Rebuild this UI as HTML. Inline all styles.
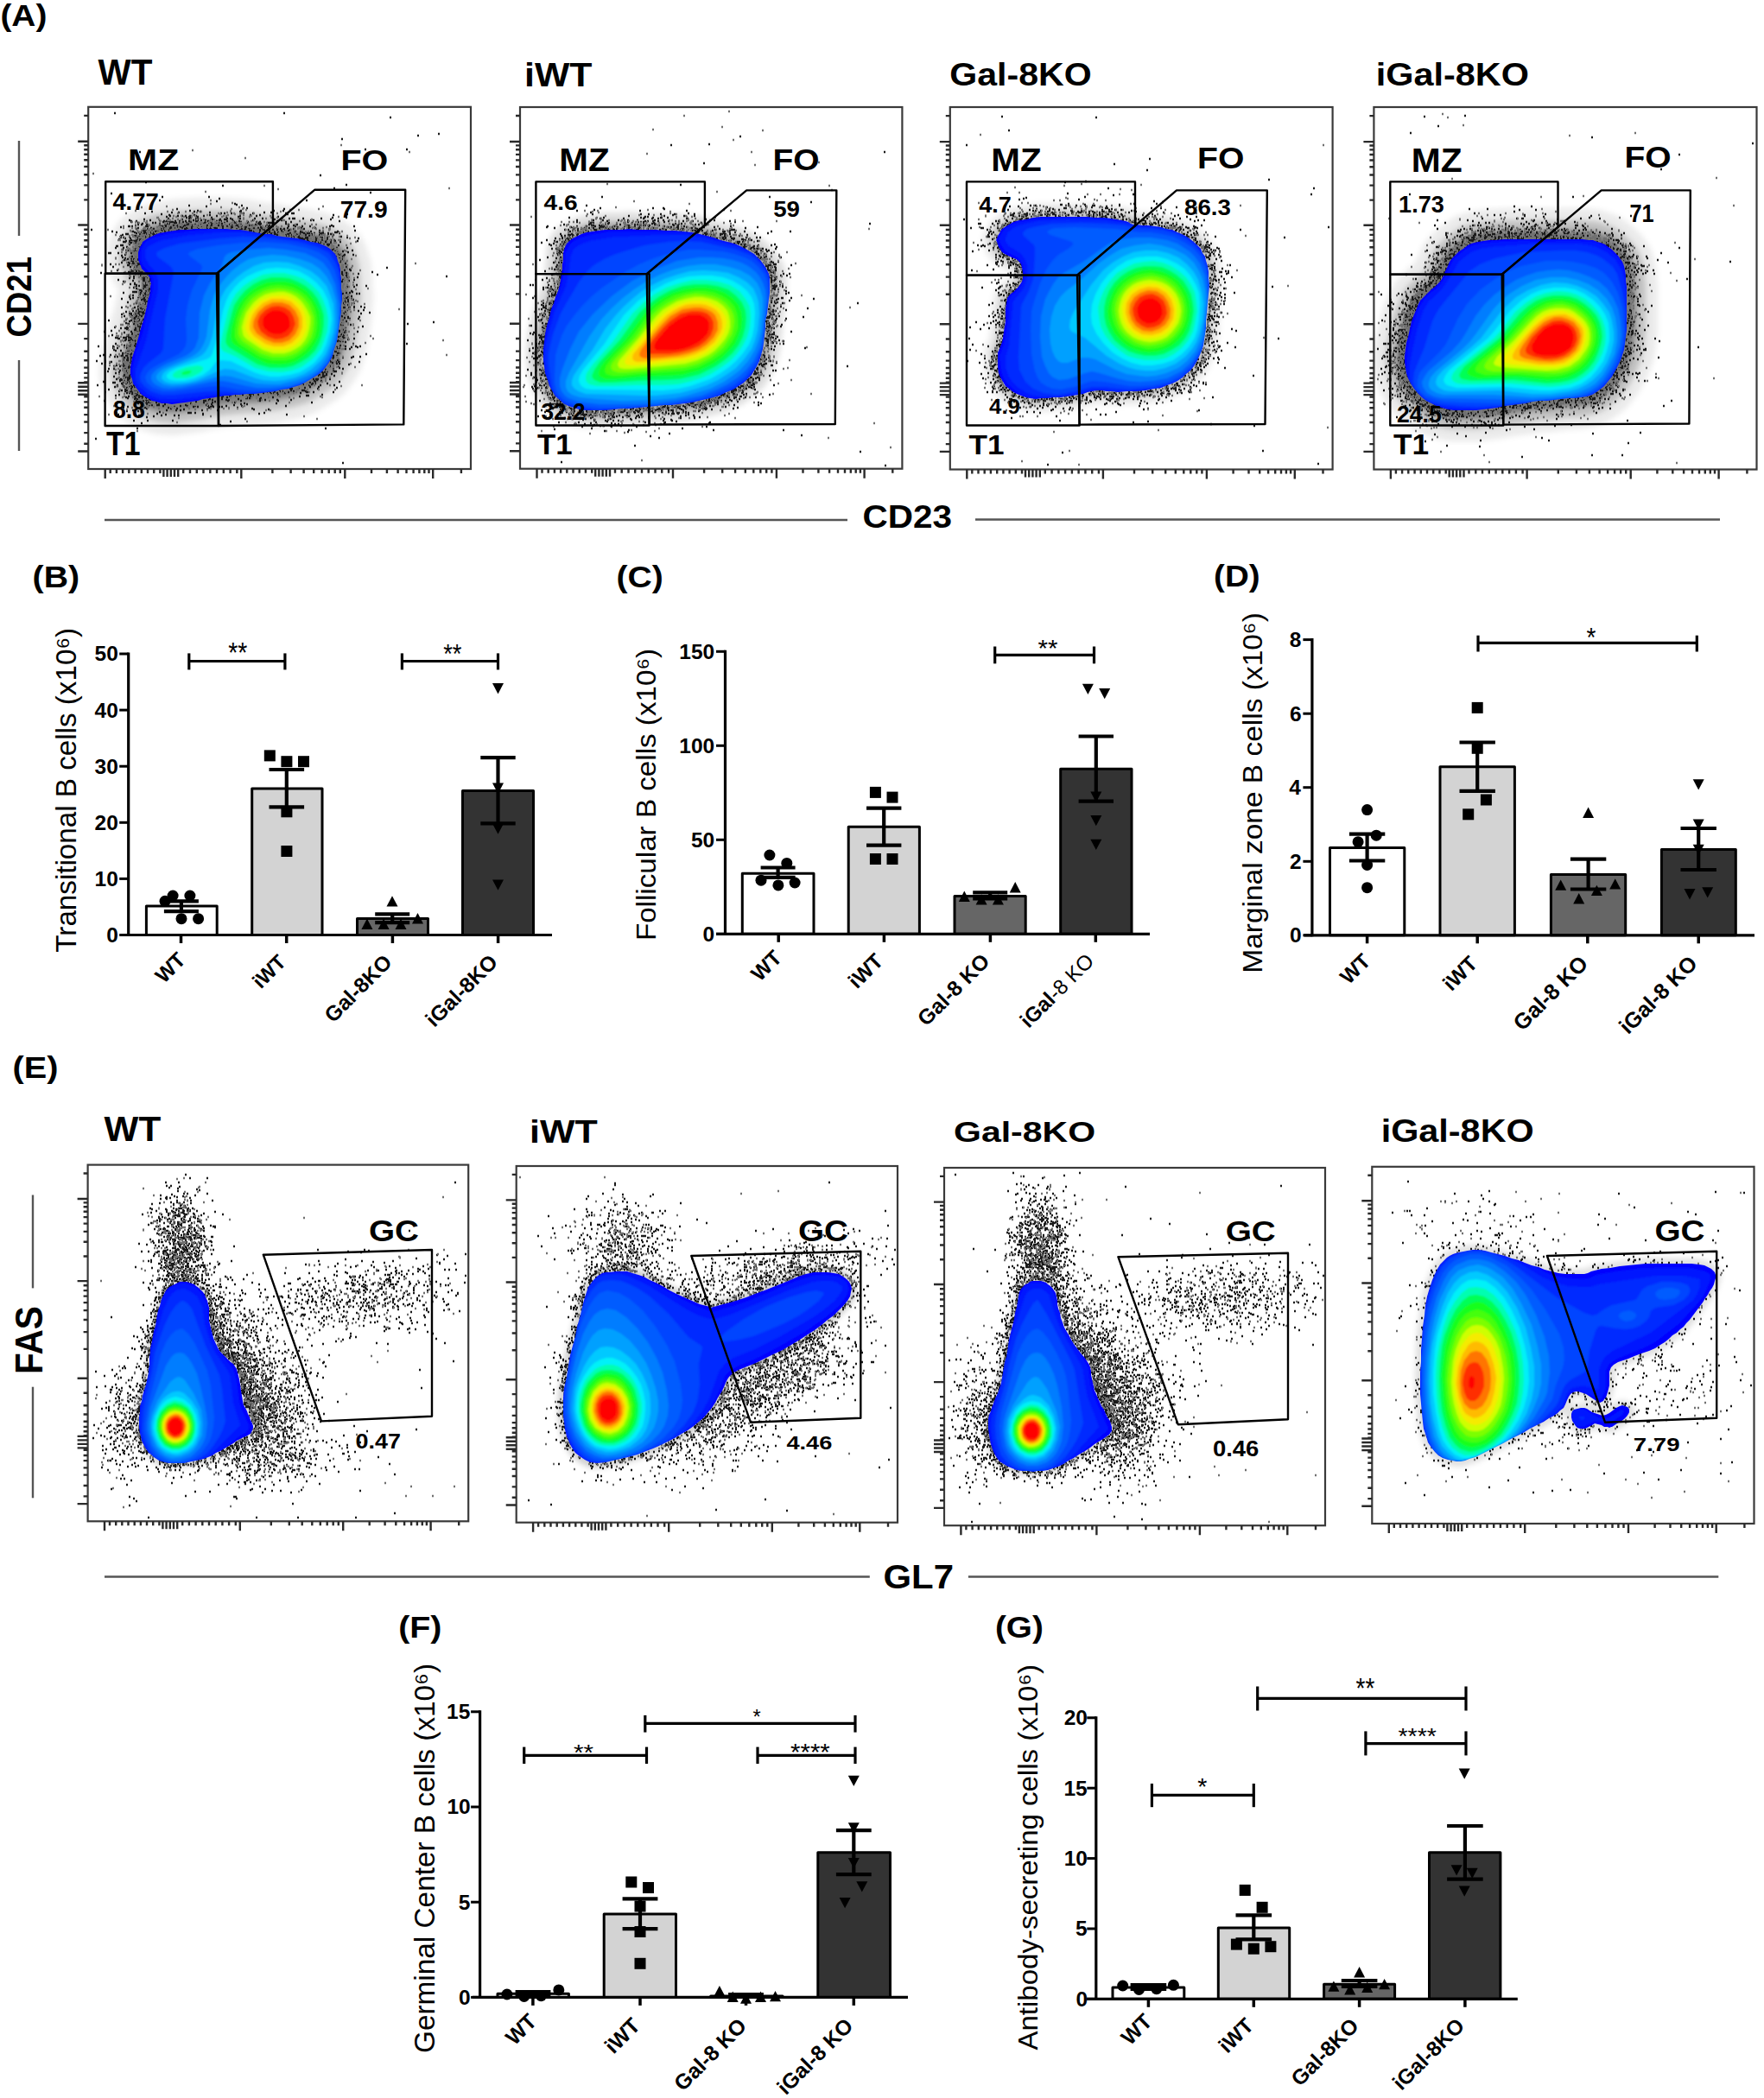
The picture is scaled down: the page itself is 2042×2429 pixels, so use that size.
<!DOCTYPE html>
<html><head><meta charset="utf-8"><title>Figure</title>
<style>html,body{margin:0;padding:0;background:#fff;}svg{display:block;}
text{font-family:"Liberation Sans",Arial,sans-serif;}</style></head>
<body><svg width="2042" height="2429" viewBox="0 0 2042 2429">
<rect width="2042" height="2429" fill="#fff"/>
<text x="0.4" y="30.0" font-size="35.47" font-family='"DejaVu Sans", Verdana, sans-serif' font-weight="bold" fill="#000" textLength="54.0" lengthAdjust="spacingAndGlyphs" >(A)</text>
<text x="37.6" y="680.3" font-size="34.79" font-family='"DejaVu Sans", Verdana, sans-serif' font-weight="bold" fill="#000" textLength="54.5" lengthAdjust="spacingAndGlyphs" >(B)</text>
<text x="713.5" y="680.3" font-size="34.68" font-family='"DejaVu Sans", Verdana, sans-serif' font-weight="bold" fill="#000" textLength="54.3" lengthAdjust="spacingAndGlyphs" >(C)</text>
<text x="1405.1" y="678.6" font-size="35.13" font-family='"DejaVu Sans", Verdana, sans-serif' font-weight="bold" fill="#000" textLength="53.5" lengthAdjust="spacingAndGlyphs" >(D)</text>
<text x="14.5" y="1248.3" font-size="34.79" font-family='"DejaVu Sans", Verdana, sans-serif' font-weight="bold" fill="#000" textLength="52.9" lengthAdjust="spacingAndGlyphs" >(E)</text>
<text x="461.2" y="1896.2" font-size="34.68" font-family='"DejaVu Sans", Verdana, sans-serif' font-weight="bold" fill="#000" textLength="50.3" lengthAdjust="spacingAndGlyphs" >(F)</text>
<text x="1151.9" y="1896.2" font-size="34.68" font-family='"DejaVu Sans", Verdana, sans-serif' font-weight="bold" fill="#000" textLength="55.9" lengthAdjust="spacingAndGlyphs" >(G)</text>
<defs><filter id="bl" x="-10%" y="-10%" width="120%" height="120%"><feGaussianBlur stdDeviation="1.3"/></filter><filter id="bl3" x="-20%" y="-20%" width="140%" height="140%"><feGaussianBlur stdDeviation="3"/></filter></defs>
<defs><path id="oA1" d="M161 289 162 286 164 283 165 280 168 278 171 276 175 274 179 272 184 270 190 269 195 268 202 267 209 266 217 266 226 265 236 265 245 265 254 265 262 265 271 266 278 266 284 267 290 268 295 269 301 270 307 271 314 271 320 273 327 274 335 275 344 276 353 278 360 280 367 281 372 283 377 285 382 288 385 291 388 294 390 298 391 302 393 307 394 312 394 317 395 322 395 328 395 334 396 340 396 347 395 354 395 361 394 368 393 375 392 382 391 388 390 395 388 401 386 407 385 412 383 416 380 421 377 425 373 430 368 434 363 437 358 440 353 443 347 446 340 448 334 450 326 451 319 453 311 454 303 455 294 456 286 456 278 457 272 457 266 458 261 458 255 459 249 460 242 461 235 462 229 464 221 465 214 466 206 467 199 468 193 467 187 467 181 465 176 464 171 461 167 459 163 456 160 452 157 448 154 444 153 439 151 434 151 429 151 425 152 420 153 414 155 408 157 402 159 395 161 388 163 380 166 371 168 363 170 355 171 348 173 342 174 337 174 332 175 328 174 326 174 323 173 321 171 318 169 316 166 313 164 311 163 308 162 306 161 303 160 301 160 298 160 295 160 292Z"/></defs>
<use href="#oA1" fill="none" stroke="#000" stroke-opacity="0.36" stroke-width="20" stroke-linejoin="round" filter="url(#bl3)"/>
<use href="#oA1" fill="none" stroke="#000" stroke-opacity="0.18" stroke-width="44" stroke-linejoin="round" filter="url(#bl3)"/>
<use href="#oA1" fill="none" stroke="#000" stroke-opacity="0.08" stroke-width="72" stroke-linejoin="round" filter="url(#bl3)"/>
<path d="M132 131h2m194 0h2m121 5h2m54 19h2m-26 2h2m-90 4h2m25 12h2m46 0h2m-311 3h2m-5 7h2m210 20h2m-204 8h2m230 3h2m-145 1h2m127 3h2m40 5h2m-302 1h2m57 4h2m52 0h2m10 2h2m-71 2h2m168 0h2m-106 1h2m19 3h2m0 1h2m-57 1h2m59 0h2m-43 1h2m45 2h2m-83 1h2m122 0h2m-111 2h2m7 0h2m48 0h2m36 0h2m9 0h2m-154 1h2m47 0h2m5 0h2m44 0h2m36 0h2m-119 1h2m6 0h2m34 0h2m34 0h2m25 0h2m6 0h2m-148 1h2m86 0h2m2 0h2m6 0h2m12 0h2m9 0h2m36 0h2m5 0h2m0 0h2m-155 1h2m144 0h2m67 0h2m-208 1h2m27 0h2m-2 0h2m16 0h2m45 0h2m9 0h2m83 0h2m-191 1h2m7 0h2m3 0h2m2 0h2m3 0h2m5 0h2m7 0h2m13 0h2m25 0h2m17 0h2m-106 1h2m24 0h2m8 0h2m31 0h2m12 0h2m44 0h2m-108 1h2m3 0h2m6 0h2m14 0h2m138 0h2m14 0h2m-208 1h2m22 0h2m6 0h2m0 0h2m32 0h2m2 0h2m9 0h2m2 0h2m11 0h2m7 0h2m-2 0h2m10 0h2m17 0h2m2 0h2m-2 0h2m0 0h2m8 0h2m19 0h2m-207 1h2m42 0h2m14 0h2m17 0h2m7 0h2m3 0h2m0 0h2m5 0h2m47 0h2m63 0h2m-235 1h2m22 0h2m48 0h2m3 0h2m2 0h2m3 0h2m14 0h2m37 0h2m31 0h2m32 0h2m1 0h2m-213 1h2m4 0h2m25 0h2m3 0h2m1 0h2m-2 0h2m8 0h2m3 0h2m5 0h2m2 0h2m6 0h2m-1 0h2m11 0h2m-2 0h2m8 0h2m3 0h2m5 0h2m5 0h2m5 0h2m42 0h2m70 0h2m-243 1h2m16 0h2m17 0h2m0 0h2m2 0h2m0 0h2m-1 0h2m0 0h2m10 0h2m7 0h2m15 0h2m11 0h2m18 0h2m6 0h2m6 0h2m8 0h2m2 0h2m14 0h2m12 0h2m4 0h2m-179 1h2m15 0h2m1 0h2m3 0h2m15 0h2m-1 0h2m-1 0h2m2 0h2m6 0h2m13 0h2m4 0h2m3 0h2m0 0h2m0 0h2m6 0h2m4 0h2m11 0h2m12 0h2m11 0h2m8 0h2m-1 0h2m0 0h2m-1 0h2m-151 1h2m27 0h2m0 0h2m21 0h2m9 0h2m0 0h2m2 0h2m13 0h2m4 0h2m13 0h2m4 0h2m8 0h2m9 0h2m1 0h2m27 0h2m-173 1h2m2 0h2m-2 0h2m4 0h2m44 0h2m0 0h2m6 0h2m3 0h2m12 0h2m4 0h2m-2 0h2m13 0h2m1 0h2m6 0h2m0 0h2m15 0h2m3 0h2m-2 0h2m31 0h2m8 0h2m-189 1h2m26 0h2m4 0h2m-1 0h2m6 0h2m-1 0h2m3 0h2m-1 0h2m5 0h2m7 0h2m-2 0h2m-2 0h2m15 0h2m2 0h2m0 0h2m-1 0h2m4 0h2m11 0h2m-2 0h2m-2 0h2m5 0h2m0 0h2m12 0h2m1 0h2m15 0h2m1 0h2m26 0h2m42 0h2m-237 1h2m-1 0h2m1 0h2m14 0h2m0 0h2m13 0h2m0 0h2m2 0h2m8 0h2m0 0h2m6 0h2m9 0h2m-2 0h2m5 0h2m-2 0h2m4 0h2m1 0h2m-2 0h2m14 0h2m0 0h2m-1 0h2m3 0h2m2 0h2m4 0h2m1 0h2m2 0h2m-2 0h2m7 0h2m17 0h2m1 0h2m2 0h2m-1 0h2m16 0h2m6 0h2m6 0h2m7 0h2m21 0h2m2 0h2m22 0h2m-272 1h2m48 0h2m5 0h2m0 0h2m4 0h2m2 0h2m11 0h2m-2 0h2m0 0h2m-1 0h2m-1 0h2m6 0h2m3 0h2m6 0h2m-2 0h2m20 0h2m13 0h2m-1 0h2m2 0h2m1 0h2m-2 0h2m8 0h2m-144 1h2m5 0h2m6 0h2m10 0h2m7 0h2m-1 0h2m-1 0h2m3 0h2m-2 0h2m-2 0h2m-1 0h2m1 0h2m2 0h2m3 0h2m0 0h2m-1 0h2m1 0h2m2 0h2m0 0h2m-2 0h2m0 0h2m1 0h2m5 0h2m1 0h2m4 0h2m-1 0h2m-1 0h2m5 0h2m-2 0h2m4 0h2m-1 0h2m-2 0h2m0 0h2m-2 0h2m5 0h2m1 0h2m-1 0h2m4 0h2m3 0h2m3 0h2m3 0h2m2 0h2m5 0h2m10 0h2m9 0h2m10 0h2m1 0h2m-1 0h2m14 0h2m-209 1h2m11 0h2m-2 0h2m2 0h2m1 0h2m-2 0h2m10 0h2m3 0h2m10 0h2m-1 0h2m4 0h2m-1 0h2m7 0h2m7 0h2m2 0h2m5 0h2m31 0h2m1 0h2m-2 0h2m1 0h2m0 0h2m1 0h2m22 0h2m7 0h2m2 0h2m2 0h2m9 0h2m10 0h2m28 0h2m-278 1h2m65 0h2m-2 0h2m1 0h2m14 0h2m11 0h2m-2 0h2m-2 0h2m0 0h2m0 0h2m67 0h2m19 0h2m0 0h2m1 0h2m-1 0h2m-1 0h2m8 0h2m3 0h2m5 0h2m-1 0h2m5 0h2m43 0h2m-217 1h2m-1 0h2m-1 0h2m0 0h2m1 0h2m2 0h2m-2 0h2m4 0h2m0 0h2m-1 0h2m-1 0h2m2 0h2m1 0h2m0 0h2m-1 0h2m-1 0h2m4 0h2m83 0h2m-1 0h2m-1 0h2m-2 0h2m8 0h2m-2 0h2m1 0h2m0 0h2m1 0h2m15 0h2m6 0h2m34 0h2m39 0h2m-283 1h2m22 0h2m8 0h2m2 0h2m0 0h2m-1 0h2m7 0h2m0 0h2m0 0h2m1 0h2m-1 0h2m1 0h2m-1 0h2m100 0h2m-1 0h2m15 0h2m0 0h2m1 0h2m8 0h2m-1 0h2m12 0h2m-2 0h2m4 0h2m10 0h2m29 0h2m-258 1h2m19 0h2m3 0h2m1 0h2m-2 0h2m0 0h2m1 0h2m3 0h2m-1 0h2m0 0h2m1 0h2m3 0h2m-2 0h2m1 0h2m110 0h2m-2 0h2m2 0h2m0 0h2m1 0h2m0 0h2m0 0h2m-1 0h2m-2 0h2m-2 0h2m2 0h2m2 0h2m8 0h2m8 0h2m-1 0h2m3 0h2m0 0h2m2 0h2m14 0h2m2 0h2m12 0h2m0 0h2m-234 1h2m6 0h2m-1 0h2m4 0h2m-1 0h2m-2 0h2m-2 0h2m-2 0h2m1 0h2m1 0h2m-1 0h2m2 0h2m0 0h2m116 0h2m8 0h2m1 0h2m16 0h2m-2 0h2m10 0h2m2 0h2m-1 0h2m1 0h2m0 0h2m4 0h2m-2 0h2m5 0h2m0 0h2m5 0h2m11 0h2m-249 1h2m0 0h2m12 0h2m6 0h2m0 0h2m-1 0h2m-1 0h2m0 0h2m-1 0h2m0 0h2m-1 0h2m128 0h2m2 0h2m1 0h2m0 0h2m10 0h2m0 0h2m-1 0h2m7 0h2m2 0h2m12 0h2m11 0h2m-2 0h2m4 0h2m1 0h2m-1 0h2m-244 1h2m29 0h2m-2 0h2m-2 0h2m-1 0h2m-2 0h2m-2 0h2m1 0h2m-2 0h2m142 0h2m12 0h2m0 0h2m5 0h2m1 0h2m5 0h2m4 0h2m-1 0h2m7 0h2m1 0h2m1 0h2m8 0h2m-248 1h2m13 0h2m0 0h2m7 0h2m-2 0h2m2 0h2m4 0h2m154 0h2m0 0h2m6 0h2m14 0h2m-210 1h2m9 0h2m0 0h2m2 0h2m0 0h2m-2 0h2m-1 0h2m1 0h2m165 0h2m3 0h2m-1 0h2m-2 0h2m23 0h2m0 0h2m4 0h2m4 0h2m8 0h2m-257 1h2m1 0h2m14 0h2m1 0h2m0 0h2m-2 0h2m0 0h2m2 0h2m166 0h2m0 0h2m4 0h2m-1 0h2m5 0h2m0 0h2m7 0h2m-2 0h2m-2 0h2m0 0h2m4 0h2m-2 0h2m27 0h2m-259 1h2m4 0h2m11 0h2m-1 0h2m-1 0h2m-1 0h2m-1 0h2m0 0h2m175 0h2m0 0h2m-1 0h2m2 0h2m-2 0h2m-2 0h2m-1 0h2m0 0h2m-2 0h2m-1 0h2m19 0h2m34 0h2m-279 1h2m18 0h2m-1 0h2m-2 0h2m1 0h2m-1 0h2m2 0h2m181 0h2m0 0h2m-2 0h2m5 0h2m-1 0h2m4 0h2m-2 0h2m-216 1h2m5 0h2m1 0h2m192 0h2m0 0h2m3 0h2m1 0h2m0 0h2m3 0h2m4 0h2m2 0h2m2 0h2m-243 1h2m2 0h2m2 0h2m-1 0h2m-1 0h2m-1 0h2m-1 0h2m6 0h2m-2 0h2m190 0h2m2 0h2m14 0h2m8 0h2m24 0h2m-273 1h2m0 0h2m11 0h2m6 0h2m197 0h2m4 0h2m1 0h2m0 0h2m-1 0h2m4 0h2m9 0h2m-246 1h2m0 0h2m215 0h2m0 0h2m2 0h2m6 0h2m-228 1h2m0 0h2m4 0h2m208 0h2m-227 1h2m9 0h2m0 0h2m-2 0h2m214 0h2m0 0h2m-243 1h2m0 0h2m15 0h2m-2 0h2m0 0h2m217 0h2m10 0h2m-259 1h2m-1 0h2m25 0h2m-2 0h2m-18 1h2m12 0h2m0 0h2m221 0h2m-2 0h2m-254 1h2m7 0h2m-2 0h2m16 0h2m-1 0h2m220 0h2m4 0h2m10 0h2m-247 1h2m1 0h2m0 0h2m222 0h2m-246 1h2m11 0h2m-1 0h2m-1 0h2m-2 0h2m-2 0h2m0 0h2m224 0h2m-241 1h2m0 0h2m6 0h2m1 0h2m-2 0h2m1 0h2m244 0h2m-256 1h2m2 0h2m-2 0h2m228 0h2m7 0h2m-253 1h2m12 0h2m-1 0h2m225 0h2m1 0h2m10 0h2m-279 1h2m0 0h2m7 0h2m13 0h2m1 0h2m3 0h2m229 0h2m-235 1h2m230 0h2m-1 0h2m-248 1h2m11 0h2m234 0h2m-1 0h2m2 0h2m8 0h2m-270 1h2m15 0h2m-1 0h2m229 0h2m1 0h2m3 0h2m-247 1h2m5 0h2m235 0h2m-257 1h2m249 0h2m-261 1h2m9 0h2m10 0h2m-1 0h2m-1 0h2m-1 0h2m-2 0h2m-1 0h2m-15 1h2m2 0h2m1 0h2m4 0h2m233 0h2m-254 1h2m6 0h2m3 0h2m-1 0h2m-1 0h2m-9 1h2m2 0h2m0 0h2m-1 0h2m-1 0h2m232 0h2m-242 1h2m-1 0h2m237 0h2m-255 1h2m6 0h2m3 0h2m3 0h2m-1 0h2m-1 0h2m-13 1h2m3 0h2m-2 0h2m243 0h2m-274 1h2m23 0h2m5 0h2m-1 0h2m-45 1h2m28 0h2m-1 0h2m5 0h2m-2 0h2m-1 0h2m-1 0h2m-1 0h2m-2 0h2m1 0h2m-5 1h2m236 0h2m-268 1h2m18 0h2m11 0h2m-2 0h2m235 0h2m-247 1h2m-1 0h2m-2 0h2m0 0h2m-1 0h2m1 0h2m231 0h2m50 0h2m-291 1h2m-1 0h2m-1 0h2m-2 0h2m-1 0h2m-1 0h2m-1 0h2m-2 0h2m-1 0h2m-11 1h2m247 0h2m-271 1h2m14 0h2m245 0h2m5 0h2m-256 1h2m0 0h2m2 0h2m1 0h2m2 0h2m0 0h2m-20 1h2m0 0h2m9 0h2m0 0h2m-1 0h2m0 0h2m227 0h2m33 0h2m-316 1h2m25 0h2m10 0h2m6 0h2m-1 0h2m-2 0h2m1 0h2m-2 0h2m-1 0h2m-2 0h2m230 0h2m-243 1h2m1 0h2m5 0h2m-2 0h2m224 0h2m4 0h2m-2 0h2m11 0h2m-254 1h2m5 0h2m-2 0h2m-2 0h2m-1 0h2m224 0h2m38 0h2m-276 1h2m1 0h2m-2 0h2m1 0h2m-2 0h2m0 0h2m228 0h2m-252 1h2m2 0h2m12 0h2m-2 0h2m-1 0h2m345 0h2m-353 1h2m2 0h2m-2 0h2m230 0h2m10 0h2m-266 1h2m3 0h2m8 0h2m-1 0h2m-1 0h2m5 1h2m223 0h2m-264 1h2m27 0h2m0 0h2m1 0h2m224 0h2m11 0h2m-258 1h2m-2 0h2m10 0h2m-1 0h2m4 0h2m0 0h2m227 0h2m-263 1h2m24 0h2m1 0h2m222 0h2m-229 1h2m-15 1h2m16 0h2m-1 0h2m-26 1h2m3 0h2m11 0h2m-13 1h2m6 0h2m2 0h2m-2 0h2m241 0h2m-257 1h2m1 0h2m5 0h2m3 0h2m249 0h2m-259 1h2m-1 0h2m2 0h2m228 0h2m6 0h2m-257 1h2m9 0h2m4 0h2m0 0h2m-18 1h2m6 0h2m2 0h2m0 0h2m0 0h2m-7 1h2m1 0h2m-1 0h2m-13 1h2m-1 0h2m4 0h2m1 0h2m-1 0h2m-11 1h2m4 0h2m-2 0h2m0 0h2m233 0h2m-255 1h2m0 0h2m0 0h2m10 0h2m236 0h2m-267 1h2m17 0h2m-1 0h2m4 0h2m-1 0h2m0 0h2m-1 0h2m226 0h2m2 0h2m-245 1h2m2 0h2m0 0h2m0 0h2m-1 0h2m224 0h2m14 0h2m1 0h2m-256 1h2m5 0h2m-1 0h2m0 0h2m-23 1h2m1 0h2m10 0h2m-18 1h2m255 0h2m-259 1h2m17 0h2m228 0h2m2 0h2m-251 1h2m4 0h2m5 0h2m0 0h2m-2 0h2m0 0h2m228 0h2m-262 1h2m8 0h2m13 0h2m2 0h2m0 0h2m-2 0h2m-2 0h2m224 0h2m7 0h2m-245 1h2m1 0h2m-2 0h2m-1 0h2m-2 0h2m-1 0h2m232 0h2m4 0h2m-241 1h2m227 0h2m-234 1h2m1 0h2m-1 0h2m226 0h2m2 0h2m-257 1h2m17 0h2m-1 0h2m1 0h2m226 0h2m-1 0h2m-244 1h2m6 0h2m230 0h2m-2 0h2m-2 0h2m10 0h2m-251 1h2m-1 0h2m-2 0h2m3 0h2m-1 0h2m0 0h2m-2 0h2m-2 0h2m-1 0h2m226 0h2m3 0h2m-238 1h2m233 0h2m-241 1h2m-1 0h2m-7 1h2m6 0h2m-1 0h2m-2 0h2m239 0h2m6 0h2m-279 1h2m13 0h2m-2 0h2m11 0h2m227 0h2m-1 0h2m3 0h2m-1 0h2m-2 0h2m3 0h2m10 0h2m-261 1h2m2 0h2m-1 0h2m235 0h2m-247 1h2m2 0h2m-1 0h2m-4 1h2m3 0h2m232 0h2m17 0h2m-269 1h2m2 0h2m0 0h2m5 0h2m-2 0h2m246 0h2m-271 1h2m13 0h2m0 0h2m1 0h2m-1 0h2m-2 0h2m0 0h2m225 0h2m2 0h2m-238 1h2m0 0h2m-1 0h2m-1 0h2m-2 0h2m258 0h2m-280 1h2m0 0h2m3 0h2m-2 0h2m1 0h2m1 0h2m233 0h2m18 0h2m-279 1h2m7 0h2m0 0h2m3 0h2m2 0h2m3 0h2m-8 1h2m5 0h2m-25 1h2m7 0h2m3 0h2m1 0h2m0 0h2m-1 0h2m-2 0h2m230 0h2m-241 1h2m8 0h2m234 0h2m11 0h2m-265 1h2m0 0h2m242 0h2m2 0h2m-249 1h2m1 0h2m-1 0h2m234 0h2m7 0h2m8 0h2m-271 1h2m11 0h2m0 0h2m3 0h2m-1 0h2m227 0h2m-272 1h2m24 0h2m7 0h2m-2 0h2m-1 0h2m-2 0h2m-2 0h2m233 0h2m-249 1h2m4 0h2m4 0h2m0 0h2m235 0h2m-244 1h2m2 0h2m0 0h2m229 0h2m104 0h2m-358 1h2m-2 0h2m10 0h2m-1 0h2m-1 0h2m-2 0h2m-14 1h2m-1 0h2m4 0h2m5 0h2m-1 0h2m0 0h2m236 0h2m67 0h2m-317 1h2m1 0h2m3 0h2m228 0h2m0 0h2m7 0h2m1 0h2m-251 1h2m-1 1h2m-1 0h2m256 0h2m-289 1h2m12 0h2m11 0h2m-1 0h2m-1 0h2m-24 1h2m3 0h2m0 0h2m-1 0h2m7 0h2m1 0h2m0 0h2m236 0h2m-255 1h2m8 0h2m2 0h2m0 0h2m-9 1h2m-1 0h2m-2 0h2m1 0h2m-1 0h2m0 0h2m232 0h2m-270 1h2m28 0h2m232 0h2m5 0h2m-281 1h2m29 0h2m5 0h2m1 0h2m-2 0h2m229 0h2m2 0h2m1 0h2m-1 0h2m11 0h2m-272 1h2m14 0h2m237 0h2m-248 1h2m-2 1h2m240 0h2m2 0h2m-271 1h2m17 0h2m9 0h2m236 0h2m-253 1h2m0 0h2m7 0h2m-1 0h2m-6 1h2m-2 0h2m-1 0h2m3 0h2m-2 0h2m229 0h2m0 0h2m1 0h2m-265 1h2m0 0h2m5 0h2m0 0h2m-1 0h2m1 0h2m0 0h2m2 0h2m-2 0h2m0 0h2m239 0h2m-263 1h2m-1 0h2m12 0h2m2 0h2m245 0h2m5 0h2m-266 1h2m4 0h2m3 0h2m-2 0h2m0 0h2m-1 0h2m241 0h2m-260 1h2m2 0h2m0 0h2m0 0h2m2 0h2m0 0h2m231 0h2m-254 1h2m10 0h2m0 0h2m0 0h2m2 0h2m229 0h2m1 0h2m1 0h2m-244 1h2m2 0h2m239 0h2m-251 1h2m6 0h2m-27 1h2m14 0h2m-1 0h2m3 0h2m-2 0h2m-1 0h2m250 0h2m60 0h2m-329 2h2m1 0h2m7 0h2m-2 0h2m236 0h2m-282 1h2m15 0h2m15 0h2m-1 0h2m-1 0h2m-1 0h2m4 0h2m241 0h2m10 0h2m3 0h2m-287 1h2m16 0h2m238 0h2m15 0h2m5 0h2m-285 1h2m3 0h2m9 0h2m242 0h2m-2 0h2m0 0h2m-245 1h2m248 0h2m3 0h2m-275 1h2m17 0h2m239 0h2m-260 1h2m4 0h2m10 0h2m-6 1h2m-1 0h2m2 0h2m0 0h2m231 0h2m-1 0h2m-245 1h2m-2 0h2m1 0h2m2 0h2m-13 1h2m4 0h2m4 0h2m-1 0h2m234 0h2m-1 0h2m-242 1h2m270 0h2m-306 1h2m6 0h2m12 0h2m-2 0h2m7 0h2m-1 0h2m0 0h2m-40 1h2m23 0h2m3 0h2m-1 0h2m0 0h2m1 0h2m-1 0h2m231 0h2m2 0h2m-259 1h2m1 0h2m4 0h2m3 0h2m2 0h2m1 0h2m253 0h2m6 0h2m-276 1h2m-2 0h2m-1 0h2m0 0h2m-1 0h2m0 0h2m2 0h2m231 0h2m-2 0h2m9 0h2m8 0h2m-260 1h2m0 0h2m232 0h2m-244 1h2m3 0h2m0 0h2m-9 1h2m2 0h2m-1 0h2m1 0h2m238 0h2m-281 1h2m8 0h2m18 0h2m8 0h2m-2 0h2m-2 0h2m229 0h2m8 0h2m-2 0h2m-273 1h2m5 0h2m252 0h2m4 0h2m1 0h2m22 0h2m-291 1h2m16 0h2m0 0h2m-1 0h2m0 0h2m233 0h2m-269 1h2m23 0h2m5 0h2m0 0h2m236 0h2m1 0h2m-2 0h2m-251 1h2m4 0h2m252 0h2m-271 1h2m7 0h2m4 0h2m-20 1h2m5 0h2m2 0h2m7 0h2m228 0h2m8 0h2m-245 1h2m-1 0h2m-1 0h2m-3 1h2m-2 0h2m-2 0h2m234 0h2m5 0h2m-269 1h2m4 0h2m11 0h2m2 0h2m-1 0h2m245 0h2m-257 1h2m0 0h2m-1 0h2m230 0h2m-240 1h2m6 0h2m237 0h2m-263 1h2m20 0h2m0 0h2m-1 0h2m227 0h2m6 0h2m0 0h2m-253 1h2m8 0h2m-2 0h2m1 0h2m220 0h2m1 0h2m-244 1h2m9 0h2m-1 0h2m1 0h2m-2 0h2m-1 0h2m0 0h2m221 0h2m19 0h2m-249 1h2m-2 0h2m-2 0h2m0 0h2m219 0h2m-1 0h2m3 0h2m4 0h2m-242 1h2m1 0h2m2 0h2m217 0h2m-1 0h2m1 0h2m2 0h2m-231 1h2m-1 0h2m0 0h2m215 0h2m0 0h2m3 0h2m9 0h2m-257 1h2m9 0h2m-1 0h2m1 0h2m224 0h2m0 0h2m-233 1h2m-1 0h2m2 0h2m-1 0h2m-2 0h2m-1 0h2m0 0h2m217 0h2m-226 1h2m0 0h2m0 0h2m-2 0h2m-2 0h2m-1 0h2m227 0h2m-249 1h2m3 0h2m7 0h2m-2 0h2m212 0h2m1 0h2m0 0h2m12 0h2m-245 1h2m0 0h2m1 0h2m2 0h2m217 0h2m-230 1h2m223 0h2m6 0h2m-254 1h2m28 0h2m-2 0h2m0 0h2m211 0h2m26 0h2m-264 1h2m0 0h2m8 0h2m2 0h2m2 0h2m206 0h2m-220 1h2m3 0h2m3 0h2m-2 0h2m205 0h2m2 0h2m1 0h2m12 0h2m-30 1h2m7 0h2m-1 0h2m1 0h2m-253 1h2m21 0h2m4 0h2m6 0h2m0 0h2m-2 0h2m1 0h2m-1 0h2m200 0h2m11 0h2m14 0h2m-254 1h2m-1 0h2m5 0h2m5 0h2m-19 1h2m9 0h2m7 0h2m-2 0h2m1 0h2m-1 0h2m200 0h2m8 0h2m-224 1h2m188 0h2m7 0h2m5 0h2m35 0h2m-240 1h2m182 0h2m0 0h2m28 0h2m-244 1h2m17 0h2m10 0h2m-2 0h2m-1 0h2m-1 0h2m-20 1h2m4 0h2m9 0h2m177 0h2m11 0h2m0 0h2m-216 1h2m5 0h2m5 0h2m2 0h2m166 0h2m1 0h2m11 0h2m12 0h2m-206 1h2m1 0h2m-1 0h2m0 0h2m-1 0h2m-1 0h2m0 0h2m-1 0h2m-1 0h2m146 0h2m0 0h2m4 0h2m14 0h2m19 0h2m-1 0h2m5 0h2m21 0h2m-241 1h2m1 0h2m5 0h2m3 0h2m141 0h2m7 0h2m1 0h2m2 0h2m7 0h2m16 0h2m-197 1h2m8 0h2m-27 1h2m16 0h2m1 0h2m-1 0h2m0 0h2m-1 0h2m116 0h2m6 0h2m0 0h2m0 0h2m4 0h2m21 0h2m49 0h2m-241 1h2m22 0h2m1 0h2m-1 0h2m109 0h2m12 0h2m66 0h2m0 0h2m-210 1h2m5 0h2m4 0h2m-2 0h2m-1 0h2m0 0h2m91 0h2m-2 0h2m6 0h2m-1 0h2m17 0h2m2 0h2m55 0h2m-203 1h2m12 0h2m-1 0h2m-2 0h2m3 0h2m1 0h2m86 0h2m4 0h2m51 0h2m-170 1h2m7 0h2m-1 0h2m5 0h2m3 0h2m-1 0h2m-2 0h2m112 0h2m-1 0h2m1 0h2m11 0h2m-148 1h2m1 0h2m11 0h2m69 0h2m12 0h2m17 0h2m23 0h2m-137 1h2m3 0h2m1 0h2m65 0h2m3 0h2m14 0h2m1 0h2m40 0h2m12 0h2m14 0h2m-218 1h2m35 0h2m6 0h2m1 0h2m65 0h2m0 0h2m24 0h2m13 0h2m20 0h2m19 0h2m-163 1h2m1 0h2m61 0h2m20 0h2m-115 1h2m25 0h2m4 0h2m1 0h2m1 0h2m4 0h2m53 0h2m8 0h2m24 0h2m87 0h2m-203 1h2m3 0h2m-1 0h2m3 0h2m0 0h2m1 0h2m43 0h2m60 0h2m35 0h2m-180 1h2m26 0h2m-1 0h2m11 0h2m5 0h2m47 0h2m-2 0h2m3 0h2m32 0h2m5 0h2m-115 1h2m1 0h2m4 0h2m0 0h2m29 0h2m22 0h2m30 0h2m-84 1h2m18 0h2m-2 0h2m6 0h2m-2 0h2m7 0h2m13 0h2m3 0h2m14 0h2m16 0h2m49 0h2m-185 1h2m52 0h2m20 0h2m3 0h2m13 0h2m1 0h2m5 0h2m1 0h2m-116 1h2m18 0h2m3 0h2m25 0h2m45 0h2m31 0h2m-107 1h2m26 0h2m5 0h2m85 0h2m-81 1h2m25 0h2m52 0h2m15 0h2m-159 1h2m37 0h2m9 0h2m3 0h2m23 0h2m16 0h2m-107 1h2m11 0h2m1 0h2m20 1h2m-52 1h2m81 0h2m-1 0h2m0 0h2m3 0h2m78 0h2m-126 1h2m51 0h2m63 0h2m-165 1h2m53 0h2m41 0h2m95 0h2m-173 1h2m0 0h2m22 0h2m13 0h2m3 0h2m-31 1h2m-10 1h2m112 2h2m-131 2h2m14 0h2m27 0h2m51 1h2m12 0h2m-105 2h2m89 2h2m-98 4h2m216 0h2m-226 7h2m-44 5h2m284 28h2" stroke="#1a1a1a" stroke-width="2.5" fill="none"/><path d="M394 168h2m-174 6h2m249 2h2m-278 5h2m84 2h2m-178 18h2m196 14h2m212 3h2m-200 1h2m-86 3h2m4 10h2m23 3h2m-27 1h2m55 2h2m-110 1h2m179 0h2m-212 1h2m90 0h2m19 0h2m3 1h2m-16 1h2m11 0h2m86 0h2m-171 1h2m83 0h2m49 0h2m8 0h2m-191 1h2m108 0h2m-75 1h2m19 0h2m16 0h2m32 0h2m56 0h2m-99 1h2m33 0h2m-119 1h2m58 0h2m15 0h2m28 0h2m16 0h2m6 0h2m0 0h2m11 0h2m25 0h2m-68 1h2m15 0h2m4 0h2m-40 1h2m22 0h2m16 0h2m-83 1h2m7 0h2m10 0h2m2 0h2m31 0h2m1 0h2m27 0h2m20 0h2m-111 1h2m7 0h2m7 0h2m-2 0h2m33 0h2m30 0h2m101 0h2m-212 1h2m-1 0h2m129 0h2m5 0h2m-123 1h2m30 0h2m42 0h2m4 0h2m24 0h2m16 0h2m-144 1h2m8 0h2m10 0h2m2 0h2m16 0h2m6 0h2m6 0h2m2 0h2m77 0h2m32 0h2m-169 1h2m1 0h2m22 0h2m71 0h2m32 0h2m-1 0h2m-164 1h2m1 0h2m14 0h2m51 0h2m2 0h2m41 0h2m3 0h2m24 0h2m28 0h2m-2 0h2m-196 1h2m2 0h2m11 0h2m13 0h2m22 0h2m-2 0h2m20 0h2m9 0h2m2 0h2m1 0h2m0 0h2m2 0h2m-2 0h2m13 0h2m2 0h2m22 0h2m6 0h2m-147 1h2m6 0h2m20 0h2m2 0h2m12 0h2m21 0h2m0 0h2m32 0h2m9 0h2m28 0h2m-101 1h2m3 0h2m3 0h2m8 0h2m2 0h2m7 0h2m4 0h2m4 0h2m3 0h2m7 0h2m-2 0h2m6 0h2m6 0h2m1 0h2m63 0h2m-198 1h2m13 0h2m33 0h2m-2 0h2m2 0h2m7 0h2m-1 0h2m8 0h2m3 0h2m-1 0h2m-2 0h2m4 0h2m2 0h2m-1 0h2m0 0h2m-2 0h2m-1 0h2m8 0h2m4 0h2m3 0h2m59 0h2m7 0h2m17 0h2m3 0h2m-195 1h2m20 0h2m-2 0h2m2 0h2m6 0h2m2 0h2m11 0h2m0 0h2m0 0h2m8 0h2m15 0h2m20 0h2m0 0h2m6 0h2m4 0h2m-1 0h2m2 0h2m-157 1h2m39 0h2m-1 0h2m3 0h2m4 0h2m5 0h2m13 0h2m-1 0h2m-1 0h2m3 0h2m4 0h2m2 0h2m0 0h2m8 0h2m-2 0h2m2 0h2m13 0h2m25 0h2m-2 0h2m0 0h2m7 0h2m3 0h2m9 0h2m4 0h2m-146 1h2m-2 0h2m3 0h2m6 0h2m3 0h2m-1 0h2m1 0h2m12 0h2m-1 0h2m4 0h2m-2 0h2m-1 0h2m2 0h2m3 0h2m-1 0h2m0 0h2m1 0h2m-1 0h2m2 0h2m7 0h2m-1 0h2m14 0h2m0 0h2m5 0h2m-2 0h2m6 0h2m1 0h2m53 0h2m15 0h2m12 0h2m-237 1h2m-2 0h2m8 0h2m2 0h2m8 0h2m-1 0h2m25 0h2m3 0h2m5 0h2m15 0h2m0 0h2m-1 0h2m4 0h2m28 0h2m0 0h2m-2 0h2m-1 0h2m10 0h2m2 0h2m21 0h2m0 0h2m13 0h2m21 0h2m-1 0h2m14 0h2m10 0h2m-210 1h2m0 0h2m2 0h2m2 0h2m13 0h2m-1 0h2m6 0h2m2 0h2m-1 0h2m2 0h2m8 0h2m-1 0h2m3 0h2m1 0h2m7 0h2m25 0h2m0 0h2m8 0h2m8 0h2m8 0h2m-1 0h2m11 0h2m-1 0h2m28 0h2m5 0h2m16 0h2m13 0h2m-1 0h2m-259 1h2m32 0h2m13 0h2m7 0h2m0 0h2m5 0h2m0 0h2m3 0h2m0 0h2m0 0h2m6 0h2m74 0h2m7 0h2m1 0h2m36 0h2m11 0h2m29 0h2m-232 1h2m6 0h2m3 0h2m5 0h2m5 0h2m5 0h2m10 0h2m1 0h2m85 0h2m6 0h2m0 0h2m-1 0h2m3 0h2m23 0h2m1 0h2m41 0h2m-224 1h2m6 0h2m8 0h2m1 0h2m1 0h2m8 0h2m5 0h2m-1 0h2m100 0h2m1 0h2m4 0h2m3 0h2m2 0h2m0 0h2m22 0h2m15 0h2m12 0h2m23 0h2m-236 1h2m1 0h2m4 0h2m3 0h2m4 0h2m0 0h2m2 0h2m113 0h2m-2 0h2m27 0h2m9 0h2m9 0h2m37 0h2m-222 1h2m5 0h2m2 0h2m122 0h2m13 0h2m1 0h2m0 0h2m1 0h2m7 0h2m-178 1h2m5 0h2m138 0h2m-1 0h2m2 0h2m5 0h2m16 0h2m-1 0h2m2 0h2m1 0h2m13 0h2m10 0h2m-2 0h2m7 0h2m-253 1h2m17 0h2m9 0h2m-2 0h2m0 0h2m7 0h2m146 0h2m3 0h2m6 0h2m3 0h2m6 0h2m9 0h2m-2 0h2m12 0h2m9 0h2m-237 1h2m2 0h2m3 0h2m2 0h2m5 0h2m0 0h2m2 0h2m155 0h2m9 0h2m2 0h2m0 0h2m0 0h2m6 0h2m2 0h2m5 0h2m0 0h2m1 0h2m1 0h2m21 0h2m-265 1h2m13 0h2m-1 0h2m10 0h2m-2 0h2m2 0h2m169 0h2m-1 0h2m17 0h2m3 0h2m-1 0h2m6 0h2m3 0h2m10 0h2m-251 1h2m11 0h2m2 0h2m0 0h2m0 0h2m-2 0h2m172 0h2m17 0h2m4 0h2m19 0h2m24 0h2m-255 1h2m5 0h2m-1 0h2m-1 0h2m1 0h2m-1 0h2m203 0h2m27 0h2m-239 1h2m188 0h2m-2 0h2m0 0h2m1 0h2m-1 0h2m2 0h2m-233 1h2m0 0h2m23 0h2m1 0h2m185 0h2m3 0h2m-1 0h2m-1 0h2m-1 0h2m0 0h2m2 0h2m0 0h2m-1 0h2m9 0h2m2 0h2m4 0h2m0 0h2m-236 1h2m1 0h2m1 0h2m211 0h2m-2 0h2m-227 1h2m7 0h2m-1 0h2m-1 0h2m-1 0h2m202 0h2m-2 0h2m1 0h2m0 0h2m35 0h2m-259 1h2m2 0h2m-1 0h2m213 0h2m10 0h2m0 0h2m-242 1h2m4 0h2m7 0h2m240 0h2m-251 1h2m0 0h2m1 0h2m220 0h2m-226 1h2m0 0h2m220 0h2m-2 0h2m15 0h2m-246 1h2m-1 0h2m-1 0h2m223 0h2m-232 1h2m1 0h2m0 0h2m225 0h2m-240 1h2m10 0h2m222 0h2m-1 0h2m-237 1h2m8 0h2m-1 0h2m227 0h2m-251 1h2m12 0h2m1 0h2m2 0h2m-17 1h2m1 0h2m-1 0h2m7 0h2m228 0h2m7 0h2m-255 1h2m3 0h2m0 0h2m5 0h2m239 0h2m-262 1h2m11 0h2m1 0h2m-2 0h2m-1 0h2m1 0h2m225 0h2m2 0h2m-239 1h2m0 0h2m0 0h2m-1 0h2m228 0h2m-246 1h2m7 0h2m1 0h2m-2 1h2m0 0h2m228 0h2m3 0h2m-241 1h2m0 0h2m252 0h2m-263 1h2m-2 0h2m7 0h2m229 0h2m0 0h2m-245 1h2m7 0h2m-1 0h2m236 0h2m-266 1h2m21 0h2m236 0h2m-239 1h2m235 0h2m10 0h2m-263 1h2m3 0h2m3 0h2m0 0h2m-18 1h2m249 0h2m3 0h2m2 0h2m-248 1h2m1 0h2m0 0h2m-2 0h2m238 0h2m-256 1h2m332 1h2m-349 1h2m2 0h2m18 0h2m-42 1h2m33 0h2m1 0h2m238 0h2m4 0h2m-242 1h2m232 0h2m-1 0h2m9 0h2m-267 1h2m12 0h2m-2 0h2m1 0h2m1 0h2m-1 0h2m230 0h2m-241 1h2m1 0h2m-1 0h2m0 0h2m-1 0h2m230 0h2m9 0h2m-254 1h2m-1 0h2m1 0h2m0 0h2m1 0h2m230 0h2m4 0h2m-267 1h2m16 0h2m5 0h2m0 0h2m-2 0h2m-1 0h2m-2 0h2m-16 1h2m10 0h2m0 0h2m-1 0h2m249 0h2m-290 1h2m36 0h2m-24 1h2m21 0h2m229 0h2m-247 1h2m-1 0h2m4 0h2m3 0h2m-15 1h2m8 0h2m4 0h2m0 0h2m-2 0h2m225 0h2m-2 0h2m3 0h2m4 0h2m-254 1h2m-9 1h2m13 0h2m0 0h2m-1 0h2m-1 0h2m1 0h2m-23 1h2m11 0h2m-1 0h2m4 0h2m230 0h2m-244 1h2m9 0h2m230 0h2m-237 1h2m239 0h2m-248 1h2m3 0h2m1 0h2m225 0h2m1 0h2m-1 0h2m-234 1h2m-1 0h2m-5 1h2m227 0h2m-255 1h2m14 0h2m7 0h2m231 0h2m-261 1h2m25 0h2m1 0h2m233 0h2m-246 1h2m-1 0h2m2 0h2m-30 1h2m21 0h2m231 0h2m-235 1h2m6 0h2m-1 0h2m226 0h2m5 0h2m-237 1h2m-1 0h2m220 0h2m-2 0h2m-243 1h2m13 0h2m-1 0h2m0 0h2m-1 0h2m227 0h2m-256 1h2m13 0h2m230 0h2m2 0h2m-233 1h2m-1 0h2m253 0h2m-268 1h2m7 0h2m241 0h2m-243 2h2m1 0h2m221 0h2m1 0h2m-241 1h2m-2 1h2m7 0h2m0 0h2m-8 1h2m2 0h2m-1 0h2m-8 1h2m-2 0h2m236 0h2m-2 0h2m-254 1h2m8 0h2m10 0h2m223 0h2m4 0h2m-278 1h2m40 0h2m-10 1h2m1 0h2m5 0h2m225 0h2m-238 1h2m4 0h2m233 0h2m-246 1h2m8 0h2m225 0h2m9 0h2m-240 1h2m-1 0h2m225 0h2m7 0h2m-250 1h2m11 0h2m223 0h2m-1 0h2m12 0h2m-256 1h2m-1 0h2m253 0h2m-250 1h2m242 0h2m-255 1h2m3 0h2m3 0h2m1 0h2m227 0h2m-2 0h2m6 0h2m0 0h2m-256 1h2m4 0h2m237 0h2m2 0h2m16 0h2m-259 1h2m-1 0h2m-2 0h2m2 0h2m-1 0h2m227 0h2m5 0h2m-2 0h2m-258 1h2m10 0h2m0 0h2m1 0h2m234 0h2m-260 1h2m19 0h2m-1 0h2m-2 0h2m-22 1h2m11 0h2m3 0h2m0 0h2m0 0h2m-18 1h2m12 0h2m235 0h2m-254 1h2m14 0h2m232 0h2m0 0h2m55 0h2m-301 1h2m1 0h2m1 0h2m230 0h2m7 0h2m-253 1h2m8 0h2m-2 0h2m230 0h2m-253 1h2m16 0h2m226 0h2m8 0h2m-252 1h2m-15 1h2m18 0h2m231 0h2m-243 1h2m240 0h2m2 0h2m-253 1h2m4 0h2m2 0h2m5 0h2m231 0h2m-235 1h2m-28 1h2m8 0h2m0 0h2m-1 0h2m6 0h2m3 0h2m-16 1h2m-9 1h2m-1 0h2m9 0h2m236 0h2m-244 1h2m4 0h2m233 0h2m8 0h2m-250 1h2m0 0h2m2 0h2m230 0h2m20 0h2m-275 1h2m250 0h2m-1 0h2m-245 1h2m6 0h2m1 0h2m231 0h2m-242 1h2m0 0h2m-2 0h2m235 0h2m-3 1h2m-1 0h2m4 0h2m-265 1h2m0 0h2m4 0h2m7 0h2m2 0h2m246 0h2m-247 1h2m-1 0h2m-33 1h2m14 0h2m244 0h2m-234 1h2m249 0h2m-257 1h2m237 0h2m9 0h2m-249 1h2m-1 0h2m230 0h2m2 0h2m-253 1h2m8 0h2m-1 0h2m-24 1h2m256 0h2m-1 1h2m2 0h2m1 0h2m-2 0h2m-250 1h2m1 0h2m-1 0h2m-1 0h2m-28 1h2m4 0h2m251 0h2m-255 1h2m256 0h2m9 0h2m-265 1h2m1 0h2m4 0h2m-2 0h2m244 0h2m-278 1h2m7 0h2m0 0h2m15 0h2m0 0h2m1 0h2m0 0h2m266 0h2m-291 1h2m11 0h2m0 1h2m1 0h2m1 0h2m231 0h2m4 0h2m1 0h2m-250 1h2m0 0h2m1 0h2m270 0h2m-279 1h2m1 0h2m233 0h2m9 0h2m-264 1h2m15 0h2m234 0h2m0 0h2m114 0h2m-375 1h2m1 0h2m7 0h2m6 0h2m-9 1h2m0 0h2m1 0h2m-1 0h2m-9 1h2m5 0h2m262 0h2m-275 1h2m3 0h2m236 0h2m-254 1h2m4 0h2m1 0h2m1 0h2m254 0h2m-275 1h2m260 0h2m-262 1h2m8 0h2m4 0h2m-12 1h2m3 0h2m1 0h2m238 0h2m-262 1h2m17 0h2m236 0h2m-243 1h2m-2 0h2m-1 0h2m-1 0h2m-2 0h2m3 0h2m239 0h2m0 0h2m-249 1h2m1 0h2m233 0h2m1 0h2m-238 1h2m-12 1h2m4 0h2m-7 1h2m0 0h2m3 0h2m-12 1h2m-2 0h2m248 0h2m-258 1h2m14 0h2m-22 1h2m18 0h2m236 0h2m123 0h2m-380 1h2m8 0h2m-1 0h2m1 0h2m-28 1h2m261 0h2m5 0h2m-257 1h2m2 0h2m2 0h2m-2 0h2m240 1h2m-252 1h2m6 0h2m232 0h2m-233 1h2m229 0h2m7 0h2m-257 1h2m-1 0h2m1 0h2m6 0h2m-25 1h2m14 0h2m0 0h2m-1 0h2m240 0h2m-246 1h2m0 0h2m-1 0h2m-1 0h2m-1 0h2m-16 1h2m10 0h2m0 0h2m232 0h2m21 0h2m-270 1h2m5 0h2m1 0h2m1 0h2m-26 1h2m12 0h2m8 0h2m-1 0h2m232 0h2m4 0h2m-261 1h2m11 0h2m232 0h2m-1 0h2m-251 1h2m252 0h2m2 0h2m19 0h2m-270 1h2m2 0h2m-12 1h2m3 0h2m3 0h2m2 0h2m-19 1h2m6 0h2m-1 0h2m0 0h2m2 0h2m1 0h2m-11 1h2m3 0h2m0 0h2m226 0h2m-1 0h2m-2 0h2m-237 1h2m2 0h2m0 0h2m233 0h2m-243 1h2m3 0h2m-2 0h2m-1 0h2m-7 1h2m-2 0h2m-1 0h2m3 0h2m243 0h2m-260 1h2m9 0h2m1 0h2m218 0h2m2 0h2m-232 1h2m0 0h2m-2 0h2m2 0h2m-7 1h2m-1 0h2m2 0h2m218 0h2m-4 1h2m-234 1h2m3 0h2m-1 0h2m231 0h2m3 0h2m-247 1h2m4 0h2m7 0h2m-10 1h2m7 0h2m222 0h2m-227 1h2m207 0h2m-210 1h2m222 0h2m-234 1h2m4 0h2m-2 0h2m220 0h2m-231 1h2m0 0h2m6 1h2m-1 0h2m198 0h2m-2 0h2m0 0h2m5 0h2m-214 1h2m201 0h2m2 0h2m3 0h2m-216 1h2m198 0h2m12 0h2m16 0h2m35 0h2m-286 1h2m5 0h2m13 0h2m-2 0h2m236 0h2m-252 1h2m199 0h2m-200 2h2m7 0h2m186 0h2m-208 1h2m14 0h2m-1 0h2m-1 0h2m-1 0h2m-2 0h2m-1 0h2m171 0h2m9 0h2m-2 0h2m0 0h2m9 0h2m11 0h2m17 0h2m-251 1h2m13 0h2m4 0h2m-2 0h2m171 0h2m-9 1h2m-206 1h2m25 0h2m4 0h2m-1 0h2m0 0h2m-2 0h2m-2 0h2m1 0h2m152 0h2m6 0h2m1 0h2m3 0h2m-2 0h2m10 0h2m13 0h2m-49 1h2m27 0h2m-198 1h2m15 0h2m134 0h2m11 0h2m6 0h2m8 0h2m-175 1h2m-1 0h2m5 0h2m109 1h2m2 0h2m7 0h2m3 0h2m29 0h2m-210 1h2m27 0h2m129 0h2m8 0h2m5 0h2m3 0h2m-1 0h2m24 0h2m45 0h2m-231 1h2m10 0h2m3 0h2m6 0h2m92 0h2m4 0h2m16 0h2m24 0h2m22 0h2m36 0h2m-241 1h2m27 0h2m82 0h2m3 0h2m11 0h2m24 0h2m4 0h2m41 0h2m-176 1h2m3 0h2m-12 1h2m-1 0h2m-2 0h2m76 0h2m61 0h2m-6 1h2m11 0h2m-159 1h2m-2 0h2m-1 0h2m1 0h2m-1 0h2m2 0h2m-2 0h2m2 0h2m-2 0h2m4 0h2m-1 0h2m0 0h2m94 0h2m-113 1h2m76 0h2m27 0h2m-2 0h2m64 0h2m-173 1h2m0 0h2m8 0h2m39 0h2m-47 1h2m0 0h2m46 0h2m2 1h2m12 0h2m-110 1h2m30 0h2m1 0h2m-2 0h2m1 0h2m22 0h2m16 0h2m69 0h2m-119 1h2m4 0h2m4 0h2m18 0h2m18 0h2m61 0h2m-130 1h2m16 0h2m26 0h2m1 0h2m61 0h2m-103 1h2m0 0h2m16 0h2m33 0h2m23 0h2m13 0h2m4 0h2m8 0h2m-130 1h2m77 0h2m12 1h2m66 0h2m3 0h2m-152 1h2m24 2h2m-20 1h2m-47 1h2m37 0h2m77 2h2m106 0h2m-147 2h2m158 1h2m-83 3h2m-83 1h2m-48 10h2" stroke="#707070" stroke-width="2.5" fill="none"/>
<clipPath id="cA1"><use href="#oA1"/></clipPath>
<g clip-path="url(#cA1)"><g filter="url(#bl)"><rect x="144" y="258" width="258" height="216" fill="#0000ff"/><path d="M208 465 191 466 185 465 173 461 166 457 160 451 156 446 153 439 153 428 158 406 165 386 177 335 177 323 173 315 165 307 163 301 163 292 164 288 167 282 170 279 178 275 198 270 212 269 215 268 230 267 233 266 257 265 259 266 274 266 275 267 284 267 285 268 291 268 292 269 297 269 298 270 303 270 304 271 310 271 311 272 323 273 324 274 329 274 330 275 335 275 336 276 341 276 342 277 347 277 348 278 358 279 359 280 362 280 366 282 372 283 380 287 385 291 389 297 389 299 391 302 392 308 393 309 393 314 394 315 394 325 395 326 395 345 394 366 393 367 393 374 392 375 392 381 391 382 390 393 389 394 388 401 386 405 386 408 379 422 370 432 359 440 351 444 349 444 346 446 341 447 340 448 333 449 332 450 323 451 322 452 316 452 315 453 309 453 308 454 301 454 300 455 279 456 278 457 261 457 260 458 253 458 252 459 242 460 241 461 232 463 227 463 208 465Z" fill="#0019ff" fill-rule="evenodd"/><path d="M194 462 183 461 171 456 163 449 159 444 157 438 157 429 169 395 183 336 183 323 182 320 178 312 173 307 169 300 168 294 169 289 172 285 180 281 189 278 216 273 255 269 282 269 323 273 324 274 329 274 330 275 335 275 336 276 353 278 354 279 358 279 371 283 384 291 389 297 391 302 392 308 393 309 393 314 394 315 394 325 395 326 395 345 394 366 393 367 393 374 392 375 392 381 391 382 390 393 389 394 388 401 386 405 386 408 379 422 370 432 359 440 351 444 349 444 346 446 341 447 340 448 333 449 332 450 328 450 327 451 323 451 322 452 309 453 308 454 301 454 300 455 279 456 278 457 246 457 205 462 194 462Z" fill="#002aff" fill-rule="evenodd"/><path d="M202 457 187 457 175 453 167 447 163 442 162 437 163 432 166 426 172 420 185 410 188 406 189 402 191 369 201 316 200 312 197 308 182 297 181 293 183 291 191 287 208 282 254 276 281 274 308 275 345 280 367 286 381 293 388 304 393 316 394 325 395 326 395 355 394 356 394 366 393 367 393 374 392 375 392 381 391 382 390 393 389 394 388 401 386 405 386 408 379 422 370 432 359 440 351 444 349 444 346 446 341 447 340 448 333 449 332 450 328 450 327 451 323 451 322 452 309 453 308 454 301 454 300 455 288 456 276 455 260 453 240 453 202 457Z" fill="#0044ff" fill-rule="evenodd"/><path d="M201 453 188 453 177 449 170 443 169 440 168 436 171 431 175 427 183 422 207 410 212 405 215 400 216 393 215 369 217 353 222 336 232 315 234 310 233 307 231 305 219 296 218 294 219 292 229 288 252 284 280 281 307 280 332 282 355 287 369 292 375 296 379 299 383 305 387 312 392 328 395 346 395 355 394 356 394 366 393 367 393 374 392 375 392 381 391 382 390 393 389 394 388 401 386 405 386 408 379 422 370 432 359 440 351 444 349 444 346 446 341 447 340 448 321 452 307 453 287 452 275 451 260 448 250 447 239 448 201 453Z" fill="#005cff" fill-rule="evenodd"/><path d="M313 449 297 449 286 447 264 442 257 441 245 442 210 449 195 450 188 449 181 446 177 443 175 439 175 436 176 433 181 428 191 422 215 412 222 407 226 402 230 391 231 362 236 342 243 328 256 309 260 297 263 294 268 292 286 289 311 287 331 289 353 293 366 299 374 304 381 313 388 329 393 353 393 374 389 397 385 407 380 418 369 430 358 438 352 441 334 447 313 449Z" fill="#007dff" fill-rule="evenodd"/><path d="M211 446 199 447 189 445 183 441 181 438 181 435 184 431 189 427 222 413 228 409 232 405 236 398 239 390 243 359 248 341 253 332 260 323 268 314 278 306 288 300 299 297 315 295 330 296 347 300 361 305 370 311 378 320 384 331 389 348 390 364 390 379 386 395 380 411 374 420 369 426 363 431 356 435 344 440 324 445 312 445 296 444 268 436 260 435 252 436 227 443 211 446Z" fill="#00a0ff" fill-rule="evenodd"/><path d="M207 444 198 444 191 442 187 438 188 434 190 431 196 427 229 414 234 411 238 407 242 400 246 389 251 359 256 344 261 335 267 328 274 321 282 315 294 308 306 304 320 303 334 304 347 308 360 314 369 321 378 331 382 341 386 352 387 371 386 384 382 398 377 410 371 418 360 428 352 433 342 437 329 440 318 441 304 440 296 438 270 428 260 427 254 429 229 440 218 443 207 444Z" fill="#00c9ff" fill-rule="evenodd"/><path d="M213 441 204 441 197 440 193 437 193 434 197 430 205 426 239 416 244 413 246 409 253 386 258 360 262 348 266 340 272 332 278 326 286 320 297 315 309 311 321 310 334 311 346 314 357 320 366 327 374 336 380 348 383 360 384 370 382 384 378 398 373 409 364 420 357 425 347 431 336 434 323 436 313 436 303 434 294 431 267 418 256 417 250 419 243 428 235 434 225 438 213 441Z" fill="#00f1f8" fill-rule="evenodd"/><path d="M326 431 310 430 295 426 273 413 259 407 256 404 255 400 256 393 264 359 268 349 273 340 282 331 292 324 304 318 317 316 329 316 341 319 352 323 361 330 369 338 374 347 378 358 380 369 379 383 376 392 372 403 366 411 360 417 349 425 338 429 326 431ZM215 438 204 438 200 436 200 434 201 432 205 429 216 425 229 423 233 424 235 425 235 428 231 432 223 436 215 438Z" fill="#00feb1" fill-rule="evenodd"/><path d="M329 426 313 426 298 422 266 403 263 400 261 396 262 387 268 363 271 353 277 344 284 336 293 329 303 324 314 321 325 321 335 322 345 326 354 331 362 338 368 346 372 355 375 365 375 376 373 388 370 397 365 406 357 414 349 419 339 424 329 426ZM214 434 211 434 210 432 213 430 217 429 221 429 222 430 219 433 214 434Z" fill="#00ff56" fill-rule="evenodd"/><path d="M324 422 309 421 296 415 271 399 268 395 267 390 268 379 273 362 277 352 283 344 290 337 299 331 309 327 320 326 330 326 339 328 347 332 355 337 361 344 366 352 370 361 371 371 371 381 369 390 364 399 359 406 352 412 343 418 334 421 324 422Z" fill="#17ff1f" fill-rule="evenodd"/><path d="M330 417 315 417 301 413 277 398 274 394 272 390 272 382 274 370 278 359 283 350 289 343 296 338 304 334 313 331 322 330 331 331 339 333 347 337 354 342 360 349 364 357 366 365 367 374 366 383 364 391 359 399 353 406 346 411 339 415 330 417Z" fill="#44ff0d" fill-rule="evenodd"/><path d="M329 413 315 413 302 409 281 395 278 391 276 387 276 380 278 370 282 360 287 352 292 346 299 341 306 337 314 335 322 334 330 335 338 337 345 340 351 345 357 352 360 359 363 367 363 375 362 383 360 390 356 397 350 403 344 408 337 411 329 413Z" fill="#7cff00" fill-rule="evenodd"/><path d="M329 409 316 409 304 405 286 393 282 389 281 385 280 379 282 371 285 362 290 355 294 350 300 345 307 341 314 339 322 338 329 338 336 340 342 343 348 348 352 353 356 360 359 367 359 374 358 381 356 388 353 394 348 400 342 404 336 407 329 409Z" fill="#ceff00" fill-rule="evenodd"/><path d="M329 405 317 405 305 402 290 391 287 387 285 383 284 378 286 371 288 364 293 357 302 348 314 343 327 342 333 343 339 346 344 350 349 355 352 361 354 367 355 379 353 385 350 391 346 396 341 400 335 403 329 405Z" fill="#f5eb00" fill-rule="evenodd"/><path d="M328 401 317 401 307 398 294 389 291 385 289 381 289 376 290 371 292 365 296 359 304 351 315 346 327 346 337 349 345 357 348 362 350 368 350 379 346 389 338 397 328 401Z" fill="#ffbb00" fill-rule="evenodd"/><path d="M326 397 317 397 307 393 297 386 293 379 293 375 294 370 299 361 307 354 316 350 326 350 335 353 342 360 346 369 346 378 342 387 335 394 326 397Z" fill="#ff7500" fill-rule="evenodd"/><path d="M327 392 319 393 310 390 302 384 299 378 298 372 301 365 307 359 314 355 322 354 330 356 336 360 340 367 342 375 339 383 334 389 327 392Z" fill="#ff2d00" fill-rule="evenodd"/><path d="M324 387 318 387 312 385 307 381 304 376 304 371 306 366 311 362 316 359 322 359 328 361 333 365 335 370 336 376 334 381 329 385 324 387Z" fill="#ff0000" fill-rule="evenodd"/></g></g>
<defs><path id="oA2" d="M653 289 654 286 656 282 659 279 663 276 667 274 673 271 679 269 686 268 693 267 701 266 710 266 719 266 728 265 739 266 749 266 760 266 770 267 781 267 791 268 801 269 810 271 818 273 826 275 834 278 842 280 850 282 857 285 863 288 868 291 873 294 876 297 880 301 883 305 886 309 888 313 890 317 891 322 891 327 891 332 891 339 890 346 889 354 888 363 886 372 886 380 885 388 884 397 883 404 881 411 879 418 876 424 873 429 870 434 865 439 861 443 855 447 849 451 841 454 833 458 826 460 818 462 809 464 801 466 793 467 785 468 777 469 769 469 760 470 750 471 739 472 728 473 719 473 710 474 701 475 693 475 686 475 678 475 671 474 664 472 658 470 652 467 648 463 643 459 640 454 636 447 634 440 631 432 630 424 629 417 629 411 629 404 630 396 631 387 633 377 636 367 638 358 641 351 643 344 646 337 648 330 649 324 650 317 651 311 651 306 652 301 652 297 652 293Z"/></defs>
<use href="#oA2" fill="none" stroke="#000" stroke-opacity="0.25" stroke-width="18" stroke-linejoin="round" filter="url(#bl3)"/>
<use href="#oA2" fill="none" stroke="#000" stroke-opacity="0.12" stroke-width="40" stroke-linejoin="round" filter="url(#bl3)"/>
<path d="M856 158h2m-38 9h2m-46 1h2m245 8h2m-211 13h2m-29 25h2m-93 14h2m192 0h2m46 6h2m-262 4h2m14 3h2m59 0h2m10 0h2m-1 1h2m146 0h2m-231 1h2m-22 1h2m71 0h2m52 0h2m-113 2h2m111 1h2m-113 1h2m54 0h2m7 0h2m12 0h2m14 0h2m21 0h2m-27 1h2m-53 1h2m39 0h2m21 0h2m10 0h2m-59 1h2m1 0h2m-93 1h2m38 0h2m41 0h2m2 0h2m8 0h2m7 0h2m-1 0h2m5 0h2m-85 1h2m3 0h2m25 0h2m21 0h2m8 0h2m5 0h2m31 0h2m-1 0h2m19 1h2m-151 1h2m15 0h2m0 0h2m9 0h2m16 0h2m9 0h2m9 0h2m18 0h2m8 0h2m57 0h2m-126 1h2m22 0h2m18 0h2m1 0h2m4 0h2m4 0h2m10 0h2m15 0h2m9 0h2m41 0h2m-179 1h2m12 0h2m43 0h2m10 0h2m1 0h2m1 0h2m22 0h2m29 0h2m14 0h2m33 0h2m-170 1h2m0 0h2m0 0h2m16 0h2m16 0h2m-1 0h2m-2 0h2m6 0h2m11 0h2m10 0h2m53 0h2m-130 1h2m15 0h2m1 0h2m8 0h2m8 0h2m29 0h2m1 0h2m22 0h2m2 0h2m1 0h2m216 0h2m-356 1h2m27 0h2m34 0h2m15 0h2m1 0h2m18 0h2m-2 0h2m-1 0h2m18 0h2m24 0h2m-2 0h2m2 0h2m2 0h2m3 0h2m-164 1h2m27 0h2m0 0h2m5 0h2m1 0h2m27 0h2m0 0h2m5 0h2m5 0h2m1 0h2m0 0h2m3 0h2m9 0h2m15 0h2m3 0h2m-153 1h2m32 0h2m9 0h2m8 0h2m4 0h2m2 0h2m10 0h2m10 0h2m3 0h2m5 0h2m2 0h2m0 0h2m8 0h2m16 0h2m14 0h2m5 0h2m52 0h2m-215 1h2m26 0h2m33 0h2m-1 0h2m-1 0h2m1 0h2m6 0h2m4 0h2m9 0h2m2 0h2m7 0h2m32 0h2m2 0h2m5 0h2m9 0h2m18 0h2m10 0h2m48 0h2m-237 1h2m19 0h2m12 0h2m0 0h2m1 0h2m3 0h2m5 0h2m5 0h2m23 0h2m0 0h2m1 0h2m2 0h2m4 0h2m-2 0h2m12 0h2m0 0h2m17 0h2m7 0h2m14 0h2m2 0h2m56 0h2m-201 1h2m3 0h2m2 0h2m1 0h2m17 0h2m-1 0h2m2 0h2m1 0h2m-1 0h2m4 0h2m2 0h2m6 0h2m7 0h2m6 0h2m4 0h2m3 0h2m1 0h2m12 0h2m11 0h2m3 0h2m2 0h2m0 0h2m14 0h2m1 0h2m0 0h2m19 0h2m-181 1h2m2 0h2m3 0h2m13 0h2m8 0h2m0 0h2m-1 0h2m13 0h2m3 0h2m24 0h2m14 0h2m9 0h2m-2 0h2m5 0h2m15 0h2m0 0h2m-1 0h2m15 0h2m18 0h2m17 0h2m0 0h2m-1 0h2m-183 1h2m19 0h2m96 0h2m11 0h2m0 0h2m-2 0h2m0 0h2m6 0h2m10 0h2m18 0h2m-187 1h2m7 0h2m10 0h2m112 0h2m9 0h2m1 0h2m26 0h2m0 0h2m3 0h2m16 0h2m29 0h2m20 0h2m-259 1h2m9 0h2m0 0h2m0 0h2m0 0h2m2 0h2m127 0h2m8 0h2m-1 0h2m2 0h2m26 0h2m-176 1h2m-2 0h2m0 0h2m126 0h2m-2 0h2m7 0h2m20 0h2m5 0h2m27 0h2m13 0h2m-242 1h2m11 0h2m4 0h2m-1 0h2m143 0h2m1 0h2m0 0h2m2 0h2m9 0h2m0 0h2m2 0h2m3 0h2m-189 1h2m0 0h2m1 0h2m152 0h2m8 0h2m5 0h2m3 0h2m24 0h2m-217 1h2m-2 0h2m2 0h2m3 0h2m3 0h2m2 0h2m150 0h2m3 0h2m29 0h2m-195 1h2m-2 0h2m158 0h2m14 0h2m5 0h2m-197 1h2m10 0h2m163 0h2m6 0h2m-1 0h2m1 0h2m22 0h2m10 0h2m2 0h2m-239 1h2m6 0h2m4 0h2m1 0h2m166 0h2m0 0h2m4 0h2m2 0h2m5 0h2m0 0h2m-2 0h2m-1 0h2m-204 1h2m6 0h2m0 0h2m1 0h2m172 0h2m1 0h2m9 0h2m-2 0h2m8 0h2m-1 0h2m5 0h2m-1 0h2m-237 1h2m20 0h2m205 0h2m-1 0h2m5 0h2m-230 1h2m15 0h2m183 0h2m0 0h2m13 0h2m14 0h2m-234 1h2m4 0h2m0 0h2m199 0h2m0 0h2m2 0h2m-235 1h2m26 0h2m196 0h2m6 0h2m-222 1h2m10 0h2m195 0h2m0 0h2m1 0h2m-221 1h2m11 0h2m-2 0h2m-1 0h2m1 0h2m197 0h2m4 0h2m-1 0h2m-2 0h2m1 0h2m-1 0h2m-2 0h2m32 0h2m-261 1h2m222 0h2m14 0h2m13 0h2m-244 1h2m211 0h2m7 0h2m2 0h2m-18 1h2m-1 0h2m8 0h2m25 0h2m-246 1h2m205 0h2m6 0h2m-233 1h2m3 0h2m5 0h2m0 0h2m212 0h2m-2 0h2m-2 0h2m0 0h2m2 0h2m1 0h2m0 0h2m3 0h2m13 0h2m-254 1h2m3 0h2m-2 0h2m0 0h2m220 0h2m10 0h2m-241 1h2m231 0h2m7 0h2m-244 1h2m226 0h2m10 0h2m-243 1h2m1 0h2m222 0h2m-231 1h2m229 0h2m15 0h2m-247 1h2m2 0h2m222 0h2m0 0h2m5 0h2m-241 1h2m4 0h2m224 0h2m-1 1h2m21 0h2m-17 1h2m-255 1h2m13 0h2m227 0h2m1 0h2m2 0h2m17 0h2m-262 1h2m234 0h2m3 0h2m-4 1h2m-260 1h2m23 0h2m-9 2h2m248 0h2m6 0h2m-262 1h2m4 0h2m1 0h2m240 0h2m1 0h2m-1 2h2m0 0h2m-255 1h2m240 0h2m0 0h2m-1 0h2m0 0h2m22 0h2m-270 1h2m-2 0h2m237 0h2m-245 1h2m1 0h2m240 0h2m3 0h2m1 0h2m-10 1h2m7 0h2m-261 1h2m1 1h2m-2 0h2m2 0h2m241 0h2m7 0h2m-252 1h2m1 0h2m-2 0h2m237 0h2m-2 0h2m-1 0h2m5 0h2m-269 1h2m259 0h2m-1 0h2m-245 1h2m-2 0h2m-1 0h2m240 0h2m-1 0h2m0 0h2m-2 1h2m-1 0h2m-255 1h2m1 0h2m258 0h2m5 0h2m-277 1h2m5 0h2m1 0h2m-1 1h2m240 0h2m-1 0h2m9 0h2m5 0h2m-265 1h2m-2 0h2m243 0h2m-247 1h2m-1 0h2m-1 0h2m239 0h2m-1 0h2m-1 0h2m2 0h2m0 0h2m-268 1h2m13 1h2m-1 0h2m242 0h2m3 0h2m-272 1h2m20 0h2m241 0h2m2 0h2m-2 0h2m-263 1h2m10 0h2m244 0h2m0 0h2m-2 0h2m-253 1h2m246 0h2m8 0h2m-263 2h2m4 0h2m-1 0h2m242 0h2m-249 1h2m-34 1h2m1 0h2m16 0h2m260 0h2m4 0h2m1 0h2m-14 1h2m0 0h2m1 0h2m-263 1h2m8 0h2m246 0h2m0 0h2m6 0h2m-279 1h2m3 0h2m10 0h2m0 0h2m-4 1h2m247 0h2m-1 0h2m-1 0h2m-270 1h2m7 0h2m-1 0h2m253 0h2m1 0h2m2 0h2m-262 1h2m-6 1h2m254 0h2m15 0h2m-269 1h2m268 1h2m-276 1h2m2 0h2m251 0h2m12 0h2m-273 1h2m1 0h2m-3 1h2m0 0h2m-1 0h2m-2 0h2m253 0h2m-2 0h2m-265 1h2m1 0h2m-24 2h2m275 0h2m9 0h2m-1 0h2m8 0h2m-17 1h2m39 0h2m-45 1h2m-8 1h2m19 0h2m-277 1h2m0 0h2m-2 0h2m254 0h2m-262 1h2m3 0h2m249 0h2m2 0h2m1 0h2m-273 1h2m5 0h2m3 0h2m255 0h2m6 0h2m-2 0h2m85 0h2m-359 1h2m-1 0h2m-1 0h2m-13 1h2m10 0h2m-12 1h2m1 0h2m4 0h2m251 0h2m-2 0h2m3 0h2m6 1h2m-277 1h2m0 0h2m-1 1h2m4 0h2m252 0h2m41 0h2m-310 1h2m9 0h2m250 0h2m-258 1h2m0 0h2m0 0h2m-2 0h2m252 0h2m1 0h2m-2 0h2m13 0h2m-281 1h2m1 0h2m262 0h2m-7 1h2m0 0h2m-261 1h2m253 0h2m-263 1h2m5 0h2m253 0h2m-269 1h2m4 0h2m260 0h2m0 0h2m-1 0h2m-270 1h2m6 0h2m-1 0h2m-9 1h2m259 0h2m9 0h2m-281 1h2m264 0h2m0 0h2m-2 0h2m1 0h2m34 0h2m-304 1h2m258 0h2m-1 0h2m-1 0h2m2 0h2m-261 1h2m-1 0h2m256 0h2m3 0h2m9 0h2m-285 1h2m5 0h2m-12 1h2m0 0h2m7 0h2m-2 0h2m-2 0h2m261 0h2m-13 1h2m0 0h2m6 0h2m-11 1h2m-262 1h2m260 0h2m-2 0h2m-260 1h2m-1 0h2m253 0h2m0 0h2m4 0h2m-9 1h2m14 0h2m-292 1h2m274 0h2m-261 1h2m254 0h2m-2 0h2m-1 0h2m-1 0h2m12 0h2m-278 1h2m3 0h2m255 0h2m0 0h2m-264 1h2m-2 0h2m261 0h2m1 0h2m-11 1h2m-2 0h2m1 1h2m-259 1h2m253 0h2m-261 1h2m0 0h2m256 0h2m-2 0h2m25 0h2m-300 1h2m12 0h2m262 0h2m-284 1h2m275 0h2m-276 1h2m269 0h2m-2 0h2m4 0h2m0 0h2m-274 1h2m1 0h2m2 0h2m-2 0h2m-1 0h2m254 0h2m1 0h2m-1 0h2m-268 1h2m-1 0h2m260 0h2m-1 0h2m-265 1h2m-1 0h2m0 0h2m-1 0h2m259 0h2m-1 0h2m5 0h2m-277 1h2m0 0h2m266 0h2m-11 1h2m-1 0h2m3 0h2m4 0h2m-273 1h2m1 0h2m257 0h2m-280 1h2m18 0h2m254 0h2m-1 0h2m12 0h2m-276 1h2m-1 0h2m257 0h2m-1 0h2m16 0h2m-284 1h2m267 0h2m-268 1h2m0 0h2m257 0h2m4 0h2m2 0h2m-285 1h2m3 0h2m1 0h2m2 0h2m277 0h2m-280 1h2m-1 0h2m255 1h2m0 0h2m-2 0h2m-270 1h2m6 0h2m266 0h2m-274 1h2m0 0h2m-12 1h2m4 0h2m307 0h2m-311 1h2m4 0h2m262 0h2m-271 1h2m270 0h2m-285 1h2m8 0h2m259 0h2m-259 1h2m-1 1h2m255 0h2m-270 1h2m10 1h2m-5 1h2m256 0h2m-262 1h2m-1 0h2m258 0h2m3 0h2m-268 1h2m264 0h2m-1 0h2m3 0h2m-276 1h2m261 0h2m3 0h2m-274 1h2m-1 0h2m1 0h2m257 1h2m4 0h2m-264 2h2m256 0h2m0 0h2m5 0h2m1 0h2m-267 1h2m248 0h2m-259 1h2m274 0h2m-272 1h2m250 0h2m3 0h2m-1 0h2m-2 0h2m-10 1h2m3 0h2m-1 0h2m-5 1h2m9 0h2m-1 0h2m-13 1h2m96 0h2m-106 2h2m-3 1h2m-267 1h2m12 0h2m250 0h2m-252 1h2m0 0h2m264 0h2m1 0h2m-26 1h2m-245 1h2m-1 0h2m240 0h2m5 0h2m-268 1h2m11 0h2m-1 0h2m244 0h2m-1 0h2m-1 0h2m-1 0h2m-252 1h2m1 0h2m-1 0h2m239 0h2m-1 0h2m-2 0h2m-1 0h2m1 0h2m-265 1h2m9 0h2m-1 0h2m1 0h2m-1 1h2m0 0h2m244 0h2m10 0h2m-275 2h2m249 0h2m-1 0h2m5 0h2m-258 1h2m3 0h2m247 0h2m2 0h2m-249 1h2m-1 0h2m-1 0h2m231 0h2m3 0h2m-252 1h2m241 0h2m1 0h2m-2 0h2m2 0h2m5 0h2m-253 1h2m236 0h2m3 0h2m-252 1h2m12 0h2m230 1h2m-1 0h2m5 0h2m-245 1h2m238 0h2m-239 1h2m-1 0h2m235 0h2m-250 1h2m3 0h2m233 0h2m2 0h2m0 0h2m23 0h2m-279 1h2m6 0h2m229 0h2m-1 0h2m-1 0h2m2 0h2m-250 1h2m2 0h2m11 0h2m220 0h2m10 0h2m-1 0h2m3 0h2m-252 1h2m2 0h2m3 0h2m-1 0h2m3 0h2m-2 0h2m217 0h2m3 0h2m6 0h2m-255 1h2m2 0h2m-2 0h2m228 0h2m8 0h2m-1 0h2m0 0h2m-16 1h2m0 0h2m7 0h2m11 0h2m-238 1h2m208 0h2m2 0h2m-2 0h2m1 0h2m-1 0h2m-2 0h2m2 0h2m-243 1h2m18 0h2m206 0h2m1 0h2m3 0h2m-216 1h2m204 0h2m-1 0h2m10 0h2m-234 1h2m4 0h2m3 0h2m202 0h2m-1 0h2m13 0h2m-227 1h2m0 0h2m201 0h2m3 0h2m3 0h2m-1 0h2m12 0h2m-232 1h2m3 0h2m195 0h2m-2 0h2m-1 0h2m10 0h2m2 0h2m6 0h2m28 0h2m-252 1h2m-1 0h2m191 0h2m1 0h2m-2 0h2m2 0h2m-14 1h2m10 0h2m0 0h2m4 0h2m5 0h2m-1 0h2m-2 0h2m-220 1h2m-1 0h2m-1 0h2m189 0h2m9 0h2m6 0h2m9 0h2m10 0h2m-240 1h2m2 0h2m182 0h2m2 0h2m-2 0h2m1 0h2m16 0h2m-212 1h2m5 0h2m172 0h2m4 0h2m-1 0h2m0 0h2m24 0h2m-212 1h2m170 0h2m1 0h2m-2 0h2m1 0h2m0 0h2m1 0h2m14 0h2m-222 1h2m15 0h2m1 0h2m0 0h2m172 0h2m-2 0h2m5 0h2m0 0h2m-2 0h2m-1 0h2m2 0h2m3 0h2m5 0h2m-201 1h2m-1 0h2m-2 0h2m164 0h2m-2 0h2m2 0h2m-1 0h2m9 0h2m21 0h2m-207 1h2m151 0h2m9 0h2m8 0h2m5 0h2m-1 0h2m10 0h2m33 0h2m-243 1h2m6 0h2m2 0h2m-1 0h2m1 0h2m139 0h2m2 0h2m0 0h2m0 0h2m8 0h2m14 0h2m51 0h2m-244 1h2m0 0h2m0 0h2m0 0h2m5 0h2m-1 0h2m-2 0h2m141 0h2m2 0h2m5 0h2m-1 0h2m-1 0h2m5 0h2m10 0h2m1 0h2m-191 1h2m2 0h2m0 0h2m2 0h2m-1 0h2m118 0h2m23 0h2m2 0h2m0 0h2m-1 0h2m4 0h2m2 0h2m33 0h2m26 0h2m-230 1h2m-1 0h2m1 0h2m114 0h2m6 0h2m3 0h2m0 0h2m0 0h2m2 0h2m8 0h2m13 0h2m4 0h2m-181 1h2m3 0h2m0 0h2m0 0h2m-1 0h2m97 0h2m13 0h2m-1 0h2m-1 0h2m2 0h2m5 0h2m0 0h2m9 0h2m8 0h2m5 0h2m28 0h2m-203 1h2m0 0h2m16 0h2m89 0h2m14 0h2m-2 0h2m6 0h2m7 0h2m0 0h2m19 0h2m9 0h2m35 0h2m-216 1h2m-2 0h2m9 0h2m-2 0h2m8 0h2m2 0h2m66 0h2m5 0h2m3 0h2m1 0h2m2 0h2m1 0h2m6 0h2m-1 0h2m7 0h2m12 0h2m5 0h2m18 0h2m-1 0h2m-2 0h2m1 0h2m29 0h2m-202 1h2m4 0h2m6 0h2m-1 0h2m6 0h2m37 0h2m11 0h2m4 0h2m0 0h2m4 0h2m1 0h2m8 0h2m8 0h2m-1 0h2m1 0h2m1 0h2m19 0h2m26 0h2m5 0h2m-199 1h2m33 0h2m-2 0h2m7 0h2m26 0h2m1 0h2m14 0h2m3 0h2m11 0h2m14 0h2m5 0h2m3 0h2m-1 0h2m7 0h2m1 0h2m0 0h2m2 0h2m6 0h2m17 0h2m-150 1h2m1 0h2m12 0h2m4 0h2m3 0h2m0 0h2m4 0h2m-1 0h2m2 0h2m-1 0h2m3 0h2m10 0h2m0 0h2m-2 0h2m13 0h2m-2 0h2m0 0h2m12 0h2m-1 0h2m6 0h2m44 0h2m-180 1h2m15 0h2m6 0h2m16 0h2m-1 0h2m3 0h2m0 0h2m2 0h2m8 0h2m1 0h2m3 0h2m10 0h2m1 0h2m0 0h2m5 0h2m4 0h2m3 0h2m-2 0h2m30 0h2m6 0h2m10 0h2m1 0h2m-146 1h2m-1 0h2m11 0h2m3 0h2m1 0h2m1 0h2m13 0h2m19 0h2m13 0h2m7 0h2m19 0h2m9 0h2m2 0h2m11 0h2m0 0h2m6 0h2m1 0h2m-140 1h2m-1 0h2m-1 0h2m6 0h2m1 0h2m15 0h2m-2 0h2m10 0h2m3 0h2m-1 0h2m1 0h2m31 0h2m29 0h2m2 0h2m0 0h2m3 0h2m-150 1h2m20 0h2m13 0h2m-2 0h2m-1 0h2m0 0h2m0 0h2m3 0h2m21 0h2m1 0h2m30 0h2m53 0h2m-136 1h2m11 0h2m4 0h2m5 0h2m26 0h2m7 0h2m1 0h2m8 0h2m22 0h2m29 0h2m7 0h2m-182 1h2m52 0h2m7 0h2m12 0h2m3 0h2m2 0h2m3 0h2m12 0h2m7 0h2m4 0h2m43 0h2m-104 1h2m12 0h2m7 0h2m0 0h2m8 0h2m17 0h2m9 0h2m51 0h2m4 0h2m-158 1h2m9 0h2m17 0h2m50 0h2m13 0h2m35 0h2m14 0h2m-143 1h2m10 0h2m1 0h2m27 0h2m21 0h2m37 0h2m-96 1h2m11 0h2m14 0h2m25 0h2m44 0h2m-91 1h2m11 0h2m7 0h2m4 0h2m50 0h2m8 0h2m-77 1h2m78 0h2m-138 1h2m21 0h2m18 0h2m55 0h2m21 0h2m50 0h2m-140 1h2m22 0h2m59 0h2m50 0h2m-146 1h2m33 0h2m2 0h2m-30 1h2m-4 1h2m7 0h2m2 0h2m6 0h2m10 0h2m-47 1h2m32 0h2m27 0h2m79 0h2m-135 2h2m103 0h2m-150 1h2m84 1h2m96 0h2m79 0h2m-209 1h2m25 1h2m46 2h2m151 2h2m-177 1h2m-100 2h2m106 0h2m-30 9h2m259 7h2m-348 12h2m373 4h2" stroke="#1a1a1a" stroke-width="2.5" fill="none"/><path d="M843 129h2m-54 5h2m42 13h2m-82 3h2m125 1h2m-36 11h2m19 14h2m-123 2h2m197 10h2m-76 3h2m-173 22h2m255 2h2m1 5h2m-135 2h2m-98 11h2m62 3h2m-87 4h2m35 3h2m86 0h2m-163 1h2m13 0h2m152 0h2m-162 1h2m88 0h2m-85 1h2m81 1h2m-98 1h2m101 0h2m-45 1h2m15 0h2m-80 1h2m20 0h2m63 0h2m26 0h2m-181 1h2m166 0h2m10 0h2m4 0h2m-112 1h2m90 0h2m43 0h2m-140 1h2m4 0h2m107 0h2m-111 1h2m99 0h2m-114 1h2m18 0h2m13 0h2m1 0h2m50 0h2m1 0h2m17 0h2m23 0h2m27 0h2m-134 1h2m7 0h2m3 0h2m3 0h2m42 0h2m2 0h2m7 0h2m4 0h2m5 0h2m50 0h2m37 0h2m-251 1h2m7 0h2m3 0h2m16 0h2m12 0h2m38 0h2m11 0h2m49 0h2m-131 1h2m22 0h2m4 0h2m11 0h2m6 0h2m0 0h2m16 0h2m19 0h2m21 0h2m11 0h2m10 0h2m25 0h2m-154 1h2m36 0h2m5 0h2m-1 0h2m14 0h2m-2 0h2m25 0h2m16 0h2m5 0h2m44 0h2m-190 1h2m38 0h2m40 0h2m18 0h2m21 0h2m17 0h2m9 0h2m5 0h2m-173 1h2m5 0h2m55 0h2m-1 0h2m7 0h2m0 0h2m12 0h2m9 0h2m10 0h2m53 0h2m30 0h2m-173 1h2m21 0h2m0 0h2m5 0h2m1 0h2m11 0h2m2 0h2m-2 0h2m7 0h2m1 0h2m2 0h2m20 0h2m19 0h2m12 0h2m26 0h2m-173 1h2m2 0h2m2 0h2m15 0h2m19 0h2m2 0h2m21 0h2m10 0h2m8 0h2m-2 0h2m15 0h2m1 0h2m12 0h2m5 0h2m6 0h2m-140 1h2m5 0h2m3 0h2m-1 0h2m22 0h2m11 0h2m3 0h2m-2 0h2m3 0h2m3 0h2m-1 0h2m1 0h2m-1 0h2m20 0h2m0 0h2m-1 0h2m17 0h2m0 0h2m15 0h2m46 0h2m-186 1h2m9 0h2m0 0h2m0 0h2m16 0h2m-1 0h2m1 0h2m5 0h2m10 0h2m5 0h2m14 0h2m1 0h2m-2 0h2m2 0h2m2 0h2m0 0h2m1 0h2m-1 0h2m8 0h2m6 0h2m3 0h2m61 0h2m159 0h2m-353 1h2m27 0h2m6 0h2m2 0h2m-2 0h2m-1 0h2m3 0h2m62 0h2m1 0h2m7 0h2m3 0h2m4 0h2m-2 0h2m1 0h2m3 0h2m30 0h2m6 0h2m-173 1h2m7 0h2m3 0h2m3 0h2m91 0h2m3 0h2m2 0h2m6 0h2m3 0h2m9 0h2m6 0h2m21 0h2m8 0h2m-191 1h2m7 0h2m129 0h2m18 0h2m18 0h2m-187 1h2m9 0h2m-1 0h2m2 0h2m1 0h2m0 0h2m138 0h2m2 0h2m-158 1h2m3 0h2m140 0h2m7 0h2m1 0h2m1 0h2m-9 1h2m33 0h2m-39 1h2m-2 0h2m3 0h2m1 0h2m11 0h2m6 0h2m0 0h2m-1 0h2m3 0h2m-39 1h2m20 0h2m15 0h2m-203 1h2m4 0h2m1 0h2m155 0h2m-1 0h2m-1 0h2m37 0h2m-213 1h2m172 0h2m3 0h2m0 0h2m-174 1h2m169 0h2m-2 0h2m32 0h2m-210 1h2m-2 0h2m173 0h2m-189 1h2m6 0h2m183 0h2m25 0h2m-213 1h2m186 0h2m15 0h2m2 0h2m11 0h2m-238 1h2m7 0h2m190 0h2m-2 0h2m0 0h2m4 0h2m19 0h2m-219 1h2m203 0h2m3 0h2m-213 1h2m195 0h2m-204 1h2m-1 0h2m1 0h2m204 0h2m-218 1h2m218 0h2m0 0h2m0 0h2m-222 1h2m5 0h2m202 0h2m17 0h2m-228 1h2m1 0h2m211 0h2m-2 0h2m-225 1h2m-1 0h2m-1 1h2m-1 0h2m2 0h2m213 0h2m10 0h2m0 0h2m-8 1h2m-232 1h2m223 0h2m2 0h2m-230 1h2m224 0h2m-1 0h2m8 0h2m-240 1h2m249 0h2m13 0h2m-272 1h2m238 0h2m3 1h2m-241 1h2m3 0h2m233 0h2m13 0h2m-264 1h2m242 0h2m-7 1h2m12 0h2m-244 1h2m226 0h2m22 0h2m-254 1h2m-1 0h2m-6 1h2m-2 0h2m0 0h2m-1 0h2m229 0h2m0 0h2m-2 0h2m0 0h2m-1 0h2m-1 0h2m1 0h2m-241 1h2m-6 1h2m235 0h2m14 0h2m-260 1h2m242 0h2m-5 1h2m5 0h2m-7 1h2m-2 0h2m33 0h2m-306 1h2m30 0h2m237 0h2m-240 1h2m-1 0h2m-6 1h2m0 0h2m0 0h2m-1 0h2m240 0h2m-250 1h2m-1 0h2m244 0h2m-2 0h2m-256 1h2m9 0h2m240 0h2m-258 1h2m275 0h2m-271 1h2m4 0h2m241 0h2m-249 1h2m-1 0h2m244 0h2m1 0h2m-251 1h2m245 0h2m10 0h2m-11 1h2m-250 1h2m240 0h2m4 1h2m-258 1h2m3 0h2m0 0h2m242 2h2m1 0h2m0 0h2m6 0h2m8 1h2m-278 1h2m258 0h2m-260 1h2m4 0h2m-29 1h2m14 0h2m11 0h2m-10 1h2m2 1h2m0 0h2m-1 0h2m245 0h2m7 0h2m-272 1h2m6 0h2m2 0h2m256 0h2m-259 1h2m244 1h2m-2 0h2m3 0h2m6 0h2m-261 1h2m-1 0h2m-8 1h2m259 0h2m-12 1h2m-263 1h2m9 0h2m265 0h2m-276 1h2m9 0h2m252 0h2m-267 2h2m0 0h2m2 0h2m0 0h2m248 0h2m12 0h2m-275 1h2m-3 1h2m9 0h2m-1 0h2m245 0h2m6 0h2m-263 1h2m254 0h2m-263 1h2m-28 1h2m289 0h2m-8 1h2m-1 0h2m-1 0h2m0 0h2m28 0h2m-311 1h2m23 0h2m246 0h2m-254 1h2m251 0h2m-2 0h2m-261 1h2m256 0h2m-260 2h2m-7 1h2m3 0h2m3 0h2m251 0h2m-267 1h2m8 0h2m0 0h2m257 0h2m-1 0h2m-268 1h2m-2 0h2m-12 1h2m283 0h2m-278 1h2m4 1h2m251 0h2m11 0h2m-266 1h2m-4 1h2m252 1h2m-2 0h2m90 0h2m-350 1h2m262 0h2m5 0h2m-285 1h2m266 0h2m-260 2h2m256 0h2m3 0h2m-280 1h2m269 0h2m11 0h2m-12 1h2m-268 1h2m265 0h2m5 0h2m-273 1h2m-7 1h2m3 0h2m262 1h2m2 0h2m-1 0h2m-268 1h2m-7 1h2m6 0h2m-26 1h2m19 0h2m260 0h2m-263 1h2m260 1h2m11 0h2m-286 1h2m262 1h2m4 0h2m1 0h2m-3 1h2m-10 2h2m3 0h2m-283 1h2m14 0h2m-1 0h2m-2 0h2m268 0h2m-3 1h2m-270 1h2m1 0h2m259 0h2m-265 1h2m258 0h2m-4 1h2m-264 1h2m2 0h2m253 0h2m-1 0h2m3 0h2m-2 0h2m-264 2h2m259 0h2m-265 1h2m259 0h2m-1 0h2m-273 1h2m6 1h2m0 0h2m-4 1h2m258 0h2m-2 1h2m2 0h2m4 0h2m-10 2h2m-1 1h2m-272 1h2m7 0h2m254 1h2m4 0h2m2 0h2m-1 0h2m-2 1h2m7 0h2m-9 1h2m-275 1h2m265 0h2m-279 1h2m285 0h2m-278 1h2m258 0h2m-260 1h2m-7 1h2m267 0h2m-6 1h2m43 0h2m-312 1h2m1 0h2m256 0h2m-274 1h2m9 0h2m264 0h2m-269 1h2m3 0h2m254 1h2m3 1h2m-272 1h2m1 0h2m261 1h2m-268 1h2m261 1h2m-256 1h2m-1 0h2m259 0h2m-276 1h2m11 0h2m251 0h2m7 0h2m3 0h2m-288 1h2m270 1h2m2 0h2m-262 1h2m255 0h2m6 0h2m-9 1h2m28 0h2m-291 1h2m256 0h2m5 0h2m3 0h2m-284 1h2m265 0h2m17 0h2m-276 2h2m-4 1h2m-7 1h2m6 0h2m257 2h2m-259 1h2m282 0h2m-286 1h2m256 0h2m19 0h2m-279 1h2m-11 1h2m258 0h2m-255 1h2m247 0h2m-259 1h2m10 0h2m-3 1h2m-1 0h2m-9 1h2m251 0h2m2 0h2m-259 1h2m2 0h2m247 0h2m1 0h2m-274 1h2m268 0h2m3 0h2m-253 2h2m-18 1h2m7 2h2m1 0h2m237 0h2m22 0h2m22 0h2m-292 1h2m2 0h2m232 0h2m4 0h2m-238 1h2m-1 0h2m-2 0h2m-10 1h2m4 0h2m-2 0h2m230 0h2m3 0h2m2 0h2m0 0h2m-254 1h2m275 0h2m-285 1h2m0 0h2m12 0h2m0 0h2m223 0h2m-256 1h2m259 0h2m-7 1h2m-1 0h2m-260 1h2m19 0h2m5 0h2m226 0h2m-244 1h2m2 0h2m12 0h2m222 1h2m8 0h2m-19 1h2m0 0h2m2 0h2m-245 1h2m6 0h2m4 0h2m224 0h2m-2 0h2m-5 1h2m-225 1h2m1 0h2m207 0h2m5 0h2m24 0h2m-248 1h2m5 0h2m1 0h2m233 0h2m-243 1h2m205 0h2m29 0h2m-1 0h2m5 0h2m12 0h2m42 0h2m-299 1h2m200 0h2m6 0h2m-213 1h2m197 0h2m2 0h2m4 0h2m-2 0h2m12 0h2m-258 1h2m229 0h2m-206 1h2m193 0h2m3 0h2m31 0h2m13 0h2m-62 1h2m0 0h2m0 0h2m12 0h2m18 0h2m-233 1h2m4 0h2m1 0h2m4 0h2m-1 0h2m177 0h2m1 0h2m-2 0h2m0 0h2m-194 1h2m179 0h2m11 0h2m19 0h2m-46 1h2m12 0h2m1 0h2m1 0h2m-222 1h2m36 0h2m161 0h2m4 0h2m11 0h2m4 0h2m-33 1h2m2 0h2m1 0h2m4 0h2m-1 0h2m-1 0h2m20 0h2m30 0h2m-260 1h2m33 0h2m146 0h2m7 0h2m-1 0h2m-2 0h2m0 0h2m2 0h2m3 0h2m-1 0h2m0 0h2m-206 1h2m15 0h2m10 0h2m4 0h2m139 0h2m13 0h2m17 0h2m8 0h2m-198 1h2m3 0h2m5 0h2m128 0h2m0 0h2m-1 0h2m-1 0h2m5 0h2m3 0h2m-1 0h2m0 0h2m9 0h2m-1 0h2m27 0h2m-214 1h2m20 0h2m-1 0h2m109 0h2m-2 0h2m6 0h2m5 0h2m26 0h2m2 0h2m2 0h2m6 0h2m-1 0h2m-67 1h2m2 0h2m10 0h2m0 0h2m25 0h2m28 0h2m-1 0h2m-181 1h2m82 0h2m4 0h2m1 0h2m3 0h2m-2 0h2m7 0h2m4 0h2m6 0h2m2 0h2m10 0h2m8 0h2m-156 1h2m84 0h2m4 0h2m-1 0h2m37 0h2m27 0h2m-158 1h2m17 0h2m43 0h2m3 0h2m-1 0h2m-2 0h2m11 0h2m13 0h2m1 0h2m7 0h2m0 0h2m13 0h2m24 0h2m3 0h2m-166 1h2m11 0h2m9 0h2m8 0h2m20 0h2m-1 0h2m0 0h2m5 0h2m0 0h2m-2 0h2m1 0h2m9 0h2m13 0h2m0 0h2m2 0h2m16 0h2m61 0h2m-181 1h2m-1 0h2m16 0h2m8 0h2m18 0h2m25 0h2m12 0h2m15 0h2m0 0h2m17 0h2m18 0h2m0 0h2m-157 1h2m9 0h2m-2 0h2m-2 0h2m0 0h2m7 0h2m7 0h2m-1 0h2m-1 0h2m-1 0h2m6 0h2m3 0h2m0 0h2m2 0h2m-2 0h2m3 0h2m5 0h2m-2 0h2m0 0h2m9 0h2m0 0h2m26 0h2m-91 1h2m13 0h2m1 0h2m2 0h2m6 0h2m2 0h2m4 0h2m30 0h2m47 0h2m21 0h2m-155 1h2m41 0h2m0 0h2m61 0h2m74 0h2m-158 1h2m-1 0h2m-2 0h2m3 0h2m2 0h2m6 0h2m21 0h2m39 0h2m-127 1h2m2 0h2m14 0h2m2 0h2m1 0h2m17 0h2m-2 0h2m13 0h2m-2 0h2m16 0h2m51 0h2m60 0h2m-209 1h2m47 0h2m2 0h2m8 0h2m47 0h2m12 0h2m-99 1h2m1 0h2m12 0h2m18 0h2m-1 0h2m25 0h2m15 0h2m22 0h2m50 0h2m-113 1h2m49 0h2m25 0h2m10 0h2m51 0h2m-213 1h2m15 0h2m3 0h2m7 0h2m32 0h2m58 0h2m-78 1h2m30 1h2m-4 1h2m19 0h2m3 0h2m-92 1h2m9 1h2m52 0h2m36 0h2m252 0h2m-349 1h2m0 0h2m22 0h2m40 0h2m30 0h2m-33 1h2m9 0h2m12 0h2m-63 1h2m-59 1h2m170 0h2m-52 2h2m-34 2h2m-106 1h2m73 0h2m10 0h2m42 0h2m-12 1h2m-27 1h2m-42 1h2m274 5h2m70 11h2m-290 15h2" stroke="#707070" stroke-width="2.5" fill="none"/>
<clipPath id="cA2"><use href="#oA2"/></clipPath>
<g clip-path="url(#cA2)"><g filter="url(#bl)"><rect x="622" y="259" width="276" height="223" fill="#0000ff"/><path d="M697 475 685 475 684 474 673 474 672 473 667 473 666 472 660 471 651 466 640 454 636 446 635 441 633 437 633 434 632 433 632 430 631 429 631 425 630 424 629 406 630 405 630 396 631 395 631 390 632 389 633 380 634 379 634 375 635 374 635 371 636 370 636 367 637 366 639 359 650 330 654 307 654 295 659 284 663 280 670 276 683 272 706 268 749 268 752 268 793 268 795 269 807 270 808 271 815 272 828 277 831 277 838 280 841 280 848 283 854 284 867 290 878 299 878 300 885 308 890 319 890 323 891 324 891 340 890 341 890 348 889 349 887 366 886 367 885 387 884 388 884 398 883 399 882 408 878 418 878 420 875 426 867 437 863 441 852 449 842 454 840 454 829 459 824 460 823 461 820 461 819 462 816 462 815 463 805 464 804 465 799 465 798 466 792 466 791 467 785 467 784 468 763 469 762 470 751 470 750 471 738 471 737 472 725 472 724 473 711 473 710 474 698 474 697 475Z" fill="#0019ff" fill-rule="evenodd"/><path d="M697 475 673 474 672 473 663 472 654 468 642 457 636 446 635 441 633 437 630 414 632 398 635 386 642 361 655 332 658 319 661 296 664 289 667 286 672 283 684 279 708 275 748 273 752 273 776 272 792 272 813 275 853 285 870 292 878 299 878 300 885 308 890 319 890 323 891 324 891 340 890 341 890 348 889 349 887 366 886 367 885 387 884 388 884 398 883 399 882 408 878 418 878 420 875 426 867 437 863 441 852 449 842 454 840 454 829 459 824 460 823 461 820 461 819 462 816 462 815 463 805 464 804 465 799 465 798 466 792 466 791 467 785 467 784 468 763 469 762 470 751 470 750 471 738 471 737 472 725 472 724 473 711 473 710 474 698 474 697 475Z" fill="#002aff" fill-rule="evenodd"/><path d="M697 475 686 475 684 474 668 472 655 468 648 463 643 457 639 449 637 435 635 421 635 410 637 399 640 387 649 363 655 352 671 325 679 315 685 309 689 306 701 299 713 294 729 289 746 284 774 280 790 279 812 280 852 289 868 295 875 300 881 306 888 317 891 324 891 340 890 341 890 348 889 349 887 366 886 367 886 374 885 375 884 398 883 399 882 408 876 424 863 439 851 448 841 454 826 460 816 462 815 463 805 464 804 465 799 465 798 466 792 466 791 467 785 467 784 468 763 469 762 470 751 470 750 471 738 471 737 472 725 472 724 473 711 473 710 474 698 474 697 475Z" fill="#0044ff" fill-rule="evenodd"/><path d="M723 472 694 472 675 470 665 468 653 463 647 457 644 452 642 444 642 434 643 411 646 401 650 389 656 377 664 366 674 354 685 343 697 333 725 314 740 306 754 300 769 295 782 292 796 289 810 289 837 291 850 294 862 298 870 302 877 308 885 318 888 326 890 339 890 348 889 349 887 366 886 367 885 387 884 388 884 398 883 399 882 403 875 419 863 435 850 445 840 450 821 458 809 462 790 466 772 469 723 472Z" fill="#005cff" fill-rule="evenodd"/><path d="M735 468 694 468 670 465 658 461 654 458 650 453 648 447 648 438 651 427 660 404 670 384 686 364 708 343 732 325 758 312 784 302 809 298 824 298 837 299 848 301 858 304 866 308 875 315 879 320 883 327 886 336 887 346 886 365 883 386 880 402 872 418 864 428 854 437 842 445 829 451 812 458 782 464 760 467 735 468Z" fill="#007dff" fill-rule="evenodd"/><path d="M759 463 720 464 690 462 671 460 662 457 657 453 655 448 655 441 659 431 682 390 696 370 708 357 721 345 734 335 748 326 764 318 780 312 796 308 812 306 828 306 844 309 857 313 868 319 876 327 880 335 883 345 883 358 881 384 878 395 874 405 866 418 856 429 848 435 838 442 822 450 795 458 781 461 759 463Z" fill="#00a0ff" fill-rule="evenodd"/><path d="M759 458 745 458 678 456 670 453 665 450 662 446 662 441 664 435 668 429 686 405 701 380 712 366 721 356 732 346 743 337 755 330 769 323 784 318 799 314 814 313 829 314 843 316 855 321 865 327 872 334 876 343 878 350 879 363 877 383 874 394 870 404 862 415 852 426 842 433 831 440 818 446 806 450 787 455 759 458Z" fill="#00c9ff" fill-rule="evenodd"/><path d="M768 452 685 451 678 450 673 447 671 444 670 440 671 435 675 428 699 399 722 365 739 348 758 335 771 328 784 323 797 320 811 319 824 319 837 321 848 325 858 331 865 337 870 344 873 352 874 362 873 378 871 389 867 399 860 409 852 418 844 425 834 432 822 439 799 447 786 450 768 452Z" fill="#00f1f8" fill-rule="evenodd"/><path d="M708 447 691 447 682 445 679 442 678 440 678 436 679 432 686 422 709 396 732 363 744 351 757 341 771 333 786 328 802 324 817 324 832 326 845 330 856 337 863 346 868 355 869 367 868 379 865 390 860 400 853 410 844 419 834 426 823 433 811 438 798 442 785 445 767 446 735 446 708 447Z" fill="#00feb1" fill-rule="evenodd"/><path d="M708 443 695 443 688 440 686 438 685 435 688 428 694 419 717 394 740 362 751 352 763 343 776 336 790 331 804 329 818 329 831 331 843 335 852 342 859 350 863 359 864 368 863 379 860 390 855 400 848 409 839 417 829 424 809 434 787 439 772 440 738 441 708 443Z" fill="#00ff56" fill-rule="evenodd"/><path d="M712 439 701 439 694 436 693 434 693 431 695 425 701 417 724 393 747 362 756 353 767 345 779 339 792 335 805 333 817 333 829 335 839 339 848 345 855 353 858 361 859 370 858 380 855 389 851 398 844 406 836 414 826 421 809 429 790 434 776 435 745 436 712 439Z" fill="#17ff1f" fill-rule="evenodd"/><path d="M719 435 709 435 702 433 700 429 702 423 708 415 730 392 752 363 760 355 770 348 781 342 793 339 805 337 816 337 827 339 836 343 844 348 850 355 853 363 854 371 854 380 851 388 847 396 841 404 833 411 824 417 808 425 791 429 749 432 719 435Z" fill="#44ff0d" fill-rule="evenodd"/><path d="M725 431 715 431 709 429 707 425 709 420 715 413 736 391 756 364 764 357 773 351 783 346 794 342 805 340 815 341 825 343 833 346 840 351 846 358 849 365 850 372 849 379 847 387 842 395 837 402 830 408 822 414 808 421 793 425 725 431Z" fill="#7cff00" fill-rule="evenodd"/><path d="M731 427 722 427 717 426 715 422 717 417 740 391 759 367 767 359 775 354 784 349 794 346 804 344 813 344 822 346 830 349 837 354 842 360 844 366 845 372 845 379 843 386 839 393 833 400 827 406 820 411 807 417 793 421 731 427Z" fill="#ceff00" fill-rule="evenodd"/><path d="M738 423 730 423 725 422 723 419 725 414 762 369 770 362 777 357 785 353 794 350 803 348 811 348 819 349 827 353 833 357 837 362 840 367 841 373 840 379 838 386 830 398 818 408 806 414 792 417 738 423Z" fill="#f5eb00" fill-rule="evenodd"/><path d="M744 419 737 419 733 417 732 414 733 410 765 372 772 365 779 360 786 356 794 353 802 352 810 352 817 353 824 356 829 359 833 364 835 369 836 374 836 379 834 385 827 396 816 405 805 410 792 414 744 419Z" fill="#ffbb00" fill-rule="evenodd"/><path d="M766 414 746 415 741 413 740 410 742 405 748 397 766 376 776 366 783 362 790 358 804 356 811 356 818 358 824 361 828 365 831 373 831 382 826 391 818 399 809 405 798 409 785 412 766 414Z" fill="#ff7500" fill-rule="evenodd"/><path d="M774 410 754 410 750 409 749 406 750 401 755 394 767 380 775 372 788 363 801 360 808 360 814 361 819 363 823 367 826 373 826 380 823 388 817 395 809 401 799 405 788 408 774 410Z" fill="#ff2d00" fill-rule="evenodd"/><path d="M779 406 762 406 759 405 757 402 758 398 762 392 775 377 786 369 798 364 809 364 814 366 818 369 821 374 821 380 819 386 814 392 808 397 800 401 791 404 779 406Z" fill="#ff0000" fill-rule="evenodd"/></g></g>
<defs><path id="oA3" d="M1155 273 1157 270 1159 266 1163 263 1168 260 1173 257 1180 255 1188 254 1196 252 1205 251 1216 251 1226 251 1237 251 1248 251 1258 251 1269 252 1278 252 1286 253 1292 254 1298 255 1303 256 1306 257 1309 259 1312 260 1316 260 1322 261 1329 261 1337 262 1344 263 1350 265 1357 266 1363 269 1368 271 1374 274 1378 277 1383 281 1386 284 1390 288 1392 293 1395 297 1396 302 1398 308 1399 315 1399 322 1400 330 1399 340 1398 351 1397 362 1396 372 1396 380 1395 387 1394 393 1393 400 1391 406 1388 413 1385 419 1382 424 1378 429 1373 433 1369 437 1363 441 1357 444 1351 446 1344 449 1336 450 1326 452 1315 453 1304 453 1294 454 1287 453 1281 453 1275 452 1270 452 1264 453 1259 454 1254 456 1248 457 1242 458 1235 459 1228 460 1220 460 1213 461 1206 461 1199 462 1192 461 1187 460 1182 458 1177 456 1173 454 1168 450 1164 447 1161 442 1158 437 1156 432 1155 425 1155 418 1155 413 1155 408 1157 404 1158 401 1160 396 1161 391 1162 384 1163 378 1164 372 1164 365 1164 358 1165 351 1166 345 1169 341 1173 338 1176 335 1179 332 1181 329 1183 326 1184 322 1184 319 1184 315 1183 310 1182 306 1179 302 1176 300 1171 298 1167 296 1163 294 1160 292 1158 289 1156 286 1155 283 1154 280 1153 278 1154 276Z"/></defs>
<use href="#oA3" fill="none" stroke="#000" stroke-opacity="0.18" stroke-width="14" stroke-linejoin="round" filter="url(#bl3)"/>
<use href="#oA3" fill="none" stroke="#000" stroke-opacity="0.08" stroke-width="32" stroke-linejoin="round" filter="url(#bl3)"/>
<path d="M1159 135h2m107 1h2m-103 15h2m-51 17h2m210 16h2m-43 6h2m36 7h2m139 11h2m-214 2h2m-26 1h2m48 7h2m236 0h2m-287 6h2m74 1h2m204 0h2m-231 1h2m-35 2h2m-70 1h2m-5 1h2m-7 1h2m67 0h2m85 2h2m8 1h2m-111 2h2m74 0h2m24 0h2m-113 1h2m-1 0h2m25 0h2m38 0h2m-105 1h2m4 0h2m33 0h2m1 0h2m7 0h2m17 0h2m0 0h2m27 0h2m-129 1h2m8 0h2m53 0h2m21 0h2m22 0h2m-71 1h2m50 0h2m96 0h2m14 0h2m-148 1h2m0 0h2m44 0h2m0 0h2m49 0h2m9 0h2m-146 1h2m13 0h2m2 0h2m66 0h2m-122 1h2m23 0h2m32 0h2m24 0h2m22 0h2m6 0h2m5 0h2m-1 0h2m4 0h2m-104 1h2m1 0h2m4 0h2m8 0h2m23 0h2m-1 0h2m67 0h2m-99 1h2m33 0h2m2 0h2m0 0h2m5 0h2m-2 0h2m2 0h2m9 0h2m0 0h2m4 0h2m0 0h2m27 0h2m-119 1h2m3 0h2m13 0h2m21 0h2m6 0h2m0 0h2m4 0h2m8 0h2m4 0h2m6 0h2m11 0h2m11 0h2m38 0h2m-175 1h2m4 0h2m7 0h2m14 0h2m13 0h2m11 0h2m6 0h2m-1 0h2m2 0h2m13 0h2m6 0h2m-98 1h2m11 0h2m-1 0h2m7 0h2m12 0h2m1 0h2m4 0h2m-1 0h2m24 0h2m18 0h2m5 0h2m1 0h2m4 0h2m-1 0h2m2 0h2m9 0h2m34 0h2m-166 1h2m0 0h2m11 0h2m2 0h2m14 0h2m-1 0h2m7 0h2m5 0h2m-2 0h2m13 0h2m-2 0h2m21 0h2m8 0h2m3 0h2m22 0h2m22 0h2m39 0h2m-225 1h2m30 0h2m5 0h2m1 0h2m3 0h2m22 0h2m8 0h2m2 0h2m-1 0h2m5 0h2m12 0h2m11 0h2m3 0h2m5 0h2m1 0h2m2 0h2m8 0h2m45 0h2m21 0h2m-177 1h2m7 0h2m17 0h2m12 0h2m20 0h2m8 0h2m0 0h2m3 0h2m10 0h2m-2 0h2m-1 0h2m15 0h2m2 0h2m72 0h2m9 0h2m-112 1h2m0 0h2m2 0h2m7 0h2m-1 0h2m-121 1h2m3 0h2m4 0h2m3 0h2m-1 0h2m-1 0h2m95 0h2m26 0h2m11 0h2m36 0h2m-252 1h2m63 0h2m-1 0h2m116 0h2m2 0h2m12 0h2m19 0h2m-2 0h2m2 0h2m13 0h2m18 0h2m-215 1h2m133 0h2m6 0h2m5 0h2m7 0h2m61 0h2m5 0h2m-243 1h2m1 0h2m-1 0h2m7 0h2m154 0h2m2 0h2m13 0h2m40 0h2m-211 1h2m-1 0h2m133 0h2m0 0h2m1 0h2m2 0h2m1 0h2m2 0h2m13 0h2m-2 0h2m-174 1h2m-2 0h2m-1 0h2m164 0h2m-1 0h2m2 0h2m2 0h2m5 0h2m-221 1h2m0 0h2m12 0h2m-2 0h2m4 0h2m7 0h2m2 0h2m153 0h2m0 0h2m0 0h2m2 0h2m0 0h2m3 0h2m18 0h2m-195 1h2m-1 0h2m147 0h2m17 0h2m26 0h2m5 0h2m-209 1h2m1 0h2m157 0h2m6 0h2m7 0h2m-1 0h2m12 0h2m33 0h2m-232 1h2m182 0h2m1 0h2m9 0h2m-1 0h2m-2 0h2m20 0h2m-224 1h2m183 0h2m9 0h2m2 0h2m-1 0h2m3 0h2m5 0h2m9 0h2m152 0h2m-416 1h2m10 0h2m0 0h2m15 0h2m193 0h2m0 0h2m3 0h2m5 0h2m9 0h2m-1 0h2m5 0h2m1 0h2m-228 1h2m204 0h2m-1 0h2m-226 1h2m217 0h2m2 0h2m2 0h2m64 0h2m-281 1h2m202 0h2m15 0h2m-233 1h2m216 0h2m-2 0h2m18 0h2m-242 1h2m3 0h2m213 0h2m1 0h2m5 0h2m-232 1h2m235 0h2m2 0h2m-240 1h2m220 0h2m-1 0h2m-229 1h2m228 0h2m3 0h2m2 0h2m-11 1h2m-233 1h2m-1 0h2m-1 0h2m228 0h2m-1 0h2m29 0h2m-255 1h2m224 0h2m-2 0h2m105 0h2m-105 1h2m-237 1h2m231 1h2m0 0h2m0 2h2m1 0h2m7 0h2m-15 1h2m10 0h2m-253 1h2m3 0h2m2 0h2m228 0h2m15 0h2m-14 1h2m-260 1h2m4 0h2m249 0h2m5 0h2m2 0h2m-266 1h2m2 0h2m251 0h2m-239 1h2m234 0h2m1 0h2m-1 0h2m0 0h2m-250 1h2m3 0h2m238 0h2m3 0h2m-2 0h2m7 0h2m0 1h2m-256 1h2m-2 0h2m-1 0h2m234 0h2m1 0h2m3 0h2m-259 1h2m258 0h2m0 0h2m-283 1h2m28 0h2m2 0h2m231 0h2m0 0h2m0 0h2m7 0h2m4 0h2m-254 1h2m-2 0h2m237 0h2m-1 0h2m1 0h2m-2 0h2m-245 1h2m-2 1h2m239 0h2m2 0h2m-254 1h2m7 0h2m247 0h2m-256 1h2m3 0h2m-2 0h2m0 0h2m0 0h2m228 0h2m2 0h2m-1 0h2m-245 1h2m6 0h2m245 0h2m-262 1h2m6 0h2m3 0h2m-1 0h2m-1 0h2m227 0h2m0 0h2m-235 1h2m4 0h2m-8 1h2m0 0h2m230 0h2m6 0h2m-235 1h2m-18 1h2m12 0h2m5 0h2m232 0h2m-261 1h2m4 0h2m7 0h2m-19 1h2m-1 0h2m11 0h2m1 0h2m-1 0h2m0 0h2m-1 0h2m-23 1h2m13 0h2m236 0h2m-254 1h2m17 0h2m1 0h2m3 0h2m-40 1h2m25 0h2m4 0h2m0 0h2m0 0h2m1 0h2m217 0h2m0 0h2m18 0h2m-258 1h2m229 0h2m-221 1h2m224 0h2m-240 1h2m12 0h2m219 0h2m-228 1h2m222 0h2m3 0h2m7 0h2m-267 1h2m251 0h2m-280 1h2m57 0h2m-11 1h2m0 0h2m226 0h2m12 0h2m1 0h2m-246 1h2m3 0h2m227 0h2m0 0h2m-246 1h2m250 0h2m-4 1h2m-247 1h2m7 0h2m217 0h2m-235 1h2m12 0h2m220 0h2m-223 1h2m219 0h2m-1 0h2m5 0h2m-246 1h2m2 0h2m0 0h2m0 0h2m246 0h2m-27 1h2m-221 1h2m221 0h2m10 0h2m-236 1h2m222 0h2m2 0h2m-9 1h2m2 0h2m-254 2h2m21 0h2m237 0h2m-266 1h2m17 0h2m226 0h2m-228 1h2m-1 0h2m226 0h2m-237 1h2m5 0h2m0 0h2m-15 1h2m-9 1h2m241 0h2m-1 0h2m-1 0h2m68 0h2m-338 1h2m18 0h2m11 0h2m3 0h2m225 0h2m-248 1h2m17 0h2m240 0h2m-244 1h2m-1 0h2m227 0h2m-254 1h2m14 0h2m238 0h2m-247 1h2m7 0h2m-3 1h2m-1 0h2m-19 1h2m-2 0h2m7 0h2m236 0h2m8 0h2m14 0h2m-263 1h2m-1 0h2m231 0h2m2 0h2m-1 0h2m-250 1h2m257 0h2m-263 1h2m3 0h2m2 0h2m0 0h2m242 0h2m-248 2h2m246 0h2m2 1h2m-17 1h2m1 0h2m2 0h2m-248 1h2m239 0h2m-244 1h2m237 1h2m13 0h2m-254 1h2m240 0h2m-260 1h2m14 0h2m233 1h2m0 0h2m13 0h2m-274 1h2m18 0h2m234 0h2m4 0h2m-244 1h2m-9 1h2m5 0h2m234 0h2m0 0h2m6 0h2m-13 1h2m-1 0h2m-3 1h2m-242 1h2m242 0h2m-1 0h2m-252 1h2m5 0h2m1 0h2m-12 3h2m3 0h2m2 0h2m240 0h2m6 0h2m-254 1h2m1 1h2m233 0h2m-250 1h2m-9 1h2m13 0h2m239 0h2m0 0h2m1 0h2m1 0h2m-2 0h2m-261 1h2m4 0h2m241 0h2m10 0h2m-249 1h2m237 0h2m-246 1h2m0 0h2m237 0h2m2 0h2m-8 1h2m5 0h2m-254 1h2m9 0h2m235 0h2m-253 1h2m247 0h2m-271 1h2m25 0h2m249 0h2m0 0h2m-265 1h2m6 0h2m4 0h2m-1 1h2m-25 1h2m12 0h2m2 0h2m3 0h2m239 0h2m-245 1h2m-1 0h2m245 0h2m-12 1h2m-277 1h2m35 0h2m0 0h2m-19 1h2m253 0h2m-267 1h2m289 0h2m-30 1h2m1 0h2m28 1h2m-276 1h2m238 0h2m1 0h2m-2 0h2m-2 0h2m1 0h2m1 0h2m-255 1h2m4 0h2m0 0h2m245 0h2m-253 1h2m0 0h2m251 0h2m-16 2h2m0 0h2m-241 1h2m234 0h2m3 0h2m-4 2h2m-280 1h2m276 0h2m78 0h2m-86 1h2m-2 0h2m1 0h2m-240 1h2m236 0h2m-247 1h2m253 0h2m-251 1h2m237 0h2m4 0h2m-12 1h2m-2 0h2m6 0h2m16 0h2m-28 1h2m-271 1h2m28 0h2m0 0h2m-2 0h2m0 0h2m-8 1h2m244 0h2m-258 1h2m11 0h2m246 0h2m5 0h2m-256 1h2m251 0h2m17 0h2m-309 3h2m271 0h2m8 0h2m-256 1h2m242 0h2m16 0h2m-267 1h2m3 0h2m236 0h2m-2 0h2m14 0h2m-18 1h2m-1 0h2m3 0h2m-1 1h2m-265 1h2m263 1h2m-252 1h2m1 0h2m-8 1h2m0 0h2m240 0h2m-2 1h2m-1 0h2m15 0h2m-272 1h2m11 0h2m-1 0h2m243 0h2m4 0h2m-258 1h2m236 0h2m7 0h2m13 0h2m-260 1h2m-35 1h2m28 0h2m2 0h2m235 0h2m-245 1h2m241 0h2m2 0h2m-263 1h2m250 0h2m2 0h2m18 0h2m-265 1h2m240 0h2m-1 0h2m6 0h2m-248 1h2m231 0h2m-236 1h2m3 0h2m231 0h2m5 0h2m-249 1h2m239 0h2m-252 1h2m8 0h2m232 0h2m-1 0h2m7 0h2m-9 1h2m29 0h2m-273 1h2m-1 0h2m5 0h2m-1 1h2m222 0h2m5 0h2m1 0h2m-240 1h2m-1 0h2m236 0h2m-239 1h2m223 0h2m-1 0h2m-2 0h2m2 1h2m-242 1h2m234 0h2m0 0h2m-248 1h2m13 0h2m4 0h2m221 0h2m-2 0h2m-230 1h2m-4 1h2m5 0h2m213 0h2m7 0h2m-1 0h2m-2 0h2m67 0h2m-297 1h2m-1 0h2m223 0h2m-229 1h2m1 0h2m217 0h2m-241 1h2m10 1h2m218 0h2m10 0h2m-226 1h2m211 0h2m1 0h2m-221 1h2m210 0h2m-1 0h2m-217 1h2m-1 0h2m1 0h2m0 0h2m227 0h2m-243 1h2m3 0h2m225 0h2m12 0h2m-33 1h2m-1 0h2m28 0h2m-26 1h2m25 0h2m-247 1h2m6 0h2m-2 0h2m199 0h2m1 0h2m17 0h2m-233 1h2m5 0h2m191 0h2m8 0h2m2 0h2m18 0h2m-238 1h2m199 0h2m0 0h2m24 0h2m-219 1h2m2 0h2m184 0h2m5 0h2m1 0h2m-213 1h2m200 0h2m2 0h2m1 0h2m10 0h2m-214 1h2m2 0h2m4 0h2m167 0h2m21 0h2m2 0h2m11 0h2m-213 1h2m2 0h2m-2 0h2m159 0h2m10 0h2m5 0h2m8 0h2m4 0h2m-220 1h2m13 0h2m97 0h2m4 0h2m2 0h2m1 0h2m40 0h2m-1 0h2m0 0h2m6 0h2m-1 0h2m0 0h2m-2 0h2m0 0h2m17 0h2m21 0h2m0 0h2m-237 1h2m4 0h2m3 0h2m16 0h2m-2 0h2m102 0h2m29 0h2m9 0h2m0 0h2m4 0h2m12 0h2m35 0h2m-114 1h2m-1 0h2m9 0h2m5 0h2m1 0h2m0 0h2m0 0h2m3 0h2m0 0h2m17 0h2m26 0h2m0 0h2m14 0h2m3 0h2m-195 1h2m76 0h2m6 0h2m-1 0h2m2 0h2m4 0h2m0 0h2m1 0h2m-1 0h2m2 0h2m-2 0h2m3 0h2m9 0h2m6 0h2m0 0h2m2 0h2m2 0h2m4 0h2m20 0h2m6 0h2m0 0h2m-192 1h2m96 0h2m3 0h2m23 0h2m4 0h2m4 0h2m-1 0h2m2 0h2m17 0h2m2 0h2m-162 1h2m0 0h2m65 0h2m11 0h2m11 0h2m5 0h2m30 0h2m10 0h2m5 0h2m4 0h2m12 0h2m-174 1h2m5 0h2m60 0h2m9 0h2m15 0h2m-1 0h2m6 0h2m4 0h2m0 0h2m0 0h2m22 0h2m21 0h2m-172 1h2m11 0h2m2 0h2m-1 0h2m47 0h2m3 0h2m18 0h2m7 0h2m4 0h2m32 0h2m8 0h2m31 0h2m52 0h2m-217 1h2m27 0h2m20 0h2m1 0h2m13 0h2m9 0h2m17 0h2m6 0h2m5 0h2m-136 1h2m0 0h2m13 0h2m2 0h2m8 0h2m4 0h2m1 0h2m-1 0h2m0 0h2m1 0h2m0 0h2m9 0h2m-1 0h2m4 0h2m9 0h2m26 0h2m5 0h2m3 0h2m5 0h2m17 0h2m3 0h2m23 0h2m-189 1h2m33 0h2m6 0h2m2 0h2m13 0h2m0 0h2m37 0h2m23 0h2m9 0h2m-1 0h2m44 0h2m-159 1h2m9 0h2m11 0h2m0 0h2m-2 0h2m21 0h2m4 0h2m0 0h2m19 0h2m21 0h2m-2 0h2m6 0h2m26 0h2m33 0h2m-190 1h2m4 0h2m22 0h2m26 0h2m1 0h2m32 0h2m-2 0h2m26 0h2m-107 1h2m3 0h2m33 0h2m10 0h2m9 0h2m0 0h2m-83 1h2m19 0h2m-2 0h2m15 0h2m25 0h2m20 0h2m22 0h2m11 0h2m24 0h2m6 0h2m9 0h2m-162 1h2m32 0h2m-1 0h2m63 0h2m14 0h2m-102 1h2m11 0h2m2 0h2m83 0h2m-95 1h2m7 0h2m104 0h2m-128 1h2m27 0h2m-43 1h2m24 0h2m30 0h2m-40 1h2m28 0h2m96 0h2m-175 1h2m61 0h2m17 0h2m29 0h2m53 0h2m-109 1h2m169 0h2m-201 2h2m6 0h2m93 0h2m-90 1h2m68 2h2m4 0h2m-59 2h2m-54 2h2m54 3h2m100 1h2m-19 1h2m88 2h2m48 2h2m8 29h2m-234 2h2m294 13h2m-315 1h2" stroke="#1a1a1a" stroke-width="2.5" fill="none"/><path d="M1134 156h2m395 12h2m-282 45h2m67 1h2m-91 1h2m-59 2h2m120 2h2m11 1h2m-146 3h2m12 0h2m77 2h2m13 0h2m20 0h2m-64 4h2m0 1h2m29 1h2m-49 1h2m5 0h2m41 0h2m8 0h2m-149 3h2m30 0h2m16 0h2m5 0h2m62 1h2m10 0h2m41 0h2m-114 2h2m5 0h2m32 0h2m47 0h2m147 0h2m-238 1h2m6 0h2m24 0h2m15 0h2m5 0h2m14 0h2m68 0h2m-135 1h2m26 0h2m4 0h2m11 0h2m13 0h2m1 0h2m107 0h2m-206 1h2m13 0h2m18 0h2m97 0h2m-106 1h2m28 0h2m9 0h2m3 0h2m-108 1h2m30 0h2m15 0h2m19 0h2m69 0h2m6 0h2m47 0h2m-145 1h2m13 0h2m32 0h2m6 0h2m48 0h2m24 0h2m-157 1h2m24 0h2m9 0h2m20 0h2m9 0h2m1 0h2m11 0h2m-91 1h2m15 0h2m22 0h2m3 0h2m1 0h2m0 0h2m45 0h2m0 0h2m5 0h2m13 0h2m-141 1h2m4 0h2m7 0h2m24 0h2m4 0h2m3 0h2m51 0h2m19 0h2m32 0h2m22 0h2m6 0h2m27 0h2m-224 1h2m27 0h2m3 0h2m43 0h2m2 0h2m-2 0h2m92 0h2m-159 1h2m-1 0h2m16 0h2m-1 0h2m22 0h2m-2 0h2m1 0h2m3 0h2m8 0h2m6 0h2m3 0h2m3 0h2m10 0h2m18 0h2m-156 1h2m19 0h2m22 0h2m-2 0h2m9 0h2m0 0h2m13 0h2m43 0h2m8 0h2m31 0h2m-137 1h2m6 0h2m23 0h2m0 0h2m60 0h2m3 0h2m-2 0h2m2 0h2m11 0h2m-1 0h2m41 0h2m2 0h2m10 0h2m-171 1h2m15 0h2m4 0h2m76 0h2m56 0h2m0 0h2m-177 1h2m142 0h2m15 0h2m29 0h2m-224 1h2m43 0h2m-1 0h2m5 0h2m105 0h2m-1 0h2m40 0h2m-181 1h2m17 0h2m120 0h2m7 1h2m3 0h2m-1 0h2m0 0h2m14 0h2m-25 1h2m-1 0h2m11 0h2m-167 1h2m9 0h2m162 0h2m16 0h2m10 0h2m-193 1h2m147 0h2m27 0h2m-190 1h2m2 0h2m160 0h2m-178 1h2m7 0h2m2 0h2m188 0h2m-201 1h2m184 0h2m8 0h2m-219 1h2m11 0h2m12 0h2m193 0h2m0 0h2m1 0h2m5 0h2m-211 1h2m190 0h2m1 0h2m3 0h2m-204 1h2m198 0h2m6 0h2m14 0h2m-237 1h2m208 0h2m24 0h2m-228 1h2m219 0h2m-14 2h2m1 0h2m26 0h2m-14 2h2m-234 1h2m231 0h2m0 0h2m5 0h2m2 0h2m-246 1h2m286 0h2m-302 1h2m233 1h2m-2 0h2m3 0h2m-233 1h2m242 1h2m-261 1h2m244 1h2m-232 1h2m235 0h2m-1 0h2m-265 1h2m25 0h2m-5 1h2m244 0h2m-255 1h2m7 0h2m232 0h2m9 0h2m-249 2h2m240 0h2m-4 1h2m-2 1h2m0 0h2m-2 1h2m-262 1h2m15 0h2m5 1h2m236 0h2m-1 0h2m-4 1h2m4 0h2m4 0h2m4 1h2m-255 1h2m-2 1h2m235 1h2m8 1h2m-244 1h2m0 1h2m0 0h2m242 0h2m-261 2h2m1 0h2m17 2h2m1 0h2m-13 1h2m4 0h2m0 0h2m0 0h2m-18 2h2m5 0h2m-2 1h2m-10 1h2m18 0h2m217 0h2m20 0h2m-267 1h2m18 0h2m223 0h2m-226 1h2m-4 2h2m5 0h2m-2 1h2m-5 1h2m226 0h2m23 0h2m-303 1h2m46 1h2m224 0h2m-240 2h2m237 0h2m-2 0h2m-2 0h2m-225 1h2m221 0h2m-224 1h2m-12 2h2m5 0h2m0 0h2m-26 1h2m18 0h2m3 0h2m220 0h2m-6 1h2m-252 1h2m2 0h2m25 1h2m216 0h2m0 0h2m-238 1h2m11 0h2m-1 0h2m-35 1h2m261 0h2m-247 3h2m245 0h2m-255 1h2m3 0h2m6 0h2m2 0h2m0 0h2m-1 0h2m220 0h2m87 0h2m-318 2h2m2 0h2m229 0h2m-5 1h2m10 0h2m-13 1h2m-247 1h2m6 0h2m-12 1h2m1 0h2m2 0h2m0 0h2m-1 2h2m232 0h2m-237 1h2m237 1h2m-255 1h2m8 0h2m239 0h2m-243 1h2m235 1h2m-239 2h2m236 0h2m0 0h2m-7 1h2m-244 1h2m-2 0h2m-1 0h2m238 0h2m2 0h2m8 0h2m2 0h2m-19 3h2m1 0h2m2 0h2m-8 1h2m9 0h2m-6 1h2m-247 1h2m238 0h2m-4 2h2m0 0h2m0 0h2m-245 1h2m-2 1h2m235 0h2m7 0h2m0 0h2m-6 1h2m-250 1h2m240 0h2m-253 1h2m12 0h2m234 0h2m11 1h2m-266 1h2m13 0h2m255 0h2m-266 1h2m4 0h2m233 0h2m9 0h2m-247 2h2m-9 1h2m257 0h2m-256 2h2m-2 1h2m1 0h2m-5 1h2m-1 0h2m233 1h2m-1 0h2m-239 1h2m242 0h2m-265 1h2m16 0h2m235 0h2m11 1h2m-15 1h2m-2 0h2m-239 1h2m235 0h2m-1 0h2m-244 1h2m4 0h2m-1 0h2m-13 1h2m4 0h2m3 0h2m-4 1h2m233 0h2m1 1h2m-2 1h2m4 0h2m-251 1h2m242 0h2m-1 1h2m4 1h2m-11 2h2m7 0h2m-255 1h2m239 1h2m-243 2h2m241 0h2m63 0h2m-306 1h2m242 0h2m-248 2h2m236 1h2m1 0h2m-242 1h2m235 0h2m-1 0h2m-2 0h2m1 1h2m-263 2h2m266 1h2m2 0h2m-260 3h2m0 0h2m238 0h2m-3 1h2m14 0h2m-254 1h2m238 0h2m-1 0h2m-1 0h2m-1 0h2m-272 1h2m22 0h2m240 0h2m6 0h2m-13 1h2m2 0h2m-247 1h2m-2 0h2m-2 0h2m253 0h2m-259 1h2m-2 2h2m243 0h2m-1 0h2m-258 1h2m250 0h2m7 0h2m-253 1h2m247 0h2m-250 1h2m0 0h2m-7 1h2m241 0h2m2 0h2m-242 1h2m237 1h2m-1 0h2m-252 1h2m2 0h2m2 0h2m0 0h2m236 0h2m-2 0h2m-242 1h2m236 0h2m-252 1h2m3 0h2m240 0h2m1 0h2m0 1h2m-248 1h2m5 0h2m-10 1h2m-1 1h2m235 0h2m-244 2h2m241 0h2m-237 1h2m4 2h2m227 0h2m-232 2h2m222 0h2m-2 0h2m-1 0h2m8 0h2m-1 0h2m-17 1h2m17 1h2m-15 1h2m1 0h2m-236 1h2m223 0h2m-234 2h2m7 0h2m216 0h2m-3 1h2m-2 0h2m-231 1h2m14 0h2m208 1h2m5 0h2m4 0h2m1 0h2m-227 1h2m0 0h2m-2 0h2m-8 1h2m1 0h2m1 0h2m226 1h2m6 0h2m-257 1h2m17 0h2m-11 1h2m8 0h2m194 0h2m12 0h2m-222 1h2m220 0h2m1 0h2m-228 1h2m10 0h2m197 0h2m-200 1h2m184 0h2m1 0h2m5 0h2m5 0h2m-228 1h2m14 0h2m184 0h2m35 0h2m-229 1h2m192 0h2m1 0h2m-190 1h2m7 0h2m-15 1h2m6 0h2m4 0h2m102 0h2m-2 0h2m-2 0h2m61 0h2m37 0h2m10 0h2m-122 1h2m0 0h2m39 0h2m1 0h2m2 0h2m-160 1h2m103 0h2m10 0h2m12 0h2m19 0h2m0 0h2m18 0h2m10 0h2m17 0h2m11 0h2m-108 1h2m0 0h2m7 0h2m0 0h2m0 0h2m7 0h2m10 0h2m5 0h2m-2 0h2m-145 1h2m125 0h2m8 0h2m-49 1h2m3 0h2m19 0h2m18 0h2m5 0h2m0 0h2m13 0h2m16 0h2m-182 1h2m3 0h2m102 0h2m25 0h2m10 0h2m2 0h2m28 0h2m2 0h2m-112 1h2m-1 0h2m44 0h2m9 0h2m12 0h2m4 0h2m10 0h2m2 0h2m-109 1h2m4 0h2m3 0h2m2 0h2m-2 0h2m23 0h2m2 0h2m25 0h2m28 0h2m-157 1h2m40 0h2m2 0h2m5 0h2m18 0h2m30 0h2m107 0h2m-210 1h2m-1 0h2m1 0h2m5 0h2m1 0h2m8 0h2m19 0h2m51 0h2m15 0h2m74 0h2m-231 1h2m13 0h2m39 0h2m10 0h2m10 0h2m-1 0h2m1 0h2m22 0h2m10 0h2m25 0h2m-102 1h2m25 0h2m-2 0h2m4 0h2m6 0h2m13 0h2m0 0h2m38 0h2m-113 1h2m5 0h2m10 0h2m0 0h2m32 0h2m86 0h2m-160 1h2m52 0h2m13 0h2m3 0h2m8 0h2m7 0h2m84 0h2m-155 1h2m22 0h2m4 0h2m2 0h2m59 0h2m11 0h2m-132 1h2m40 0h2m9 0h2m-28 2h2m-29 1h2m12 0h2m5 0h2m-2 0h2m-6 1h2m52 1h2m85 1h2m-166 1h2m74 0h2m10 0h2m-23 1h2m152 0h2m-160 2h2m7 1h2m19 1h2m86 1h2m-167 1h2m1 0h2m15 0h2m60 4h2m272 9h2m-198 3h2m-123 2h2m16 22h2m-57 12h2m64 4h2" stroke="#707070" stroke-width="2.5" fill="none"/>
<clipPath id="cA3"><use href="#oA3"/></clipPath>
<g clip-path="url(#cA3)"><g filter="url(#bl)"><rect x="1147" y="244" width="259" height="224" fill="#0000ff"/><path d="M1211 461 1193 461 1182 457 1176 453 1166 444 1161 436 1159 429 1157 412 1162 399 1164 390 1167 368 1167 353 1168 347 1171 342 1176 338 1181 332 1185 325 1186 316 1184 307 1182 303 1178 298 1164 291 1158 282 1156 276 1160 269 1163 265 1171 260 1179 257 1200 253 1213 252 1215 252 1242 251 1274 252 1275 253 1284 253 1285 254 1296 255 1297 256 1307 258 1314 261 1320 261 1321 262 1336 262 1337 263 1348 264 1352 266 1355 266 1356 267 1361 268 1375 275 1383 281 1392 292 1396 302 1396 305 1398 310 1398 317 1399 318 1399 343 1398 344 1398 354 1397 355 1396 374 1395 375 1395 388 1394 389 1394 395 1393 396 1393 399 1390 406 1390 408 1380 426 1366 439 1354 445 1346 447 1345 448 1338 449 1337 450 1324 451 1323 452 1311 452 1310 453 1264 452 1260 454 1257 454 1253 456 1249 456 1248 457 1234 458 1233 459 1225 459 1224 460 1212 460 1211 461Z" fill="#0019ff" fill-rule="evenodd"/><path d="M1224 460 1212 459 1210 460 1194 457 1189 455 1179 449 1172 442 1168 436 1165 428 1164 414 1168 401 1169 390 1173 349 1185 334 1188 326 1190 316 1189 306 1186 299 1181 293 1168 285 1164 279 1164 276 1167 269 1173 264 1180 261 1201 256 1216 255 1235 254 1282 255 1303 258 1310 259 1314 261 1320 261 1321 262 1336 262 1337 263 1348 264 1352 266 1355 266 1356 267 1361 268 1375 275 1383 281 1392 292 1396 302 1396 305 1398 310 1398 317 1399 318 1399 343 1398 344 1398 354 1397 355 1396 374 1395 375 1395 388 1394 389 1394 395 1393 396 1393 399 1390 406 1390 408 1380 426 1366 439 1354 445 1346 447 1345 448 1338 449 1337 450 1324 451 1323 452 1311 452 1310 453 1290 453 1284 453 1282 452 1264 451 1247 457 1234 458 1233 459 1225 459 1224 460Z" fill="#002aff" fill-rule="evenodd"/><path d="M1231 456 1222 457 1208 455 1196 450 1187 442 1184 436 1180 428 1179 413 1182 356 1183 352 1191 337 1196 323 1197 314 1198 293 1198 288 1197 284 1185 273 1184 271 1185 268 1189 265 1196 263 1217 259 1251 258 1281 259 1302 261 1313 264 1334 265 1346 266 1362 271 1374 277 1382 283 1391 293 1396 302 1396 305 1397 306 1397 309 1398 310 1398 317 1399 318 1399 343 1398 344 1398 354 1397 355 1396 374 1395 375 1395 388 1394 389 1394 395 1393 396 1393 399 1390 406 1390 408 1380 426 1366 439 1354 444 1336 449 1308 451 1285 449 1282 448 1264 448 1246 453 1231 456Z" fill="#0044ff" fill-rule="evenodd"/><path d="M1232 450 1229 451 1218 450 1211 447 1205 443 1201 437 1198 430 1194 410 1193 384 1194 360 1197 349 1204 328 1211 312 1218 302 1225 295 1238 287 1242 283 1242 281 1238 279 1216 272 1213 270 1212 268 1217 265 1221 264 1244 263 1292 265 1320 269 1333 269 1345 271 1358 274 1372 281 1381 287 1389 296 1396 311 1399 325 1399 343 1398 344 1398 354 1397 355 1396 374 1395 375 1395 388 1394 389 1393 399 1389 410 1378 425 1364 436 1352 442 1335 446 1320 447 1307 447 1278 442 1264 441 1244 448 1232 450Z" fill="#005cff" fill-rule="evenodd"/><path d="M1335 441 1319 442 1306 441 1293 438 1273 432 1264 430 1256 432 1236 439 1226 440 1219 437 1214 432 1210 424 1206 413 1204 390 1205 366 1210 346 1219 329 1225 321 1233 315 1254 303 1284 282 1291 279 1298 277 1315 275 1332 275 1351 278 1363 282 1377 291 1383 297 1389 305 1395 320 1398 342 1398 354 1397 355 1397 364 1396 365 1395 387 1393 394 1389 404 1380 418 1375 423 1367 430 1351 438 1335 441Z" fill="#007dff" fill-rule="evenodd"/><path d="M1338 435 1327 436 1318 435 1304 433 1291 428 1268 416 1260 414 1252 414 1236 420 1229 420 1225 418 1221 413 1218 406 1216 397 1215 382 1217 367 1221 354 1228 343 1234 337 1251 324 1272 305 1283 297 1298 288 1314 284 1330 282 1344 284 1358 288 1372 295 1382 304 1388 314 1392 323 1395 337 1396 352 1394 373 1390 393 1384 406 1374 418 1364 426 1350 432 1338 435Z" fill="#00a0ff" fill-rule="evenodd"/><path d="M1336 429 1326 429 1316 428 1305 425 1296 421 1281 412 1256 391 1241 384 1239 382 1238 378 1239 370 1243 361 1263 330 1277 313 1288 304 1300 297 1312 292 1325 290 1339 290 1352 293 1364 298 1374 306 1382 315 1387 324 1391 338 1393 351 1392 371 1389 385 1385 396 1380 404 1372 413 1361 421 1349 426 1336 429Z" fill="#00c9ff" fill-rule="evenodd"/><path d="M1334 423 1322 423 1310 420 1299 415 1288 408 1277 397 1269 386 1264 375 1263 365 1264 353 1268 341 1275 328 1283 318 1293 309 1304 302 1316 298 1328 297 1340 297 1351 300 1362 305 1371 311 1378 319 1384 329 1388 339 1389 351 1388 370 1386 382 1383 391 1376 402 1368 410 1358 417 1346 421 1334 423Z" fill="#00f1f8" fill-rule="evenodd"/><path d="M1338 417 1326 417 1315 415 1305 412 1295 405 1286 397 1279 388 1274 378 1272 367 1271 356 1274 345 1279 334 1285 325 1293 316 1303 310 1313 305 1324 303 1335 302 1346 304 1356 308 1365 314 1373 321 1379 330 1383 338 1385 350 1386 360 1383 376 1381 384 1375 395 1368 403 1359 410 1349 415 1338 417Z" fill="#00feb1" fill-rule="evenodd"/><path d="M1337 412 1326 412 1316 410 1307 407 1298 401 1290 394 1284 385 1280 376 1278 366 1278 356 1280 346 1284 336 1290 327 1297 320 1306 314 1315 310 1325 308 1335 308 1345 309 1354 313 1362 318 1370 325 1375 333 1379 341 1381 351 1382 360 1380 372 1377 383 1372 392 1365 400 1357 405 1347 410 1337 412Z" fill="#00ff56" fill-rule="evenodd"/><path d="M1340 407 1330 408 1321 407 1312 404 1304 400 1297 394 1290 386 1286 378 1283 369 1282 360 1284 350 1287 341 1291 333 1297 326 1305 320 1313 316 1322 313 1331 312 1340 313 1349 316 1357 320 1364 325 1370 333 1374 340 1377 349 1378 359 1377 369 1374 379 1370 387 1364 394 1357 400 1349 404 1340 407Z" fill="#17ff1f" fill-rule="evenodd"/><path d="M1338 403 1329 404 1321 402 1313 400 1305 395 1299 390 1294 383 1290 375 1288 367 1287 358 1288 350 1291 342 1295 335 1301 328 1308 323 1316 319 1324 317 1333 316 1341 318 1349 320 1356 324 1362 329 1367 336 1371 344 1373 352 1374 360 1373 369 1370 378 1366 385 1361 391 1354 397 1346 401 1338 403Z" fill="#44ff0d" fill-rule="evenodd"/><path d="M1337 399 1329 400 1322 399 1314 396 1308 392 1302 387 1297 381 1294 374 1292 366 1291 358 1292 351 1295 343 1299 337 1304 331 1311 326 1318 323 1325 321 1333 320 1340 321 1348 324 1354 328 1360 333 1364 339 1368 346 1370 354 1370 361 1369 369 1367 376 1363 383 1358 389 1352 394 1345 397 1337 399Z" fill="#7cff00" fill-rule="evenodd"/><path d="M1338 395 1331 396 1324 395 1317 393 1311 390 1305 385 1301 380 1298 374 1296 367 1295 360 1296 353 1298 346 1301 340 1305 335 1311 330 1317 327 1324 325 1331 324 1338 325 1345 327 1351 330 1356 334 1361 340 1364 346 1366 353 1367 360 1366 367 1364 374 1360 380 1356 385 1351 390 1345 393 1338 395Z" fill="#ceff00" fill-rule="evenodd"/><path d="M1338 391 1326 392 1320 390 1314 387 1305 379 1302 373 1300 367 1299 355 1301 349 1304 343 1308 338 1312 334 1318 331 1324 329 1336 328 1342 330 1348 333 1353 337 1357 342 1360 347 1362 353 1362 365 1361 371 1358 377 1354 382 1350 386 1344 389 1338 391Z" fill="#f5eb00" fill-rule="evenodd"/><path d="M1333 388 1322 387 1312 381 1306 372 1303 362 1304 351 1310 341 1319 335 1329 332 1340 333 1350 339 1356 347 1359 358 1358 369 1352 379 1344 385 1333 388Z" fill="#ffbb00" fill-rule="evenodd"/><path d="M1333 384 1323 383 1315 378 1310 371 1307 362 1308 352 1313 344 1320 339 1329 336 1339 337 1347 342 1352 349 1355 358 1354 368 1349 376 1342 381 1333 384Z" fill="#ff7500" fill-rule="evenodd"/><path d="M1336 379 1328 380 1321 377 1315 372 1312 365 1311 357 1314 350 1319 344 1326 341 1334 340 1341 343 1347 348 1350 355 1351 363 1348 370 1343 376 1336 379Z" fill="#ff2d00" fill-rule="evenodd"/><path d="M1335 374 1329 375 1324 373 1319 369 1317 364 1316 358 1318 353 1322 348 1327 346 1333 345 1338 347 1343 351 1345 356 1346 362 1344 367 1340 372 1335 374Z" fill="#ff0000" fill-rule="evenodd"/></g></g>
<defs><path id="oA4" d="M1681 299 1685 295 1689 291 1694 288 1699 284 1703 282 1707 281 1711 280 1717 279 1724 278 1732 278 1741 277 1750 277 1759 277 1770 277 1780 277 1791 277 1802 277 1813 277 1823 277 1832 277 1839 278 1844 278 1849 280 1853 281 1858 283 1862 286 1866 289 1870 293 1873 296 1875 299 1878 303 1880 308 1881 313 1882 319 1882 325 1883 332 1883 340 1883 348 1883 357 1883 365 1883 374 1883 382 1882 390 1881 398 1880 405 1878 411 1876 417 1873 423 1870 429 1866 436 1861 442 1857 447 1852 451 1848 454 1843 457 1837 459 1830 460 1823 461 1815 461 1807 462 1799 463 1791 464 1783 464 1774 465 1766 467 1758 468 1750 469 1742 470 1733 472 1725 473 1717 474 1709 475 1700 475 1692 475 1683 475 1676 474 1669 472 1663 470 1657 467 1651 464 1646 460 1641 455 1637 450 1633 444 1630 438 1628 432 1627 426 1626 419 1626 412 1627 405 1628 397 1630 390 1632 381 1634 372 1637 364 1640 357 1642 352 1644 348 1647 345 1650 342 1653 339 1657 335 1661 332 1664 329 1667 326 1669 323 1671 319 1672 316 1674 312 1676 308 1678 303Z"/></defs>
<use href="#oA4" fill="none" stroke="#000" stroke-opacity="0.36" stroke-width="20" stroke-linejoin="round" filter="url(#bl3)"/>
<use href="#oA4" fill="none" stroke="#000" stroke-opacity="0.18" stroke-width="44" stroke-linejoin="round" filter="url(#bl3)"/>
<use href="#oA4" fill="none" stroke="#000" stroke-opacity="0.08" stroke-width="72" stroke-linejoin="round" filter="url(#bl3)"/>
<path d="M1695 134h2m-49 1h2m14 11h2m-34 8h2m208 5h2m184 7h2m-87 13h2m-23 17h2m-293 29h2m187 3h2m-70 11h2m18 0h2m-74 3h2m19 0h2m35 1h2m17 0h2m-27 2h2m-48 2h2m54 1h2m24 0h2m-61 1h2m5 0h2m26 0h2m-2 1h2m11 0h2m62 0h2m44 0h2m-103 1h2m51 1h2m-126 1h2m38 0h2m4 0h2m-1 0h2m65 0h2m20 0h2m-164 1h2m-28 1h2m33 0h2m75 0h2m-73 1h2m23 0h2m43 0h2m13 0h2m19 0h2m-46 1h2m54 0h2m-152 1h2m37 0h2m6 0h2m2 0h2m59 0h2m4 0h2m-50 1h2m16 0h2m7 0h2m30 0h2m8 0h2m-71 1h2m19 0h2m12 0h2m13 0h2m-1 0h2m3 0h2m-140 1h2m42 0h2m4 0h2m1 0h2m61 0h2m12 0h2m-1 0h2m30 0h2m0 0h2m4 0h2m-87 1h2m28 0h2m54 0h2m-114 1h2m45 0h2m3 0h2m-51 1h2m17 0h2m5 0h2m30 0h2m9 0h2m29 0h2m9 0h2m-173 1h2m29 0h2m5 0h2m17 0h2m4 0h2m6 0h2m13 0h2m15 0h2m5 0h2m1 0h2m32 0h2m53 0h2m-177 1h2m11 0h2m10 0h2m12 0h2m11 0h2m1 0h2m1 0h2m9 0h2m8 0h2m4 0h2m20 0h2m-2 0h2m8 0h2m4 0h2m17 0h2m1 0h2m-150 1h2m21 0h2m1 0h2m1 0h2m0 0h2m68 0h2m7 0h2m0 0h2m2 0h2m6 0h2m8 0h2m4 0h2m12 0h2m30 0h2m-188 1h2m0 0h2m22 0h2m2 0h2m7 0h2m8 0h2m7 0h2m13 0h2m-1 0h2m1 0h2m6 0h2m13 0h2m7 0h2m11 0h2m-108 1h2m-1 0h2m14 0h2m11 0h2m2 0h2m7 0h2m-2 0h2m5 0h2m12 0h2m-1 0h2m1 0h2m5 0h2m21 0h2m12 0h2m26 0h2m6 0h2m-180 1h2m31 0h2m5 0h2m6 0h2m13 0h2m7 0h2m2 0h2m3 0h2m-2 0h2m-2 0h2m23 0h2m3 0h2m-2 0h2m1 0h2m5 0h2m1 0h2m0 0h2m-1 0h2m8 0h2m2 0h2m9 0h2m4 0h2m24 0h2m6 0h2m12 0h2m-174 1h2m12 0h2m4 0h2m0 0h2m3 0h2m10 0h2m4 0h2m4 0h2m0 0h2m3 0h2m11 0h2m6 0h2m8 0h2m-1 0h2m13 0h2m7 0h2m2 0h2m18 0h2m-174 1h2m17 0h2m12 0h2m-1 0h2m2 0h2m5 0h2m2 0h2m0 0h2m9 0h2m4 0h2m-1 0h2m6 0h2m-2 0h2m6 0h2m4 0h2m-1 0h2m3 0h2m4 0h2m0 0h2m4 0h2m1 0h2m5 0h2m-1 0h2m27 0h2m36 0h2m2 0h2m8 0h2m-192 1h2m2 0h2m13 0h2m-2 0h2m6 0h2m4 0h2m-1 0h2m9 0h2m6 0h2m5 0h2m2 0h2m-1 0h2m1 0h2m4 0h2m3 0h2m-2 0h2m4 0h2m4 0h2m-2 0h2m1 0h2m0 0h2m17 0h2m10 0h2m17 0h2m-2 0h2m3 0h2m11 0h2m14 0h2m-194 1h2m13 0h2m22 0h2m4 0h2m5 0h2m2 0h2m-2 0h2m2 0h2m-2 0h2m-1 0h2m5 0h2m10 0h2m-1 0h2m-1 0h2m0 0h2m0 0h2m4 0h2m-1 0h2m10 0h2m-1 0h2m9 0h2m-1 0h2m1 0h2m0 0h2m-1 0h2m0 0h2m4 0h2m1 0h2m-137 1h2m7 0h2m9 0h2m0 0h2m-2 0h2m0 0h2m3 0h2m-1 0h2m-1 0h2m-1 0h2m9 0h2m1 0h2m1 0h2m1 0h2m9 0h2m2 0h2m-2 0h2m1 0h2m1 0h2m-1 0h2m3 0h2m1 0h2m2 0h2m1 0h2m-1 0h2m-1 0h2m0 0h2m1 0h2m-2 0h2m4 0h2m-1 0h2m9 0h2m0 0h2m1 0h2m-2 0h2m-2 0h2m3 0h2m-1 0h2m8 0h2m3 0h2m-1 0h2m3 0h2m8 0h2m-133 1h2m17 0h2m1 0h2m4 0h2m0 0h2m0 0h2m-1 0h2m-1 0h2m0 0h2m-2 0h2m4 0h2m0 0h2m-2 0h2m2 0h2m-2 0h2m1 0h2m-2 0h2m4 0h2m1 0h2m-1 0h2m-2 0h2m1 0h2m0 0h2m1 0h2m6 0h2m-1 0h2m2 0h2m0 0h2m10 0h2m2 0h2m1 0h2m2 0h2m6 0h2m2 0h2m-1 0h2m2 0h2m-1 0h2m2 0h2m34 0h2m10 0h2m-184 1h2m9 0h2m-1 0h2m0 0h2m-2 0h2m-1 0h2m4 0h2m-1 0h2m7 0h2m1 0h2m-1 0h2m2 0h2m2 0h2m3 0h2m-2 0h2m0 0h2m-2 0h2m0 0h2m8 0h2m-1 0h2m1 0h2m-1 0h2m-2 0h2m3 0h2m13 0h2m-2 0h2m3 0h2m9 0h2m41 0h2m-2 0h2m5 0h2m-1 0h2m1 0h2m3 0h2m-165 1h2m2 0h2m1 0h2m0 0h2m-1 0h2m156 0h2m4 0h2m-2 0h2m1 0h2m0 0h2m-2 0h2m-170 1h2m2 0h2m1 0h2m-1 0h2m134 0h2m-2 0h2m11 0h2m10 0h2m-216 1h2m23 0h2m6 0h2m8 0h2m2 0h2m-1 0h2m-1 0h2m-2 0h2m-53 1h2m18 0h2m-2 0h2m2 0h2m9 0h2m-2 0h2m5 0h2m153 0h2m0 0h2m0 0h2m12 0h2m-200 1h2m8 0h2m-1 0h2m14 0h2m-2 0h2m172 0h2m9 0h2m-193 1h2m-2 0h2m164 0h2m5 0h2m-196 1h2m1 0h2m8 0h2m1 0h2m-1 0h2m2 0h2m-2 0h2m-1 0h2m-2 0h2m0 0h2m159 0h2m0 0h2m14 0h2m-1 0h2m7 0h2m-215 1h2m18 0h2m0 0h2m-1 0h2m162 0h2m18 0h2m1 0h2m16 0h2m-242 1h2m0 0h2m28 0h2m-1 0h2m-1 0h2m166 0h2m12 0h2m-194 1h2m178 0h2m13 0h2m60 0h2m-259 1h2m179 0h2m3 0h2m-206 1h2m-1 0h2m7 0h2m0 0h2m3 0h2m-1 0h2m0 0h2m-1 0h2m-1 0h2m179 0h2m2 0h2m8 0h2m-236 1h2m18 0h2m-1 0h2m4 0h2m10 0h2m183 0h2m-208 1h2m2 0h2m12 0h2m190 0h2m0 0h2m-216 1h2m-1 0h2m10 0h2m1 0h2m0 0h2m0 0h2m-27 1h2m0 0h2m256 0h2m-252 1h2m5 0h2m-2 0h2m-1 0h2m-1 0h2m0 0h2m0 0h2m184 0h2m7 0h2m-249 1h2m29 0h2m11 0h2m-1 0h2m-1 0h2m0 0h2m-1 0h2m191 0h2m-2 0h2m2 0h2m9 0h2m-238 1h2m23 0h2m0 0h2m-1 0h2m-11 1h2m1 0h2m-2 0h2m2 0h2m-2 0h2m195 0h2m6 0h2m2 0h2m3 0h2m9 0h2m-230 1h2m196 0h2m2 0h2m6 0h2m-227 1h2m10 0h2m2 0h2m-1 0h2m195 0h2m1 0h2m2 0h2m9 0h2m10 0h2m-249 1h2m1 0h2m5 0h2m1 0h2m2 0h2m2 0h2m202 0h2m-7 1h2m-2 0h2m37 0h2m-257 1h2m-1 0h2m7 0h2m0 0h2m-6 1h2m329 0h2m-355 1h2m12 0h2m216 0h2m0 0h2m0 0h2m43 0h2m-276 1h2m-1 0h2m-1 0h2m225 0h2m2 0h2m-224 1h2m4 0h2m1 0h2m206 0h2m5 0h2m-223 1h2m-2 0h2m2 0h2m223 0h2m-15 1h2m3 0h2m7 0h2m0 0h2m-255 1h2m7 0h2m5 0h2m215 0h2m-225 1h2m6 0h2m214 0h2m0 0h2m5 0h2m-232 1h2m9 0h2m206 0h2m13 0h2m-241 1h2m4 0h2m-5 1h2m-1 0h2m10 0h2m213 0h2m4 0h2m3 0h2m12 0h2m-243 1h2m-2 0h2m210 0h2m20 0h2m-251 1h2m-1 0h2m4 0h2m1 0h2m2 0h2m-1 0h2m210 0h2m5 0h2m2 0h2m-237 1h2m10 0h2m209 0h2m19 0h2m-243 1h2m236 0h2m11 0h2m-289 1h2m29 0h2m2 0h2m218 0h2m1 0h2m-1 0h2m5 0h2m-239 1h2m1 0h2m-3 1h2m4 0h2m0 0h2m1 0h2m211 0h2m1 0h2m4 0h2m-239 1h2m0 0h2m4 0h2m222 0h2m-1 0h2m-229 1h2m-1 0h2m2 0h2m-29 1h2m14 0h2m6 0h2m-1 0h2m1 0h2m284 0h2m-292 1h2m1 0h2m-9 1h2m-2 0h2m0 0h2m-1 0h2m226 0h2m-1 0h2m-247 1h2m6 0h2m-2 0h2m11 0h2m218 0h2m-233 1h2m0 0h2m-19 1h2m7 0h2m4 0h2m0 0h2m3 0h2m0 0h2m226 0h2m-240 1h2m-2 0h2m4 0h2m221 0h2m-237 1h2m3 0h2m5 0h2m224 0h2m-2 0h2m1 0h2m-252 1h2m3 0h2m-2 0h2m1 0h2m0 0h2m0 0h2m1 0h2m3 0h2m0 0h2m-24 1h2m-1 0h2m6 0h2m0 0h2m7 0h2m-2 0h2m225 0h2m0 0h2m5 0h2m-247 1h2m6 0h2m228 0h2m-261 1h2m13 0h2m9 0h2m-20 1h2m4 0h2m4 0h2m0 0h2m0 0h2m1 0h2m0 0h2m225 0h2m-242 1h2m-1 0h2m0 0h2m0 0h2m0 0h2m0 0h2m-1 0h2m227 0h2m-247 1h2m11 0h2m-1 0h2m-2 0h2m-1 0h2m-24 1h2m13 0h2m1 0h2m-1 0h2m-12 1h2m0 0h2m5 0h2m234 0h2m-2 0h2m-270 1h2m27 0h2m-51 1h2m22 0h2m-2 0h2m21 0h2m-2 0h2m3 0h2m245 0h2m-272 1h2m17 0h2m2 0h2m232 0h2m-259 1h2m10 0h2m246 0h2m2 0h2m5 0h2m-272 1h2m-2 0h2m4 0h2m0 0h2m3 0h2m2 0h2m243 0h2m-263 1h2m3 0h2m1 0h2m-2 0h2m3 0h2m1 0h2m-1 0h2m-4 1h2m-1 0h2m248 0h2m-269 1h2m4 0h2m-1 0h2m1 0h2m-2 0h2m3 0h2m-1 0h2m-6 1h2m1 0h2m-22 1h2m15 0h2m2 0h2m239 0h2m8 0h2m-287 1h2m10 0h2m8 0h2m0 0h2m-1 0h2m1 0h2m1 0h2m0 0h2m-22 1h2m1 0h2m5 0h2m4 0h2m244 0h2m-275 1h2m12 0h2m7 0h2m1 0h2m2 0h2m240 0h2m-259 1h2m7 0h2m-1 0h2m2 0h2m252 0h2m-1 0h2m-292 1h2m19 0h2m1 0h2m-1 0h2m7 0h2m255 0h2m12 0h2m-279 1h2m2 0h2m-2 0h2m-1 0h2m-10 1h2m-14 1h2m11 0h2m1 0h2m-1 0h2m-27 1h2m12 0h2m7 0h2m268 0h2m-277 1h2m0 0h2m2 0h2m-2 0h2m1 0h2m246 0h2m-260 1h2m0 0h2m255 0h2m-2 0h2m-255 1h2m271 0h2m-279 1h2m4 0h2m247 0h2m0 0h2m-267 1h2m6 0h2m3 0h2m-1 0h2m-1 0h2m248 0h2m-267 1h2m3 0h2m-2 0h2m2 0h2m-2 0h2m-2 0h2m-1 0h2m250 0h2m11 0h2m-296 1h2m21 0h2m6 0h2m-2 0h2m-9 1h2m-1 0h2m3 0h2m250 0h2m-268 1h2m-1 0h2m4 0h2m1 0h2m-1 0h2m3 0h2m251 0h2m2 0h2m-266 1h2m0 0h2m-2 0h2m2 0h2m-1 0h2m-2 1h2m247 0h2m-1 0h2m1 0h2m-270 1h2m8 0h2m0 0h2m-2 0h2m0 0h2m248 0h2m14 0h2m-303 1h2m25 0h2m3 0h2m0 0h2m249 0h2m-273 1h2m18 0h2m-2 0h2m-1 0h2m251 0h2m2 0h2m-284 1h2m13 0h2m261 0h2m1 0h2m-260 1h2m-1 0h2m248 0h2m-268 1h2m6 0h2m-1 0h2m0 0h2m-17 1h2m-1 0h2m15 0h2m254 0h2m0 0h2m-260 1h2m254 0h2m8 0h2m8 0h2m-281 1h2m0 0h2m-3 1h2m-1 0h2m0 0h2m-2 0h2m-22 1h2m272 0h2m-258 1h2m-1 0h2m-21 1h2m5 0h2m0 0h2m0 0h2m-2 0h2m0 0h2m276 0h2m-287 1h2m1 0h2m266 0h2m2 0h2m-10 1h2m1 0h2m-1 0h2m-268 1h2m2 0h2m-1 0h2m259 0h2m-277 1h2m-1 0h2m6 0h2m3 0h2m-2 0h2m-2 0h2m0 0h2m257 0h2m4 0h2m-283 1h2m1 0h2m5 0h2m0 0h2m-1 0h2m-2 0h2m255 0h2m2 0h2m2 0h2m-268 1h2m-1 0h2m-18 1h2m6 0h2m1 0h2m-2 0h2m263 0h2m8 0h2m-291 1h2m19 0h2m-18 1h2m5 0h2m0 0h2m3 0h2m266 0h2m-277 1h2m0 0h2m-1 0h2m-2 0h2m275 0h2m13 0h2m-35 1h2m12 0h2m-287 1h2m2 0h2m2 0h2m2 0h2m3 0h2m-2 0h2m-2 0h2m252 0h2m-260 1h2m-1 0h2m-1 0h2m-1 0h2m-1 0h2m290 0h2m-304 1h2m2 0h2m4 0h2m-13 1h2m2 0h2m0 0h2m1 0h2m0 0h2m-2 0h2m255 0h2m0 0h2m-288 1h2m0 0h2m1 0h2m19 0h2m272 0h2m-278 2h2m264 0h2m2 0h2m-276 1h2m258 0h2m0 0h2m-264 1h2m342 0h2m-352 1h2m7 0h2m1 0h2m257 0h2m-2 0h2m-294 1h2m22 0h2m2 0h2m3 0h2m254 0h2m12 0h2m5 0h2m-300 1h2m17 0h2m-1 0h2m-1 0h2m-2 0h2m258 0h2m5 0h2m6 0h2m0 0h2m-298 1h2m3 0h2m8 0h2m256 0h2m-268 1h2m2 0h2m4 0h2m257 0h2m-282 1h2m-1 0h2m279 0h2m-263 1h2m254 0h2m4 0h2m10 0h2m-289 1h2m8 0h2m259 0h2m0 0h2m-266 1h2m0 0h2m254 0h2m-280 1h2m9 0h2m267 0h2m-1 0h2m-282 1h2m1 0h2m3 0h2m12 0h2m255 0h2m-269 1h2m3 0h2m5 0h2m291 0h2m-322 1h2m17 0h2m-2 0h2m2 0h2m0 0h2m251 0h2m-1 0h2m10 0h2m-268 1h2m-1 0h2m268 0h2m-279 1h2m4 0h2m-2 0h2m252 0h2m6 0h2m-282 1h2m268 0h2m-1 0h2m-267 1h2m7 0h2m1 0h2m255 0h2m-1 0h2m-263 1h2m2 0h2m248 0h2m-257 1h2m0 0h2m2 0h2m247 0h2m2 0h2m-258 1h2m1 0h2m-1 0h2m255 0h2m-279 1h2m7 0h2m-2 0h2m2 0h2m4 0h2m252 0h2m-278 1h2m20 0h2m249 0h2m1 0h2m-279 1h2m9 0h2m2 0h2m-1 0h2m5 0h2m-17 1h2m6 0h2m1 0h2m0 0h2m247 0h2m-1 0h2m-1 0h2m0 0h2m-1 0h2m-282 1h2m22 0h2m250 0h2m-1 0h2m6 0h2m-277 1h2m7 0h2m4 0h2m-1 0h2m-1 0h2m0 0h2m241 0h2m-251 1h2m-1 0h2m1 0h2m-17 1h2m12 0h2m0 0h2m-26 1h2m22 0h2m241 0h2m-2 0h2m8 0h2m2 0h2m0 0h2m-280 1h2m2 0h2m12 0h2m243 0h2m-1 0h2m5 0h2m13 0h2m2 0h2m-300 1h2m13 0h2m2 0h2m8 0h2m-2 0h2m239 0h2m18 0h2m-2 0h2m4 0h2m-271 1h2m-2 0h2m239 0h2m-1 0h2m0 0h2m4 0h2m-258 1h2m3 0h2m244 0h2m-255 1h2m4 0h2m2 0h2m0 0h2m236 0h2m-1 0h2m8 0h2m-258 1h2m1 0h2m1 0h2m-1 0h2m239 0h2m-2 0h2m21 0h2m20 0h2m-296 1h2m241 0h2m-249 1h2m7 0h2m0 0h2m-2 0h2m235 0h2m-1 0h2m4 0h2m4 0h2m-261 1h2m2 1h2m0 0h2m2 0h2m247 0h2m-1 0h2m21 0h2m-279 1h2m-1 0h2m2 0h2m-1 0h2m248 0h2m-286 1h2m23 0h2m4 0h2m-1 0h2m0 0h2m233 0h2m1 0h2m-258 1h2m9 0h2m-2 1h2m236 0h2m-236 1h2m2 0h2m224 0h2m-1 0h2m8 0h2m-247 1h2m3 0h2m227 0h2m3 0h2m-245 1h2m5 0h2m1 0h2m-1 0h2m238 0h2m-250 1h2m9 0h2m221 0h2m3 0h2m0 0h2m-256 1h2m18 0h2m3 0h2m-2 0h2m-21 1h2m2 0h2m11 0h2m1 0h2m217 0h2m1 0h2m2 0h2m2 0h2m9 0h2m-279 1h2m25 0h2m4 0h2m0 0h2m-1 0h2m213 0h2m0 0h2m2 0h2m10 0h2m6 0h2m-245 1h2m-1 0h2m-2 0h2m0 0h2m226 0h2m-238 1h2m5 0h2m1 0h2m228 0h2m-248 1h2m5 0h2m5 0h2m-2 0h2m0 0h2m205 0h2m-1 0h2m-230 1h2m10 0h2m2 0h2m0 0h2m0 0h2m206 0h2m-2 0h2m-1 0h2m13 0h2m0 0h2m6 0h2m-265 1h2m14 0h2m4 0h2m-1 0h2m0 0h2m-1 0h2m-2 0h2m1 0h2m-1 0h2m209 0h2m2 0h2m28 0h2m-261 1h2m0 0h2m213 0h2m-2 0h2m2 0h2m25 0h2m-269 1h2m7 0h2m1 0h2m7 0h2m1 0h2m5 0h2m200 0h2m-2 0h2m0 0h2m8 0h2m-2 0h2m-229 1h2m7 0h2m-1 0h2m197 0h2m-2 0h2m-1 0h2m1 0h2m-215 1h2m11 0h2m-2 0h2m1 0h2m-1 0h2m171 0h2m8 0h2m3 0h2m-1 0h2m9 0h2m0 0h2m4 0h2m-225 1h2m0 0h2m9 0h2m180 0h2m0 0h2m13 0h2m2 0h2m-1 0h2m10 0h2m2 0h2m-225 1h2m3 0h2m2 0h2m-1 0h2m156 0h2m0 0h2m4 0h2m9 0h2m4 0h2m-2 0h2m0 0h2m7 0h2m-223 1h2m-1 0h2m9 0h2m6 0h2m3 0h2m2 0h2m-2 0h2m146 0h2m4 0h2m4 0h2m-1 0h2m1 0h2m2 0h2m3 0h2m4 0h2m20 0h2m81 0h2m-309 1h2m5 0h2m4 0h2m-1 0h2m2 0h2m3 0h2m128 0h2m2 0h2m7 0h2m8 0h2m27 0h2m35 0h2m-230 1h2m6 0h2m0 0h2m118 0h2m39 0h2m1 0h2m6 0h2m6 0h2m1 0h2m5 0h2m5 0h2m-211 1h2m4 0h2m1 0h2m2 0h2m-1 0h2m111 0h2m10 0h2m1 0h2m-1 0h2m-1 0h2m13 0h2m2 0h2m40 0h2m0 0h2m-205 1h2m1 0h2m1 0h2m6 0h2m103 0h2m3 0h2m-1 0h2m18 0h2m-2 0h2m11 0h2m3 0h2m27 0h2m-206 1h2m12 0h2m1 0h2m0 0h2m5 0h2m-2 0h2m1 0h2m91 0h2m0 0h2m11 0h2m-1 0h2m3 0h2m-1 0h2m0 0h2m7 0h2m7 0h2m-1 0h2m4 0h2m13 0h2m5 0h2m23 0h2m-225 1h2m12 0h2m4 0h2m0 0h2m3 0h2m-1 0h2m2 0h2m1 0h2m-2 0h2m0 0h2m86 0h2m6 0h2m7 0h2m1 0h2m6 0h2m12 0h2m9 0h2m-2 0h2m27 0h2m90 0h2m-286 1h2m9 0h2m3 0h2m-1 0h2m2 0h2m0 0h2m-1 0h2m70 0h2m2 0h2m-1 0h2m3 0h2m2 0h2m3 0h2m6 0h2m1 0h2m10 0h2m20 0h2m1 0h2m0 0h2m-2 0h2m14 0h2m20 0h2m-211 1h2m4 0h2m6 0h2m3 0h2m4 0h2m0 0h2m-2 0h2m-1 0h2m-2 0h2m1 0h2m0 0h2m64 0h2m4 0h2m8 0h2m-1 0h2m2 0h2m-1 0h2m5 0h2m4 0h2m0 0h2m3 0h2m6 0h2m22 0h2m8 0h2m12 0h2m9 0h2m9 0h2m-230 1h2m30 0h2m75 0h2m5 0h2m21 0h2m0 0h2m10 0h2m16 0h2m51 0h2m11 0h2m-225 1h2m2 0h2m-1 0h2m4 0h2m1 0h2m3 0h2m0 0h2m8 0h2m49 0h2m7 0h2m48 0h2m-151 1h2m6 0h2m3 0h2m5 0h2m-1 0h2m4 0h2m-2 0h2m2 0h2m9 0h2m-1 0h2m0 0h2m43 0h2m3 0h2m-1 0h2m3 0h2m0 0h2m24 0h2m1 0h2m24 0h2m-161 1h2m8 0h2m9 0h2m0 0h2m-2 0h2m1 0h2m1 0h2m3 0h2m6 0h2m9 0h2m-1 0h2m4 0h2m-1 0h2m0 0h2m20 0h2m7 0h2m0 0h2m9 0h2m2 0h2m-1 0h2m2 0h2m34 0h2m22 0h2m-150 1h2m2 0h2m12 0h2m-1 0h2m-2 0h2m0 0h2m4 0h2m3 0h2m11 0h2m4 0h2m6 0h2m-1 0h2m4 0h2m9 0h2m-79 1h2m6 0h2m6 0h2m5 0h2m6 0h2m10 0h2m23 0h2m4 0h2m8 0h2m-1 0h2m-2 0h2m15 0h2m7 0h2m75 0h2m-192 1h2m5 0h2m15 0h2m6 0h2m8 0h2m1 0h2m3 0h2m11 0h2m99 0h2m-168 1h2m-1 0h2m0 0h2m-2 0h2m3 0h2m4 0h2m-1 0h2m-1 0h2m1 0h2m-2 0h2m1 0h2m7 0h2m4 0h2m1 0h2m40 0h2m62 0h2m5 0h2m-157 1h2m10 0h2m5 0h2m1 0h2m-1 0h2m2 0h2m18 0h2m3 0h2m20 0h2m25 0h2m-83 1h2m13 0h2m1 0h2m0 0h2m17 0h2m6 0h2m0 0h2m34 0h2m9 0h2m32 0h2m-189 1h2m39 0h2m14 0h2m9 0h2m11 0h2m51 0h2m16 0h2m-100 1h2m13 0h2m48 0h2m1 0h2m7 0h2m-106 1h2m41 0h2m113 0h2m-130 1h2m2 0h2m3 0h2m2 0h2m14 0h2m29 0h2m-95 1h2m11 0h2m24 0h2m30 0h2m-1 0h2m15 0h2m152 0h2m-228 1h2m3 0h2m10 0h2m3 0h2m24 0h2m7 0h2m6 0h2m-43 1h2m2 0h2m30 0h2m7 0h2m18 0h2m-30 1h2m-56 1h2m22 0h2m29 0h2m5 0h2m2 0h2m-29 1h2m9 0h2m18 0h2m82 0h2m-97 1h2m74 0h2m-121 1h2m13 0h2m67 0h2m-42 1h2m49 2h2m-34 1h2m-26 3h2m177 0h2m-214 1h2m155 0h2m-185 1h2m34 2h2m86 2h2m-73 3h2m77 0h2m-145 1h2m-27 2h2m258 0h2m-212 3h2m36 1h2m-70 7h2m196 3h2m33 0h2m-118 2h2" stroke="#1a1a1a" stroke-width="2.5" fill="none"/><path d="M1669 132h2m4 4h2m16 9h2m197 9h2m-78 3h2m82 28h2m84 21h2m-308 1h2m150 20h2m-51 1h2m221 10h2m-224 4h2m14 3h2m-91 2h2m29 0h2m41 0h2m-25 1h2m-43 1h2m127 0h2m-143 1h2m66 0h2m-65 1h2m25 1h2m131 0h2m-269 1h2m128 0h2m17 0h2m29 0h2m-100 1h2m49 0h2m60 0h2m-32 1h2m-45 1h2m75 0h2m0 0h2m46 0h2m-119 1h2m116 0h2m-217 1h2m145 0h2m8 0h2m24 0h2m7 1h2m-109 1h2m76 0h2m53 0h2m-156 1h2m26 0h2m43 0h2m-89 1h2m7 0h2m25 0h2m5 0h2m1 0h2m2 0h2m6 0h2m-1 0h2m9 0h2m10 0h2m18 0h2m1 0h2m38 0h2m-117 1h2m2 0h2m23 0h2m-42 1h2m32 0h2m-2 0h2m8 0h2m14 0h2m9 0h2m-81 1h2m9 0h2m1 0h2m24 0h2m-1 0h2m10 0h2m6 0h2m9 0h2m6 0h2m5 0h2m-95 1h2m39 0h2m-1 0h2m4 0h2m10 0h2m35 0h2m0 0h2m6 0h2m8 0h2m31 0h2m-135 1h2m11 0h2m-1 0h2m10 0h2m11 0h2m1 0h2m1 0h2m26 0h2m7 0h2m11 0h2m2 0h2m26 0h2m4 0h2m24 0h2m-168 1h2m9 0h2m4 0h2m-2 0h2m16 0h2m9 0h2m9 0h2m7 0h2m7 0h2m35 0h2m0 0h2m18 0h2m-145 1h2m3 0h2m0 0h2m15 0h2m1 0h2m7 0h2m29 0h2m13 0h2m8 0h2m45 0h2m-1 0h2m-165 1h2m18 0h2m0 0h2m57 0h2m-1 0h2m16 0h2m19 0h2m-1 0h2m22 0h2m11 0h2m-157 1h2m36 0h2m14 0h2m4 0h2m16 0h2m-2 0h2m9 0h2m3 0h2m0 0h2m6 0h2m4 0h2m6 0h2m-2 0h2m40 0h2m-138 1h2m15 0h2m12 0h2m-1 0h2m6 0h2m6 0h2m10 0h2m1 0h2m3 0h2m1 0h2m2 0h2m1 0h2m29 0h2m3 0h2m10 0h2m9 0h2m3 0h2m4 0h2m6 0h2m2 0h2m-166 1h2m-1 0h2m0 0h2m11 0h2m14 0h2m6 0h2m19 0h2m12 0h2m3 0h2m-1 0h2m-1 0h2m-1 0h2m-1 0h2m1 0h2m1 0h2m0 0h2m18 0h2m1 0h2m8 0h2m19 0h2m0 0h2m11 0h2m-171 1h2m61 0h2m3 0h2m3 0h2m3 0h2m13 0h2m9 0h2m-1 0h2m1 0h2m6 0h2m16 0h2m16 0h2m0 0h2m-192 1h2m38 0h2m14 0h2m3 0h2m5 0h2m7 0h2m5 0h2m7 0h2m9 0h2m9 0h2m1 0h2m1 0h2m3 0h2m11 0h2m5 0h2m8 0h2m3 0h2m13 0h2m10 0h2m17 0h2m1 0h2m9 0h2m-195 1h2m22 0h2m2 0h2m1 0h2m0 0h2m3 0h2m1 0h2m-1 0h2m-1 0h2m0 0h2m-2 0h2m2 0h2m2 0h2m3 0h2m0 0h2m6 0h2m-1 0h2m-1 0h2m9 0h2m-1 0h2m0 0h2m-2 0h2m-1 0h2m-1 0h2m1 0h2m1 0h2m3 0h2m8 0h2m-1 0h2m-1 0h2m48 0h2m1 0h2m4 0h2m4 0h2m-1 0h2m-179 1h2m8 0h2m17 0h2m4 0h2m22 0h2m4 0h2m5 0h2m15 0h2m-1 0h2m3 0h2m-2 0h2m8 0h2m23 0h2m22 0h2m0 0h2m1 0h2m4 0h2m3 0h2m3 0h2m0 0h2m-184 1h2m-1 0h2m15 0h2m1 0h2m10 0h2m137 0h2m10 0h2m-154 1h2m-2 0h2m142 0h2m1 0h2m-180 1h2m27 0h2m-50 1h2m18 0h2m7 0h2m-1 0h2m12 0h2m1 0h2m-1 0h2m147 0h2m0 0h2m79 0h2m-250 1h2m4 0h2m-1 0h2m0 0h2m161 0h2m2 0h2m10 0h2m-191 1h2m2 0h2m4 0h2m180 0h2m-232 1h2m25 0h2m14 0h2m174 0h2m-207 1h2m16 0h2m2 0h2m5 0h2m0 0h2m181 0h2m3 0h2m3 0h2m-207 1h2m2 0h2m-1 0h2m174 0h2m-198 1h2m1 0h2m18 0h2m-1 0h2m185 0h2m9 0h2m-224 1h2m6 0h2m2 0h2m7 0h2m173 0h2m-184 1h2m-1 0h2m-2 0h2m4 0h2m-2 0h2m0 0h2m185 0h2m-195 1h2m185 0h2m14 0h2m-242 1h2m222 0h2m11 0h2m-212 1h2m1 0h2m-1 0h2m-1 0h2m-2 0h2m3 0h2m186 0h2m-200 1h2m6 0h2m-1 0h2m-28 1h2m7 0h2m15 0h2m-2 1h2m187 0h2m-197 1h2m-1 0h2m192 0h2m-1 0h2m-219 1h2m14 0h2m0 0h2m2 0h2m199 0h2m12 0h2m-244 1h2m8 1h2m223 0h2m-222 1h2m-1 0h2m206 0h2m-1 0h2m0 0h2m3 0h2m74 0h2m-303 1h2m218 0h2m-216 1h2m7 0h2m0 0h2m-26 1h2m15 0h2m223 0h2m-247 1h2m23 0h2m-6 1h2m206 0h2m-220 1h2m232 0h2m-232 1h2m218 0h2m4 0h2m0 0h2m13 0h2m-240 1h2m-39 1h2m39 0h2m207 0h2m5 0h2m14 0h2m-260 1h2m236 0h2m2 0h2m-231 1h2m-1 0h2m5 0h2m-19 2h2m14 0h2m0 0h2m-1 0h2m231 0h2m-250 1h2m6 0h2m1 0h2m-2 0h2m213 0h2m-235 1h2m15 0h2m215 0h2m-230 1h2m0 0h2m9 0h2m212 0h2m49 0h2m-52 1h2m0 1h2m1 0h2m0 0h2m-242 1h2m6 0h2m2 0h2m6 0h2m212 0h2m5 1h2m-236 1h2m225 0h2m-225 1h2m6 0h2m214 0h2m-252 1h2m19 0h2m4 0h2m-16 1h2m15 0h2m217 0h2m11 0h2m-245 1h2m4 0h2m2 0h2m224 0h2m48 0h2m-283 2h2m4 0h2m222 0h2m-247 1h2m12 0h2m3 0h2m-1 0h2m-8 2h2m0 0h2m226 0h2m1 0h2m16 0h2m-264 1h2m-2 0h2m8 0h2m232 0h2m-241 1h2m-10 1h2m11 0h2m227 0h2m5 0h2m-1 0h2m-1 0h2m-250 1h2m-1 0h2m3 0h2m0 0h2m-22 1h2m4 0h2m8 0h2m1 0h2m236 0h2m-2 0h2m-246 1h2m2 0h2m0 0h2m-2 1h2m231 0h2m22 0h2m-318 1h2m29 0h2m8 0h2m7 0h2m0 0h2m3 0h2m231 0h2m-247 1h2m-1 0h2m-2 0h2m-1 0h2m-1 0h2m5 0h2m236 0h2m-263 1h2m18 0h2m-1 0h2m233 0h2m1 0h2m0 0h2m0 0h2m-254 1h2m0 0h2m5 0h2m0 0h2m-2 0h2m238 0h2m-275 1h2m23 0h2m5 0h2m-14 1h2m0 0h2m6 0h2m238 0h2m-252 1h2m1 0h2m253 0h2m-250 1h2m-5 1h2m-1 0h2m242 0h2m0 0h2m-283 1h2m21 0h2m10 0h2m-23 1h2m7 0h2m3 0h2m251 0h2m-257 1h2m0 0h2m3 0h2m241 0h2m-255 1h2m-1 0h2m7 0h2m-2 0h2m245 0h2m-255 1h2m0 0h2m2 0h2m-12 1h2m1 0h2m250 0h2m-253 1h2m3 0h2m258 0h2m-18 1h2m3 0h2m-256 1h2m248 1h2m-278 1h2m27 0h2m249 0h2m-263 1h2m4 0h2m-14 1h2m278 0h2m-275 1h2m1 0h2m248 0h2m-263 1h2m-2 0h2m8 0h2m0 0h2m-14 1h2m-1 0h2m-2 0h2m0 0h2m3 0h2m4 0h2m246 0h2m-1 0h2m-1 0h2m5 0h2m-271 1h2m2 0h2m3 0h2m1 0h2m-20 1h2m0 0h2m-2 0h2m8 0h2m1 0h2m260 0h2m-268 1h2m2 0h2m-1 0h2m-2 0h2m251 0h2m-264 1h2m7 0h2m257 0h2m-8 1h2m3 0h2m-264 1h2m-1 0h2m265 0h2m-276 1h2m2 0h2m-1 0h2m-16 1h2m8 0h2m258 0h2m0 1h2m2 0h2m-291 1h2m20 0h2m6 1h2m-39 1h2m18 0h2m8 0h2m-2 0h2m0 0h2m260 0h2m-258 1h2m-14 1h2m0 0h2m-11 1h2m3 0h2m-1 0h2m-1 0h2m4 0h2m254 0h2m4 0h2m-1 0h2m-270 1h2m1 0h2m3 0h2m0 0h2m249 0h2m4 0h2m-263 1h2m-3 1h2m1 0h2m-2 0h2m-28 1h2m23 0h2m-1 1h2m-8 1h2m3 0h2m-16 1h2m3 0h2m8 0h2m-3 1h2m0 0h2m-15 1h2m-2 0h2m9 0h2m-24 1h2m12 0h2m3 0h2m-2 0h2m-32 1h2m25 0h2m4 0h2m261 0h2m-273 1h2m259 0h2m2 0h2m-268 1h2m265 0h2m-262 1h2m-4 1h2m1 0h2m-12 1h2m2 0h2m0 0h2m258 0h2m-258 1h2m253 0h2m-265 1h2m1 0h2m2 1h2m257 0h2m-276 1h2m14 0h2m-2 0h2m259 0h2m-272 1h2m-1 0h2m4 0h2m-8 1h2m-3 1h2m263 1h2m-263 1h2m-2 0h2m260 0h2m10 0h2m-286 1h2m2 0h2m7 0h2m257 0h2m1 0h2m-273 1h2m5 1h2m-1 0h2m-18 1h2m11 1h2m2 0h2m253 0h2m7 0h2m-280 1h2m8 0h2m0 0h2m256 0h2m-264 1h2m-3 1h2m5 0h2m255 0h2m13 1h2m-280 1h2m0 0h2m1 0h2m-27 1h2m8 0h2m11 0h2m0 0h2m-7 1h2m-8 1h2m1 0h2m1 0h2m-1 0h2m1 0h2m254 0h2m-274 1h2m8 0h2m0 0h2m259 0h2m-274 1h2m2 0h2m7 0h2m2 0h2m249 0h2m2 0h2m-273 1h2m11 0h2m276 0h2m-284 1h2m1 0h2m-1 0h2m255 0h2m-270 1h2m0 0h2m6 0h2m2 0h2m-2 0h2m-18 1h2m7 1h2m-1 0h2m-1 0h2m-1 0h2m2 0h2m251 0h2m-272 1h2m8 0h2m4 0h2m246 0h2m0 0h2m-262 1h2m2 0h2m3 0h2m247 0h2m7 0h2m-271 1h2m5 0h2m2 0h2m258 0h2m-277 1h2m268 0h2m24 0h2m-297 1h2m15 0h2m244 0h2m-1 0h2m-1 1h2m4 0h2m1 0h2m-275 1h2m3 0h2m-2 0h2m4 0h2m-1 0h2m-1 0h2m0 0h2m-4 2h2m-15 1h2m2 0h2m10 0h2m-2 0h2m-9 1h2m-1 0h2m246 0h2m45 0h2m-323 1h2m28 0h2m-1 0h2m256 0h2m-262 1h2m0 1h2m-2 1h2m-1 0h2m240 0h2m-255 1h2m8 0h2m0 0h2m235 0h2m2 0h2m48 0h2m62 0h2m-391 1h2m10 0h2m1 0h2m9 0h2m-2 0h2m7 0h2m-2 0h2m-22 1h2m8 0h2m-1 0h2m3 0h2m0 0h2m-1 0h2m0 0h2m-1 0h2m245 0h2m-275 1h2m19 0h2m268 0h2m8 0h2m-285 1h2m7 0h2m236 0h2m0 0h2m-255 1h2m1 0h2m6 0h2m229 0h2m-244 1h2m4 0h2m-1 0h2m-6 1h2m6 0h2m232 0h2m-1 0h2m-1 0h2m3 0h2m-254 1h2m-1 0h2m7 0h2m2 0h2m-2 0h2m224 0h2m-252 1h2m5 0h2m3 0h2m250 0h2m-257 1h2m244 0h2m-246 1h2m5 0h2m6 0h2m224 0h2m3 0h2m-2 0h2m-261 1h2m21 0h2m3 0h2m217 0h2m-220 1h2m218 0h2m-1 0h2m8 0h2m11 0h2m-264 1h2m12 0h2m-2 0h2m4 0h2m228 0h2m-254 1h2m4 0h2m8 0h2m-1 0h2m0 0h2m221 0h2m-227 1h2m5 0h2m216 0h2m-251 1h2m16 0h2m-2 0h2m0 1h2m8 0h2m216 0h2m-242 1h2m12 0h2m6 0h2m-1 0h2m-1 0h2m202 0h2m-1 0h2m1 0h2m-2 0h2m7 0h2m-246 1h2m12 0h2m5 0h2m2 0h2m-2 0h2m0 0h2m201 0h2m7 0h2m-223 1h2m0 0h2m2 0h2m2 0h2m0 0h2m197 0h2m-211 1h2m5 0h2m-2 0h2m192 0h2m25 0h2m16 0h2m-271 1h2m16 0h2m4 0h2m3 0h2m0 0h2m189 0h2m1 0h2m15 0h2m22 0h2m-240 1h2m4 0h2m0 0h2m175 0h2m5 0h2m46 0h2m-272 1h2m29 0h2m7 0h2m-24 1h2m3 0h2m1 0h2m-2 0h2m-1 0h2m13 0h2m141 0h2m3 0h2m9 0h2m22 0h2m5 0h2m7 0h2m-229 1h2m-1 0h2m1 0h2m17 0h2m5 0h2m134 0h2m-2 0h2m26 0h2m9 0h2m2 0h2m13 0h2m-214 1h2m8 0h2m2 0h2m3 0h2m116 0h2m10 0h2m18 0h2m21 0h2m3 0h2m4 0h2m11 0h2m3 0h2m-257 1h2m32 0h2m10 0h2m4 0h2m108 0h2m11 0h2m6 0h2m1 0h2m5 0h2m12 0h2m-1 0h2m22 0h2m19 0h2m-254 1h2m18 0h2m29 0h2m-1 0h2m1 0h2m101 0h2m7 0h2m0 0h2m-2 0h2m6 0h2m1 0h2m13 0h2m7 0h2m55 0h2m-214 1h2m2 0h2m99 0h2m5 0h2m1 0h2m16 0h2m18 0h2m35 0h2m-219 1h2m17 0h2m-1 0h2m127 0h2m9 0h2m40 0h2m6 0h2m5 0h2m-199 1h2m3 0h2m4 0h2m-1 0h2m2 0h2m104 0h2m8 0h2m-1 0h2m17 0h2m14 0h2m-181 1h2m14 0h2m9 0h2m-2 0h2m81 0h2m8 0h2m1 0h2m2 0h2m25 0h2m2 0h2m1 0h2m21 0h2m0 0h2m-181 1h2m2 0h2m-2 0h2m9 0h2m-2 0h2m1 0h2m2 0h2m8 0h2m61 0h2m21 0h2m17 0h2m0 0h2m46 0h2m-177 1h2m2 0h2m3 0h2m1 0h2m1 0h2m54 0h2m2 0h2m-91 1h2m3 0h2m9 0h2m14 0h2m-1 0h2m43 0h2m-1 0h2m14 0h2m-1 0h2m-1 0h2m3 0h2m3 0h2m1 0h2m13 0h2m-110 1h2m1 0h2m8 0h2m5 0h2m4 0h2m-2 0h2m4 0h2m0 0h2m3 0h2m-1 0h2m2 0h2m15 0h2m17 0h2m10 0h2m57 0h2m36 0h2m-204 1h2m33 0h2m0 0h2m13 0h2m8 0h2m19 0h2m7 0h2m16 0h2m23 0h2m42 0h2m-183 1h2m16 0h2m2 0h2m0 0h2m24 0h2m3 0h2m8 0h2m-1 0h2m20 0h2m3 0h2m27 0h2m19 0h2m-119 1h2m28 0h2m37 0h2m8 0h2m59 0h2m-164 1h2m3 0h2m-1 0h2m42 0h2m1 0h2m1 0h2m-1 0h2m27 0h2m84 0h2m-167 1h2m7 0h2m1 0h2m12 0h2m16 0h2m-2 0h2m18 0h2m7 0h2m77 0h2m28 0h2m-95 1h2m7 0h2m56 0h2m-140 1h2m2 0h2m3 0h2m1 0h2m34 0h2m67 0h2m-143 1h2m37 0h2m78 0h2m13 0h2m48 0h2m-190 1h2m60 0h2m25 0h2m42 0h2m61 0h2m-185 1h2m19 0h2m1 0h2m49 0h2m40 0h2m-137 1h2m-1 0h2m14 0h2m31 0h2m2 0h2m98 0h2m-160 1h2m76 0h2m-15 1h2m-53 2h2m37 0h2m-37 1h2m31 0h2m-34 1h2m-10 2h2m14 0h2m1 0h2m41 0h2m2 0h2m-55 1h2m69 0h2m18 1h2m-111 2h2m23 7h2m112 0h2m-122 3h2m8 14h2m48 4h2m4 8h2m215 1h2" stroke="#707070" stroke-width="2.5" fill="none"/>
<clipPath id="cA4"><use href="#oA4"/></clipPath>
<g clip-path="url(#cA4)"><g filter="url(#bl)"><rect x="1620" y="270" width="270" height="212" fill="#0000ff"/><path d="M1711 475 1687 475 1686 474 1679 474 1678 473 1674 473 1673 472 1666 471 1655 466 1649 462 1637 450 1632 442 1632 440 1629 434 1629 431 1628 430 1629 408 1630 400 1635 378 1642 357 1649 346 1656 339 1663 334 1669 327 1683 300 1696 289 1705 284 1718 281 1724 281 1727 280 1756 279 1759 278 1769 278 1771 279 1801 279 1803 278 1828 278 1830 279 1840 279 1849 281 1856 284 1863 289 1874 299 1880 309 1880 312 1881 313 1881 320 1882 321 1882 334 1883 335 1883 361 1882 362 1882 391 1881 392 1881 399 1880 400 1879 407 1878 408 1876 416 1869 430 1861 442 1851 452 1842 457 1840 457 1836 459 1832 459 1831 460 1823 460 1822 461 1809 461 1808 462 1799 462 1798 463 1788 463 1787 464 1770 465 1769 466 1763 466 1762 467 1757 467 1756 468 1750 468 1749 469 1744 469 1743 470 1738 470 1737 471 1720 473 1719 474 1712 474 1711 475Z" fill="#0019ff" fill-rule="evenodd"/><path d="M1719 474 1689 473 1675 472 1661 469 1649 462 1637 450 1632 442 1632 422 1636 402 1641 380 1648 359 1654 349 1666 338 1673 330 1689 303 1703 292 1714 288 1728 286 1756 284 1760 283 1826 282 1838 284 1848 286 1860 292 1870 301 1876 311 1880 323 1883 343 1882 391 1881 392 1881 399 1880 400 1879 407 1878 408 1876 416 1869 430 1861 442 1851 452 1842 457 1840 457 1836 459 1832 459 1831 460 1823 460 1822 461 1809 461 1808 462 1799 462 1798 463 1788 463 1787 464 1770 465 1769 466 1763 466 1762 467 1757 467 1756 468 1750 468 1749 469 1744 469 1743 470 1738 470 1737 471 1720 473 1719 474Z" fill="#002aff" fill-rule="evenodd"/><path d="M1736 470 1709 471 1690 470 1668 468 1656 465 1649 461 1641 454 1638 450 1636 442 1637 431 1641 421 1649 402 1658 372 1662 364 1666 357 1701 314 1713 306 1731 299 1764 292 1807 290 1824 290 1837 292 1849 296 1856 300 1867 309 1872 317 1878 338 1882 360 1882 391 1881 392 1881 399 1880 400 1879 407 1878 408 1876 416 1864 438 1851 452 1842 457 1840 457 1836 459 1832 459 1831 460 1823 460 1822 461 1809 461 1808 462 1799 462 1798 463 1778 464 1777 465 1770 465 1769 466 1757 467 1756 468 1750 468 1749 469 1736 470Z" fill="#0044ff" fill-rule="evenodd"/><path d="M1769 466 1741 467 1691 466 1673 465 1663 463 1651 459 1645 454 1641 448 1641 439 1643 432 1647 427 1667 407 1674 398 1688 368 1698 352 1714 335 1732 322 1746 314 1761 308 1775 305 1789 302 1808 302 1820 303 1835 306 1847 310 1857 316 1866 326 1873 339 1878 356 1880 381 1879 397 1875 412 1871 423 1859 441 1850 450 1838 457 1830 460 1823 460 1822 461 1809 461 1808 462 1788 463 1787 464 1778 464 1777 465 1770 465 1769 466Z" fill="#005cff" fill-rule="evenodd"/><path d="M1775 463 1669 461 1660 459 1652 455 1647 448 1646 442 1649 436 1654 429 1680 407 1690 396 1696 387 1708 366 1718 353 1730 341 1744 331 1755 324 1767 319 1779 315 1792 313 1804 312 1816 313 1828 316 1839 320 1851 326 1860 334 1867 344 1873 357 1876 373 1877 388 1875 401 1870 416 1864 428 1856 440 1849 447 1840 453 1829 457 1820 459 1797 462 1775 463Z" fill="#007dff" fill-rule="evenodd"/><path d="M1797 459 1774 460 1729 457 1684 457 1671 457 1663 455 1656 451 1654 447 1654 443 1656 437 1662 430 1692 405 1702 395 1709 386 1728 359 1736 350 1746 341 1762 331 1778 324 1795 321 1812 321 1826 324 1839 329 1850 336 1860 346 1866 356 1870 368 1872 382 1872 395 1869 410 1863 422 1856 434 1847 444 1839 449 1828 454 1819 456 1797 459Z" fill="#00a0ff" fill-rule="evenodd"/><path d="M1795 456 1773 456 1735 452 1693 453 1679 453 1672 452 1666 449 1663 446 1662 442 1664 436 1671 428 1703 402 1714 392 1739 359 1755 344 1769 336 1784 330 1799 327 1814 328 1826 331 1837 336 1848 343 1856 352 1863 362 1866 372 1868 384 1868 395 1865 408 1860 420 1853 431 1844 440 1837 445 1827 450 1816 453 1795 456Z" fill="#00c9ff" fill-rule="evenodd"/><path d="M1796 452 1783 452 1742 448 1700 449 1686 449 1675 446 1672 443 1671 440 1673 435 1678 428 1722 392 1730 383 1748 360 1761 348 1773 340 1786 335 1799 333 1812 333 1823 335 1834 340 1844 347 1852 355 1858 364 1862 374 1863 385 1863 395 1860 407 1856 418 1849 428 1841 437 1831 444 1818 449 1804 451 1796 452Z" fill="#00f1f8" fill-rule="evenodd"/><path d="M1794 448 1748 444 1706 445 1694 445 1687 444 1683 442 1681 440 1680 437 1682 432 1687 426 1730 391 1738 382 1754 361 1767 350 1778 343 1790 339 1803 337 1815 338 1825 341 1835 346 1843 353 1850 361 1855 370 1858 379 1859 389 1858 399 1855 409 1850 419 1844 428 1836 435 1827 441 1817 445 1804 447 1794 448Z" fill="#00feb1" fill-rule="evenodd"/><path d="M1805 443 1790 444 1752 440 1703 441 1692 439 1690 437 1689 434 1691 430 1695 424 1736 391 1759 363 1769 354 1778 348 1788 344 1798 342 1808 342 1817 343 1826 346 1835 352 1842 358 1848 365 1852 373 1854 381 1855 390 1853 400 1850 409 1846 418 1839 427 1832 433 1824 438 1815 441 1805 443Z" fill="#00ff56" fill-rule="evenodd"/><path d="M1805 439 1791 440 1755 436 1711 438 1701 435 1699 433 1698 431 1700 427 1705 421 1740 392 1763 366 1772 357 1780 352 1789 348 1798 346 1808 346 1817 347 1825 350 1832 354 1839 360 1844 367 1848 374 1850 382 1851 390 1850 399 1847 408 1842 416 1837 423 1830 429 1823 433 1815 437 1805 439Z" fill="#17ff1f" fill-rule="evenodd"/><path d="M1805 435 1791 436 1757 433 1719 434 1710 431 1708 429 1708 427 1710 423 1713 419 1745 393 1766 368 1775 360 1783 355 1791 351 1799 350 1808 349 1816 351 1823 353 1830 358 1836 363 1841 369 1845 376 1847 383 1847 390 1846 398 1843 406 1839 414 1834 420 1828 426 1821 430 1813 433 1805 435Z" fill="#44ff0d" fill-rule="evenodd"/><path d="M1799 432 1760 430 1728 430 1721 428 1719 426 1718 424 1720 420 1723 416 1748 394 1770 370 1778 362 1785 358 1793 355 1801 353 1810 353 1817 355 1824 358 1831 363 1836 368 1840 374 1842 380 1843 387 1843 394 1841 402 1838 409 1834 415 1828 421 1822 425 1815 429 1807 431 1799 432Z" fill="#7cff00" fill-rule="evenodd"/><path d="M1803 428 1790 429 1738 425 1731 423 1730 422 1729 420 1733 413 1753 394 1771 374 1779 366 1786 361 1794 358 1801 357 1809 357 1816 358 1822 361 1832 369 1836 374 1839 380 1840 386 1840 392 1839 399 1836 405 1828 416 1817 424 1803 428Z" fill="#ceff00" fill-rule="evenodd"/><path d="M1801 425 1786 425 1750 422 1743 420 1741 418 1740 416 1741 413 1745 408 1773 377 1780 370 1787 365 1794 362 1801 360 1809 360 1821 364 1830 372 1834 377 1836 382 1836 393 1832 405 1825 414 1814 422 1801 425Z" fill="#f5eb00" fill-rule="evenodd"/><path d="M1798 422 1782 422 1759 418 1752 416 1751 414 1751 411 1754 405 1762 394 1775 379 1783 372 1790 367 1797 365 1805 364 1812 364 1822 369 1829 376 1832 381 1833 386 1832 396 1828 406 1820 414 1810 420 1798 422Z" fill="#ffbb00" fill-rule="evenodd"/><path d="M1796 419 1780 418 1765 415 1761 413 1759 411 1759 406 1763 399 1772 387 1780 379 1787 373 1793 370 1800 367 1807 367 1814 369 1822 373 1828 381 1830 389 1828 398 1824 406 1816 413 1807 417 1796 419Z" fill="#ff7500" fill-rule="evenodd"/><path d="M1802 415 1789 416 1775 413 1768 410 1766 407 1766 404 1769 398 1773 391 1786 378 1797 372 1803 371 1808 371 1816 374 1822 379 1825 385 1826 393 1823 401 1818 407 1811 412 1802 415Z" fill="#ff2d00" fill-rule="evenodd"/><path d="M1799 412 1788 412 1778 410 1774 406 1773 403 1773 400 1780 389 1790 379 1800 375 1805 375 1810 375 1816 378 1820 383 1822 389 1821 395 1819 401 1814 406 1807 410 1799 412Z" fill="#ff0000" fill-rule="evenodd"/></g></g>
<defs><path id="oE1" d="M212 1484 216 1484 219 1485 222 1486 225 1487 227 1489 230 1491 233 1494 235 1496 237 1499 238 1502 240 1506 241 1510 242 1514 242 1519 242 1524 242 1529 243 1533 244 1537 245 1541 246 1545 247 1549 249 1554 251 1558 253 1562 255 1565 258 1568 260 1570 262 1572 265 1575 267 1577 270 1579 272 1582 274 1585 275 1589 276 1593 277 1597 278 1603 279 1610 280 1616 281 1622 282 1627 284 1630 286 1634 287 1637 289 1641 290 1644 292 1648 293 1651 293 1653 292 1656 291 1658 290 1660 288 1661 285 1663 282 1664 278 1666 274 1668 270 1671 265 1674 260 1677 255 1680 250 1682 246 1685 241 1687 236 1689 232 1690 227 1691 222 1692 217 1693 213 1694 208 1694 204 1694 199 1694 195 1694 191 1693 187 1692 184 1691 181 1689 178 1687 175 1684 172 1682 170 1679 168 1676 166 1672 164 1668 163 1663 162 1659 161 1653 161 1648 161 1641 162 1635 162 1628 164 1622 165 1616 167 1609 169 1603 170 1598 171 1594 172 1589 172 1585 173 1580 173 1575 173 1571 174 1566 174 1561 175 1557 176 1552 177 1547 178 1541 180 1535 181 1528 182 1522 183 1517 185 1512 186 1508 187 1504 189 1500 191 1496 193 1493 196 1490 200 1488 204 1486 208 1484Z"/></defs>
<use href="#oE1" fill="none" stroke="#000" stroke-opacity="0.15" stroke-width="10" stroke-linejoin="round" filter="url(#bl3)"/>
<path d="M214 1360h2m3 4h2m18 0h2m-50 5h2m13 0h2m318 0h2m-336 4h2m3 0h2m8 1h2m-14 1h2m8 1h2m20 1h2m1 1h2m-27 1h2m5 3h2m2 0h2m21 0h2m-43 1h2m-15 1h2m38 0h2m-26 1h2m8 0h2m-21 1h2m10 0h2m-15 1h2m3 0h2m21 0h2m-36 1h2m5 0h2m10 2h2m10 0h2m2 0h2m23 0h2m-50 2h2m5 0h2m6 0h2m-30 1h2m21 0h2m11 0h2m-2 0h2m-47 1h2m23 0h2m-2 1h2m7 0h2m-3 1h2m-2 0h2m3 0h2m-1 2h2m-43 1h2m8 0h2m15 0h2m4 0h2m0 0h2m-1 0h2m-2 0h2m6 0h2m-2 0h2m3 0h2m-49 1h2m14 0h2m10 0h2m11 0h2m-1 0h2m-27 1h2m9 0h2m6 0h2m6 0h2m-41 1h2m16 0h2m6 0h2m4 0h2m2 0h2m1 0h2m6 0h2m-37 1h2m5 0h2m-1 0h2m9 0h2m35 0h2m-76 1h2m26 0h2m6 0h2m-18 1h2m0 0h2m8 0h2m4 0h2m-2 0h2m9 0h2m10 0h2m-73 1h2m20 0h2m18 0h2m-1 0h2m4 0h2m0 0h2m7 0h2m31 0h2m-65 1h2m6 0h2m0 0h2m-2 0h2m7 0h2m17 0h2m-34 1h2m3 0h2m0 0h2m-26 1h2m2 0h2m10 0h2m-2 0h2m11 0h2m-1 0h2m8 0h2m-2 0h2m-42 1h2m5 0h2m10 0h2m21 0h2m-43 1h2m9 0h2m12 0h2m8 0h2m7 0h2m-46 1h2m7 0h2m14 0h2m1 0h2m-33 1h2m36 0h2m-37 1h2m11 0h2m11 0h2m5 0h2m9 0h2m0 0h2m-31 1h2m2 0h2m4 0h2m0 0h2m16 0h2m-59 1h2m13 0h2m5 0h2m3 0h2m2 0h2m14 0h2m-17 1h2m1 0h2m-40 1h2m-2 0h2m25 0h2m5 0h2m1 0h2m-26 1h2m12 0h2m-1 0h2m8 0h2m7 0h2m7 0h2m14 0h2m-65 1h2m0 0h2m9 0h2m-1 0h2m7 0h2m1 0h2m26 0h2m10 0h2m0 0h2m-50 1h2m18 0h2m-1 0h2m25 0h2m-61 1h2m13 0h2m12 0h2m4 0h2m9 0h2m-59 1h2m4 0h2m-1 0h2m1 0h2m0 0h2m10 0h2m0 0h2m18 0h2m6 0h2m-69 1h2m16 0h2m17 0h2m-2 0h2m3 0h2m8 0h2m6 0h2m-36 1h2m0 0h2m9 0h2m0 0h2m16 0h2m9 0h2m236 0h2m-276 1h2m10 0h2m4 0h2m-2 0h2m-1 0h2m1 0h2m-36 1h2m0 0h2m4 0h2m3 0h2m14 0h2m8 0h2m-47 1h2m11 0h2m0 0h2m1 0h2m5 0h2m8 0h2m-2 0h2m2 0h2m5 0h2m-2 0h2m-46 1h2m1 0h2m14 0h2m8 0h2m2 0h2m-1 0h2m10 0h2m-31 1h2m0 0h2m5 0h2m10 0h2m0 0h2m0 0h2m-34 1h2m0 0h2m-2 0h2m8 0h2m5 0h2m-1 0h2m11 0h2m-2 0h2m3 0h2m-1 0h2m1 0h2m-48 1h2m2 0h2m10 0h2m5 0h2m1 0h2m1 0h2m-1 0h2m15 0h2m6 0h2m-1 0h2m-52 1h2m0 0h2m3 0h2m3 0h2m-1 0h2m-2 0h2m-2 0h2m0 0h2m0 0h2m3 0h2m0 0h2m-1 0h2m2 0h2m-1 0h2m1 0h2m0 0h2m-26 1h2m0 0h2m0 0h2m0 0h2m5 0h2m3 0h2m6 0h2m-61 1h2m18 0h2m1 0h2m1 0h2m-1 0h2m-1 0h2m4 0h2m5 0h2m5 0h2m-40 1h2m17 0h2m-2 0h2m6 0h2m8 0h2m-46 1h2m13 0h2m2 0h2m4 0h2m11 0h2m16 0h2m9 0h2m-62 1h2m1 0h2m-1 0h2m6 0h2m-2 0h2m8 0h2m8 0h2m19 0h2m6 0h2m-69 1h2m21 0h2m4 0h2m3 0h2m1 0h2m7 0h2m0 0h2m3 0h2m-72 1h2m34 0h2m11 0h2m4 0h2m1 0h2m12 0h2m2 0h2m-69 1h2m29 0h2m4 0h2m0 0h2m2 0h2m7 0h2m4 0h2m3 0h2m-55 1h2m7 0h2m22 0h2m-2 0h2m2 0h2m-1 0h2m11 0h2m12 0h2m-63 1h2m16 0h2m-1 0h2m3 0h2m4 0h2m5 0h2m0 0h2m6 0h2m5 0h2m-1 0h2m30 0h2m-80 1h2m7 0h2m5 0h2m1 0h2m1 0h2m9 0h2m0 0h2m9 0h2m-41 1h2m-1 0h2m0 0h2m6 0h2m3 0h2m1 0h2m4 0h2m-2 0h2m-1 0h2m2 0h2m-26 1h2m4 0h2m-1 0h2m25 0h2m-48 1h2m8 0h2m0 0h2m-1 0h2m4 0h2m0 0h2m0 0h2m5 0h2m21 0h2m119 0h2m52 0h2m-234 1h2m0 0h2m3 0h2m4 0h2m10 0h2m10 0h2m2 0h2m3 0h2m189 0h2m-265 1h2m6 0h2m9 0h2m-1 0h2m3 0h2m-1 0h2m0 0h2m10 0h2m4 0h2m2 0h2m1 0h2m3 0h2m4 0h2m173 0h2m-223 1h2m5 0h2m9 0h2m0 0h2m-1 0h2m-1 0h2m2 0h2m0 0h2m0 0h2m16 0h2m186 0h2m-231 1h2m2 0h2m4 0h2m0 0h2m5 0h2m9 0h2m-1 0h2m3 0h2m-48 1h2m9 0h2m-1 0h2m1 0h2m1 0h2m2 0h2m1 0h2m-1 0h2m4 0h2m4 0h2m-1 0h2m2 0h2m3 0h2m4 0h2m10 0h2m292 0h2m-357 1h2m7 0h2m0 0h2m6 0h2m15 0h2m8 0h2m274 0h2m-330 1h2m4 0h2m9 0h2m4 0h2m5 0h2m-1 0h2m1 0h2m7 0h2m3 0h2m1 0h2m287 0h2m-325 1h2m3 0h2m3 0h2m5 0h2m13 0h2m-39 1h2m3 0h2m10 0h2m0 0h2m0 0h2m1 0h2m2 0h2m-1 0h2m-2 0h2m0 0h2m-1 0h2m9 0h2m228 0h2m-275 1h2m1 0h2m5 0h2m1 0h2m-2 0h2m-1 0h2m-1 0h2m9 0h2m264 0h2m-287 1h2m0 0h2m-1 0h2m7 0h2m-1 0h2m8 0h2m1 0h2m-1 0h2m2 0h2m0 0h2m168 0h2m112 0h2m-341 1h2m14 0h2m5 0h2m0 0h2m0 0h2m4 0h2m6 0h2m2 0h2m7 0h2m-2 0h2m-59 1h2m19 0h2m11 0h2m0 0h2m-1 0h2m2 0h2m53 0h2m99 0h2m48 0h2m34 0h2m-282 1h2m10 0h2m8 0h2m-2 0h2m16 0h2m-1 0h2m6 0h2m0 0h2m204 0h2m-243 1h2m3 0h2m-1 0h2m3 0h2m3 0h2m1 0h2m23 0h2m208 0h2m62 0h2m-327 1h2m-1 0h2m12 0h2m-1 0h2m-2 0h2m15 0h2m-1 0h2m23 0h2m9 0h2m135 0h2m116 0h2m16 0h2m-328 1h2m0 0h2m7 0h2m3 0h2m34 0h2m99 0h2m14 0h2m-185 1h2m-2 0h2m3 0h2m3 0h2m0 0h2m-1 0h2m28 0h2m1 0h2m-1 0h2m-1 0h2m0 0h2m191 0h2m-239 1h2m-1 0h2m2 0h2m15 0h2m-1 0h2m0 0h2m2 0h2m3 0h2m-1 0h2m158 0h2m22 0h2m37 0h2m37 0h2m-335 1h2m31 0h2m3 0h2m3 0h2m3 0h2m3 0h2m0 0h2m3 0h2m-2 0h2m-1 0h2m12 0h2m2 0h2m-1 0h2m10 0h2m155 0h2m25 0h2m-259 1h2m8 0h2m-1 0h2m3 0h2m4 0h2m2 0h2m-1 0h2m2 0h2m2 0h2m35 0h2m208 0h2m-264 1h2m-1 0h2m0 0h2m8 0h2m4 0h2m3 0h2m3 0h2m11 0h2m244 0h2m10 0h2m-300 1h2m2 0h2m16 0h2m-1 0h2m16 0h2m206 0h2m37 0h2m27 0h2m3 0h2m6 0h2m-347 1h2m5 0h2m17 0h2m2 0h2m9 0h2m12 0h2m186 0h2m8 0h2m0 0h2m19 0h2m12 0h2m-292 1h2m9 0h2m9 0h2m0 0h2m7 0h2m-1 0h2m-2 0h2m16 0h2m132 0h2m19 0h2m66 0h2m5 0h2m17 0h2m4 0h2m-287 1h2m-1 0h2m-2 0h2m3 0h2m-2 0h2m-2 0h2m-1 0h2m6 0h2m-1 0h2m2 0h2m21 0h2m150 0h2m-207 1h2m-1 0h2m15 0h2m11 0h2m102 0h2m26 0h2m42 0h2m49 0h2m4 0h2m1 0h2m28 0h2m-296 1h2m1 0h2m3 0h2m31 0h2m0 0h2m228 0h2m5 0h2m-286 1h2m3 0h2m-1 0h2m0 0h2m2 0h2m2 0h2m-1 0h2m1 0h2m13 0h2m3 0h2m3 0h2m0 0h2m43 0h2m99 0h2m35 0h2m20 0h2m1 0h2m0 0h2m12 0h2m-274 1h2m0 0h2m2 0h2m6 0h2m3 0h2m1 0h2m7 0h2m8 0h2m154 0h2m25 0h2m78 0h2m40 0h2m-346 1h2m3 0h2m-2 0h2m4 0h2m3 0h2m5 0h2m3 0h2m2 0h2m32 0h2m142 0h2m2 0h2m0 0h2m55 0h2m-270 1h2m-1 0h2m-1 0h2m12 0h2m49 0h2m137 0h2m8 0h2m2 0h2m29 0h2m2 0h2m-272 1h2m15 0h2m9 0h2m6 0h2m3 0h2m0 0h2m-1 0h2m3 0h2m111 0h2m13 0h2m12 0h2m84 0h2m55 0h2m-333 1h2m1 0h2m0 0h2m2 0h2m6 0h2m1 0h2m-1 0h2m1 0h2m-2 0h2m4 0h2m5 0h2m1 0h2m12 0h2m20 0h2m16 0h2m61 0h2m101 0h2m0 0h2m45 0h2m-317 1h2m0 0h2m7 0h2m21 0h2m1 0h2m0 0h2m1 0h2m-2 0h2m8 0h2m2 0h2m29 0h2m137 0h2m1 0h2m7 0h2m25 0h2m3 0h2m-278 1h2m12 0h2m7 0h2m2 0h2m-1 0h2m-2 0h2m6 0h2m0 0h2m13 0h2m0 0h2m-2 0h2m136 0h2m-1 0h2m5 0h2m71 0h2m-246 1h2m-2 0h2m-1 0h2m9 0h2m6 0h2m128 0h2m7 0h2m34 0h2m11 0h2m7 0h2m20 0h2m5 0h2m6 0h2m-1 0h2m11 0h2m22 0h2m5 0h2m-341 1h2m38 0h2m13 0h2m11 0h2m1 0h2m53 0h2m113 0h2m76 0h2m51 0h2m-366 1h2m24 0h2m23 0h2m9 0h2m96 0h2m0 0h2m42 0h2m18 0h2m-1 0h2m0 0h2m4 0h2m21 0h2m6 0h2m33 0h2m-300 1h2m19 0h2m0 0h2m27 0h2m-2 0h2m19 0h2m3 0h2m15 0h2m26 0h2m51 0h2m5 0h2m54 0h2m3 0h2m9 0h2m11 0h2m5 0h2m-1 0h2m0 0h2m1 0h2m-1 0h2m13 0h2m6 0h2m26 0h2m-320 1h2m4 0h2m39 0h2m-1 0h2m0 0h2m107 0h2m5 0h2m48 0h2m0 0h2m11 0h2m13 0h2m5 0h2m44 0h2m23 0h2m1 0h2m-325 1h2m49 0h2m80 0h2m58 0h2m28 0h2m30 0h2m42 0h2m-307 1h2m5 0h2m55 0h2m0 0h2m117 0h2m44 0h2m-1 0h2m18 0h2m12 0h2m7 0h2m-295 1h2m6 0h2m8 0h2m-2 0h2m3 0h2m35 0h2m1 0h2m25 0h2m159 0h2m54 0h2m-290 1h2m1 0h2m38 0h2m-1 0h2m-1 0h2m2 0h2m120 0h2m12 0h2m24 0h2m2 0h2m16 0h2m14 0h2m-2 0h2m0 0h2m12 0h2m-2 0h2m-285 1h2m125 0h2m5 0h2m28 0h2m6 0h2m1 0h2m37 0h2m-1 0h2m26 0h2m7 0h2m52 0h2m-292 1h2m2 0h2m47 0h2m3 0h2m-1 0h2m30 0h2m63 0h2m8 0h2m-1 0h2m15 0h2m6 0h2m38 0h2m-1 0h2m5 0h2m6 0h2m-1 0h2m39 0h2m14 0h2m26 0h2m-287 1h2m-1 0h2m124 0h2m-1 0h2m15 0h2m23 0h2m0 0h2m2 0h2m43 0h2m10 0h2m-2 0h2m-292 1h2m212 0h2m19 0h2m5 0h2m19 0h2m59 0h2m12 0h2m-337 1h2m2 0h2m-1 0h2m50 0h2m12 0h2m9 0h2m13 0h2m19 0h2m62 0h2m9 0h2m36 0h2m51 0h2m9 0h2m49 0h2m-290 1h2m40 0h2m63 0h2m6 0h2m20 0h2m51 0h2m12 0h2m26 0h2m54 0h2m-295 1h2m114 0h2m66 0h2m19 0h2m9 0h2m17 0h2m-286 1h2m-1 0h2m49 0h2m9 0h2m25 0h2m54 0h2m37 0h2m6 0h2m102 0h2m16 0h2m23 0h2m-341 1h2m48 0h2m3 0h2m8 0h2m45 0h2m14 0h2m7 0h2m16 0h2m12 0h2m1 0h2m9 0h2m37 0h2m22 0h2m22 0h2m6 0h2m-288 1h2m1 0h2m-1 0h2m57 0h2m10 0h2m-1 0h2m51 0h2m15 0h2m5 0h2m39 0h2m40 0h2m9 0h2m4 0h2m15 0h2m52 0h2m-327 1h2m3 0h2m61 0h2m3 0h2m119 0h2m34 0h2m36 0h2m16 0h2m15 0h2m-301 1h2m2 0h2m52 0h2m-1 0h2m1 0h2m5 0h2m4 0h2m101 0h2m23 0h2m32 0h2m1 0h2m20 0h2m7 0h2m-1 0h2m5 0h2m48 0h2m-335 1h2m68 0h2m20 0h2m6 0h2m68 0h2m5 0h2m19 0h2m16 0h2m7 0h2m24 0h2m12 0h2m36 0h2m-306 1h2m63 0h2m20 0h2m10 0h2m82 0h2m18 0h2m25 0h2m12 0h2m8 0h2m20 0h2m4 0h2m23 0h2m12 0h2m-317 1h2m57 0h2m10 0h2m72 0h2m24 0h2m3 0h2m2 0h2m5 0h2m20 0h2m8 0h2m-1 0h2m107 0h2m-334 1h2m74 0h2m82 0h2m-1 0h2m21 0h2m22 0h2m10 0h2m14 0h2m1 0h2m4 0h2m26 0h2m-215 1h2m1 0h2m2 0h2m8 0h2m74 0h2m9 0h2m8 0h2m28 0h2m13 0h2m10 0h2m10 0h2m11 0h2m-2 0h2m-1 0h2m5 0h2m1 0h2m27 0h2m-231 1h2m4 0h2m0 0h2m6 0h2m109 0h2m12 0h2m10 0h2m53 0h2m8 0h2m5 0h2m43 0h2m-355 1h2m11 0h2m63 0h2m26 0h2m3 0h2m35 0h2m50 0h2m24 0h2m26 0h2m50 0h2m16 0h2m-1 0h2m24 0h2m-276 1h2m5 0h2m0 0h2m133 0h2m31 0h2m2 0h2m1 0h2m4 0h2m11 0h2m12 0h2m15 0h2m-224 1h2m76 0h2m63 0h2m-2 0h2m4 0h2m3 0h2m19 0h2m23 0h2m4 0h2m-281 1h2m165 0h2m-1 0h2m7 0h2m18 0h2m12 0h2m23 0h2m7 0h2m26 0h2m-273 1h2m60 0h2m8 0h2m3 0h2m2 0h2m6 0h2m8 0h2m26 0h2m39 0h2m19 0h2m53 0h2m2 0h2m60 0h2m-318 1h2m-2 0h2m4 0h2m65 0h2m46 0h2m4 0h2m56 0h2m25 0h2m25 0h2m9 0h2m3 0h2m26 0h2m-2 0h2m57 0h2m-340 1h2m60 0h2m-2 0h2m1 0h2m-1 0h2m11 0h2m26 0h2m38 0h2m49 0h2m40 0h2m9 0h2m14 0h2m43 0h2m18 0h2m-339 1h2m1 0h2m0 0h2m59 0h2m16 0h2m-1 0h2m0 0h2m76 0h2m54 0h2m24 0h2m106 0h2m-290 1h2m114 0h2m7 0h2m20 0h2m9 0h2m72 0h2m18 0h2m-323 1h2m69 0h2m-2 0h2m3 0h2m13 0h2m-1 0h2m42 0h2m7 0h2m14 0h2m75 0h2m-240 1h2m71 0h2m29 0h2m10 0h2m15 0h2m28 0h2m94 0h2m-193 1h2m-2 0h2m0 0h2m3 0h2m5 0h2m-1 0h2m0 0h2m1 0h2m18 0h2m65 0h2m0 0h2m-1 0h2m-112 1h2m2 0h2m45 0h2m53 0h2m1 0h2m69 0h2m5 0h2m2 0h2m55 0h2m-314 1h2m-2 0h2m0 0h2m0 0h2m59 0h2m1 0h2m6 0h2m1 0h2m23 0h2m-1 0h2m6 0h2m81 0h2m4 0h2m15 0h2m16 0h2m12 0h2m7 0h2m-312 1h2m44 0h2m70 0h2m1 0h2m7 0h2m104 0h2m11 0h2m17 0h2m63 0h2m28 0h2m-250 1h2m1 0h2m73 0h2m49 0h2m9 0h2m36 0h2m51 0h2m-230 1h2m12 0h2m95 0h2m49 0h2m4 0h2m42 0h2m-283 1h2m0 0h2m-1 0h2m81 0h2m15 0h2m3 0h2m39 0h2m119 0h2m-280 1h2m71 0h2m0 0h2m-1 0h2m12 0h2m5 0h2m15 0h2m-1 0h2m4 0h2m6 0h2m74 0h2m24 0h2m73 0h2m-298 1h2m62 0h2m3 0h2m3 0h2m19 0h2m17 0h2m8 0h2m63 0h2m22 0h2m1 0h2m39 0h2m-260 1h2m63 0h2m5 0h2m4 0h2m170 0h2m3 0h2m27 0h2m18 0h2m-237 1h2m5 0h2m-2 0h2m5 0h2m-2 0h2m3 0h2m103 0h2m29 0h2m60 0h2m10 0h2m-303 1h2m68 0h2m0 0h2m6 0h2m16 0h2m27 0h2m4 0h2m38 0h2m115 0h2m-223 1h2m5 0h2m1 0h2m2 0h2m27 0h2m37 0h2m15 0h2m3 0h2m24 0h2m115 0h2m-323 1h2m85 0h2m0 0h2m6 0h2m4 0h2m2 0h2m39 0h2m29 0h2m69 0h2m-173 1h2m-2 0h2m-2 0h2m3 0h2m19 0h2m-1 0h2m18 0h2m87 0h2m57 0h2m-284 1h2m6 0h2m4 0h2m66 0h2m0 0h2m5 0h2m25 0h2m5 0h2m3 0h2m-121 1h2m-1 0h2m0 0h2m0 0h2m75 0h2m55 0h2m135 0h2m-1 0h2m9 0h2m10 0h2m-311 1h2m79 0h2m0 0h2m-1 0h2m1 0h2m-2 0h2m9 0h2m1 0h2m17 0h2m114 0h2m44 0h2m23 0h2m7 0h2m-312 1h2m73 0h2m-1 0h2m1 0h2m6 0h2m7 0h2m22 0h2m9 0h2m66 0h2m-195 1h2m67 0h2m-2 0h2m0 0h2m-2 0h2m20 0h2m-1 0h2m10 0h2m9 0h2m149 0h2m-281 1h2m4 0h2m2 0h2m-1 0h2m79 0h2m16 0h2m6 0h2m209 0h2m-250 1h2m6 0h2m2 0h2m2 0h2m17 0h2m2 0h2m3 0h2m4 0h2m175 0h2m-225 1h2m29 0h2m122 0h2m93 0h2m-325 1h2m67 0h2m4 0h2m-1 0h2m-1 0h2m1 0h2m6 0h2m90 0h2m-188 1h2m3 0h2m71 0h2m6 0h2m10 0h2m4 0h2m18 0h2m-143 1h2m12 0h2m-1 0h2m79 0h2m-1 0h2m-2 0h2m36 0h2m6 0h2m10 0h2m94 0h2m-249 1h2m92 0h2m4 0h2m-1 0h2m4 0h2m48 0h2m-2 0h2m94 0h2m-246 1h2m4 0h2m1 0h2m71 0h2m2 0h2m-1 0h2m-2 0h2m4 0h2m23 0h2m21 0h2m94 0h2m-232 1h2m72 0h2m-1 0h2m0 0h2m-2 0h2m-1 0h2m2 0h2m2 0h2m1 0h2m32 0h2m205 0h2m-330 1h2m74 0h2m5 0h2m-1 0h2m-2 0h2m7 0h2m5 0h2m20 0h2m55 0h2m39 0h2m-227 1h2m1 0h2m76 0h2m8 0h2m0 0h2m-1 0h2m8 0h2m-2 0h2m16 0h2m13 0h2m10 0h2m-162 1h2m89 0h2m10 0h2m-1 0h2m0 0h2m11 0h2m0 0h2m27 0h2m27 0h2m47 0h2m-220 1h2m1 0h2m-2 0h2m1 0h2m77 0h2m5 0h2m4 0h2m2 0h2m1 0h2m5 0h2m-25 1h2m1 0h2m-1 0h2m8 0h2m160 0h2m77 0h2m-352 1h2m8 0h2m77 0h2m-2 0h2m-1 0h2m-1 0h2m0 0h2m1 0h2m-1 0h2m4 0h2m8 0h2m5 0h2m1 0h2m40 0h2m42 0h2m73 0h2m-194 1h2m4 0h2m1 0h2m7 0h2m5 0h2m1 0h2m-34 1h2m-1 0h2m3 0h2m5 0h2m93 0h2m-200 1h2m10 0h2m106 0h2m11 0h2m-133 1h2m2 0h2m83 0h2m0 0h2m-1 0h2m0 0h2m4 0h2m-1 0h2m-1 0h2m2 0h2m-1 0h2m2 0h2m7 0h2m4 0h2m54 0h2m-196 1h2m9 0h2m-1 0h2m2 0h2m4 0h2m77 0h2m12 0h2m42 0h2m-158 1h2m15 0h2m82 0h2m-1 0h2m16 0h2m6 0h2m19 0h2m-1 0h2m35 0h2m-90 1h2m-1 0h2m6 0h2m14 0h2m52 0h2m-164 1h2m0 0h2m80 0h2m0 0h2m1 0h2m1 0h2m18 0h2m14 0h2m21 0h2m21 0h2m-180 1h2m4 0h2m87 0h2m3 0h2m13 0h2m28 0h2m15 0h2m-165 1h2m3 0h2m85 0h2m3 0h2m3 0h2m0 0h2m2 0h2m7 0h2m-1 0h2m7 0h2m5 0h2m3 0h2m11 0h2m18 0h2m-168 1h2m-1 0h2m87 0h2m0 0h2m1 0h2m-2 0h2m-2 0h2m0 0h2m-1 0h2m0 0h2m1 0h2m4 0h2m1 0h2m2 0h2m36 0h2m-70 1h2m1 0h2m1 0h2m24 0h2m-121 1h2m0 0h2m85 0h2m-2 0h2m5 0h2m-1 0h2m6 0h2m-1 0h2m5 0h2m0 0h2m6 0h2m4 0h2m78 0h2m-219 1h2m4 0h2m90 0h2m0 0h2m0 0h2m0 0h2m-1 0h2m0 0h2m-2 0h2m2 0h2m3 0h2m0 0h2m25 0h2m31 0h2m-173 1h2m99 0h2m7 0h2m-135 1h2m116 0h2m2 0h2m3 0h2m5 0h2m1 0h2m53 0h2m-179 1h2m5 0h2m93 0h2m0 0h2m2 0h2m0 0h2m-2 0h2m2 0h2m4 0h2m4 0h2m6 0h2m13 0h2m3 0h2m11 0h2m-65 1h2m3 0h2m1 0h2m9 0h2m0 0h2m-1 0h2m-1 0h2m1 0h2m-2 0h2m0 0h2m4 0h2m-133 1h2m97 0h2m-1 0h2m0 0h2m-2 0h2m20 0h2m8 0h2m23 0h2m22 0h2m-86 1h2m-1 0h2m1 0h2m-1 0h2m3 0h2m14 0h2m26 0h2m5 0h2m193 0h2m-353 1h2m94 0h2m3 0h2m29 0h2m-2 0h2m4 0h2m61 0h2m-101 1h2m-2 0h2m2 0h2m0 0h2m3 0h2m1 0h2m7 0h2m5 0h2m5 0h2m4 0h2m53 0h2m-205 1h2m98 0h2m7 0h2m33 0h2m-146 1h2m102 0h2m1 0h2m-2 0h2m3 0h2m-1 0h2m-1 0h2m-1 0h2m9 0h2m13 0h2m40 0h2m-187 1h2m-1 0h2m105 0h2m0 0h2m-2 0h2m-1 0h2m1 0h2m0 0h2m-1 0h2m8 0h2m-2 0h2m-1 0h2m5 0h2m-1 0h2m1 0h2m-1 0h2m1 0h2m-170 1h2m15 0h2m9 0h2m101 0h2m-1 0h2m2 0h2m-2 0h2m4 0h2m-1 0h2m2 0h2m1 0h2m0 0h2m-1 0h2m-1 0h2m21 0h2m54 0h2m-221 1h2m11 0h2m102 0h2m3 0h2m6 0h2m1 0h2m-1 0h2m1 0h2m18 0h2m11 0h2m-188 1h2m1 0h2m128 0h2m3 0h2m-1 0h2m5 0h2m-2 0h2m-1 0h2m-1 0h2m-129 1h2m111 0h2m0 0h2m3 0h2m15 0h2m-2 0h2m8 0h2m-182 1h2m155 0h2m6 0h2m2 0h2m35 0h2m148 0h2m-211 1h2m9 0h2m1 0h2m1 0h2m17 0h2m23 0h2m-229 1h2m59 0h2m102 0h2m-2 0h2m0 0h2m-2 0h2m-1 0h2m1 0h2m0 0h2m1 0h2m-1 0h2m8 0h2m-2 0h2m16 0h2m-152 1h2m108 0h2m13 0h2m4 0h2m30 0h2m7 0h2m0 0h2m18 0h2m-196 1h2m110 0h2m-1 0h2m-2 0h2m-1 0h2m37 0h2m11 0h2m9 0h2m14 0h2m7 0h2m-235 1h2m145 0h2m-2 0h2m0 0h2m11 0h2m0 0h2m4 0h2m22 0h2m14 0h2m-182 1h2m-1 0h2m112 0h2m-1 0h2m9 0h2m-1 0h2m-174 1h2m10 0h2m146 0h2m-2 0h2m1 0h2m0 0h2m16 0h2m2 0h2m6 0h2m35 0h2m12 0h2m-90 1h2m-2 0h2m2 0h2m5 0h2m12 0h2m44 0h2m-212 1h2m11 0h2m10 0h2m113 0h2m4 0h2m15 0h2m3 0h2m3 0h2m-1 0h2m58 0h2m-239 1h2m141 0h2m1 0h2m-1 0h2m0 0h2m4 0h2m-2 0h2m14 0h2m22 0h2m1 0h2m6 0h2m-64 1h2m0 0h2m4 0h2m0 0h2m0 0h2m-2 0h2m14 0h2m-1 0h2m0 0h2m0 0h2m16 0h2m-1 0h2m-186 1h2m15 0h2m0 0h2m0 0h2m107 0h2m-2 0h2m2 0h2m-1 0h2m7 0h2m9 0h2m1 0h2m9 0h2m26 0h2m-181 1h2m-1 0h2m109 0h2m1 0h2m14 0h2m10 0h2m23 0h2m-58 1h2m7 0h2m-1 0h2m0 0h2m-2 0h2m-1 0h2m-1 0h2m33 0h2m24 0h2m-75 1h2m3 0h2m2 0h2m-2 0h2m13 0h2m24 0h2m3 0h2m8 0h2m-189 1h2m135 0h2m10 0h2m4 0h2m-2 0h2m-182 1h2m29 0h2m2 0h2m109 0h2m-1 0h2m0 0h2m-1 0h2m5 0h2m-2 0h2m9 0h2m2 0h2m4 0h2m11 0h2m-1 0h2m-2 0h2m14 0h2m-182 1h2m117 0h2m8 0h2m5 0h2m7 0h2m-1 0h2m36 0h2m-226 1h2m26 0h2m6 0h2m6 0h2m112 0h2m1 0h2m-1 0h2m4 0h2m4 0h2m12 0h2m2 0h2m4 0h2m29 0h2m-241 1h2m16 0h2m19 0h2m10 0h2m-1 0h2m115 0h2m0 0h2m-2 0h2m5 0h2m3 0h2m1 0h2m-1 0h2m44 0h2m-212 1h2m4 0h2m137 0h2m0 0h2m2 0h2m6 0h2m6 0h2m-2 0h2m-2 0h2m1 0h2m4 0h2m0 0h2m4 0h2m3 0h2m4 0h2m25 0h2m129 0h2m-325 1h2m114 0h2m1 0h2m-1 0h2m2 0h2m0 0h2m1 0h2m4 0h2m0 0h2m1 0h2m12 0h2m4 0h2m-199 1h2m-1 0h2m7 0h2m14 0h2m6 0h2m118 0h2m3 0h2m3 0h2m38 0h2m5 0h2m27 0h2m-203 1h2m111 0h2m8 0h2m1 0h2m-2 0h2m2 0h2m5 0h2m9 0h2m9 0h2m-1 0h2m6 0h2m2 0h2m-201 1h2m18 0h2m0 0h2m117 0h2m-1 0h2m-1 0h2m4 0h2m-2 0h2m1 0h2m3 0h2m4 0h2m18 0h2m8 0h2m0 0h2m-209 1h2m33 0h2m-1 0h2m116 0h2m-1 0h2m1 0h2m-2 0h2m2 0h2m13 0h2m16 0h2m7 0h2m2 0h2m-190 1h2m130 0h2m7 0h2m24 0h2m2 0h2m-186 1h2m2 0h2m141 0h2m1 0h2m3 0h2m5 0h2m1 0h2m-2 0h2m1 0h2m6 0h2m11 0h2m-175 1h2m134 0h2m-2 0h2m0 0h2m4 0h2m-1 0h2m60 0h2m6 0h2m-210 1h2m123 0h2m1 0h2m0 0h2m3 0h2m0 0h2m0 0h2m0 0h2m3 0h2m3 0h2m35 0h2m1 0h2m-214 1h2m148 0h2m0 0h2m2 0h2m-1 0h2m-1 0h2m3 0h2m0 0h2m-1 0h2m3 0h2m3 0h2m7 0h2m1 0h2m2 0h2m6 0h2m-201 1h2m8 0h2m4 0h2m-1 0h2m3 0h2m123 0h2m-1 0h2m10 0h2m-2 0h2m0 0h2m-1 0h2m13 0h2m15 0h2m6 0h2m30 0h2m-241 1h2m2 0h2m21 0h2m122 0h2m0 0h2m-1 0h2m1 0h2m5 0h2m6 0h2m-1 0h2m1 0h2m-2 0h2m-1 0h2m2 0h2m-166 1h2m10 0h2m119 0h2m-1 0h2m15 0h2m1 0h2m0 0h2m8 0h2m3 0h2m7 0h2m2 0h2m4 0h2m-181 1h2m119 0h2m2 0h2m-1 0h2m-1 0h2m3 0h2m3 0h2m4 0h2m0 0h2m0 0h2m39 0h2m14 0h2m1 0h2m-233 1h2m8 0h2m3 0h2m131 0h2m1 0h2m0 0h2m-1 0h2m2 0h2m4 0h2m-1 0h2m1 0h2m-1 0h2m-1 0h2m10 0h2m-187 1h2m12 0h2m138 0h2m0 0h2m1 0h2m2 0h2m-1 0h2m2 0h2m17 0h2m2 0h2m63 0h2m-270 1h2m158 0h2m-2 0h2m-1 0h2m-1 0h2m21 0h2m0 0h2m-1 0h2m5 0h2m31 0h2m4 0h2m-75 1h2m1 0h2m0 0h2m-1 0h2m1 0h2m2 0h2m11 0h2m4 0h2m-180 1h2m22 0h2m119 0h2m-1 0h2m23 0h2m3 0h2m1 0h2m-1 0h2m-1 0h2m2 0h2m11 0h2m-192 1h2m14 0h2m-2 0h2m121 0h2m3 0h2m13 0h2m-1 0h2m0 0h2m34 0h2m-60 1h2m-2 0h2m-1 0h2m1 0h2m-1 0h2m-2 0h2m9 0h2m5 0h2m2 0h2m2 0h2m10 0h2m30 0h2m-237 1h2m33 0h2m122 0h2m0 0h2m0 0h2m1 0h2m5 0h2m2 0h2m-2 0h2m0 0h2m1 0h2m0 0h2m2 0h2m4 0h2m2 0h2m21 0h2m-226 1h2m25 0h2m10 0h2m-2 0h2m129 0h2m6 0h2m-1 0h2m0 0h2m12 0h2m-1 0h2m11 0h2m6 0h2m2 0h2m18 0h2m-248 1h2m6 0h2m9 0h2m4 0h2m15 0h2m127 0h2m0 0h2m6 0h2m4 0h2m5 0h2m30 0h2m-220 1h2m33 0h2m136 0h2m0 0h2m-1 0h2m5 0h2m2 0h2m16 0h2m5 0h2m4 0h2m-220 1h2m26 0h2m135 0h2m5 0h2m-2 0h2m13 0h2m-1 0h2m4 0h2m2 0h2m-194 1h2m25 0h2m0 0h2m126 0h2m6 0h2m-2 0h2m4 0h2m31 0h2m4 0h2m-185 1h2m-1 0h2m127 0h2m1 0h2m-1 0h2m-2 0h2m0 0h2m19 0h2m0 0h2m7 0h2m1 0h2m-2 0h2m16 0h2m10 0h2m-221 1h2m7 0h2m1 0h2m-2 0h2m139 0h2m1 0h2m1 0h2m0 0h2m0 0h2m9 0h2m11 0h2m1 0h2m12 0h2m3 0h2m10 0h2m-231 1h2m9 0h2m149 0h2m8 0h2m-2 0h2m5 0h2m3 0h2m6 0h2m18 0h2m1 0h2m19 0h2m-2 0h2m4 0h2m-220 1h2m3 0h2m129 0h2m5 0h2m1 0h2m6 0h2m-1 0h2m-1 0h2m2 0h2m-161 1h2m129 0h2m0 0h2m0 0h2m7 0h2m-2 0h2m1 0h2m4 0h2m6 0h2m0 0h2m9 0h2m1 0h2m-204 1h2m16 0h2m2 0h2m135 0h2m-2 0h2m1 0h2m6 0h2m3 0h2m14 0h2m21 0h2m2 0h2m-219 1h2m9 0h2m-1 0h2m6 0h2m1 0h2m-1 0h2m132 0h2m-2 0h2m-2 0h2m-1 0h2m-2 0h2m4 0h2m3 0h2m7 0h2m0 0h2m3 0h2m8 0h2m6 0h2m-190 1h2m6 0h2m1 0h2m135 0h2m-1 0h2m-2 0h2m4 0h2m-2 0h2m3 0h2m0 0h2m5 0h2m18 0h2m23 0h2m-213 1h2m-1 0h2m1 0h2m135 0h2m-1 0h2m1 0h2m-2 0h2m0 0h2m8 0h2m20 0h2m8 0h2m25 0h2m-235 1h2m16 0h2m136 0h2m-2 0h2m-1 0h2m-2 0h2m-1 0h2m0 0h2m4 0h2m5 0h2m-1 0h2m11 0h2m5 0h2m-191 1h2m0 0h2m-2 0h2m17 0h2m128 0h2m9 0h2m11 0h2m7 0h2m3 0h2m4 0h2m10 0h2m-1 0h2m0 0h2m-197 1h2m137 0h2m-1 0h2m-2 0h2m1 0h2m5 0h2m5 0h2m0 0h2m0 0h2m52 0h2m-223 1h2m142 0h2m3 0h2m19 0h2m4 0h2m-180 1h2m2 0h2m1 0h2m2 0h2m133 0h2m6 0h2m-2 0h2m3 0h2m8 0h2m8 0h2m-30 1h2m2 0h2m57 0h2m-255 1h2m17 0h2m5 0h2m0 0h2m0 0h2m-1 0h2m4 0h2m10 0h2m136 0h2m-1 0h2m39 0h2m-214 1h2m8 0h2m14 0h2m153 0h2m8 0h2m-1 0h2m4 0h2m84 0h2m-261 1h2m143 0h2m-2 0h2m1 0h2m4 0h2m1 0h2m6 0h2m-1 0h2m14 0h2m2 0h2m-215 1h2m17 0h2m-1 0h2m3 0h2m3 0h2m6 0h2m132 0h2m2 0h2m18 0h2m0 0h2m6 0h2m3 0h2m1 0h2m-226 1h2m16 0h2m10 0h2m1 0h2m2 0h2m8 0h2m132 0h2m1 0h2m-1 0h2m1 0h2m18 0h2m6 0h2m25 0h2m-206 1h2m139 0h2m-2 0h2m-1 0h2m-1 0h2m8 0h2m19 0h2m-1 0h2m7 0h2m2 0h2m139 0h2m-346 1h2m1 0h2m15 0h2m1 0h2m140 0h2m-10 1h2m3 0h2m11 0h2m15 0h2m0 0h2m17 0h2m14 0h2m56 0h2m-300 1h2m7 0h2m19 0h2m-2 0h2m3 0h2m130 0h2m1 0h2m0 0h2m-1 0h2m5 0h2m5 0h2m-183 1h2m20 0h2m2 0h2m132 0h2m5 0h2m6 0h2m0 0h2m-1 0h2m15 0h2m-187 1h2m15 0h2m-1 0h2m129 0h2m3 0h2m3 0h2m28 0h2m10 0h2m0 0h2m-186 1h2m-2 0h2m140 0h2m16 0h2m4 0h2m26 0h2m-241 1h2m27 0h2m143 0h2m4 0h2m0 0h2m-1 0h2m-2 0h2m1 0h2m18 0h2m3 0h2m68 0h2m-279 1h2m19 0h2m7 0h2m-2 0h2m8 0h2m-1 0h2m136 0h2m0 0h2m7 0h2m8 0h2m0 0h2m3 0h2m3 0h2m0 0h2m3 0h2m-1 0h2m-214 1h2m14 0h2m0 0h2m8 0h2m124 0h2m1 0h2m5 0h2m8 0h2m-1 0h2m4 0h2m-1 0h2m8 0h2m7 0h2m-224 1h2m18 0h2m6 0h2m24 0h2m0 0h2m119 0h2m6 0h2m2 0h2m15 0h2m-2 0h2m0 0h2m12 0h2m3 0h2m1 0h2m-184 1h2m125 0h2m-2 0h2m-2 0h2m-1 0h2m8 0h2m-1 0h2m2 0h2m-2 0h2m2 0h2m5 0h2m7 0h2m8 0h2m-191 1h2m21 0h2m114 0h2m-1 0h2m2 0h2m0 0h2m3 0h2m4 0h2m21 0h2m-1 0h2m61 0h2m-252 1h2m142 0h2m-2 0h2m1 0h2m0 0h2m0 0h2m9 0h2m14 0h2m45 0h2m13 0h2m-244 1h2m149 0h2m7 0h2m1 0h2m0 0h2m-2 0h2m0 0h2m3 0h2m20 0h2m1 0h2m-1 0h2m6 0h2m1 0h2m23 0h2m21 0h2m-230 1h2m0 0h2m109 0h2m-2 0h2m-2 0h2m0 0h2m-2 0h2m1 0h2m-1 0h2m3 0h2m1 0h2m27 0h2m13 0h2m-1 0h2m14 0h2m27 0h2m37 0h2m-146 1h2m1 0h2m29 0h2m13 0h2m17 0h2m-215 1h2m2 0h2m28 0h2m115 0h2m-1 0h2m11 0h2m28 0h2m-53 1h2m-1 0h2m0 0h2m5 0h2m0 0h2m3 0h2m12 0h2m3 0h2m37 0h2m53 0h2m-285 1h2m17 0h2m20 0h2m105 0h2m0 0h2m5 0h2m17 0h2m0 0h2m2 0h2m5 0h2m18 0h2m-1 0h2m62 0h2m-247 1h2m2 0h2m6 0h2m5 0h2m-1 0h2m100 0h2m2 0h2m4 0h2m20 0h2m4 0h2m11 0h2m0 0h2m2 0h2m-2 0h2m-196 1h2m-1 0h2m128 0h2m-1 0h2m2 0h2m-2 0h2m5 0h2m-1 0h2m-2 0h2m4 0h2m53 0h2m1 0h2m41 0h2m16 0h2m-257 1h2m19 0h2m93 0h2m0 0h2m-1 0h2m2 0h2m2 0h2m30 0h2m18 0h2m8 0h2m-215 1h2m6 0h2m130 0h2m11 0h2m3 0h2m1 0h2m10 0h2m45 0h2m18 0h2m-246 1h2m21 0h2m8 0h2m17 0h2m85 0h2m6 0h2m-1 0h2m6 0h2m10 0h2m3 0h2m2 0h2m-1 0h2m5 0h2m43 0h2m12 0h2m-229 1h2m6 0h2m15 0h2m6 0h2m86 0h2m0 0h2m6 0h2m13 0h2m22 0h2m9 0h2m12 0h2m-2 0h2m0 0h2m16 0h2m10 0h2m-202 1h2m2 0h2m2 0h2m-1 0h2m87 0h2m-2 0h2m3 0h2m3 0h2m6 0h2m3 0h2m3 0h2m9 0h2m11 0h2m-1 0h2m87 0h2m6 0h2m-270 1h2m20 0h2m-1 0h2m2 0h2m82 0h2m7 0h2m24 0h2m19 0h2m4 0h2m2 0h2m3 0h2m15 0h2m6 0h2m-230 1h2m20 0h2m24 0h2m85 0h2m1 0h2m16 0h2m8 0h2m7 0h2m0 0h2m12 0h2m4 0h2m1 0h2m3 0h2m18 0h2m6 0h2m40 0h2m-1 0h2m-261 1h2m8 0h2m104 0h2m58 0h2m14 0h2m2 0h2m2 0h2m8 0h2m16 0h2m11 0h2m-95 1h2m15 0h2m9 0h2m6 0h2m11 0h2m3 0h2m21 0h2m-120 1h2m14 0h2m14 0h2m18 0h2m6 0h2m17 0h2m10 0h2m3 0h2m3 0h2m10 0h2m43 0h2m-158 1h2m24 0h2m23 0h2m7 0h2m21 0h2m0 0h2m103 0h2m-286 1h2m2 0h2m78 0h2m8 0h2m24 0h2m11 0h2m5 0h2m13 0h2m15 0h2m14 0h2m-1 0h2m5 0h2m-222 1h2m35 0h2m68 0h2m8 0h2m-2 0h2m22 0h2m3 0h2m-1 0h2m55 0h2m11 0h2m3 0h2m6 0h2m4 0h2m-204 1h2m11 0h2m68 0h2m11 0h2m10 0h2m23 0h2m2 0h2m4 0h2m1 0h2m7 0h2m4 0h2m10 0h2m64 0h2m-280 1h2m1 0h2m4 0h2m94 0h2m1 0h2m3 0h2m29 0h2m6 0h2m9 0h2m7 0h2m23 0h2m4 0h2m9 0h2m11 0h2m28 0h2m-242 1h2m31 0h2m8 0h2m-2 0h2m0 0h2m39 0h2m17 0h2m4 0h2m19 0h2m10 0h2m6 0h2m3 0h2m23 0h2m-141 1h2m2 0h2m0 0h2m31 0h2m3 0h2m6 0h2m61 0h2m4 0h2m2 0h2m1 0h2m-159 1h2m27 0h2m6 0h2m32 0h2m11 0h2m8 0h2m17 0h2m10 0h2m0 0h2m71 0h2m0 0h2m-225 1h2m48 0h2m19 0h2m-2 0h2m4 0h2m-2 0h2m-1 0h2m-1 0h2m0 0h2m-2 0h2m3 0h2m6 0h2m32 0h2m50 0h2m0 0h2m41 0h2m89 0h2m-314 1h2m12 0h2m36 0h2m1 0h2m7 0h2m7 0h2m-1 0h2m3 0h2m4 0h2m35 0h2m36 0h2m17 0h2m12 0h2m31 0h2m-207 1h2m36 0h2m1 0h2m0 0h2m-1 0h2m2 0h2m14 0h2m8 0h2m14 0h2m22 0h2m13 0h2m9 0h2m4 0h2m3 0h2m7 0h2m25 0h2m-201 1h2m7 0h2m11 0h2m23 0h2m6 0h2m25 0h2m8 0h2m36 0h2m8 0h2m65 0h2m30 0h2m-271 1h2m61 0h2m7 0h2m5 0h2m10 0h2m39 0h2m23 0h2m6 0h2m14 0h2m12 0h2m14 0h2m27 0h2m17 0h2m-49 1h2m4 0h2m-2 0h2m-155 1h2m-2 0h2m104 0h2m-1 0h2m7 0h2m0 0h2m9 0h2m3 0h2m9 0h2m16 0h2m63 0h2m3 0h2m-293 1h2m44 0h2m24 0h2m4 0h2m3 0h2m20 0h2m49 0h2m1 0h2m1 0h2m11 0h2m16 0h2m19 0h2m0 0h2m35 0h2m-151 1h2m64 0h2m1 0h2m-116 1h2m82 0h2m36 0h2m23 0h2m5 0h2m52 0h2m-97 1h2m16 0h2m-64 1h2m11 0h2m18 0h2m7 0h2m-77 1h2m41 0h2m0 0h2m77 0h2m2 0h2m1 0h2m8 0h2m94 0h2m-317 1h2m122 0h2m21 0h2m-14 1h2m33 0h2m51 0h2m-157 1h2m93 0h2m26 0h2m7 0h2m-143 1h2m66 0h2m15 0h2m-148 1h2m2 0h2m187 0h2m-47 1h2m11 0h2m-151 1h2m132 0h2m9 0h2m25 0h2m8 1h2m19 0h2m-81 1h2m5 0h2m-1 0h2m4 0h2m-93 1h2m62 1h2m19 0h2m84 0h2m-225 1h2m104 0h2m62 0h2m-18 2h2m-174 3h2m161 0h2m13 0h2m-19 1h2m57 0h2m-36 1h2m8 0h2m90 0h2m-193 1h2m15 0h2m59 1h2m31 0h2m-124 4h2m-67 1h2m119 0h2m0 0h2m-120 2h2m117 0h2m-118 3h2m179 3h2m-191 2h2m305 9h2m-287 5h2m123 0h2m46 0h2m65 0h2" stroke="#1a1a1a" stroke-width="2.5" fill="none"/><path d="M212 1364h2m-10 1h2m31 4h2m-9 5h2m-3 1h2m-66 1h2m46 4h2m13 0h2m-53 4h2m36 1h2m-4 1h2m297 0h2m-301 3h2m1 1h2m-29 2h2m44 0h2m-31 1h2m2 1h2m4 1h2m-6 1h2m-17 1h2m12 1h2m0 0h2m-32 1h2m20 1h2m17 0h2m-8 1h2m-3 2h2m-49 1h2m36 0h2m-26 1h2m-1 0h2m9 0h2m2 0h2m5 0h2m8 0h2m-48 3h2m52 0h2m2 0h2m-56 1h2m22 0h2m19 0h2m18 0h2m-51 1h2m18 0h2m138 0h2m-167 2h2m9 0h2m-1 0h2m0 0h2m28 0h2m6 0h2m25 0h2m-53 1h2m16 0h2m-57 1h2m0 0h2m12 0h2m0 1h2m3 0h2m5 0h2m1 0h2m12 0h2m-50 1h2m3 0h2m17 0h2m22 0h2m6 0h2m-34 1h2m18 1h2m-38 1h2m13 0h2m27 0h2m-49 1h2m15 0h2m20 0h2m-12 1h2m-1 0h2m0 0h2m14 0h2m-24 1h2m0 0h2m19 0h2m-49 1h2m19 0h2m14 0h2m-57 1h2m31 0h2m4 0h2m0 0h2m5 0h2m-2 0h2m18 0h2m-53 1h2m6 0h2m36 0h2m1 0h2m-44 1h2m-1 0h2m3 0h2m7 0h2m-17 1h2m30 0h2m-32 1h2m21 1h2m-32 1h2m0 0h2m13 0h2m18 0h2m6 0h2m-33 1h2m13 0h2m12 0h2m-37 1h2m1 0h2m17 0h2m-21 1h2m5 0h2m0 0h2m8 0h2m-9 1h2m8 0h2m-2 0h2m7 0h2m-42 1h2m21 0h2m7 0h2m14 0h2m2 0h2m-50 1h2m18 0h2m-17 1h2m2 0h2m20 0h2m18 0h2m-69 1h2m31 0h2m2 0h2m0 0h2m-1 0h2m8 0h2m3 0h2m1 0h2m-26 1h2m0 0h2m9 0h2m-21 1h2m0 0h2m5 0h2m10 0h2m2 0h2m-14 1h2m19 0h2m-8 1h2m-31 1h2m-2 0h2m9 0h2m12 1h2m10 0h2m0 0h2m-64 1h2m1 0h2m3 0h2m2 0h2m17 0h2m14 0h2m-8 1h2m22 1h2m227 0h2m39 0h2m-316 2h2m32 0h2m-56 1h2m26 0h2m5 0h2m-2 0h2m2 0h2m-24 1h2m-1 0h2m1 0h2m-12 1h2m-1 0h2m10 0h2m10 0h2m16 0h2m271 0h2m-325 1h2m24 0h2m1 0h2m6 0h2m-2 0h2m10 0h2m-48 2h2m13 0h2m0 0h2m0 0h2m0 0h2m-1 0h2m251 0h2m-266 1h2m4 0h2m4 0h2m0 0h2m-2 0h2m15 0h2m232 0h2m-278 1h2m42 0h2m-45 1h2m5 0h2m6 0h2m10 0h2m17 0h2m-50 1h2m9 0h2m0 0h2m13 0h2m8 0h2m-60 1h2m30 0h2m2 0h2m5 0h2m8 0h2m31 1h2m252 0h2m-315 1h2m10 0h2m5 0h2m-11 1h2m8 0h2m-22 1h2m9 0h2m2 0h2m-1 0h2m147 0h2m135 0h2m-302 1h2m43 0h2m116 0h2m4 0h2m34 0h2m12 0h2m47 0h2m-19 1h2m-250 1h2m180 0h2m65 0h2m29 0h2m18 0h2m-298 1h2m0 0h2m23 0h2m17 0h2m81 0h2m-169 1h2m22 0h2m3 0h2m7 0h2m7 0h2m9 0h2m-15 1h2m7 0h2m19 0h2m2 0h2m191 0h2m-270 1h2m14 0h2m20 0h2m7 0h2m-1 0h2m0 0h2m5 0h2m2 0h2m-1 0h2m5 0h2m-39 1h2m25 0h2m194 0h2m-222 1h2m-1 0h2m20 0h2m-21 1h2m-2 0h2m14 0h2m13 0h2m53 0h2m138 0h2m-235 1h2m4 0h2m8 0h2m22 0h2m191 0h2m-251 1h2m11 0h2m14 0h2m2 0h2m-1 0h2m0 0h2m23 0h2m211 0h2m-283 1h2m10 0h2m15 0h2m-4 1h2m16 0h2m184 0h2m-195 1h2m46 0h2m145 0h2m-229 1h2m30 0h2m223 0h2m28 0h2m-252 1h2m3 0h2m28 0h2m163 0h2m19 0h2m25 0h2m27 0h2m-298 1h2m7 0h2m6 0h2m166 0h2m40 0h2m-313 1h2m76 0h2m-1 0h2m3 0h2m8 0h2m5 0h2m1 0h2m32 0h2m227 0h2m-292 1h2m12 0h2m1 0h2m-2 0h2m9 0h2m3 0h2m264 0h2m-300 1h2m191 0h2m44 0h2m2 0h2m8 0h2m-1 0h2m47 0h2m-308 1h2m5 0h2m26 0h2m292 0h2m-346 1h2m171 0h2m59 0h2m17 0h2m10 0h2m-1 0h2m53 0h2m-131 1h2m67 0h2m-81 1h2m64 0h2m46 0h2m5 0h2m28 0h2m-323 1h2m41 0h2m155 0h2m-198 1h2m37 0h2m-1 0h2m9 0h2m124 0h2m82 0h2m-9 1h2m-40 1h2m86 0h2m-311 1h2m48 0h2m148 0h2m4 0h2m68 0h2m-275 1h2m-1 0h2m-2 0h2m46 0h2m92 0h2m31 0h2m43 0h2m21 0h2m0 0h2m31 0h2m-217 1h2m2 0h2m156 0h2m9 0h2m17 0h2m46 0h2m-259 1h2m5 0h2m101 0h2m24 0h2m36 0h2m77 0h2m-309 1h2m85 0h2m70 0h2m12 0h2m40 0h2m0 0h2m18 0h2m24 0h2m18 0h2m-208 1h2m113 0h2m-2 0h2m15 0h2m-2 0h2m79 0h2m-86 1h2m11 0h2m48 0h2m-268 1h2m50 0h2m2 0h2m79 0h2m60 0h2m101 0h2m15 0h2m-200 1h2m58 0h2m12 0h2m19 0h2m4 0h2m0 0h2m-2 0h2m24 0h2m9 0h2m-263 1h2m55 0h2m77 0h2m11 0h2m98 0h2m38 0h2m-136 1h2m28 0h2m-189 1h2m89 0h2m31 0h2m80 0h2m69 0h2m7 0h2m-287 1h2m59 0h2m182 0h2m3 0h2m-195 1h2m109 0h2m96 0h2m47 0h2m-198 1h2m124 0h2m17 0h2m41 0h2m-320 2h2m172 0h2m22 0h2m26 0h2m17 0h2m15 0h2m-185 1h2m0 0h2m128 0h2m37 0h2m16 0h2m0 0h2m-202 1h2m120 0h2m19 0h2m15 0h2m-1 0h2m7 0h2m17 0h2m33 0h2m-28 1h2m-262 1h2m79 0h2m63 0h2m52 0h2m71 0h2m-215 1h2m7 0h2m62 0h2m53 0h2m57 0h2m49 0h2m-139 1h2m33 0h2m47 0h2m61 0h2m26 0h2m-275 2h2m-70 1h2m64 0h2m32 0h2m9 0h2m2 0h2m20 0h2m47 0h2m35 0h2m-157 1h2m86 0h2m30 0h2m80 0h2m-270 1h2m108 0h2m40 0h2m81 0h2m108 0h2m-278 1h2m13 0h2m0 0h2m71 0h2m43 0h2m9 0h2m48 0h2m25 0h2m-294 1h2m93 0h2m5 0h2m144 0h2m-132 1h2m48 0h2m51 0h2m13 0h2m34 0h2m-202 1h2m1 0h2m9 0h2m132 0h2m-152 1h2m-1 0h2m-1 0h2m1 0h2m31 0h2m14 0h2m141 0h2m-205 1h2m10 0h2m93 0h2m25 0h2m13 0h2m-90 1h2m-128 1h2m1 0h2m60 0h2m7 0h2m-2 0h2m-1 0h2m5 0h2m1 0h2m121 0h2m32 0h2m-246 1h2m92 0h2m65 0h2m111 0h2m-207 1h2m36 0h2m126 0h2m-147 1h2m9 0h2m128 0h2m-143 1h2m102 0h2m7 0h2m21 0h2m-160 1h2m-2 0h2m-68 1h2m64 0h2m1 0h2m2 0h2m3 0h2m142 0h2m13 0h2m-170 1h2m26 0h2m10 0h2m84 0h2m-196 1h2m64 0h2m6 0h2m7 0h2m15 0h2m-1 0h2m74 0h2m88 0h2m0 0h2m-280 1h2m80 0h2m4 0h2m60 0h2m39 0h2m38 0h2m-155 1h2m21 0h2m3 0h2m17 0h2m56 0h2m-84 1h2m0 0h2m11 0h2m25 0h2m-69 1h2m3 0h2m18 0h2m1 0h2m66 0h2m-78 1h2m12 0h2m1 0h2m9 0h2m-49 1h2m60 0h2m30 0h2m20 0h2m-113 1h2m-87 1h2m3 0h2m77 0h2m0 0h2m0 0h2m17 0h2m10 0h2m-7 1h2m75 0h2m-95 1h2m0 0h2m18 0h2m48 0h2m-164 1h2m0 0h2m71 0h2m8 0h2m-92 1h2m76 0h2m5 0h2m1 0h2m4 0h2m26 0h2m97 1h2m-230 1h2m93 0h2m17 0h2m32 0h2m-64 1h2m4 0h2m0 0h2m18 0h2m-1 0h2m-111 1h2m83 0h2m41 0h2m29 0h2m64 0h2m-138 1h2m3 0h2m3 0h2m30 0h2m17 0h2m-64 1h2m2 0h2m2 0h2m1 0h2m13 0h2m13 0h2m-48 1h2m15 0h2m14 0h2m-36 1h2m14 0h2m-14 1h2m26 0h2m3 0h2m22 0h2m1 0h2m-151 1h2m85 0h2m-1 0h2m0 0h2m31 0h2m4 0h2m-1 0h2m11 1h2m38 0h2m-183 1h2m0 0h2m0 0h2m92 0h2m-101 1h2m1 0h2m90 0h2m26 0h2m-129 1h2m92 0h2m19 0h2m-24 1h2m8 0h2m17 0h2m161 0h2m-194 1h2m1 0h2m1 0h2m-93 1h2m0 0h2m82 0h2m0 0h2m70 0h2m10 0h2m-59 1h2m14 0h2m-12 1h2m43 0h2m-77 1h2m6 0h2m-1 0h2m0 0h2m10 0h2m-26 1h2m3 0h2m10 0h2m0 0h2m-1 0h2m146 0h2m68 0h2m-332 1h2m91 0h2m25 0h2m0 0h2m56 0h2m-84 1h2m5 0h2m28 0h2m30 0h2m-67 1h2m7 0h2m3 0h2m24 0h2m-47 1h2m-2 0h2m0 0h2m16 0h2m14 0h2m65 0h2m-85 1h2m0 0h2m6 0h2m-1 0h2m56 0h2m-89 1h2m3 0h2m3 0h2m3 0h2m4 0h2m26 0h2m-8 1h2m123 0h2m-272 1h2m101 0h2m1 0h2m3 0h2m3 0h2m12 0h2m-140 1h2m8 0h2m3 0h2m97 0h2m5 0h2m16 0h2m26 0h2m-42 1h2m15 0h2m6 0h2m26 1h2m-203 1h2m140 0h2m2 0h2m29 0h2m13 0h2m14 0h2m-58 1h2m26 0h2m-26 1h2m7 0h2m13 0h2m40 0h2m-19 1h2m-174 1h2m115 0h2m-151 1h2m137 0h2m-2 0h2m24 0h2m0 0h2m-2 0h2m47 0h2m-79 1h2m-124 1h2m119 0h2m1 0h2m1 0h2m9 0h2m7 0h2m10 0h2m11 0h2m1 0h2m-177 1h2m120 0h2m0 0h2m3 0h2m2 0h2m1 0h2m0 0h2m11 0h2m4 0h2m-33 1h2m11 0h2m29 0h2m2 0h2m18 0h2m2 0h2m-191 1h2m-1 0h2m1 0h2m107 0h2m11 0h2m9 0h2m-132 1h2m105 0h2m0 0h2m3 0h2m45 0h2m-57 1h2m65 0h2m-210 1h2m29 0h2m114 0h2m3 0h2m-2 0h2m0 0h2m1 0h2m8 0h2m10 0h2m-25 1h2m14 0h2m12 0h2m9 0h2m21 0h2m-75 1h2m-1 0h2m-1 0h2m8 0h2m-146 1h2m13 0h2m118 0h2m16 0h2m-26 1h2m0 0h2m2 0h2m3 0h2m1 1h2m4 0h2m6 0h2m17 0h2m-184 1h2m133 0h2m13 0h2m6 0h2m1 0h2m5 0h2m-2 0h2m-13 1h2m-17 1h2m-126 1h2m1 0h2m112 0h2m11 0h2m11 0h2m4 0h2m-1 0h2m25 0h2m12 0h2m-78 1h2m7 0h2m18 0h2m-144 1h2m112 0h2m18 0h2m24 0h2m6 0h2m-169 1h2m112 0h2m3 0h2m15 0h2m-10 1h2m9 0h2m29 0h2m2 0h2m-58 1h2m-1 0h2m14 0h2m8 0h2m-173 1h2m12 0h2m7 0h2m119 0h2m4 0h2m11 0h2m47 0h2m-192 1h2m128 0h2m-159 1h2m154 0h2m21 0h2m-9 1h2m3 0h2m16 0h2m0 0h2m-29 1h2m1 0h2m7 0h2m-2 0h2m81 0h2m-291 1h2m182 0h2m-149 1h2m13 0h2m118 0h2m1 0h2m1 0h2m11 0h2m-141 1h2m121 0h2m-1 0h2m1 0h2m1 0h2m5 0h2m-155 1h2m10 0h2m134 0h2m0 0h2m30 0h2m-221 1h2m44 0h2m126 0h2m12 0h2m-3 1h2m11 0h2m11 0h2m5 0h2m-192 1h2m-1 0h2m18 0h2m120 0h2m9 0h2m0 0h2m1 0h2m21 0h2m32 0h2m-232 1h2m8 0h2m144 0h2m1 0h2m0 0h2m6 0h2m10 0h2m-1 0h2m1 0h2m32 0h2m-192 1h2m2 0h2m137 0h2m2 0h2m26 0h2m-199 1h2m24 0h2m127 0h2m0 0h2m8 0h2m1 0h2m23 0h2m4 0h2m-197 1h2m17 0h2m127 0h2m2 0h2m0 0h2m12 0h2m6 0h2m4 0h2m-1 0h2m14 0h2m-1 0h2m8 0h2m-191 1h2m0 0h2m121 0h2m1 0h2m2 0h2m-2 0h2m1 0h2m3 0h2m3 0h2m-1 0h2m-177 1h2m9 0h2m11 0h2m138 0h2m8 0h2m10 0h2m-29 1h2m0 0h2m1 0h2m3 0h2m8 0h2m4 0h2m-181 1h2m154 0h2m5 0h2m0 0h2m15 0h2m18 0h2m-47 1h2m-1 0h2m17 0h2m0 0h2m2 0h2m10 0h2m-182 1h2m8 0h2m126 0h2m62 0h2m-206 1h2m5 0h2m131 0h2m3 0h2m1 0h2m16 0h2m-163 1h2m131 0h2m24 0h2m7 0h2m-33 1h2m0 0h2m0 0h2m2 0h2m24 0h2m34 0h2m-232 1h2m4 0h2m6 0h2m142 1h2m8 0h2m50 0h2m-195 1h2m130 0h2m4 0h2m14 0h2m-2 0h2m1 0h2m2 0h2m17 0h2m-197 1h2m157 0h2m26 0h2m21 0h2m-66 1h2m32 0h2m1 0h2m-201 1h2m158 0h2m1 0h2m3 0h2m9 0h2m-17 1h2m1 0h2m19 0h2m-196 1h2m21 0h2m10 0h2m1 0h2m129 0h2m4 0h2m1 0h2m33 0h2m-44 1h2m54 0h2m-209 1h2m15 0h2m139 0h2m3 0h2m29 0h2m-202 1h2m154 0h2m24 0h2m-1 0h2m2 0h2m55 0h2m-263 1h2m26 0h2m144 0h2m4 0h2m14 0h2m13 0h2m10 0h2m-203 1h2m18 0h2m129 0h2m1 0h2m10 0h2m19 0h2m22 0h2m-238 1h2m211 0h2m8 0h2m-184 1h2m137 0h2m2 0h2m53 0h2m-223 1h2m168 0h2m7 0h2m-164 1h2m-1 0h2m6 0h2m159 0h2m-25 1h2m1 0h2m6 0h2m14 0h2m35 0h2m-204 1h2m157 0h2m32 0h2m-203 1h2m-1 0h2m140 0h2m0 0h2m8 0h2m-1 0h2m52 0h2m-231 1h2m22 0h2m133 0h2m1 0h2m0 0h2m2 0h2m6 0h2m11 0h2m20 0h2m-202 1h2m148 0h2m21 0h2m5 0h2m4 0h2m18 0h2m-224 1h2m14 0h2m154 0h2m8 0h2m1 0h2m-1 0h2m11 0h2m7 0h2m-1 0h2m-183 1h2m148 0h2m10 0h2m16 0h2m-227 1h2m177 0h2m-1 0h2m4 0h2m3 0h2m-171 1h2m24 0h2m-1 0h2m134 0h2m49 0h2m-188 1h2m132 0h2m3 0h2m110 0h2m-275 1h2m18 0h2m130 0h2m4 0h2m1 0h2m7 0h2m21 0h2m-176 1h2m147 0h2m-149 1h2m-2 0h2m130 0h2m19 0h2m32 0h2m-206 1h2m147 0h2m34 0h2m11 0h2m-220 1h2m38 0h2m119 0h2m30 0h2m11 0h2m-198 1h2m143 0h2m21 0h2m50 0h2m-202 1h2m2 0h2m117 0h2m4 0h2m0 0h2m0 0h2m79 0h2m-223 1h2m0 0h2m125 0h2m7 0h2m29 0h2m1 0h2m-156 1h2m109 0h2m19 0h2m4 0h2m-1 0h2m28 0h2m14 0h2m6 0h2m-218 1h2m140 0h2m43 0h2m0 0h2m-1 0h2m-184 1h2m2 0h2m7 0h2m110 0h2m10 0h2m25 0h2m8 0h2m0 0h2m-47 1h2m17 0h2m10 0h2m-169 1h2m136 0h2m12 0h2m-2 0h2m24 0h2m-158 1h2m102 0h2m4 0h2m5 0h2m8 0h2m-140 1h2m134 0h2m12 0h2m3 0h2m-150 1h2m4 0h2m143 0h2m-1 0h2m36 0h2m41 0h2m-230 1h2m115 0h2m25 0h2m1 0h2m-165 1h2m108 0h2m8 0h2m32 0h2m52 0h2m-194 1h2m96 0h2m26 0h2m69 0h2m-105 1h2m28 0h2m6 0h2m23 0h2m-173 1h2m100 0h2m0 0h2m13 0h2m61 0h2m-79 1h2m23 0h2m9 0h2m-1 0h2m40 0h2m-78 1h2m1 0h2m4 0h2m8 0h2m82 0h2m-192 1h2m72 0h2m7 0h2m-4 1h2m3 0h2m55 0h2m-146 1h2m1 0h2m66 0h2m58 0h2m18 0h2m26 0h2m-235 1h2m42 0h2m8 0h2m1 0h2m85 0h2m27 0h2m43 0h2m4 0h2m-193 1h2m89 0h2m3 0h2m3 0h2m9 0h2m119 0h2m17 0h2m-256 1h2m84 0h2m-1 0h2m29 0h2m4 0h2m48 0h2m18 0h2m-221 1h2m100 0h2m95 0h2m19 0h2m69 0h2m-241 1h2m52 0h2m54 0h2m20 0h2m-194 1h2m66 0h2m3 0h2m31 0h2m18 0h2m7 0h2m20 0h2m9 0h2m26 0h2m-124 1h2m14 0h2m6 0h2m9 0h2m-30 1h2m0 0h2m6 0h2m3 0h2m23 0h2m18 0h2m15 0h2m12 0h2m16 0h2m-191 1h2m73 0h2m-1 0h2m20 0h2m22 0h2m30 0h2m17 0h2m8 0h2m35 0h2m-147 1h2m9 0h2m14 0h2m2 0h2m37 0h2m51 0h2m10 0h2m1 0h2m11 0h2m-123 1h2m14 0h2m92 0h2m-143 1h2m143 0h2m-109 1h2m9 0h2m55 0h2m11 0h2m58 0h2m-131 1h2m-1 0h2m61 0h2m35 0h2m-208 1h2m58 0h2m124 0h2m5 0h2m-77 1h2m16 0h2m30 0h2m38 0h2m-64 1h2m25 0h2m11 0h2m-199 1h2m83 0h2m12 0h2m22 0h2m70 0h2m-131 1h2m93 0h2m35 0h2m22 0h2m-103 1h2m3 0h2m30 1h2m8 0h2m10 0h2m-117 1h2m109 0h2m9 0h2m43 0h2m-9 1h2m-219 1h2m135 2h2m33 0h2m-84 1h2m39 0h2m32 0h2m-1 0h2m12 2h2m129 1h2m-154 1h2m180 3h2m48 0h2m-251 1h2m72 0h2m-222 1h2m213 4h2m122 5h2m29 0h2m-236 12h2m-126 1h2" stroke="#707070" stroke-width="2.5" fill="none"/>
<clipPath id="cE1"><use href="#oE1"/></clipPath>
<g clip-path="url(#cE1)"><g filter="url(#bl)"><rect x="154" y="1477" width="145" height="224" fill="#0000ff"/><path d="M210 1694 196 1694 195 1693 191 1693 190 1692 185 1691 178 1687 171 1680 165 1669 164 1664 163 1663 163 1660 162 1659 162 1652 161 1651 161 1643 162 1642 162 1632 163 1631 164 1621 167 1613 169 1602 171 1597 171 1593 172 1592 172 1588 173 1587 174 1564 175 1563 175 1559 176 1558 176 1554 177 1553 177 1549 178 1548 178 1544 179 1543 179 1539 180 1538 180 1534 181 1533 181 1529 182 1528 183 1520 184 1519 185 1511 190 1499 196 1492 202 1488 213 1485 221 1488 227 1491 233 1497 237 1505 240 1511 241 1526 243 1538 245 1542 245 1545 247 1548 248 1553 253 1564 270 1585 274 1599 277 1623 279 1630 288 1650 288 1654 284 1659 278 1662 259 1677 253 1680 251 1682 235 1689 232 1689 227 1691 223 1691 222 1692 211 1693 210 1694Z" fill="#0019ff" fill-rule="evenodd"/><path d="M210 1694 196 1694 195 1693 191 1693 190 1692 185 1691 178 1687 171 1680 165 1669 164 1664 163 1663 161 1644 165 1617 167 1613 169 1602 171 1597 171 1593 172 1592 172 1588 173 1587 173 1577 174 1575 175 1565 189 1517 196 1502 200 1497 204 1494 213 1492 218 1494 223 1497 228 1501 231 1507 234 1513 237 1534 244 1555 249 1566 263 1586 266 1592 270 1625 278 1650 241 1687 239 1687 235 1689 232 1689 231 1690 228 1690 227 1691 217 1692 216 1693 211 1693 210 1694Z" fill="#002aff" fill-rule="evenodd"/><path d="M210 1694 196 1694 195 1693 191 1693 181 1689 178 1686 173 1679 168 1668 165 1657 165 1648 166 1634 168 1623 176 1588 179 1567 184 1552 191 1533 198 1519 204 1511 209 1507 212 1506 217 1509 222 1515 238 1558 254 1592 257 1608 261 1645 258 1655 254 1663 246 1675 239 1683 227 1691 217 1692 216 1693 211 1693 210 1694Z" fill="#0044ff" fill-rule="evenodd"/><path d="M209 1694 199 1694 192 1692 186 1689 180 1684 176 1678 171 1668 168 1656 168 1648 171 1629 186 1568 192 1554 198 1545 204 1540 211 1538 218 1544 226 1556 240 1587 244 1604 248 1641 247 1652 245 1662 242 1670 237 1677 232 1683 225 1688 215 1693 209 1694Z" fill="#005cff" fill-rule="evenodd"/><path d="M207 1691 198 1691 193 1689 186 1685 181 1680 176 1673 174 1666 171 1656 171 1647 174 1630 192 1581 199 1570 203 1567 208 1566 213 1567 218 1572 223 1580 228 1590 232 1605 237 1627 239 1638 240 1648 238 1664 235 1671 231 1677 224 1684 220 1687 214 1689 207 1691Z" fill="#007dff" fill-rule="evenodd"/><path d="M209 1687 199 1688 191 1685 186 1681 181 1675 178 1669 175 1661 174 1653 174 1647 176 1637 182 1622 197 1600 202 1596 206 1594 210 1595 214 1598 224 1613 233 1632 235 1648 234 1662 228 1674 224 1679 219 1683 209 1687Z" fill="#00a0ff" fill-rule="evenodd"/><path d="M209 1684 204 1685 199 1684 192 1682 187 1678 183 1674 180 1668 177 1661 176 1654 176 1647 178 1639 184 1626 188 1620 194 1615 199 1612 204 1611 208 1611 213 1613 222 1622 229 1633 232 1647 231 1660 227 1671 223 1676 218 1680 209 1684Z" fill="#00c9ff" fill-rule="evenodd"/><path d="M206 1682 200 1682 195 1680 187 1675 181 1665 178 1653 180 1640 185 1629 189 1624 194 1620 199 1618 204 1617 213 1620 221 1627 227 1638 229 1650 228 1662 223 1672 216 1678 206 1682Z" fill="#00f1f8" fill-rule="evenodd"/><path d="M208 1679 199 1679 190 1675 183 1666 180 1655 181 1644 185 1633 193 1625 202 1621 211 1623 219 1629 224 1637 227 1648 226 1659 223 1668 217 1675 208 1679Z" fill="#00feb1" fill-rule="evenodd"/><path d="M208 1677 199 1677 191 1673 185 1665 182 1655 182 1645 186 1635 193 1628 197 1626 202 1624 210 1626 217 1630 222 1638 225 1648 225 1657 222 1666 216 1673 208 1677Z" fill="#00ff56" fill-rule="evenodd"/><path d="M207 1675 199 1675 191 1671 186 1663 183 1654 184 1644 188 1636 194 1630 202 1627 209 1628 216 1632 221 1639 223 1648 223 1657 220 1665 214 1672 207 1675Z" fill="#17ff1f" fill-rule="evenodd"/><path d="M208 1673 200 1673 193 1670 188 1664 185 1656 185 1647 188 1639 194 1632 201 1629 208 1630 214 1633 219 1639 222 1647 222 1655 219 1663 215 1669 208 1673Z" fill="#44ff0d" fill-rule="evenodd"/><path d="M204 1672 197 1671 192 1667 188 1660 186 1652 187 1644 191 1637 197 1632 203 1631 209 1632 215 1636 219 1643 221 1651 219 1659 216 1665 211 1670 204 1672Z" fill="#7cff00" fill-rule="evenodd"/><path d="M206 1670 200 1670 194 1667 190 1661 188 1654 188 1647 191 1640 196 1635 202 1633 208 1634 213 1637 217 1642 219 1649 219 1656 216 1663 212 1667 206 1670Z" fill="#ceff00" fill-rule="evenodd"/><path d="M207 1668 201 1669 195 1666 191 1661 189 1655 189 1648 191 1642 196 1637 201 1635 206 1635 211 1637 215 1642 217 1648 218 1654 216 1660 212 1665 207 1668Z" fill="#f5eb00" fill-rule="evenodd"/><path d="M204 1667 199 1666 194 1663 191 1658 190 1652 191 1646 194 1641 198 1638 203 1636 208 1637 212 1640 215 1645 216 1651 215 1657 213 1662 209 1665 204 1667Z" fill="#ffbb00" fill-rule="evenodd"/><path d="M205 1665 201 1665 197 1663 193 1659 192 1654 192 1648 194 1643 197 1640 202 1638 206 1638 210 1641 213 1645 215 1650 214 1655 212 1660 209 1664 205 1665Z" fill="#ff7500" fill-rule="evenodd"/><path d="M206 1663 202 1664 198 1662 195 1659 193 1654 193 1649 195 1645 198 1642 202 1640 206 1640 209 1642 212 1645 213 1649 213 1653 212 1657 209 1661 206 1663Z" fill="#ff2d00" fill-rule="evenodd"/><path d="M206 1661 202 1662 199 1660 197 1658 195 1654 195 1650 196 1646 199 1643 202 1642 205 1642 208 1644 211 1649 211 1656 209 1659 206 1661Z" fill="#ff0000" fill-rule="evenodd"/></g></g>
<defs><path id="oE2" d="M701 1473 706 1473 713 1472 719 1472 726 1472 732 1474 739 1476 745 1478 752 1482 759 1485 767 1489 775 1494 783 1498 792 1502 801 1506 810 1510 818 1512 822 1513 824 1514 826 1513 830 1512 837 1510 845 1508 855 1505 864 1502 874 1498 885 1494 895 1490 905 1486 915 1482 924 1478 933 1475 942 1473 950 1473 958 1473 965 1474 971 1475 976 1478 980 1481 983 1484 985 1488 986 1492 985 1496 984 1501 981 1506 977 1511 971 1517 965 1523 958 1528 951 1534 943 1540 935 1545 926 1551 916 1557 906 1563 895 1568 885 1573 875 1578 865 1582 855 1586 848 1590 844 1594 842 1597 840 1601 838 1606 835 1612 831 1618 828 1624 824 1630 819 1636 815 1641 809 1646 803 1651 796 1656 789 1660 781 1665 773 1669 765 1673 756 1677 748 1680 738 1684 727 1687 714 1690 701 1693 691 1694 683 1693 677 1690 671 1686 666 1682 662 1676 659 1670 656 1663 654 1655 653 1647 652 1638 652 1629 652 1618 653 1607 656 1594 658 1581 660 1569 663 1558 666 1547 668 1536 671 1526 673 1518 675 1509 677 1502 679 1496 681 1490 684 1486 686 1483 689 1480 692 1477 694 1476 697 1474Z"/></defs>
<use href="#oE2" fill="none" stroke="#000" stroke-opacity="0.18" stroke-width="12" stroke-linejoin="round" filter="url(#bl3)"/>
<path d="M959 1369h2m-250 1h2m-2 2h2m-4 5h2m-14 5h2m21 1h2m33 0h2m-77 2h2m70 0h2m-76 3h2m42 0h2m-21 3h2m15 0h2m3 1h2m8 1h2m50 0h2m-78 2h2m25 1h2m-15 1h2m-2 0h2m-28 1h2m-37 2h2m12 0h2m43 0h2m0 0h2m-21 1h2m1 1h2m52 0h2m4 0h2m253 0h2m-347 1h2m46 0h2m-45 1h2m31 0h2m23 0h2m10 0h2m-1 0h2m-53 1h2m15 0h2m16 0h2m25 0h2m-54 1h2m-35 1h2m1 0h2m1 0h2m38 0h2m4 0h2m-101 1h2m42 0h2m24 0h2m21 0h2m18 0h2m-23 2h2m21 0h2m-48 1h2m25 0h2m3 1h2m69 0h2m-100 1h2m14 0h2m13 0h2m-34 1h2m3 0h2m6 0h2m-19 1h2m25 0h2m-49 1h2m14 0h2m116 0h2m-102 1h2m5 0h2m-43 1h2m6 0h2m0 0h2m-2 0h2m3 0h2m8 0h2m37 0h2m1 0h2m-98 1h2m43 0h2m63 0h2m0 0h2m259 0h2m-334 1h2m27 0h2m60 0h2m-45 1h2m8 0h2m14 0h2m-132 1h2m35 0h2m58 0h2m-54 1h2m43 0h2m18 0h2m2 0h2m4 0h2m133 0h2m91 0h2m-278 1h2m29 0h2m17 0h2m213 0h2m-274 1h2m8 0h2m12 0h2m22 0h2m4 0h2m114 0h2m118 0h2m-336 1h2m55 0h2m37 0h2m10 0h2m186 0h2m-259 1h2m4 0h2m5 0h2m18 0h2m1 0h2m-96 1h2m47 0h2m39 0h2m21 0h2m24 0h2m199 0h2m-272 1h2m5 0h2m2 0h2m-52 1h2m5 0h2m38 0h2m-99 1h2m83 0h2m18 0h2m0 0h2m6 0h2m3 0h2m0 0h2m0 0h2m6 0h2m198 0h2m-274 1h2m30 0h2m10 0h2m-58 1h2m36 0h2m4 0h2m13 0h2m18 0h2m-68 1h2m-2 0h2m11 0h2m-2 0h2m18 0h2m42 0h2m247 0h2m15 0h2m-353 1h2m32 0h2m1 0h2m8 0h2m13 0h2m33 0h2m-73 1h2m1 0h2m36 0h2m30 0h2m1 0h2m134 0h2m-216 1h2m10 0h2m18 0h2m-1 0h2m14 0h2m102 0h2m-140 1h2m13 0h2m12 0h2m13 0h2m172 0h2m-266 1h2m41 0h2m2 0h2m-2 0h2m1 0h2m210 0h2m56 0h2m-316 1h2m19 0h2m17 0h2m3 0h2m10 0h2m22 0h2m9 0h2m220 0h2m9 0h2m-330 1h2m20 0h2m8 0h2m18 0h2m14 0h2m195 0h2m-243 1h2m7 0h2m0 0h2m3 0h2m20 0h2m10 0h2m173 0h2m34 0h2m4 0h2m-338 1h2m79 0h2m6 0h2m6 0h2m4 0h2m12 0h2m5 0h2m90 0h2m68 0h2m76 0h2m17 0h2m14 0h2m-330 1h2m25 0h2m28 0h2m21 0h2m104 0h2m36 0h2m10 0h2m5 0h2m38 0h2m-306 1h2m-2 0h2m-1 0h2m39 0h2m13 0h2m-2 0h2m37 0h2m152 0h2m12 0h2m39 0h2m-315 1h2m32 0h2m0 0h2m9 0h2m16 0h2m2 0h2m10 0h2m5 0h2m110 0h2m36 0h2m106 0h2m-301 1h2m32 0h2m9 0h2m135 0h2m41 0h2m14 0h2m77 0h2m-380 1h2m1 0h2m1 0h2m34 0h2m10 0h2m14 0h2m29 0h2m17 0h2m53 0h2m99 0h2m-241 1h2m3 0h2m6 0h2m20 0h2m5 0h2m11 0h2m2 0h2m152 0h2m21 0h2m9 0h2m-234 1h2m7 0h2m8 0h2m4 0h2m0 0h2m-1 0h2m2 0h2m15 0h2m211 0h2m-312 1h2m15 0h2m50 0h2m22 0h2m106 0h2m54 0h2m14 0h2m-245 1h2m10 0h2m179 0h2m5 0h2m111 0h2m-294 1h2m-1 0h2m-1 0h2m3 0h2m16 0h2m3 0h2m-2 0h2m116 0h2m11 0h2m43 0h2m-1 0h2m16 0h2m1 0h2m19 0h2m1 0h2m-269 1h2m26 0h2m-1 0h2m4 0h2m29 0h2m132 0h2m24 0h2m8 0h2m42 0h2m-290 1h2m20 0h2m4 0h2m6 0h2m179 0h2m-1 0h2m11 0h2m2 0h2m12 0h2m5 0h2m22 0h2m9 0h2m4 0h2m2 0h2m-308 1h2m12 0h2m20 0h2m14 0h2m1 0h2m127 0h2m34 0h2m35 0h2m5 0h2m4 0h2m0 0h2m27 0h2m1 0h2m-290 1h2m33 0h2m-1 0h2m62 0h2m21 0h2m18 0h2m9 0h2m27 0h2m33 0h2m31 0h2m30 0h2m27 0h2m-373 1h2m77 0h2m117 0h2m55 0h2m44 0h2m13 0h2m17 0h2m3 0h2m49 0h2m-356 1h2m22 0h2m-1 0h2m2 0h2m39 0h2m145 0h2m26 0h2m9 0h2m1 0h2m28 0h2m-268 1h2m41 0h2m115 0h2m24 0h2m5 0h2m19 0h2m7 0h2m12 0h2m0 0h2m15 0h2m62 0h2m-339 1h2m28 0h2m9 0h2m32 0h2m104 0h2m3 0h2m7 0h2m0 0h2m2 0h2m-1 0h2m98 0h2m-283 1h2m7 0h2m-1 0h2m-2 0h2m2 0h2m5 0h2m2 0h2m10 0h2m10 0h2m18 0h2m1 0h2m45 0h2m1 0h2m14 0h2m4 0h2m44 0h2m14 0h2m2 0h2m-1 0h2m3 0h2m20 0h2m3 0h2m37 0h2m-293 1h2m8 0h2m2 0h2m10 0h2m3 0h2m2 0h2m0 0h2m112 0h2m35 0h2m32 0h2m1 0h2m47 0h2m20 0h2m-310 1h2m4 0h2m20 0h2m1 0h2m-1 0h2m5 0h2m-1 0h2m9 0h2m9 0h2m4 0h2m107 0h2m15 0h2m-1 0h2m0 0h2m54 0h2m13 0h2m80 0h2m-327 1h2m-1 0h2m1 0h2m27 0h2m145 0h2m8 0h2m1 0h2m11 0h2m-1 0h2m7 0h2m7 0h2m27 0h2m-275 1h2m3 0h2m7 0h2m13 0h2m0 0h2m13 0h2m22 0h2m61 0h2m49 0h2m38 0h2m32 0h2m6 0h2m4 0h2m-283 1h2m5 0h2m5 0h2m10 0h2m12 0h2m-1 0h2m2 0h2m5 0h2m14 0h2m65 0h2m43 0h2m0 0h2m7 0h2m37 0h2m2 0h2m-1 0h2m8 0h2m25 0h2m-1 0h2m0 0h2m4 0h2m-280 1h2m9 0h2m0 0h2m14 0h2m9 0h2m21 0h2m8 0h2m109 0h2m55 0h2m3 0h2m-1 0h2m33 0h2m-1 0h2m4 0h2m-1 0h2m-278 1h2m8 0h2m1 0h2m6 0h2m29 0h2m10 0h2m59 0h2m50 0h2m22 0h2m-2 0h2m6 0h2m29 0h2m7 0h2m-1 0h2m9 0h2m0 0h2m2 0h2m5 0h2m-1 0h2m51 0h2m-350 1h2m3 0h2m24 0h2m-1 0h2m5 0h2m3 0h2m1 0h2m-1 0h2m-1 0h2m132 0h2m12 0h2m45 0h2m6 0h2m1 0h2m-1 0h2m3 0h2m2 0h2m5 0h2m18 0h2m10 0h2m-290 1h2m4 0h2m3 0h2m7 0h2m30 0h2m33 0h2m40 0h2m31 0h2m3 0h2m1 0h2m29 0h2m10 0h2m4 0h2m3 0h2m46 0h2m22 0h2m-304 1h2m-1 0h2m20 0h2m16 0h2m3 0h2m13 0h2m2 0h2m22 0h2m85 0h2m14 0h2m10 0h2m9 0h2m3 0h2m4 0h2m26 0h2m5 0h2m4 0h2m3 0h2m27 0h2m-300 1h2m6 0h2m0 0h2m97 0h2m37 0h2m60 0h2m9 0h2m6 0h2m5 0h2m8 0h2m1 0h2m18 0h2m10 0h2m-285 1h2m5 0h2m53 0h2m69 0h2m29 0h2m29 0h2m1 0h2m14 0h2m25 0h2m41 0h2m13 0h2m-308 1h2m4 0h2m-2 0h2m70 0h2m111 0h2m52 0h2m-2 0h2m1 0h2m38 0h2m14 0h2m-302 1h2m5 0h2m59 0h2m19 0h2m10 0h2m47 0h2m48 0h2m32 0h2m-2 0h2m0 0h2m0 0h2m93 0h2m-337 1h2m58 0h2m78 0h2m22 0h2m24 0h2m4 0h2m6 0h2m0 0h2m16 0h2m9 0h2m3 0h2m0 0h2m-1 0h2m0 0h2m-179 1h2m12 0h2m67 0h2m19 0h2m0 0h2m3 0h2m27 0h2m7 0h2m3 0h2m-1 0h2m8 0h2m65 0h2m-303 1h2m4 0h2m67 0h2m54 0h2m54 0h2m7 0h2m-1 0h2m4 0h2m2 0h2m5 0h2m14 0h2m77 0h2m-316 1h2m77 0h2m13 0h2m0 0h2m99 0h2m4 0h2m101 0h2m-309 1h2m-2 0h2m4 0h2m70 0h2m35 0h2m12 0h2m15 0h2m-1 0h2m16 0h2m35 0h2m14 0h2m8 0h2m3 0h2m-2 0h2m0 0h2m69 0h2m-304 1h2m72 0h2m4 0h2m116 0h2m9 0h2m18 0h2m71 0h2m-302 1h2m-1 0h2m-2 0h2m104 0h2m25 0h2m-1 0h2m1 0h2m9 0h2m27 0h2m9 0h2m2 0h2m-1 0h2m3 0h2m2 0h2m8 0h2m-225 1h2m7 0h2m134 0h2m6 0h2m29 0h2m8 0h2m2 0h2m8 0h2m105 0h2m-309 1h2m81 0h2m23 0h2m12 0h2m30 0h2m24 0h2m0 0h2m1 0h2m36 0h2m-144 1h2m1 0h2m105 0h2m25 0h2m85 0h2m-306 1h2m83 0h2m-2 0h2m3 0h2m15 0h2m5 0h2m20 0h2m-1 0h2m60 0h2m2 0h2m3 0h2m2 0h2m94 0h2m-167 1h2m30 0h2m8 0h2m2 0h2m24 0h2m86 0h2m-219 1h2m5 0h2m-2 0h2m29 0h2m29 0h2m26 0h2m123 0h2m11 0h2m-1 0h2m-334 1h2m-1 0h2m112 0h2m16 0h2m31 0h2m-169 1h2m7 0h2m90 0h2m0 0h2m2 0h2m57 0h2m29 0h2m6 0h2m0 0h2m0 0h2m-210 1h2m6 0h2m111 0h2m72 0h2m2 0h2m1 0h2m1 0h2m2 0h2m-1 0h2m-2 0h2m-209 1h2m108 0h2m10 0h2m18 0h2m16 0h2m16 0h2m5 0h2m1 0h2m11 0h2m1 0h2m118 0h2m-210 1h2m-1 0h2m24 0h2m42 0h2m0 0h2m121 0h2m-194 1h2m-2 0h2m190 0h2m-185 1h2m1 0h2m32 0h2m4 0h2m29 0h2m-97 1h2m0 0h2m15 0h2m39 0h2m13 0h2m12 0h2m0 0h2m116 0h2m-201 1h2m3 0h2m21 0h2m-158 1h2m7 0h2m-1 0h2m126 0h2m5 0h2m18 0h2m22 0h2m1 0h2m8 0h2m-1 0h2m-74 1h2m46 0h2m8 0h2m4 0h2m129 0h2m1 0h2m4 0h2m-344 1h2m4 0h2m0 0h2m2 0h2m121 0h2m1 0h2m12 0h2m3 0h2m11 0h2m157 0h2m-316 1h2m0 0h2m0 0h2m125 0h2m12 0h2m29 0h2m-179 1h2m121 0h2m19 0h2m33 0h2m-184 1h2m128 0h2m2 0h2m2 0h2m-1 0h2m4 0h2m10 0h2m-2 0h2m27 0h2m-195 1h2m148 0h2m14 0h2m11 0h2m8 0h2m-182 1h2m0 0h2m129 0h2m6 0h2m178 0h2m-188 1h2m-1 0h2m12 0h2m9 0h2m12 0h2m-1 0h2m155 0h2m-333 1h2m140 0h2m-2 0h2m18 0h2m7 0h2m-31 1h2m17 0h2m1 0h2m2 0h2m-27 1h2m2 0h2m8 0h2m146 0h2m-307 1h2m150 0h2m-162 1h2m154 0h2m0 0h2m0 0h2m150 0h2m4 0h2m-353 1h2m26 0h2m1 1h2m-1 0h2m1 0h2m306 0h2m23 0h2m-342 1h2m1 1h2m1 0h2m4 0h2m-2 0h2m301 0h2m-311 5h2m-1 0h2m302 0h2m-7 1h2m-303 2h2m4 0h2m292 0h2m-1 0h2m-311 1h2m310 0h2m35 0h2m-7 1h2m-341 2h2m347 2h2m-47 1h2m39 0h2m-46 1h2m-11 2h2m3 0h2m1 0h2m-296 1h2m280 0h2m3 0h2m-296 1h2m1 0h2m298 0h2m37 0h2m-340 1h2m0 0h2m282 0h2m17 0h2m-24 1h2m3 0h2m-294 1h2m2 1h2m-1 0h2m280 2h2m-287 1h2m1 0h2m277 0h2m7 0h2m7 0h2m-25 1h2m8 0h2m4 0h2m-293 1h2m270 0h2m-3 1h2m4 0h2m22 0h2m-303 1h2m292 0h2m-296 1h2m270 0h2m0 0h2m11 0h2m-293 1h2m269 0h2m0 0h2m0 0h2m4 0h2m3 0h2m22 0h2m8 0h2m-325 1h2m271 0h2m1 0h2m5 0h2m3 0h2m32 0h2m0 0h2m-52 1h2m3 0h2m-1 0h2m23 0h2m-304 1h2m261 0h2m3 0h2m14 0h2m-19 1h2m6 0h2m2 0h2m8 0h2m-297 1h2m5 0h2m262 0h2m-2 0h2m4 0h2m-2 0h2m-1 0h2m6 0h2m4 0h2m40 0h2m-332 1h2m297 0h2m29 0h2m17 0h2m-352 1h2m258 0h2m-1 0h2m0 0h2m17 0h2m1 0h2m1 0h2m3 0h2m-34 1h2m0 0h2m2 0h2m11 0h2m3 0h2m45 0h2m-335 1h2m-2 0h2m273 0h2m15 0h2m0 0h2m0 0h2m69 0h2m-369 1h2m260 0h2m27 0h2m40 0h2m3 0h2m-340 1h2m253 0h2m8 0h2m4 0h2m0 0h2m6 0h2m15 0h2m8 0h2m-55 1h2m5 0h2m7 0h2m3 0h2m4 0h2m13 0h2m-300 1h2m250 0h2m6 0h2m3 0h2m0 0h2m16 0h2m-37 1h2m25 0h2m-276 1h2m251 0h2m-2 0h2m0 0h2m3 0h2m10 0h2m3 0h2m0 0h2m1 0h2m2 0h2m38 0h2m-85 1h2m4 0h2m3 0h2m29 0h2m16 0h2m0 0h2m1 0h2m-328 1h2m15 0h2m-1 0h2m240 0h2m11 0h2m81 0h2m-97 1h2m4 0h2m0 0h2m9 0h2m-1 0h2m2 0h2m7 0h2m5 0h2m-26 1h2m5 0h2m30 0h2m4 0h2m-1 0h2m-319 1h2m245 0h2m-1 0h2m8 0h2m1 0h2m-6 1h2m9 0h2m6 0h2m-1 0h2m21 0h2m18 0h2m-2 0h2m0 0h2m3 0h2m-328 1h2m244 0h2m1 0h2m3 0h2m5 0h2m13 0h2m16 0h2m12 0h2m12 0h2m-332 1h2m6 0h2m244 0h2m-1 0h2m14 0h2m-255 1h2m237 0h2m10 0h2m16 0h2m5 0h2m21 0h2m-308 1h2m233 0h2m11 0h2m6 0h2m14 0h2m4 0h2m6 0h2m-288 1h2m232 0h2m1 0h2m3 0h2m16 0h2m17 0h2m9 0h2m3 0h2m7 0h2m-303 1h2m229 0h2m-2 0h2m1 0h2m9 0h2m3 0h2m33 0h2m14 0h2m16 0h2m4 0h2m-98 1h2m0 0h2m8 0h2m6 0h2m0 0h2m4 0h2m3 0h2m27 0h2m1 0h2m-1 0h2m0 0h2m18 0h2m24 0h2m9 0h2m0 0h2m-369 1h2m232 0h2m8 0h2m14 0h2m15 0h2m8 0h2m4 0h2m13 0h2m0 0h2m23 0h2m-108 1h2m0 0h2m0 0h2m17 0h2m34 0h2m1 0h2m4 0h2m0 0h2m1 0h2m23 0h2m4 0h2m-1 0h2m11 0h2m-338 1h2m0 0h2m218 0h2m-2 0h2m0 0h2m8 0h2m22 0h2m1 0h2m1 0h2m2 0h2m5 0h2m-2 0h2m0 0h2m13 0h2m-299 1h2m3 0h2m218 0h2m1 0h2m0 0h2m-2 0h2m6 0h2m2 0h2m0 0h2m20 0h2m9 0h2m27 0h2m13 0h2m-319 1h2m2 0h2m222 0h2m66 0h2m4 0h2m1 0h2m-330 1h2m16 0h2m0 0h2m2 0h2m214 0h2m8 0h2m1 0h2m13 0h2m3 0h2m5 0h2m-1 0h2m74 0h2m-123 1h2m11 0h2m0 0h2m8 0h2m32 0h2m6 0h2m-279 1h2m203 0h2m40 0h2m11 0h2m7 0h2m-1 0h2m9 0h2m-290 1h2m5 0h2m-1 0h2m208 0h2m3 0h2m5 0h2m4 0h2m13 0h2m3 0h2m13 0h2m3 0h2m25 0h2m-100 1h2m12 0h2m49 0h2m25 0h2m7 0h2m18 0h2m-325 1h2m233 0h2m8 0h2m11 0h2m5 0h2m3 0h2m12 0h2m6 0h2m-292 1h2m195 0h2m0 0h2m0 0h2m6 0h2m2 0h2m6 0h2m2 0h2m3 0h2m12 0h2m16 0h2m13 0h2m20 0h2m10 0h2m-114 1h2m2 0h2m19 0h2m18 0h2m17 0h2m4 0h2m73 0h2m-349 1h2m0 0h2m193 0h2m12 0h2m13 0h2m6 0h2m0 0h2m5 0h2m10 0h2m-1 0h2m12 0h2m1 0h2m4 0h2m17 0h2m4 0h2m8 0h2m-122 1h2m-1 0h2m41 0h2m10 0h2m16 0h2m0 0h2m56 0h2m6 0h2m-134 1h2m11 0h2m12 0h2m1 0h2m3 0h2m6 0h2m-2 0h2m0 0h2m-1 0h2m4 0h2m22 0h2m-75 1h2m11 0h2m1 0h2m2 0h2m0 0h2m3 0h2m8 0h2m0 0h2m17 0h2m11 0h2m0 0h2m-1 0h2m35 0h2m13 0h2m-350 1h2m16 0h2m204 0h2m17 0h2m1 0h2m2 0h2m0 0h2m4 0h2m5 0h2m34 0h2m46 0h2m-337 1h2m205 0h2m3 0h2m10 0h2m0 0h2m1 0h2m17 0h2m28 0h2m46 0h2m-325 1h2m190 0h2m4 0h2m39 0h2m6 0h2m3 0h2m8 0h2m5 0h2m0 0h2m4 0h2m0 0h2m3 0h2m-94 1h2m5 0h2m0 0h2m7 0h2m3 0h2m13 0h2m7 0h2m14 0h2m21 0h2m-283 1h2m226 0h2m0 0h2m4 0h2m37 0h2m-277 1h2m2 0h2m206 0h2m1 0h2m6 0h2m1 0h2m8 0h2m17 0h2m5 0h2m23 0h2m-287 1h2m187 0h2m24 0h2m8 0h2m35 0h2m18 0h2m28 0h2m0 0h2m-314 1h2m203 0h2m3 0h2m2 0h2m1 0h2m3 0h2m7 0h2m10 0h2m8 0h2m14 0h2m61 0h2m-127 1h2m30 0h2m7 0h2m-1 0h2m6 0h2m6 0h2m21 0h2m8 0h2m22 0h2m-137 1h2m3 0h2m2 0h2m22 0h2m0 0h2m1 0h2m2 0h2m0 0h2m33 0h2m1 0h2m3 0h2m28 0h2m-310 1h2m199 0h2m21 0h2m0 0h2m-1 0h2m4 0h2m5 0h2m-1 0h2m32 0h2m-277 1h2m-1 0h2m208 0h2m1 0h2m8 0h2m8 0h2m0 0h2m-1 0h2m1 0h2m-1 0h2m0 0h2m2 0h2m4 0h2m-1 0h2m22 0h2m7 0h2m-292 1h2m2 0h2m-2 0h2m200 0h2m2 0h2m5 0h2m8 0h2m5 0h2m1 0h2m32 0h2m9 0h2m2 0h2m-93 1h2m2 0h2m12 0h2m3 0h2m3 0h2m17 0h2m23 0h2m7 0h2m10 0h2m0 0h2m-299 1h2m9 0h2m185 0h2m9 0h2m4 0h2m6 0h2m1 0h2m-2 0h2m1 0h2m0 0h2m13 0h2m-1 0h2m14 0h2m-255 1h2m198 0h2m8 0h2m4 0h2m44 0h2m1 0h2m5 0h2m5 0h2m14 0h2m-110 1h2m2 0h2m1 0h2m12 0h2m0 0h2m30 0h2m28 0h2m-89 1h2m6 0h2m23 0h2m8 0h2m24 0h2m6 0h2m14 0h2m-92 1h2m-1 0h2m-1 0h2m30 0h2m-40 1h2m13 0h2m-1 0h2m-1 0h2m13 0h2m8 0h2m-41 1h2m9 0h2m8 0h2m22 0h2m3 0h2m18 0h2m0 0h2m8 0h2m-73 1h2m8 0h2m0 0h2m1 0h2m3 0h2m9 0h2m15 0h2m0 0h2m3 0h2m-70 1h2m-2 0h2m18 0h2m12 0h2m10 0h2m0 0h2m-51 1h2m16 0h2m7 0h2m0 0h2m18 0h2m0 0h2m58 0h2m-109 1h2m-1 0h2m2 0h2m0 0h2m2 0h2m22 0h2m4 0h2m8 0h2m-1 0h2m3 0h2m3 0h2m67 0h2m-138 1h2m6 0h2m11 0h2m21 0h2m6 0h2m-1 0h2m35 0h2m-82 1h2m6 0h2m2 0h2m6 0h2m-1 0h2m13 0h2m8 0h2m28 0h2m3 0h2m63 0h2m-126 1h2m1 0h2m-1 0h2m2 0h2m3 0h2m-235 1h2m0 0h2m181 0h2m7 0h2m44 0h2m13 0h2m-254 1h2m0 0h2m-1 0h2m212 0h2m23 0h2m9 0h2m9 0h2m-262 1h2m-2 0h2m180 0h2m28 0h2m6 0h2m2 0h2m1 0h2m0 0h2m-50 1h2m8 0h2m9 0h2m8 0h2m2 0h2m0 0h2m2 0h2m16 0h2m3 0h2m2 0h2m-66 1h2m1 0h2m0 0h2m12 0h2m10 0h2m9 0h2m-10 1h2m7 0h2m15 0h2m-1 0h2m-1 0h2m3 0h2m-1 0h2m-264 1h2m6 0h2m185 0h2m0 0h2m36 0h2m5 0h2m6 0h2m-258 1h2m5 0h2m1 0h2m177 0h2m-2 0h2m12 0h2m1 0h2m1 0h2m6 0h2m174 0h2m-208 1h2m6 0h2m3 0h2m3 0h2m1 0h2m7 0h2m19 0h2m14 0h2m6 0h2m-77 1h2m7 0h2m8 0h2m3 0h2m38 0h2m24 0h2m-88 1h2m5 0h2m32 0h2m23 0h2m-245 1h2m176 0h2m3 0h2m8 0h2m14 0h2m80 0h2m-293 1h2m-1 0h2m174 0h2m-2 0h2m3 0h2m15 0h2m-2 0h2m19 0h2m12 0h2m-237 1h2m-1 0h2m179 0h2m64 0h2m-252 1h2m-1 0h2m168 0h2m4 0h2m8 0h2m9 0h2m4 0h2m1 0h2m-212 1h2m178 0h2m17 0h2m23 0h2m5 0h2m11 0h2m-245 1h2m3 0h2m165 0h2m15 0h2m22 0h2m26 0h2m-73 1h2m0 0h2m1 0h2m8 0h2m28 0h2m47 0h2m-96 1h2m-2 0h2m-2 0h2m4 0h2m3 0h2m12 0h2m7 0h2m1 0h2m-1 0h2m-1 0h2m7 0h2m20 0h2m16 0h2m-275 1h2m182 0h2m7 0h2m4 0h2m41 0h2m-62 1h2m-2 0h2m7 0h2m0 0h2m30 0h2m-40 1h2m30 0h2m53 0h2m-258 1h2m160 0h2m1 0h2m-1 0h2m19 0h2m6 0h2m13 0h2m-212 1h2m168 0h2m-12 1h2m-1 0h2m0 0h2m-1 0h2m8 0h2m32 0h2m51 0h2m-260 1h2m154 0h2m40 0h2m9 0h2m-221 1h2m162 0h2m1 0h2m22 0h2m8 0h2m-27 1h2m8 0h2m9 0h2m4 0h2m3 0h2m18 0h2m13 0h2m-83 1h2m-1 0h2m4 0h2m-1 0h2m18 0h2m20 0h2m2 0h2m8 0h2m27 0h2m-249 1h2m0 0h2m149 0h2m3 0h2m3 0h2m5 0h2m-1 0h2m9 0h2m8 0h2m13 0h2m22 0h2m-240 1h2m8 0h2m149 0h2m3 0h2m31 0h2m7 0h2m18 0h2m1 0h2m-68 1h2m-2 0h2m-2 0h2m20 0h2m15 0h2m48 0h2m-249 1h2m155 0h2m8 0h2m7 0h2m-1 0h2m22 0h2m21 0h2m39 0h2m-111 1h2m15 0h2m35 0h2m7 0h2m-64 1h2m-1 0h2m25 0h2m0 0h2m29 0h2m-236 1h2m158 0h2m1 0h2m11 0h2m6 0h2m0 0h2m2 0h2m7 0h2m8 0h2m5 0h2m1 0h2m-202 1h2m137 0h2m30 0h2m-32 2h2m3 0h2m1 0h2m-2 0h2m24 0h2m64 0h2m-101 1h2m2 0h2m28 0h2m6 0h2m1 0h2m23 0h2m5 0h2m-38 1h2m12 0h2m18 0h2m8 0h2m18 0h2m-247 1h2m127 0h2m13 0h2m0 0h2m0 0h2m19 0h2m1 0h2m14 0h2m-192 1h2m1 0h2m125 0h2m-2 0h2m1 0h2m35 0h2m-168 1h2m157 0h2m-175 1h2m134 0h2m-2 0h2m19 0h2m18 0h2m-1 0h2m-1 0h2m-174 1h2m0 0h2m141 0h2m17 0h2m-40 1h2m38 0h2m7 0h2m5 0h2m31 0h2m-219 1h2m123 0h2m5 0h2m-1 0h2m35 0h2m2 0h2m-165 1h2m116 0h2m8 0h2m16 0h2m-151 1h2m2 0h2m108 0h2m3 0h2m-2 0h2m-2 0h2m2 0h2m2 0h2m2 0h2m13 0h2m33 0h2m-68 1h2m0 0h2m3 0h2m14 0h2m6 0h2m5 0h2m13 0h2m9 0h2m46 0h2m-230 1h2m0 0h2m110 0h2m2 0h2m50 0h2m7 0h2m27 0h2m32 0h2m-126 1h2m1 0h2m9 0h2m6 0h2m12 0h2m18 0h2m-2 0h2m42 0h2m13 0h2m-65 1h2m26 0h2m-89 1h2m8 0h2m10 0h2m88 0h2m-224 1h2m117 0h2m75 0h2m-192 1h2m107 0h2m10 0h2m13 0h2m49 0h2m10 0h2m6 0h2m-109 1h2m47 0h2m74 0h2m-133 1h2m39 0h2m39 0h2m-56 1h2m23 0h2m-68 1h2m2 0h2m61 0h2m-149 1h2m76 0h2m108 0h2m-109 1h2m14 0h2m4 0h2m9 0h2m-2 0h2m14 0h2m5 0h2m-2 0h2m-140 1h2m77 0h2m0 0h2m82 0h2m48 0h2m64 0h2m-216 1h2m0 0h2m9 0h2m25 0h2m-101 1h2m75 0h2m48 0h2m-78 1h2m-1 0h2m10 0h2m16 0h2m-2 0h2m40 0h2m7 0h2m-86 1h2m-1 0h2m27 0h2m11 0h2m11 0h2m-1 0h2m33 0h2m215 0h2m-319 1h2m7 0h2m-2 0h2m26 0h2m34 0h2m62 0h2m1 0h2m29 0h2m-71 1h2m84 0h2m-219 1h2m16 0h2m9 0h2m4 0h2m48 0h2m10 0h2m-96 1h2m19 0h2m95 0h2m-159 1h2m42 0h2m7 0h2m25 0h2m46 0h2m6 0h2m40 0h2m-13 1h2m-132 1h2m22 0h2m115 0h2m-141 1h2m15 0h2m57 0h2m90 0h2m-161 1h2m11 0h2m11 0h2m41 0h2m252 0h2m-335 1h2m11 0h2m19 1h2m-8 1h2m16 0h2m58 0h2m23 0h2m30 0h2m-2 1h2m-31 1h2m-25 1h2m-106 3h2m2 1h2m60 0h2m-68 1h2m87 1h2m-50 1h2m36 0h2m34 0h2m-91 1h2m-30 1h2m4 0h2m-24 1h2m70 1h2m12 0h2m31 5h2m19 2h2m-38 2h2m106 11h2m-276 1h2m24 5h2m189 6h2m80 1h2" stroke="#1a1a1a" stroke-width="2.5" fill="none"/><path d="M601 1363h2m96 0h2m199 16h2m-45 3h2m-139 4h2m-15 1h2m-20 4h2m19 1h2m1 2h2m32 2h2m-28 4h2m-28 1h2m31 0h2m-1 1h2m-17 1h2m27 2h2m-30 1h2m9 0h2m15 0h2m-58 1h2m5 0h2m12 0h2m18 0h2m12 0h2m39 0h2m-51 1h2m-57 1h2m55 0h2m23 0h2m-89 3h2m33 1h2m-47 1h2m-1 1h2m55 0h2m-17 1h2m16 1h2m-54 1h2m56 0h2m11 0h2m-35 1h2m8 0h2m10 0h2m-76 1h2m4 0h2m55 0h2m2 0h2m-78 1h2m56 0h2m2 0h2m13 0h2m-23 1h2m38 0h2m1 0h2m-1 0h2m23 0h2m166 0h2m-254 1h2m12 0h2m18 0h2m15 0h2m-32 1h2m-4 1h2m5 0h2m10 0h2m21 0h2m181 0h2m-222 1h2m19 0h2m3 0h2m2 0h2m241 0h2m-263 1h2m3 0h2m15 0h2m29 0h2m-108 1h2m27 0h2m5 0h2m6 0h2m-1 0h2m-1 0h2m161 0h2m27 0h2m-197 1h2m6 0h2m-21 1h2m57 0h2m185 0h2m-229 1h2m6 0h2m-22 1h2m5 0h2m-85 1h2m3 0h2m13 0h2m92 0h2m266 0h2m-332 1h2m5 0h2m26 0h2m8 0h2m-25 1h2m11 0h2m55 0h2m233 0h2m-307 1h2m25 0h2m47 0h2m114 0h2m-205 2h2m8 0h2m275 0h2m-321 1h2m5 0h2m27 0h2m-1 0h2m1 0h2m-42 1h2m255 0h2m-199 1h2m32 0h2m208 0h2m-297 1h2m228 0h2m6 0h2m22 0h2m5 0h2m-268 1h2m8 0h2m19 0h2m2 0h2m0 0h2m8 0h2m190 0h2m30 0h2m-254 1h2m223 0h2m3 0h2m11 0h2m64 0h2m-330 1h2m33 0h2m-56 1h2m22 0h2m19 0h2m21 0h2m10 0h2m178 0h2m9 0h2m28 0h2m-273 1h2m-2 0h2m14 0h2m11 0h2m9 0h2m-1 0h2m217 0h2m-260 1h2m6 0h2m-1 0h2m0 0h2m3 0h2m-31 1h2m14 0h2m3 0h2m2 0h2m25 0h2m185 0h2m56 0h2m-271 1h2m13 0h2m12 0h2m-107 1h2m98 0h2m16 0h2m205 0h2m9 0h2m10 0h2m-276 1h2m17 0h2m17 0h2m1 0h2m178 0h2m61 0h2m-274 1h2m42 0h2m160 0h2m29 0h2m24 0h2m9 0h2m12 0h2m-272 1h2m-2 0h2m17 0h2m160 0h2m74 0h2m-276 1h2m8 0h2m192 0h2m99 0h2m-340 1h2m20 0h2m10 0h2m6 0h2m235 0h2m-242 1h2m40 0h2m106 0h2m34 0h2m3 0h2m-212 1h2m18 0h2m2 0h2m5 0h2m0 0h2m72 0h2m9 0h2m56 0h2m6 0h2m84 0h2m-314 1h2m81 0h2m175 0h2m8 0h2m2 0h2m8 0h2m-84 1h2m3 0h2m17 0h2m56 0h2m7 0h2m4 0h2m-263 1h2m32 0h2m160 0h2m17 0h2m29 0h2m27 0h2m-68 1h2m0 0h2m5 0h2m-1 0h2m30 0h2m-246 1h2m3 0h2m3 0h2m19 0h2m19 0h2m103 0h2m4 0h2m21 0h2m27 0h2m19 0h2m8 0h2m-255 1h2m9 0h2m22 0h2m6 0h2m33 0h2m59 0h2m10 0h2m19 0h2m19 0h2m8 0h2m29 0h2m12 0h2m-2 0h2m34 0h2m24 0h2m-336 1h2m44 0h2m4 0h2m120 0h2m9 0h2m42 0h2m44 0h2m27 0h2m18 0h2m-328 1h2m40 0h2m112 0h2m39 0h2m25 0h2m42 0h2m1 0h2m-247 1h2m22 0h2m139 0h2m17 0h2m2 0h2m11 0h2m8 0h2m4 0h2m0 0h2m0 0h2m3 0h2m4 0h2m40 0h2m-282 1h2m87 0h2m88 0h2m21 0h2m22 0h2m33 0h2m4 0h2m-262 1h2m15 0h2m5 0h2m-1 0h2m142 0h2m50 0h2m16 0h2m15 0h2m0 0h2m2 0h2m12 0h2m4 0h2m-295 1h2m50 0h2m26 0h2m99 0h2m-1 0h2m-1 0h2m42 0h2m7 0h2m17 0h2m-266 1h2m31 0h2m-2 0h2m10 0h2m0 0h2m0 0h2m99 0h2m36 0h2m13 0h2m28 0h2m9 0h2m34 0h2m-296 1h2m43 0h2m13 0h2m0 0h2m3 0h2m11 0h2m14 0h2m48 0h2m64 0h2m25 0h2m15 0h2m9 0h2m10 0h2m34 0h2m-295 1h2m9 0h2m30 0h2m131 0h2m21 0h2m3 0h2m14 0h2m10 0h2m20 0h2m13 0h2m6 0h2m2 0h2m-318 1h2m20 0h2m13 0h2m1 0h2m142 0h2m-1 0h2m42 0h2m22 0h2m13 0h2m4 0h2m-184 1h2m43 0h2m68 0h2m9 0h2m18 0h2m8 0h2m8 0h2m55 0h2m-229 1h2m37 0h2m33 0h2m11 0h2m24 0h2m12 0h2m25 0h2m15 0h2m1 0h2m5 0h2m4 0h2m45 0h2m-125 1h2m13 0h2m47 0h2m6 0h2m46 0h2m3 0h2m-302 1h2m83 0h2m86 0h2m29 0h2m11 0h2m1 0h2m-233 1h2m80 0h2m-1 0h2m1 0h2m97 0h2m26 0h2m99 0h2m-310 1h2m100 0h2m46 0h2m12 0h2m22 0h2m32 0h2m10 0h2m4 0h2m-1 0h2m63 0h2m-226 1h2m0 0h2m10 0h2m3 0h2m19 0h2m1 0h2m22 0h2m9 0h2m15 0h2m37 0h2m21 0h2m68 0h2m-222 1h2m13 0h2m66 0h2m1 0h2m27 0h2m10 0h2m1 0h2m6 0h2m3 0h2m3 0h2m69 0h2m-319 1h2m157 0h2m67 0h2m13 0h2m-2 0h2m74 0h2m-2 0h2m1 0h2m-231 1h2m53 0h2m72 0h2m103 0h2m-236 1h2m119 0h2m2 0h2m9 0h2m88 0h2m3 0h2m-316 1h2m93 0h2m69 0h2m44 0h2m1 0h2m-46 1h2m26 0h2m10 0h2m-1 0h2m101 0h2m-185 1h2m12 0h2m48 0h2m-199 1h2m95 0h2m104 0h2m-89 1h2m61 0h2m30 0h2m-30 1h2m-1 0h2m127 0h2m-174 1h2m7 0h2m25 0h2m14 0h2m116 0h2m-203 1h2m57 0h2m5 0h2m-181 1h2m159 0h2m19 0h2m25 1h2m-238 1h2m26 0h2m121 0h2m68 0h2m3 0h2m6 0h2m-209 1h2m148 0h2m31 0h2m8 0h2m-1 0h2m3 0h2m-84 1h2m37 0h2m43 0h2m-78 1h2m34 0h2m2 0h2m28 0h2m3 0h2m-25 1h2m9 0h2m-198 1h2m125 0h2m2 0h2m53 0h2m-1 0h2m-181 1h2m173 0h2m8 0h2m127 0h2m-326 1h2m134 0h2m55 0h2m128 0h2m-321 1h2m5 0h2m131 0h2m42 0h2m-180 1h2m132 0h2m36 0h2m-178 1h2m161 0h2m3 0h2m10 0h2m-1 0h2m-199 1h2m181 0h2m144 0h2m0 0h2m-153 1h2m2 0h2m-169 1h2m169 0h2m137 1h2m0 0h2m-154 1h2m-160 1h2m151 0h2m-1 1h2m157 0h2m-9 1h2m10 0h2m-319 1h2m326 0h2m-33 5h2m-302 2h2m296 0h2m40 1h2m-343 1h2m294 0h2m5 0h2m-3 1h2m10 0h2m-314 1h2m286 3h2m0 0h2m20 0h2m-22 1h2m49 0h2m-47 1h2m19 0h2m11 0h2m-38 2h2m-16 1h2m-286 1h2m311 0h2m-22 1h2m19 0h2m-322 1h2m306 0h2m47 0h2m-74 1h2m3 0h2m3 0h2m-11 1h2m6 0h2m-16 2h2m1 0h2m-2 0h2m4 0h2m16 1h2m-11 1h2m-300 2h2m281 0h2m19 0h2m4 0h2m-324 2h2m3 0h2m276 0h2m9 1h2m1 0h2m0 1h2m-20 1h2m31 0h2m8 0h2m37 2h2m-362 1h2m270 0h2m-3 1h2m15 0h2m-15 1h2m-4 1h2m20 0h2m-316 1h2m285 0h2m12 0h2m-12 1h2m-13 1h2m2 0h2m5 0h2m27 0h2m9 0h2m19 0h2m-331 1h2m-1 0h2m255 0h2m14 0h2m15 0h2m0 0h2m-14 1h2m31 0h2m8 0h2m12 0h2m-89 1h2m1 0h2m24 0h2m-34 1h2m4 0h2m39 0h2m-298 1h2m283 0h2m22 0h2m25 0h2m2 0h2m-342 1h2m246 0h2m1 0h2m27 0h2m-2 0h2m20 0h2m-31 1h2m5 0h2m-35 1h2m23 0h2m13 0h2m6 0h2m-34 1h2m-18 1h2m40 0h2m-53 1h2m117 0h2m-107 1h2m14 0h2m3 0h2m-2 1h2m20 0h2m-28 1h2m5 0h2m-40 1h2m-3 1h2m21 0h2m2 0h2m-1 0h2m5 0h2m16 0h2m-65 1h2m2 0h2m3 0h2m8 0h2m1 0h2m1 0h2m6 0h2m39 0h2m9 0h2m3 0h2m-329 1h2m232 0h2m30 0h2m26 0h2m3 0h2m-69 1h2m6 0h2m23 0h2m57 0h2m-55 1h2m12 0h2m7 0h2m-72 1h2m3 0h2m0 0h2m0 0h2m1 0h2m19 0h2m17 0h2m8 0h2m-2 0h2m1 0h2m12 0h2m-2 0h2m2 0h2m-52 1h2m2 0h2m37 0h2m-292 1h2m211 0h2m24 0h2m-1 0h2m29 0h2m-2 0h2m-48 1h2m-2 0h2m1 0h2m-9 1h2m9 0h2m24 0h2m0 0h2m18 0h2m-77 1h2m-1 0h2m0 0h2m87 0h2m-298 1h2m200 0h2m11 0h2m1 0h2m27 0h2m52 0h2m-307 1h2m205 0h2m-2 0h2m28 0h2m15 0h2m18 0h2m6 0h2m62 0h2m-355 1h2m206 0h2m46 0h2m4 0h2m33 0h2m2 0h2m-92 1h2m18 0h2m41 0h2m13 0h2m87 0h2m-140 1h2m7 0h2m22 0h2m30 0h2m24 0h2m-68 1h2m10 0h2m0 0h2m16 0h2m3 0h2m13 0h2m-314 2h2m192 0h2m-1 0h2m-2 0h2m-1 0h2m10 0h2m61 0h2m19 0h2m-96 1h2m23 0h2m4 0h2m35 0h2m14 0h2m-1 0h2m43 0h2m-135 1h2m0 0h2m12 0h2m23 0h2m22 0h2m-65 1h2m22 0h2m8 0h2m25 0h2m-42 1h2m72 0h2m-300 1h2m222 0h2m6 0h2m22 0h2m6 0h2m31 0h2m-93 1h2m24 0h2m19 0h2m23 0h2m6 0h2m-282 1h2m210 0h2m7 0h2m16 0h2m24 0h2m-70 1h2m-2 0h2m4 0h2m3 0h2m-2 0h2m4 0h2m19 0h2m22 0h2m-1 0h2m1 0h2m1 0h2m14 0h2m0 0h2m0 0h2m-303 1h2m209 0h2m19 0h2m8 0h2m82 0h2m-124 1h2m34 0h2m2 0h2m12 0h2m44 0h2m-294 1h2m192 0h2m24 0h2m9 0h2m15 0h2m9 0h2m-261 1h2m192 0h2m23 0h2m16 0h2m49 0h2m-1 0h2m-291 1h2m203 0h2m28 0h2m-1 0h2m13 0h2m7 0h2m13 0h2m1 0h2m13 0h2m-105 1h2m-1 0h2m1 0h2m-2 0h2m6 0h2m49 0h2m29 0h2m4 0h2m0 0h2m-290 1h2m185 0h2m19 0h2m6 0h2m20 0h2m2 0h2m-247 1h2m200 0h2m4 0h2m30 0h2m12 0h2m10 0h2m-264 1h2m209 0h2m4 0h2m30 0h2m5 0h2m-75 1h2m11 0h2m11 0h2m60 0h2m-89 1h2m0 0h2m32 0h2m24 0h2m-261 1h2m10 0h2m195 0h2m13 0h2m-30 1h2m61 0h2m75 0h2m-326 1h2m183 0h2m3 0h2m44 0h2m10 0h2m0 0h2m49 0h2m-120 1h2m91 0h2m-72 1h2m5 0h2m11 0h2m20 0h2m41 0h2m-113 1h2m-1 0h2m27 0h2m0 0h2m14 0h2m27 0h2m-75 1h2m1 0h2m1 0h2m32 0h2m19 0h2m-251 1h2m206 0h2m8 0h2m1 0h2m-40 1h2m3 0h2m-1 0h2m22 0h2m-1 0h2m-213 1h2m181 0h2m7 0h2m14 0h2m-219 1h2m191 0h2m0 0h2m21 0h2m9 0h2m26 0h2m-38 1h2m6 0h2m23 0h2m18 0h2m14 0h2m-106 2h2m18 0h2m1 0h2m-26 1h2m2 0h2m0 0h2m2 0h2m72 0h2m-79 1h2m34 1h2m-224 1h2m-18 1h2m192 0h2m3 1h2m12 0h2m59 0h2m-86 1h2m50 0h2m0 0h2m-7 1h2m12 0h2m-235 1h2m181 0h2m13 0h2m2 0h2m34 0h2m-1 1h2m-249 1h2m-2 0h2m182 0h2m0 0h2m12 0h2m24 0h2m19 0h2m15 0h2m-259 1h2m171 0h2m4 1h2m16 0h2m0 0h2m27 0h2m-229 1h2m171 0h2m34 0h2m41 0h2m-255 1h2m209 0h2m-13 1h2m2 0h2m4 0h2m-43 1h2m38 0h2m-210 1h2m171 0h2m17 0h2m5 0h2m-28 1h2m51 0h2m6 0h2m2 0h2m-82 1h2m57 0h2m9 0h2m-74 1h2m-1 0h2m26 0h2m8 1h2m17 0h2m-60 1h2m-2 0h2m5 0h2m29 0h2m4 0h2m-42 1h2m-1 0h2m2 0h2m4 0h2m-178 1h2m157 0h2m8 0h2m15 0h2m15 0h2m-37 1h2m0 0h2m24 0h2m-32 2h2m8 0h2m8 2h2m-31 1h2m35 0h2m-45 1h2m18 0h2m7 0h2m6 0h2m8 0h2m-199 1h2m168 1h2m0 0h2m10 0h2m-35 1h2m7 0h2m7 0h2m27 0h2m7 0h2m-69 1h2m39 0h2m-30 1h2m8 0h2m25 0h2m0 0h2m-187 1h2m156 0h2m10 0h2m75 0h2m-118 1h2m153 0h2m-146 1h2m-9 1h2m3 0h2m8 0h2m31 0h2m-48 1h2m39 0h2m-62 1h2m-121 1h2m0 0h2m-1 0h2m210 0h2m-212 1h2m147 0h2m-179 1h2m140 0h2m42 0h2m-54 1h2m17 0h2m-18 1h2m40 0h2m63 0h2m-104 1h2m-116 1h2m104 0h2m16 0h2m-132 1h2m-1 0h2m106 0h2m49 0h2m18 0h2m19 0h2m-35 1h2m10 0h2m1 0h2m-174 1h2m104 0h2m-1 0h2m14 0h2m55 1h2m-96 1h2m43 1h2m-15 1h2m74 0h2m122 0h2m-171 1h2m30 0h2m-109 2h2m12 0h2m0 0h2m-87 1h2m70 0h2m-1 0h2m77 0h2m5 0h2m8 0h2m-180 1h2m-2 0h2m65 0h2m24 0h2m2 0h2m6 0h2m-39 1h2m-3 1h2m1 0h2m18 0h2m14 0h2m32 0h2m-143 1h2m54 0h2m4 0h2m-2 0h2m102 0h2m27 0h2m-194 1h2m52 0h2m94 0h2m-95 1h2m2 0h2m-36 1h2m6 0h2m-59 1h2m39 0h2m17 0h2m0 0h2m104 0h2m-119 1h2m2 0h2m6 1h2m8 1h2m39 1h2m-40 1h2m-54 1h2m160 0h2m-76 2h2m48 0h2m46 0h2m-176 2h2m147 0h2m-65 1h2m48 1h2m-73 1h2m80 6h2m-123 2h2m5 3h2m59 2h2m14 7h2m176 25h2m-218 2h2" stroke="#707070" stroke-width="2.5" fill="none"/>
<clipPath id="cE2"><use href="#oE2"/></clipPath>
<g clip-path="url(#cE2)"><g filter="url(#bl)"><rect x="645" y="1465" width="347" height="235" fill="#0000ff"/><path d="M700 1693 685 1693 681 1691 679 1691 674 1688 667 1682 667 1681 663 1677 658 1667 658 1665 656 1661 656 1658 655 1657 655 1654 654 1653 653 1639 652 1638 653 1611 654 1610 654 1604 655 1603 655 1598 656 1597 656 1592 657 1591 657 1587 658 1586 658 1582 659 1581 659 1577 660 1576 660 1572 661 1571 661 1567 662 1566 662 1562 664 1557 664 1553 665 1552 665 1549 666 1548 666 1545 667 1544 667 1541 668 1540 668 1537 669 1536 672 1521 673 1520 673 1517 674 1516 674 1513 675 1512 675 1509 676 1508 676 1505 680 1495 680 1493 686 1483 692 1477 699 1474 711 1473 712 1472 723 1472 724 1473 733 1474 750 1482 791 1505 808 1513 822 1518 827 1518 850 1512 869 1505 922 1483 941 1477 953 1476 963 1477 971 1478 980 1484 982 1491 982 1494 980 1500 972 1511 957 1524 933 1541 907 1556 877 1572 853 1582 845 1587 839 1593 835 1604 830 1616 819 1635 808 1647 807 1647 799 1654 793 1657 788 1661 781 1664 779 1666 751 1679 749 1679 743 1682 740 1682 733 1685 723 1687 719 1689 712 1690 711 1691 707 1691 706 1692 701 1692 700 1693Z" fill="#0019ff" fill-rule="evenodd"/><path d="M700 1693 685 1693 681 1691 679 1691 667 1682 667 1681 663 1677 658 1667 658 1665 656 1661 656 1658 655 1657 655 1654 654 1653 653 1639 652 1638 652 1622 653 1621 653 1611 654 1610 654 1604 655 1603 655 1598 656 1597 656 1592 657 1591 657 1587 658 1586 658 1582 659 1581 659 1577 660 1576 660 1572 661 1571 661 1567 662 1566 662 1562 664 1557 664 1553 665 1552 665 1549 666 1548 666 1545 667 1544 667 1541 668 1540 668 1537 669 1536 672 1521 673 1520 673 1517 674 1516 674 1513 675 1512 675 1509 676 1508 676 1505 682 1489 687 1483 692 1479 700 1476 714 1475 721 1476 731 1479 750 1488 795 1516 811 1524 821 1527 829 1527 846 1522 910 1495 939 1485 950 1483 961 1483 969 1485 974 1489 975 1492 974 1495 970 1501 966 1506 953 1517 940 1526 902 1548 874 1562 849 1572 839 1579 832 1588 821 1619 814 1632 802 1648 788 1661 765 1673 763 1673 756 1677 746 1680 743 1682 740 1682 733 1685 730 1685 719 1689 712 1690 711 1691 707 1691 706 1692 701 1692 700 1693Z" fill="#002aff" fill-rule="evenodd"/><path d="M700 1693 690 1693 683 1691 675 1686 666 1676 660 1666 655 1652 652 1637 652 1622 653 1621 653 1611 654 1610 655 1598 656 1597 656 1592 657 1591 657 1587 658 1586 658 1582 659 1581 659 1577 660 1576 660 1572 661 1571 661 1567 662 1566 662 1562 664 1557 664 1553 665 1552 665 1549 666 1548 666 1545 667 1544 667 1541 668 1540 668 1537 669 1536 672 1521 676 1510 684 1495 692 1486 698 1483 708 1482 719 1483 729 1487 739 1492 751 1500 774 1521 797 1548 812 1558 813 1561 809 1579 810 1603 808 1619 806 1626 802 1636 792 1650 778 1664 765 1673 763 1673 756 1677 746 1680 743 1682 740 1682 733 1685 730 1685 719 1689 712 1690 711 1691 707 1691 706 1692 701 1692 700 1693ZM842 1553 835 1553 833 1552 834 1548 840 1542 861 1527 886 1513 913 1502 933 1496 945 1494 952 1496 954 1498 948 1506 938 1514 925 1523 908 1532 887 1541 872 1547 856 1551 842 1553Z" fill="#0044ff" fill-rule="evenodd"/><path d="M706 1691 698 1691 687 1689 677 1683 669 1674 663 1665 658 1651 655 1636 655 1624 656 1605 662 1573 666 1554 673 1531 682 1512 688 1503 694 1497 703 1494 717 1497 729 1504 744 1517 759 1536 772 1557 781 1576 788 1602 790 1621 789 1631 786 1642 780 1652 768 1665 755 1674 742 1682 733 1685 723 1687 719 1689 716 1689 711 1691 706 1691Z" fill="#005cff" fill-rule="evenodd"/><path d="M704 1688 697 1688 688 1685 679 1680 672 1672 666 1663 661 1650 658 1635 658 1625 658 1614 661 1595 668 1565 675 1544 683 1529 688 1522 695 1517 703 1515 713 1517 725 1525 738 1538 750 1554 760 1572 767 1589 772 1610 774 1627 773 1639 769 1651 763 1660 754 1669 741 1678 731 1682 717 1687 704 1688Z" fill="#007dff" fill-rule="evenodd"/><path d="M712 1684 703 1685 693 1683 685 1679 678 1674 673 1667 667 1657 663 1644 661 1634 661 1625 663 1607 667 1590 675 1566 681 1554 686 1546 693 1540 700 1538 709 1539 719 1544 729 1552 739 1564 748 1578 754 1592 759 1607 762 1622 762 1634 760 1644 757 1653 751 1662 744 1670 733 1677 723 1681 712 1684Z" fill="#00a0ff" fill-rule="evenodd"/><path d="M709 1681 701 1681 691 1678 684 1674 678 1668 673 1661 669 1652 666 1643 664 1631 665 1618 666 1608 670 1596 676 1582 682 1572 688 1565 695 1560 702 1559 710 1560 719 1564 728 1571 736 1579 743 1590 748 1601 752 1613 753 1625 753 1636 751 1646 748 1655 743 1663 738 1668 729 1675 718 1679 709 1681Z" fill="#00c9ff" fill-rule="evenodd"/><path d="M713 1677 705 1678 696 1676 689 1674 683 1669 677 1662 673 1654 669 1643 667 1634 667 1626 668 1615 671 1603 676 1593 682 1584 688 1578 695 1574 702 1572 709 1572 717 1575 724 1579 731 1586 737 1594 742 1603 745 1613 747 1623 747 1633 746 1642 744 1651 740 1658 736 1664 729 1670 722 1674 713 1677Z" fill="#00f1f8" fill-rule="evenodd"/><path d="M711 1674 703 1674 695 1673 689 1670 683 1665 678 1659 674 1651 671 1642 670 1633 670 1625 671 1615 674 1606 678 1597 683 1591 689 1585 695 1582 702 1580 709 1580 716 1582 723 1587 729 1592 734 1599 738 1607 741 1616 743 1625 743 1634 741 1643 739 1651 735 1658 730 1664 724 1669 717 1672 711 1674Z" fill="#00feb1" fill-rule="evenodd"/><path d="M710 1671 703 1671 696 1670 690 1667 685 1663 680 1657 676 1650 674 1642 672 1634 672 1626 674 1617 676 1609 680 1601 685 1595 690 1590 696 1587 702 1586 708 1586 715 1588 721 1591 726 1596 731 1602 735 1609 737 1617 739 1626 739 1634 738 1642 736 1649 732 1656 727 1662 722 1666 716 1669 710 1671Z" fill="#00ff56" fill-rule="evenodd"/><path d="M709 1668 703 1668 697 1667 691 1664 686 1660 682 1655 678 1648 675 1634 676 1619 678 1612 681 1605 686 1599 690 1595 696 1592 702 1590 708 1591 714 1592 719 1595 724 1600 729 1606 732 1612 734 1619 736 1627 735 1641 733 1648 730 1654 726 1659 721 1663 715 1667 709 1668Z" fill="#17ff1f" fill-rule="evenodd"/><path d="M710 1665 704 1666 699 1665 693 1662 688 1659 684 1654 681 1649 677 1635 677 1628 678 1620 683 1608 691 1599 696 1596 702 1594 712 1596 717 1598 722 1602 729 1613 733 1626 732 1639 728 1651 725 1656 720 1660 715 1663 710 1665Z" fill="#44ff0d" fill-rule="evenodd"/><path d="M710 1662 704 1663 699 1662 690 1657 683 1648 679 1635 680 1622 685 1610 692 1602 697 1599 702 1598 711 1599 720 1605 726 1614 730 1626 730 1638 726 1649 719 1658 710 1662Z" fill="#7cff00" fill-rule="evenodd"/><path d="M706 1660 697 1658 689 1653 683 1643 681 1632 683 1621 687 1611 694 1604 698 1602 703 1601 712 1603 720 1609 726 1619 728 1630 726 1641 722 1650 715 1657 706 1660Z" fill="#ceff00" fill-rule="evenodd"/><path d="M707 1657 698 1656 691 1651 686 1643 684 1633 685 1622 689 1613 695 1607 703 1605 711 1606 718 1611 723 1619 725 1629 724 1639 721 1648 715 1654 707 1657Z" fill="#f5eb00" fill-rule="evenodd"/><path d="M708 1654 701 1654 694 1651 689 1644 686 1635 686 1626 689 1617 695 1611 702 1608 709 1609 716 1613 720 1620 723 1628 722 1637 719 1645 714 1651 708 1654Z" fill="#ffbb00" fill-rule="evenodd"/><path d="M707 1651 701 1651 695 1648 691 1642 688 1634 689 1625 692 1618 697 1613 703 1611 709 1612 714 1616 718 1622 720 1629 720 1637 717 1644 713 1648 707 1651Z" fill="#ff7500" fill-rule="evenodd"/><path d="M706 1648 701 1648 696 1645 693 1640 691 1633 691 1626 694 1620 698 1616 703 1615 708 1615 713 1619 716 1624 717 1630 717 1636 715 1642 711 1646 706 1648Z" fill="#ff2d00" fill-rule="evenodd"/><path d="M707 1644 703 1645 699 1643 696 1640 694 1635 694 1630 695 1625 698 1621 702 1619 706 1619 709 1620 712 1623 714 1628 714 1633 713 1638 710 1642 707 1644Z" fill="#ff0000" fill-rule="evenodd"/></g></g>
<defs><path id="oE3" d="M1202 1483 1205 1483 1208 1484 1211 1485 1213 1487 1216 1489 1218 1491 1220 1494 1222 1497 1223 1501 1224 1506 1224 1510 1225 1515 1227 1520 1228 1526 1230 1531 1232 1537 1235 1542 1238 1547 1240 1551 1243 1556 1246 1560 1249 1564 1252 1568 1255 1571 1257 1574 1259 1577 1261 1580 1262 1583 1263 1587 1263 1592 1264 1596 1265 1601 1266 1605 1267 1610 1269 1614 1271 1619 1273 1623 1275 1628 1278 1632 1280 1637 1282 1641 1285 1645 1286 1649 1287 1652 1287 1655 1287 1657 1286 1658 1284 1661 1281 1663 1277 1666 1272 1669 1267 1672 1262 1676 1256 1680 1249 1684 1243 1688 1237 1691 1231 1695 1225 1698 1219 1700 1213 1702 1207 1703 1201 1703 1196 1704 1189 1703 1183 1703 1177 1702 1172 1700 1167 1698 1162 1695 1157 1692 1154 1688 1151 1683 1149 1678 1147 1672 1146 1667 1145 1661 1144 1654 1144 1648 1144 1643 1145 1638 1147 1634 1148 1630 1150 1625 1152 1619 1155 1613 1157 1607 1159 1601 1160 1595 1161 1589 1162 1583 1163 1577 1165 1571 1166 1565 1167 1558 1168 1551 1170 1543 1172 1535 1174 1527 1175 1520 1177 1513 1178 1507 1179 1501 1180 1496 1182 1492 1184 1490 1187 1487 1190 1486 1192 1484 1195 1483 1198 1483Z"/></defs>
<use href="#oE3" fill="none" stroke="#000" stroke-opacity="0.15" stroke-width="10" stroke-linejoin="round" filter="url(#bl3)"/>
<path d="M1172 1358h2m75 0h2m-146 2h2m124 1h2m-49 1h2m20 2h2m-27 6h2m-7 1h2m12 1h2m9 0h2m279 1h2m-297 1h2m23 0h2m19 0h2m67 0h2m-109 1h2m14 1h2m-32 1h2m2 0h2m27 0h2m-50 2h2m62 0h2m-45 2h2m-12 1h2m12 0h2m5 0h2m18 0h2m-45 1h2m66 1h2m-49 1h2m11 1h2m4 1h2m5 0h2m-42 1h2m8 0h2m15 0h2m-7 1h2m2 0h2m-29 1h2m8 0h2m5 0h2m-4 1h2m12 0h2m-1 0h2m-38 1h2m13 1h2m10 1h2m5 0h2m33 0h2m-54 1h2m6 1h2m15 0h2m-14 1h2m-24 1h2m21 0h2m4 0h2m19 0h2m-59 1h2m25 0h2m14 0h2m-27 1h2m10 0h2m3 0h2m-25 1h2m1 0h2m13 0h2m9 0h2m-21 1h2m-6 1h2m1 0h2m-8 1h2m11 0h2m-21 1h2m16 0h2m6 0h2m2 0h2m5 0h2m-19 1h2m-8 1h2m1 0h2m0 0h2m11 0h2m-21 1h2m-1 0h2m6 0h2m-38 1h2m9 0h2m2 0h2m0 0h2m0 0h2m31 0h2m-56 1h2m30 0h2m2 0h2m2 0h2m-1 0h2m8 0h2m-16 1h2m4 0h2m15 0h2m100 0h2m-139 1h2m7 0h2m-1 0h2m1 0h2m-17 1h2m11 0h2m-1 0h2m3 0h2m9 0h2m21 0h2m-61 1h2m9 0h2m6 0h2m9 0h2m5 0h2m-36 1h2m1 0h2m15 0h2m1 0h2m-2 0h2m4 0h2m1 0h2m11 0h2m-56 1h2m-1 0h2m14 0h2m3 0h2m16 0h2m-40 1h2m2 0h2m4 0h2m2 0h2m3 0h2m5 0h2m-1 0h2m4 0h2m0 0h2m-1 0h2m3 0h2m12 0h2m114 0h2m-172 1h2m3 0h2m14 0h2m-2 0h2m-27 1h2m9 0h2m-1 0h2m6 0h2m3 0h2m2 0h2m8 0h2m4 0h2m0 0h2m-48 1h2m-1 0h2m15 0h2m0 0h2m-2 0h2m20 0h2m-48 1h2m4 0h2m16 0h2m-1 0h2m3 0h2m15 0h2m-2 0h2m1 0h2m4 0h2m-48 1h2m12 0h2m2 0h2m3 0h2m-2 0h2m0 0h2m-25 1h2m-1 0h2m10 0h2m-2 0h2m-1 0h2m7 0h2m-2 0h2m4 0h2m10 0h2m-65 1h2m12 0h2m27 0h2m5 0h2m8 0h2m-2 0h2m-2 0h2m-36 1h2m9 0h2m18 0h2m-36 1h2m0 0h2m25 0h2m6 0h2m-63 1h2m3 0h2m5 0h2m3 0h2m7 0h2m-1 0h2m6 0h2m12 0h2m-49 1h2m29 0h2m4 0h2m22 0h2m-39 1h2m0 0h2m29 0h2m6 0h2m162 0h2m-225 1h2m15 0h2m0 0h2m4 0h2m7 0h2m4 0h2m4 0h2m-1 0h2m4 0h2m0 0h2m3 0h2m-2 0h2m14 0h2m47 0h2m123 0h2m-257 1h2m4 0h2m4 0h2m0 0h2m28 0h2m0 0h2m4 0h2m-1 0h2m12 0h2m-69 1h2m6 0h2m8 0h2m5 0h2m9 0h2m1 0h2m5 0h2m-2 0h2m-1 0h2m-1 0h2m-1 0h2m0 0h2m1 0h2m0 0h2m-55 1h2m9 0h2m5 0h2m-2 0h2m1 0h2m5 0h2m16 0h2m4 0h2m220 0h2m-250 1h2m1 0h2m16 0h2m0 0h2m1 0h2m7 0h2m-48 1h2m-2 0h2m8 0h2m9 0h2m-1 0h2m-1 0h2m7 0h2m0 0h2m1 0h2m-57 1h2m10 0h2m-1 0h2m1 0h2m11 0h2m8 0h2m4 0h2m-42 1h2m-1 0h2m3 0h2m6 0h2m0 0h2m0 0h2m-2 0h2m18 0h2m11 0h2m4 0h2m-53 1h2m0 0h2m8 0h2m1 0h2m1 0h2m11 0h2m10 0h2m8 0h2m-67 1h2m17 0h2m5 0h2m6 0h2m9 0h2m2 0h2m5 0h2m-2 0h2m3 0h2m192 0h2m-242 1h2m1 0h2m0 0h2m3 0h2m-1 0h2m5 0h2m3 0h2m19 0h2m-51 1h2m0 0h2m-1 0h2m1 0h2m8 0h2m1 0h2m0 0h2m2 0h2m7 0h2m250 0h2m50 0h2m-316 1h2m0 0h2m16 0h2m-1 0h2m-43 1h2m5 0h2m-1 0h2m1 0h2m1 0h2m-1 0h2m7 0h2m3 0h2m-1 0h2m0 0h2m2 0h2m4 0h2m-39 1h2m2 0h2m6 0h2m3 0h2m3 0h2m-2 0h2m-25 1h2m6 0h2m-1 0h2m1 0h2m9 0h2m4 0h2m-90 1h2m47 0h2m10 0h2m13 0h2m2 0h2m24 0h2m0 0h2m164 0h2m-251 1h2m21 0h2m16 0h2m8 0h2m14 0h2m2 0h2m12 0h2m-59 1h2m11 0h2m15 0h2m-2 0h2m0 0h2m11 0h2m14 0h2m-39 1h2m-2 0h2m2 0h2m2 0h2m4 0h2m6 0h2m17 0h2m7 0h2m-85 1h2m6 0h2m0 0h2m4 0h2m19 0h2m7 0h2m11 0h2m-1 0h2m2 0h2m-54 1h2m9 0h2m6 0h2m3 0h2m2 0h2m5 0h2m-1 0h2m8 0h2m-56 1h2m11 0h2m3 0h2m9 0h2m8 0h2m2 0h2m2 0h2m95 0h2m-152 1h2m1 0h2m5 0h2m10 0h2m1 0h2m0 0h2m1 0h2m2 0h2m-1 0h2m1 0h2m160 0h2m98 0h2m-307 1h2m17 0h2m2 0h2m4 0h2m3 0h2m-2 0h2m10 0h2m3 0h2m1 0h2m8 0h2m13 0h2m182 0h2m-240 1h2m10 0h2m2 0h2m-1 0h2m2 0h2m11 0h2m0 0h2m8 0h2m-51 1h2m11 0h2m6 0h2m0 0h2m-1 0h2m-1 0h2m1 0h2m-2 0h2m1 0h2m13 0h2m134 0h2m-180 1h2m4 0h2m7 0h2m0 0h2m1 0h2m-2 0h2m-1 0h2m1 0h2m-1 0h2m1 0h2m-1 0h2m-26 1h2m6 0h2m1 0h2m4 0h2m4 0h2m-34 1h2m1 0h2m0 0h2m1 0h2m0 0h2m8 0h2m3 0h2m11 0h2m12 0h2m111 0h2m-159 1h2m6 0h2m-2 0h2m3 0h2m0 0h2m5 0h2m5 0h2m1 0h2m0 0h2m-38 1h2m-1 0h2m7 0h2m0 0h2m0 0h2m-1 0h2m-1 0h2m2 0h2m-1 0h2m-1 0h2m1 0h2m5 0h2m7 0h2m5 0h2m240 0h2m-297 1h2m3 0h2m2 0h2m-1 0h2m0 0h2m3 0h2m16 0h2m-1 0h2m191 0h2m31 0h2m57 0h2m9 0h2m-333 1h2m2 0h2m0 0h2m11 0h2m2 0h2m7 0h2m0 0h2m19 0h2m187 0h2m31 0h2m-279 1h2m0 0h2m1 0h2m3 0h2m0 0h2m0 0h2m-2 0h2m0 0h2m1 0h2m-1 0h2m0 0h2m-2 0h2m0 0h2m12 0h2m4 0h2m10 0h2m-68 1h2m12 0h2m42 0h2m155 0h2m30 0h2m96 0h2m-353 1h2m14 0h2m-1 0h2m7 0h2m3 0h2m-1 0h2m-2 0h2m0 0h2m4 0h2m0 0h2m-1 0h2m-1 0h2m14 0h2m-66 1h2m12 0h2m4 0h2m0 0h2m-1 0h2m0 0h2m-2 0h2m0 0h2m2 0h2m13 0h2m-1 0h2m1 0h2m-1 0h2m0 0h2m0 0h2m2 0h2m0 0h2m120 0h2m128 0h2m-309 1h2m8 0h2m-1 0h2m9 0h2m3 0h2m-1 0h2m-2 0h2m2 0h2m-1 0h2m7 0h2m-1 0h2m194 0h2m0 0h2m37 0h2m-272 1h2m21 0h2m-1 0h2m2 0h2m-2 0h2m-2 0h2m4 0h2m0 0h2m-2 0h2m-1 0h2m160 0h2m72 0h2m4 0h2m-263 1h2m-2 0h2m9 0h2m1 0h2m8 0h2m197 0h2m-241 1h2m29 0h2m2 0h2m174 0h2m4 0h2m-262 1h2m41 0h2m2 0h2m1 0h2m3 0h2m3 0h2m4 0h2m6 0h2m1 0h2m107 0h2m11 0h2m-178 1h2m10 0h2m0 0h2m4 0h2m1 0h2m15 0h2m8 0h2m-2 0h2m1 0h2m4 0h2m9 0h2m161 0h2m2 0h2m-2 0h2m31 0h2m55 0h2m31 0h2m-328 1h2m4 0h2m0 0h2m6 0h2m-2 0h2m4 0h2m145 0h2m28 0h2m0 0h2m24 0h2m25 0h2m10 0h2m24 0h2m-298 1h2m39 0h2m111 0h2m61 0h2m7 0h2m13 0h2m-1 0h2m22 0h2m-277 1h2m18 0h2m3 0h2m-1 0h2m5 0h2m1 0h2m0 0h2m1 0h2m28 0h2m45 0h2m69 0h2m61 0h2m11 0h2m-287 1h2m8 0h2m13 0h2m-1 0h2m6 0h2m4 0h2m4 0h2m10 0h2m0 0h2m5 0h2m-1 0h2m26 0h2m38 0h2m79 0h2m50 0h2m49 0h2m15 0h2m26 0h2m-353 1h2m0 0h2m13 0h2m-2 0h2m-1 0h2m0 0h2m5 0h2m9 0h2m171 0h2m42 0h2m26 0h2m24 0h2m-2 0h2m-308 1h2m1 0h2m5 0h2m-1 0h2m0 0h2m3 0h2m13 0h2m4 0h2m5 0h2m158 0h2m58 0h2m49 0h2m-326 1h2m-2 0h2m2 0h2m3 0h2m14 0h2m2 0h2m-2 0h2m-1 0h2m22 0h2m4 0h2m1 0h2m17 0h2m-1 0h2m93 0h2m44 0h2m23 0h2m-254 1h2m23 0h2m-2 0h2m1 0h2m-1 0h2m-1 0h2m0 0h2m-1 0h2m-1 0h2m2 0h2m0 0h2m-1 0h2m3 0h2m6 0h2m123 0h2m12 0h2m50 0h2m44 0h2m-289 1h2m6 0h2m3 0h2m2 0h2m12 0h2m6 0h2m11 0h2m0 0h2m22 0h2m47 0h2m28 0h2m76 0h2m25 0h2m14 0h2m10 0h2m11 0h2m24 0h2m-331 1h2m-1 0h2m12 0h2m-2 0h2m9 0h2m5 0h2m3 0h2m3 0h2m13 0h2m6 0h2m0 0h2m103 0h2m82 0h2m-1 0h2m9 0h2m-267 1h2m5 0h2m0 0h2m20 0h2m-1 0h2m-2 0h2m10 0h2m15 0h2m116 0h2m29 0h2m35 0h2m19 0h2m-275 1h2m4 0h2m-1 0h2m31 0h2m115 0h2m3 0h2m26 0h2m10 0h2m13 0h2m-1 0h2m35 0h2m1 0h2m0 0h2m23 0h2m-305 1h2m7 0h2m53 0h2m10 0h2m156 0h2m22 0h2m11 0h2m22 0h2m-2 0h2m48 0h2m0 0h2m13 0h2m3 0h2m-344 1h2m34 0h2m15 0h2m57 0h2m19 0h2m32 0h2m52 0h2m10 0h2m69 0h2m-314 1h2m43 0h2m0 0h2m50 0h2m20 0h2m84 0h2m117 0h2m-329 1h2m1 0h2m0 0h2m3 0h2m31 0h2m8 0h2m5 0h2m27 0h2m95 0h2m60 0h2m-252 1h2m-2 0h2m5 0h2m-1 0h2m0 0h2m-1 0h2m36 0h2m-1 0h2m6 0h2m2 0h2m55 0h2m46 0h2m24 0h2m35 0h2m19 0h2m6 0h2m16 0h2m7 0h2m2 0h2m-296 1h2m-1 0h2m11 0h2m39 0h2m5 0h2m40 0h2m61 0h2m20 0h2m18 0h2m16 0h2m29 0h2m1 0h2m0 0h2m7 0h2m43 0h2m12 0h2m1 0h2m24 0h2m-354 1h2m42 0h2m4 0h2m2 0h2m9 0h2m3 0h2m2 0h2m26 0h2m86 0h2m11 0h2m58 0h2m27 0h2m12 0h2m-314 1h2m6 0h2m0 0h2m41 0h2m0 0h2m39 0h2m82 0h2m3 0h2m21 0h2m24 0h2m17 0h2m13 0h2m5 0h2m10 0h2m26 0h2m-265 1h2m18 0h2m111 0h2m6 0h2m9 0h2m49 0h2m33 0h2m23 0h2m-314 1h2m0 0h2m77 0h2m25 0h2m32 0h2m54 0h2m17 0h2m51 0h2m13 0h2m10 0h2m25 0h2m-324 1h2m-1 0h2m133 0h2m25 0h2m14 0h2m5 0h2m2 0h2m33 0h2m26 0h2m1 0h2m1 0h2m-2 0h2m22 0h2m-294 1h2m10 0h2m43 0h2m-1 0h2m4 0h2m13 0h2m105 0h2m21 0h2m41 0h2m20 0h2m-219 1h2m7 0h2m156 0h2m2 0h2m33 0h2m47 0h2m3 0h2m24 0h2m-274 1h2m82 0h2m50 0h2m8 0h2m22 0h2m2 0h2m19 0h2m7 0h2m4 0h2m3 0h2m39 0h2m17 0h2m-338 1h2m45 0h2m0 0h2m0 0h2m-1 0h2m136 0h2m52 0h2m0 0h2m10 0h2m11 0h2m13 0h2m43 0h2m-342 1h2m-1 0h2m57 0h2m-2 0h2m1 0h2m3 0h2m60 0h2m19 0h2m11 0h2m28 0h2m2 0h2m4 0h2m2 0h2m17 0h2m4 0h2m12 0h2m6 0h2m-1 0h2m0 0h2m11 0h2m34 0h2m-252 1h2m2 0h2m5 0h2m12 0h2m80 0h2m59 0h2m11 0h2m10 0h2m18 0h2m12 0h2m69 0h2m-300 1h2m104 0h2m14 0h2m56 0h2m0 0h2m4 0h2m15 0h2m34 0h2m0 0h2m52 0h2m-347 1h2m46 0h2m19 0h2m1 0h2m74 0h2m3 0h2m17 0h2m1 0h2m32 0h2m7 0h2m12 0h2m48 0h2m10 0h2m-232 1h2m103 0h2m12 0h2m18 0h2m8 0h2m14 0h2m22 0h2m25 0h2m-287 1h2m2 0h2m0 0h2m58 0h2m24 0h2m15 0h2m3 0h2m37 0h2m21 0h2m2 0h2m-1 0h2m36 0h2m31 0h2m5 0h2m12 0h2m66 0h2m-343 1h2m51 0h2m-2 0h2m0 0h2m2 0h2m-2 0h2m2 0h2m7 0h2m53 0h2m61 0h2m11 0h2m24 0h2m-1 0h2m27 0h2m2 0h2m30 0h2m13 0h2m36 0h2m-353 1h2m-2 0h2m64 0h2m10 0h2m73 0h2m7 0h2m22 0h2m3 0h2m0 0h2m16 0h2m2 0h2m-2 0h2m5 0h2m13 0h2m0 0h2m-2 0h2m88 0h2m3 0h2m-329 1h2m0 0h2m47 0h2m4 0h2m10 0h2m71 0h2m41 0h2m18 0h2m6 0h2m49 0h2m1 0h2m32 0h2m-247 1h2m33 0h2m5 0h2m29 0h2m-2 0h2m11 0h2m5 0h2m21 0h2m42 0h2m16 0h2m3 0h2m1 0h2m31 0h2m2 0h2m54 0h2m-340 1h2m51 0h2m-1 0h2m49 0h2m50 0h2m25 0h2m29 0h2m17 0h2m-2 0h2m12 0h2m17 0h2m16 0h2m5 0h2m5 0h2m-309 1h2m5 0h2m56 0h2m2 0h2m7 0h2m1 0h2m-1 0h2m32 0h2m63 0h2m29 0h2m3 0h2m11 0h2m27 0h2m3 0h2m3 0h2m17 0h2m-181 1h2m84 0h2m2 0h2m62 0h2m24 0h2m12 0h2m16 0h2m-313 1h2m0 0h2m54 0h2m0 0h2m0 0h2m118 0h2m10 0h2m19 0h2m6 0h2m51 0h2m12 0h2m11 0h2m-308 1h2m62 0h2m-2 0h2m11 0h2m138 0h2m-1 0h2m2 0h2m19 0h2m12 0h2m11 0h2m35 0h2m-305 1h2m63 0h2m6 0h2m4 0h2m31 0h2m61 0h2m2 0h2m19 0h2m-1 0h2m1 0h2m3 0h2m3 0h2m35 0h2m37 0h2m-1 0h2m-311 1h2m67 0h2m-2 0h2m0 0h2m0 0h2m-1 0h2m40 0h2m20 0h2m64 0h2m4 0h2m1 0h2m8 0h2m3 0h2m37 0h2m-255 1h2m61 0h2m19 0h2m36 0h2m41 0h2m57 0h2m23 0h2m76 0h2m-326 1h2m51 0h2m4 0h2m9 0h2m0 0h2m18 0h2m1 0h2m23 0h2m8 0h2m6 0h2m46 0h2m16 0h2m10 0h2m19 0h2m16 0h2m52 0h2m-325 1h2m69 0h2m-2 0h2m36 0h2m10 0h2m65 0h2m13 0h2m1 0h2m0 0h2m61 0h2m4 0h2m6 0h2m-276 1h2m88 0h2m17 0h2m43 0h2m19 0h2m67 0h2m-1 0h2m29 0h2m70 0h2m-355 1h2m65 0h2m2 0h2m34 0h2m28 0h2m107 0h2m35 0h2m-1 0h2m23 0h2m45 0h2m-354 1h2m57 0h2m-1 0h2m4 0h2m-1 0h2m15 0h2m13 0h2m33 0h2m74 0h2m4 0h2m80 0h2m-239 1h2m-1 0h2m0 0h2m7 0h2m11 0h2m5 0h2m4 0h2m101 0h2m11 0h2m10 0h2m4 0h2m30 0h2m18 0h2m-283 1h2m54 0h2m-1 0h2m10 0h2m2 0h2m12 0h2m-2 0h2m30 0h2m14 0h2m108 0h2m23 0h2m64 0h2m-347 1h2m5 0h2m58 0h2m0 0h2m-1 0h2m-2 0h2m10 0h2m9 0h2m58 0h2m67 0h2m52 0h2m33 0h2m-316 1h2m7 0h2m59 0h2m5 0h2m-1 0h2m2 0h2m19 0h2m43 0h2m155 0h2m-310 1h2m9 0h2m-1 0h2m0 0h2m221 0h2m3 0h2m-240 1h2m4 0h2m63 0h2m13 0h2m65 0h2m31 0h2m14 0h2m57 0h2m7 0h2m-2 0h2m-276 1h2m71 0h2m0 0h2m-1 0h2m12 0h2m25 0h2m88 0h2m32 0h2m4 0h2m15 0h2m-256 1h2m-1 0h2m0 0h2m57 0h2m13 0h2m-1 0h2m35 0h2m178 0h2m-302 1h2m68 0h2m4 0h2m33 0h2m11 0h2m65 0h2m35 0h2m12 0h2m23 0h2m-201 1h2m-1 0h2m12 0h2m0 0h2m4 0h2m122 0h2m16 0h2m2 0h2m22 0h2m4 0h2m12 0h2m33 0h2m-319 1h2m67 0h2m-1 0h2m0 0h2m6 0h2m2 0h2m4 0h2m230 0h2m-323 1h2m3 0h2m92 0h2m3 0h2m40 0h2m10 0h2m3 0h2m5 0h2m11 0h2m27 0h2m90 0h2m-304 1h2m0 0h2m-1 0h2m76 0h2m65 0h2m56 0h2m21 0h2m14 0h2m22 0h2m-268 1h2m68 0h2m4 0h2m-1 0h2m13 0h2m28 0h2m37 0h2m76 0h2m25 0h2m22 0h2m37 0h2m-336 1h2m2 0h2m0 0h2m-2 0h2m-1 0h2m67 0h2m20 0h2m12 0h2m10 0h2m64 0h2m-122 1h2m3 0h2m2 0h2m15 0h2m18 0h2m9 0h2m172 0h2m-207 1h2m1 0h2m130 0h2m1 0h2m103 0h2m-268 1h2m9 0h2m10 0h2m22 0h2m18 0h2m144 0h2m-215 1h2m2 0h2m0 0h2m6 0h2m1 0h2m1 0h2m21 0h2m29 0h2m111 0h2m-261 1h2m72 0h2m-1 0h2m-1 0h2m1 0h2m2 0h2m1 0h2m-1 0h2m-1 0h2m-2 0h2m-1 0h2m15 0h2m-1 0h2m2 0h2m67 0h2m-194 1h2m1 0h2m5 0h2m72 0h2m0 0h2m3 0h2m5 0h2m-1 0h2m-1 0h2m3 0h2m6 0h2m14 0h2m58 0h2m9 0h2m-191 1h2m73 0h2m0 0h2m5 0h2m20 0h2m0 0h2m186 0h2m-306 1h2m1 0h2m4 0h2m73 0h2m6 0h2m-1 0h2m3 0h2m5 0h2m15 0h2m2 0h2m6 0h2m-50 1h2m2 0h2m7 0h2m0 0h2m4 0h2m82 0h2m88 0h2m-279 1h2m77 0h2m-1 0h2m5 0h2m3 0h2m15 0h2m10 0h2m5 0h2m93 0h2m-221 1h2m0 0h2m72 0h2m-2 0h2m10 0h2m3 0h2m2 0h2m10 0h2m1 0h2m-125 1h2m91 0h2m7 0h2m8 0h2m3 0h2m6 0h2m6 0h2m122 0h2m13 0h2m-184 1h2m17 0h2m5 0h2m4 0h2m13 0h2m36 0h2m7 0h2m-1 0h2m-173 1h2m72 0h2m-1 0h2m1 0h2m3 0h2m0 0h2m8 0h2m2 0h2m10 0h2m3 0h2m21 0h2m64 0h2m45 0h2m-263 1h2m82 0h2m-2 0h2m2 0h2m-1 0h2m0 0h2m0 0h2m16 0h2m4 0h2m4 0h2m3 0h2m0 0h2m134 0h2m-168 1h2m3 0h2m7 0h2m1 0h2m61 0h2m-78 1h2m-2 0h2m19 0h2m-1 0h2m54 0h2m-194 1h2m8 0h2m6 0h2m76 0h2m14 0h2m5 0h2m1 0h2m12 0h2m11 0h2m27 0h2m61 0h2m58 0h2m-286 1h2m86 0h2m0 0h2m2 0h2m1 0h2m0 0h2m12 0h2m239 0h2m-390 1h2m31 0h2m80 0h2m16 0h2m5 0h2m10 0h2m-39 1h2m2 0h2m3 0h2m13 0h2m9 0h2m-25 1h2m-1 0h2m0 0h2m-1 0h2m52 0h2m62 0h2m-217 1h2m80 0h2m0 0h2m1 0h2m-1 0h2m1 0h2m15 0h2m-1 0h2m-121 1h2m6 0h2m0 0h2m81 0h2m0 0h2m-1 0h2m1 0h2m-2 0h2m0 0h2m1 0h2m1 0h2m1 0h2m23 0h2m9 0h2m-2 0h2m8 0h2m24 0h2m-179 1h2m0 0h2m1 0h2m83 0h2m-2 0h2m-1 0h2m9 0h2m6 0h2m14 0h2m93 0h2m-133 1h2m-2 0h2m0 0h2m-2 0h2m1 0h2m1 0h2m5 0h2m5 0h2m1 0h2m52 0h2m-204 1h2m25 0h2m9 0h2m88 0h2m14 0h2m6 0h2m1 0h2m14 0h2m-138 1h2m89 0h2m5 0h2m12 0h2m1 0h2m1 0h2m-1 0h2m53 0h2m-199 1h2m12 0h2m6 0h2m0 0h2m87 0h2m3 0h2m8 0h2m1 0h2m13 0h2m6 0h2m28 0h2m63 0h2m-135 1h2m-2 0h2m12 0h2m5 0h2m0 0h2m11 0h2m-1 0h2m-159 1h2m19 0h2m5 0h2m-1 0h2m91 0h2m9 0h2m5 0h2m5 0h2m4 0h2m0 0h2m1 0h2m10 0h2m-143 1h2m89 0h2m0 0h2m1 0h2m3 0h2m2 0h2m30 0h2m13 0h2m5 0h2m35 0h2m-225 1h2m116 0h2m1 0h2m1 0h2m-2 0h2m-1 0h2m2 0h2m-1 0h2m0 0h2m3 0h2m-1 0h2m0 0h2m-2 0h2m5 0h2m3 0h2m0 0h2m-130 1h2m-2 0h2m92 0h2m5 0h2m-1 0h2m5 0h2m-1 0h2m9 0h2m3 0h2m4 0h2m18 0h2m-180 1h2m18 0h2m3 0h2m0 0h2m90 0h2m3 0h2m-1 0h2m-1 0h2m3 0h2m1 0h2m21 0h2m0 0h2m37 0h2m-231 1h2m3 0h2m146 0h2m0 0h2m1 0h2m0 0h2m2 0h2m0 0h2m-1 0h2m8 0h2m0 0h2m2 0h2m0 0h2m1 0h2m16 0h2m10 0h2m-228 1h2m23 0h2m137 0h2m-1 0h2m-1 0h2m3 0h2m-2 0h2m0 0h2m2 0h2m11 0h2m15 0h2m14 0h2m-166 1h2m2 0h2m-1 0h2m-1 0h2m109 0h2m-1 0h2m8 0h2m3 0h2m6 0h2m16 0h2m5 0h2m-172 1h2m6 0h2m99 0h2m1 0h2m43 0h2m16 0h2m51 0h2m-263 1h2m148 0h2m0 0h2m-2 0h2m-1 0h2m7 0h2m1 0h2m9 0h2m5 0h2m-1 0h2m13 0h2m19 0h2m-181 1h2m98 0h2m0 0h2m13 0h2m1 0h2m3 0h2m12 0h2m11 0h2m73 0h2m-125 1h2m2 0h2m0 0h2m10 0h2m-2 0h2m2 0h2m1 0h2m19 0h2m10 0h2m0 0h2m18 0h2m11 0h2m-1 0h2m-202 1h2m107 0h2m-2 0h2m15 0h2m6 0h2m-134 1h2m102 0h2m3 0h2m9 0h2m1 0h2m8 0h2m1 0h2m4 0h2m13 0h2m11 0h2m-176 1h2m104 0h2m0 0h2m0 0h2m0 0h2m2 0h2m-1 0h2m-2 0h2m1 0h2m-2 0h2m12 0h2m1 0h2m-1 0h2m1 0h2m19 0h2m-57 1h2m7 0h2m2 0h2m-2 0h2m9 0h2m1 0h2m0 0h2m8 0h2m22 0h2m-204 1h2m0 0h2m18 0h2m12 0h2m103 0h2m3 0h2m0 0h2m9 0h2m6 0h2m2 0h2m0 0h2m12 0h2m-2 0h2m-178 1h2m2 0h2m19 0h2m105 0h2m41 0h2m1 0h2m21 0h2m-191 1h2m0 0h2m238 0h2m-265 1h2m9 0h2m14 0h2m1 0h2m107 0h2m-2 0h2m1 0h2m-1 0h2m-1 0h2m1 0h2m-1 0h2m0 0h2m-2 0h2m1 0h2m-1 0h2m1 0h2m-1 0h2m12 0h2m-2 0h2m3 0h2m-147 1h2m0 0h2m100 0h2m-1 0h2m0 0h2m14 0h2m-1 0h2m4 0h2m15 0h2m2 0h2m-178 1h2m24 0h2m-2 0h2m104 0h2m14 0h2m-2 0h2m4 0h2m0 0h2m-177 1h2m37 0h2m108 0h2m6 0h2m0 0h2m-2 0h2m11 0h2m13 0h2m34 0h2m0 0h2m-182 1h2m117 0h2m-1 0h2m0 0h2m-2 0h2m28 0h2m2 0h2m0 0h2m8 0h2m14 0h2m11 0h2m-242 1h2m37 0h2m108 0h2m-2 0h2m2 0h2m-1 0h2m2 0h2m3 0h2m-1 0h2m-2 0h2m1 0h2m4 0h2m16 0h2m11 0h2m-1 0h2m-206 1h2m-2 0h2m149 0h2m-2 0h2m-1 0h2m3 0h2m2 0h2m-1 0h2m14 0h2m0 0h2m3 0h2m-1 0h2m8 0h2m6 0h2m41 0h2m-227 1h2m123 0h2m2 0h2m-2 0h2m14 0h2m13 0h2m20 0h2m2 0h2m2 0h2m-67 1h2m5 0h2m27 0h2m8 0h2m5 0h2m-205 1h2m150 0h2m-2 0h2m-1 0h2m0 0h2m-1 0h2m-1 0h2m7 0h2m-1 0h2m0 0h2m1 0h2m3 0h2m3 0h2m-1 0h2m3 0h2m27 0h2m18 0h2m15 0h2m-242 1h2m27 0h2m106 0h2m1 0h2m3 0h2m2 0h2m0 0h2m-1 0h2m10 0h2m0 0h2m-1 0h2m17 0h2m4 0h2m8 0h2m-208 1h2m24 0h2m112 0h2m1 0h2m4 0h2m3 0h2m1 0h2m5 0h2m14 0h2m0 0h2m-2 0h2m2 0h2m82 0h2m-293 1h2m159 0h2m3 0h2m-2 0h2m10 0h2m-2 0h2m11 0h2m6 0h2m55 0h2m-221 1h2m5 0h2m2 0h2m115 0h2m6 0h2m-1 0h2m1 0h2m8 0h2m5 0h2m0 0h2m18 0h2m22 0h2m-228 1h2m18 0h2m14 0h2m0 0h2m110 0h2m0 0h2m-1 0h2m0 0h2m8 0h2m6 0h2m15 0h2m8 0h2m0 0h2m7 0h2m3 0h2m5 0h2m15 0h2m-225 1h2m19 0h2m108 0h2m5 0h2m-2 0h2m0 0h2m6 0h2m1 0h2m-1 0h2m78 0h2m-262 1h2m1 0h2m0 0h2m40 0h2m111 0h2m-1 0h2m-1 0h2m-1 0h2m5 0h2m2 0h2m-1 0h2m-2 0h2m1 0h2m0 0h2m12 0h2m-2 0h2m1 0h2m32 0h2m26 0h2m-229 1h2m16 0h2m109 0h2m2 0h2m3 0h2m24 0h2m0 0h2m0 0h2m3 0h2m20 0h2m4 0h2m-1 0h2m25 0h2m12 0h2m-240 1h2m-1 0h2m9 0h2m111 0h2m-1 0h2m4 0h2m-2 0h2m0 0h2m2 0h2m0 0h2m-2 0h2m3 0h2m-1 0h2m5 0h2m0 0h2m2 0h2m1 0h2m27 0h2m-220 1h2m34 0h2m1 0h2m-2 0h2m109 0h2m-2 0h2m4 0h2m5 0h2m-1 0h2m3 0h2m-2 0h2m6 0h2m0 0h2m-2 0h2m5 0h2m-1 0h2m2 0h2m-2 0h2m6 0h2m0 0h2m16 0h2m-195 1h2m122 0h2m0 0h2m-1 0h2m3 0h2m0 0h2m-2 0h2m11 0h2m2 0h2m20 0h2m3 0h2m-214 1h2m40 0h2m2 0h2m113 0h2m-1 0h2m-1 0h2m3 0h2m0 0h2m11 0h2m-1 0h2m23 0h2m22 0h2m-2 0h2m-215 1h2m137 0h2m5 0h2m12 0h2m4 0h2m-1 0h2m1 0h2m21 0h2m-1 0h2m-2 0h2m11 0h2m8 0h2m17 0h2m-224 1h2m124 0h2m0 0h2m0 0h2m0 0h2m3 0h2m3 0h2m5 0h2m2 0h2m8 0h2m-2 0h2m0 0h2m-2 0h2m2 0h2m-2 0h2m1 0h2m7 0h2m6 0h2m-188 1h2m122 0h2m2 0h2m2 0h2m11 0h2m2 0h2m3 0h2m0 0h2m10 0h2m8 0h2m1 0h2m1 0h2m-1 0h2m6 0h2m-208 1h2m1 0h2m1 0h2m9 0h2m1 0h2m130 0h2m1 0h2m0 0h2m1 0h2m7 0h2m5 0h2m1 0h2m-189 1h2m15 0h2m126 0h2m-1 0h2m13 0h2m-2 0h2m17 0h2m8 0h2m10 0h2m-202 1h2m141 0h2m4 0h2m0 0h2m-1 0h2m5 0h2m-2 0h2m34 0h2m9 0h2m-202 1h2m10 0h2m-1 0h2m3 0h2m122 0h2m1 0h2m0 0h2m-1 0h2m0 0h2m0 0h2m-2 0h2m1 0h2m-1 0h2m17 0h2m20 0h2m16 0h2m36 0h2m-256 1h2m17 0h2m118 0h2m0 0h2m5 0h2m-1 0h2m4 0h2m13 0h2m1 0h2m7 0h2m42 0h2m-231 1h2m10 0h2m127 0h2m-1 0h2m1 0h2m-1 0h2m-1 0h2m-2 0h2m4 0h2m2 0h2m6 0h2m16 0h2m2 0h2m-1 0h2m6 0h2m1 0h2m25 0h2m8 0h2m-238 1h2m19 0h2m0 0h2m118 0h2m-1 0h2m-2 0h2m-1 0h2m1 0h2m-1 0h2m4 0h2m10 0h2m3 0h2m8 0h2m10 0h2m-204 1h2m1 0h2m13 0h2m7 0h2m-1 0h2m-1 0h2m120 0h2m0 0h2m-1 0h2m-1 0h2m0 0h2m-2 0h2m-2 0h2m2 0h2m0 0h2m0 0h2m-2 0h2m5 0h2m-1 0h2m-1 0h2m-1 0h2m8 0h2m17 0h2m-2 0h2m14 0h2m2 0h2m24 0h2m-246 1h2m1 0h2m6 0h2m0 0h2m6 0h2m-1 0h2m122 0h2m7 0h2m-1 0h2m-1 0h2m2 0h2m21 0h2m0 0h2m4 0h2m16 0h2m-204 1h2m143 0h2m-1 0h2m2 0h2m3 0h2m-2 0h2m0 0h2m0 0h2m1 0h2m0 0h2m2 0h2m1 0h2m-1 0h2m0 0h2m-1 0h2m27 0h2m-200 1h2m3 0h2m-2 0h2m-1 0h2m126 0h2m-1 0h2m3 0h2m6 0h2m11 0h2m6 0h2m25 0h2m-217 1h2m1 0h2m147 0h2m2 0h2m8 0h2m0 0h2m-1 0h2m0 0h2m1 0h2m-2 0h2m7 0h2m1 0h2m9 0h2m7 0h2m-212 1h2m-1 0h2m29 0h2m131 0h2m-2 0h2m2 0h2m9 0h2m8 0h2m3 0h2m15 0h2m10 0h2m-210 1h2m8 0h2m131 0h2m-2 0h2m1 0h2m6 0h2m8 0h2m18 0h2m3 0h2m29 0h2m0 0h2m0 0h2m-235 1h2m19 0h2m-2 0h2m-1 0h2m128 0h2m0 0h2m-2 0h2m-1 0h2m1 0h2m5 0h2m-2 0h2m28 0h2m3 0h2m4 0h2m1 0h2m-233 1h2m34 0h2m-1 0h2m-1 0h2m5 0h2m-2 0h2m135 0h2m28 0h2m-1 0h2m6 0h2m-182 1h2m131 0h2m-2 0h2m0 0h2m0 0h2m2 0h2m11 0h2m5 0h2m0 0h2m-1 0h2m-30 1h2m1 0h2m2 0h2m6 0h2m-1 0h2m0 0h2m-1 0h2m1 0h2m6 0h2m13 0h2m17 0h2m-2 0h2m-231 1h2m1 0h2m6 0h2m3 0h2m5 0h2m3 0h2m0 0h2m130 0h2m1 0h2m7 0h2m9 0h2m2 0h2m9 0h2m0 0h2m5 0h2m14 0h2m-209 1h2m-1 0h2m10 0h2m131 0h2m-1 0h2m1 0h2m10 0h2m4 0h2m7 0h2m2 0h2m-1 0h2m4 0h2m-2 0h2m14 0h2m-233 1h2m-2 0h2m3 0h2m4 0h2m13 0h2m2 0h2m8 0h2m131 0h2m0 0h2m-2 0h2m1 0h2m3 0h2m1 0h2m0 0h2m7 0h2m37 0h2m14 0h2m-257 1h2m11 0h2m25 0h2m-1 0h2m143 0h2m2 0h2m-1 0h2m0 0h2m-1 0h2m-1 0h2m2 0h2m-1 0h2m0 0h2m8 0h2m36 0h2m-228 1h2m9 0h2m139 0h2m3 0h2m13 0h2m9 0h2m1 0h2m24 0h2m-200 1h2m137 0h2m3 0h2m18 0h2m11 0h2m1 0h2m0 0h2m-2 0h2m0 0h2m4 0h2m-216 1h2m1 0h2m13 0h2m144 0h2m-2 0h2m4 0h2m3 0h2m5 0h2m-1 0h2m8 0h2m-2 0h2m-186 1h2m5 0h2m-1 0h2m3 0h2m-2 0h2m0 0h2m138 0h2m1 0h2m7 0h2m5 0h2m14 0h2m-2 0h2m-2 0h2m3 0h2m-215 1h2m8 0h2m6 0h2m11 0h2m3 0h2m138 0h2m0 0h2m-1 0h2m-1 0h2m1 0h2m3 0h2m-1 0h2m3 0h2m3 0h2m2 0h2m1 0h2m29 0h2m-219 1h2m7 0h2m144 0h2m-1 0h2m0 0h2m0 0h2m15 0h2m-1 0h2m30 0h2m3 0h2m12 0h2m-216 1h2m137 0h2m5 0h2m-2 0h2m6 0h2m3 0h2m1 0h2m7 0h2m14 0h2m20 0h2m-224 1h2m157 0h2m-2 0h2m0 0h2m-1 0h2m6 0h2m22 0h2m1 0h2m4 0h2m-220 1h2m-1 0h2m23 0h2m143 0h2m2 0h2m12 0h2m5 0h2m-2 0h2m3 0h2m3 0h2m4 0h2m-228 1h2m35 0h2m0 0h2m1 0h2m-2 0h2m140 0h2m6 0h2m18 0h2m11 0h2m-210 1h2m3 0h2m160 0h2m-1 0h2m-1 0h2m-2 0h2m-1 0h2m4 0h2m11 0h2m9 0h2m1 0h2m-192 1h2m6 0h2m-2 0h2m144 0h2m5 0h2m-1 0h2m1 0h2m1 0h2m0 0h2m8 0h2m8 0h2m0 0h2m7 0h2m-1 0h2m-1 0h2m1 0h2m-206 1h2m2 0h2m149 0h2m-1 0h2m-2 0h2m2 0h2m0 0h2m0 0h2m4 0h2m1 0h2m-2 0h2m1 0h2m1 0h2m21 0h2m24 0h2m11 0h2m-249 1h2m4 0h2m8 0h2m-2 0h2m144 0h2m4 0h2m12 0h2m22 0h2m6 0h2m-54 1h2m-1 0h2m1 0h2m3 0h2m-2 0h2m-1 0h2m9 0h2m2 0h2m9 0h2m-211 1h2m17 0h2m2 0h2m148 0h2m4 0h2m9 0h2m4 0h2m1 0h2m4 0h2m-1 0h2m11 0h2m9 0h2m-228 1h2m7 0h2m11 0h2m-2 0h2m-1 0h2m147 0h2m0 0h2m-1 0h2m-1 0h2m2 0h2m2 0h2m15 0h2m5 0h2m-228 1h2m26 0h2m158 0h2m7 0h2m-2 0h2m13 0h2m2 0h2m-201 1h2m167 0h2m-2 0h2m-1 0h2m4 0h2m1 0h2m16 0h2m6 0h2m3 0h2m10 0h2m24 0h2m-257 1h2m0 0h2m26 0h2m-1 0h2m147 0h2m0 0h2m22 0h2m12 0h2m-1 0h2m-230 1h2m23 0h2m4 0h2m3 0h2m0 0h2m-2 0h2m143 0h2m-2 0h2m1 0h2m-2 0h2m2 0h2m9 0h2m7 0h2m12 0h2m5 0h2m31 0h2m-252 1h2m14 0h2m2 0h2m-1 0h2m1 0h2m149 0h2m11 0h2m11 0h2m5 0h2m-212 1h2m23 0h2m-2 0h2m-1 0h2m142 0h2m0 0h2m-1 0h2m13 0h2m8 0h2m-1 0h2m35 0h2m-2 0h2m-217 1h2m1 0h2m-2 0h2m144 0h2m0 0h2m5 0h2m-1 0h2m1 0h2m20 0h2m11 0h2m-194 1h2m142 0h2m1 0h2m3 0h2m2 0h2m2 0h2m1 0h2m-2 0h2m-1 0h2m2 0h2m5 0h2m2 0h2m2 0h2m-204 1h2m10 0h2m0 0h2m2 0h2m142 0h2m-1 0h2m2 0h2m-1 0h2m8 0h2m-1 0h2m-1 0h2m72 0h2m-238 1h2m141 0h2m4 0h2m17 0h2m0 0h2m0 0h2m-1 0h2m-206 1h2m5 0h2m21 0h2m156 0h2m0 0h2m-2 0h2m-1 0h2m3 0h2m5 0h2m16 0h2m-224 1h2m15 0h2m11 0h2m1 0h2m138 0h2m2 0h2m6 0h2m3 0h2m3 0h2m-1 0h2m7 0h2m0 0h2m-204 1h2m5 0h2m6 0h2m11 0h2m136 0h2m-2 0h2m4 0h2m14 0h2m6 0h2m18 0h2m-235 1h2m8 0h2m0 0h2m-1 0h2m6 0h2m24 0h2m133 0h2m4 0h2m-2 0h2m10 0h2m0 0h2m3 0h2m2 0h2m-190 1h2m6 0h2m1 0h2m-2 0h2m7 0h2m2 0h2m134 0h2m7 0h2m1 0h2m-1 0h2m11 0h2m-170 1h2m2 0h2m-1 0h2m130 0h2m-1 0h2m5 0h2m-1 0h2m0 0h2m2 0h2m1 0h2m19 0h2m13 0h2m-1 0h2m-205 1h2m1 0h2m0 0h2m8 0h2m131 0h2m3 0h2m9 0h2m37 0h2m16 0h2m-228 1h2m6 0h2m6 0h2m138 0h2m14 0h2m9 0h2m16 0h2m5 0h2m7 0h2m-26 1h2m10 0h2m28 0h2m-227 1h2m135 0h2m21 0h2m2 0h2m2 0h2m11 0h2m-25 1h2m7 0h2m1 0h2m60 0h2m-238 1h2m7 0h2m-1 0h2m2 0h2m128 0h2m12 0h2m0 0h2m10 0h2m-1 0h2m14 0h2m0 0h2m-1 0h2m11 0h2m-191 1h2m-1 0h2m130 0h2m1 0h2m-1 0h2m2 0h2m3 0h2m17 0h2m-2 0h2m18 0h2m15 0h2m-224 1h2m3 0h2m5 0h2m-1 0h2m2 0h2m1 0h2m-1 0h2m-2 0h2m118 0h2m1 0h2m-2 0h2m9 0h2m21 0h2m1 0h2m48 0h2m-234 1h2m11 0h2m8 0h2m-2 0h2m119 0h2m-2 0h2m5 0h2m-1 0h2m13 0h2m-1 0h2m3 0h2m7 0h2m-2 0h2m-188 1h2m147 0h2m-2 0h2m2 0h2m1 0h2m-1 0h2m2 0h2m5 0h2m25 0h2m3 0h2m-197 1h2m161 0h2m4 0h2m14 0h2m-176 1h2m-2 0h2m8 0h2m0 0h2m109 0h2m2 0h2m10 0h2m-1 0h2m-1 0h2m0 0h2m-134 1h2m110 0h2m13 0h2m20 0h2m20 0h2m-171 1h2m115 0h2m-1 0h2m39 0h2m17 0h2m-1 0h2m-213 1h2m135 0h2m4 0h2m4 0h2m2 0h2m3 0h2m20 0h2m-149 1h2m102 0h2m4 0h2m-2 0h2m13 0h2m4 0h2m27 0h2m9 0h2m0 0h2m-189 1h2m4 0h2m2 0h2m103 0h2m0 0h2m1 0h2m22 0h2m15 0h2m1 0h2m17 0h2m21 0h2m1 0h2m-215 1h2m12 0h2m1 0h2m140 0h2m0 0h2m16 0h2m-203 1h2m33 0h2m131 0h2m16 0h2m30 0h2m29 0h2m-233 1h2m15 0h2m3 0h2m109 0h2m7 0h2m12 0h2m0 0h2m1 0h2m11 0h2m27 0h2m-207 1h2m10 0h2m0 0h2m3 0h2m100 0h2m3 0h2m88 0h2m-209 1h2m4 0h2m10 0h2m101 0h2m45 0h2m8 0h2m-187 1h2m8 0h2m9 0h2m-1 0h2m-1 0h2m106 0h2m9 0h2m14 0h2m0 0h2m-2 0h2m56 0h2m-201 1h2m91 0h2m-1 0h2m2 0h2m-2 0h2m10 0h2m5 0h2m14 0h2m13 0h2m3 0h2m0 0h2m6 0h2m4 0h2m47 0h2m-231 1h2m18 0h2m79 0h2m1 0h2m19 0h2m17 0h2m-1 0h2m9 0h2m22 0h2m10 0h2m-70 1h2m24 0h2m19 0h2m15 0h2m25 0h2m-209 1h2m8 0h2m-1 0h2m-1 0h2m75 0h2m26 0h2m12 0h2m12 0h2m11 0h2m-173 1h2m-2 0h2m-1 0h2m11 0h2m11 0h2m73 0h2m-86 1h2m79 0h2m-2 0h2m3 0h2m2 0h2m44 0h2m10 0h2m6 0h2m4 0h2m-210 1h2m54 0h2m3 0h2m62 0h2m-1 0h2m36 0h2m27 0h2m6 0h2m-1 0h2m29 0h2m-175 1h2m0 0h2m105 0h2m12 0h2m-148 1h2m20 0h2m59 0h2m3 0h2m-1 0h2m16 0h2m-96 1h2m5 0h2m57 0h2m21 0h2m0 0h2m50 0h2m14 0h2m15 0h2m-174 1h2m1 0h2m1 0h2m61 0h2m29 0h2m18 0h2m-150 1h2m33 0h2m0 0h2m86 0h2m45 0h2m15 0h2m10 0h2m-182 1h2m11 0h2m11 0h2m5 0h2m79 0h2m28 0h2m-135 1h2m8 0h2m16 0h2m-1 0h2m3 0h2m4 0h2m-2 0h2m2 0h2m25 0h2m49 0h2m-166 1h2m63 0h2m0 0h2m1 0h2m6 0h2m4 0h2m6 0h2m-2 0h2m4 0h2m7 0h2m22 0h2m21 0h2m24 0h2m32 0h2m-175 1h2m11 0h2m13 0h2m26 0h2m6 0h2m56 0h2m49 0h2m-207 1h2m23 0h2m5 0h2m12 0h2m12 0h2m31 0h2m-62 1h2m9 0h2m-1 0h2m-1 0h2m-2 0h2m27 0h2m4 0h2m16 0h2m18 0h2m29 0h2m33 0h2m9 0h2m-209 1h2m42 0h2m27 0h2m99 0h2m1 0h2m-99 1h2m12 0h2m17 0h2m12 0h2m6 0h2m74 0h2m46 0h2m-258 1h2m54 0h2m33 0h2m7 0h2m79 0h2m4 0h2m-170 1h2m32 0h2m119 1h2m-96 1h2m116 0h2m-179 1h2m42 0h2m148 0h2m-212 1h2m146 0h2m9 0h2m-168 1h2m91 0h2m1 0h2m12 0h2m54 2h2m-86 1h2m135 0h2m-198 1h2m-33 1h2m10 0h2m93 0h2m54 0h2m-9 2h2m26 2h2m22 1h2m-199 1h2m181 1h2m-25 3h2m10 1h2m-43 2h2m8 1h2m-9 1h2m26 3h2m14 0h2m-168 1h2m186 0h2m2 1h2m-38 14h2m30 3h2m-199 3h2" stroke="#1a1a1a" stroke-width="2.5" fill="none"/><path d="M1181 1362h2m25 1h2m-26 9h2m29 0h2m-2 2h2m-20 2h2m-18 1h2m31 0h2m-5 4h2m175 0h2m-185 1h2m13 2h2m-24 2h2m19 3h2m31 0h2m26 0h2m-69 1h2m16 0h2m-39 2h2m48 0h2m-46 3h2m-18 3h2m3 0h2m21 0h2m17 0h2m-13 1h2m0 0h2m-48 1h2m37 0h2m-21 1h2m18 0h2m-1 0h2m-6 1h2m-14 1h2m4 0h2m5 0h2m-1 0h2m-26 1h2m46 1h2m-45 1h2m6 0h2m-17 1h2m6 0h2m4 0h2m6 0h2m-35 1h2m36 1h2m-31 1h2m11 0h2m20 0h2m27 0h2m-85 1h2m1 1h2m23 1h2m24 0h2m14 0h2m-49 1h2m-1 0h2m-9 1h2m12 0h2m0 0h2m-9 2h2m15 0h2m-12 1h2m39 1h2m-43 1h2m-22 1h2m-6 1h2m1 0h2m-1 0h2m11 0h2m10 0h2m-2 0h2m-41 1h2m48 0h2m-26 1h2m18 0h2m14 0h2m-30 1h2m24 0h2m1 0h2m-29 1h2m10 0h2m-37 1h2m9 0h2m31 0h2m-27 1h2m3 0h2m12 0h2m-23 1h2m17 0h2m-39 1h2m14 0h2m2 0h2m-1 0h2m0 0h2m0 0h2m6 0h2m11 0h2m-8 1h2m-51 1h2m45 0h2m7 0h2m-42 1h2m2 0h2m14 0h2m2 0h2m1 0h2m-39 1h2m9 0h2m13 0h2m-1 0h2m1 0h2m7 0h2m16 0h2m-23 1h2m3 0h2m-16 1h2m14 0h2m-16 1h2m-2 0h2m9 0h2m-44 1h2m10 0h2m3 0h2m14 0h2m-22 1h2m2 0h2m12 0h2m-44 1h2m22 1h2m13 0h2m4 0h2m236 0h2m-242 1h2m18 0h2m-58 2h2m17 0h2m4 0h2m1 0h2m9 0h2m30 0h2m-62 1h2m2 0h2m2 0h2m11 0h2m1 0h2m-16 1h2m6 0h2m3 0h2m-20 1h2m12 0h2m1 0h2m-14 1h2m6 0h2m-1 0h2m22 0h2m-1 0h2m-6 1h2m-42 1h2m16 0h2m4 0h2m8 0h2m7 0h2m-55 1h2m10 0h2m23 0h2m1 0h2m12 0h2m-63 1h2m2 0h2m25 0h2m3 0h2m0 0h2m-31 1h2m13 0h2m4 0h2m9 0h2m16 0h2m39 0h2m-55 1h2m8 0h2m-30 1h2m27 0h2m-60 1h2m19 0h2m1 0h2m17 0h2m-2 0h2m2 0h2m-2 0h2m6 0h2m237 0h2m-297 1h2m17 0h2m16 0h2m7 0h2m0 0h2m20 0h2m146 0h2m-185 1h2m6 0h2m-46 1h2m6 0h2m1 0h2m14 0h2m1 0h2m0 0h2m1 0h2m-1 0h2m13 0h2m-8 1h2m6 0h2m-2 0h2m0 0h2m4 0h2m195 0h2m24 0h2m-254 1h2m12 0h2m4 0h2m-1 0h2m6 0h2m-42 1h2m27 0h2m-19 1h2m7 0h2m3 0h2m0 0h2m0 0h2m7 0h2m-28 1h2m16 0h2m16 1h2m-40 1h2m1 0h2m17 0h2m179 0h2m8 0h2m-183 1h2m-2 1h2m1 0h2m125 0h2m95 0h2m-261 1h2m7 0h2m19 0h2m-1 0h2m25 0h2m-63 1h2m9 0h2m223 0h2m-253 1h2m47 0h2m15 0h2m241 0h2m-278 1h2m16 0h2m151 0h2m7 0h2m-192 1h2m3 0h2m8 0h2m31 0h2m160 0h2m89 0h2m-320 1h2m6 0h2m-1 0h2m-1 0h2m4 0h2m1 0h2m16 0h2m3 0h2m28 0h2m97 0h2m43 0h2m11 0h2m33 0h2m-269 1h2m14 0h2m1 0h2m8 0h2m5 0h2m0 0h2m3 0h2m-29 1h2m1 0h2m37 0h2m111 0h2m76 0h2m22 0h2m-247 1h2m4 0h2m-2 0h2m26 0h2m162 0h2m33 0h2m39 0h2m-288 1h2m5 0h2m9 0h2m3 0h2m1 0h2m207 0h2m1 0h2m61 0h2m-328 1h2m12 0h2m1 0h2m20 0h2m-19 1h2m0 0h2m3 0h2m27 0h2m30 0h2m127 0h2m24 0h2m85 0h2m-309 1h2m20 0h2m192 0h2m32 0h2m-242 1h2m0 0h2m179 0h2m24 0h2m85 0h2m-311 1h2m9 0h2m10 0h2m6 0h2m58 0h2m78 0h2m67 0h2m18 0h2m-272 1h2m1 0h2m3 0h2m-2 0h2m127 0h2m53 0h2m77 0h2m18 0h2m-297 1h2m3 0h2m192 0h2m28 0h2m-222 1h2m27 0h2m175 0h2m-219 1h2m38 0h2m134 0h2m27 0h2m66 0h2m-276 1h2m6 0h2m33 0h2m256 0h2m-249 1h2m14 0h2m140 0h2m17 0h2m53 0h2m9 0h2m24 0h2m-226 1h2m53 0h2m79 0h2m18 0h2m-260 1h2m3 0h2m194 0h2m41 0h2m-1 0h2m-186 1h2m246 0h2m26 0h2m-284 1h2m9 0h2m3 0h2m20 0h2m130 0h2m4 0h2m-32 1h2m33 0h2m-187 1h2m134 0h2m17 0h2m61 0h2m23 0h2m14 0h2m1 0h2m-257 1h2m169 0h2m72 0h2m6 0h2m-323 1h2m77 0h2m31 0h2m141 0h2m17 0h2m53 0h2m-267 1h2m101 0h2m119 0h2m20 0h2m-73 1h2m3 0h2m58 0h2m-300 1h2m7 0h2m48 0h2m146 0h2m3 0h2m34 0h2m36 0h2m-224 1h2m106 0h2m31 0h2m3 0h2m20 0h2m65 0h2m-292 1h2m64 0h2m7 0h2m132 0h2m45 0h2m-23 1h2m18 0h2m-57 1h2m62 0h2m40 0h2m-260 1h2m0 0h2m17 0h2m2 0h2m12 0h2m71 0h2m2 0h2m8 0h2m45 0h2m-1 0h2m16 0h2m2 0h2m36 0h2m69 0h2m-365 1h2m251 0h2m19 0h2m-268 1h2m68 0h2m116 0h2m65 0h2m68 0h2m-130 1h2m-199 1h2m64 0h2m4 0h2m3 0h2m6 0h2m156 0h2m51 0h2m9 0h2m-237 1h2m146 0h2m-1 0h2m73 0h2m-301 1h2m51 0h2m183 0h2m-51 1h2m15 0h2m50 0h2m-262 1h2m85 0h2m102 0h2m5 0h2m10 0h2m27 0h2m23 0h2m-210 1h2m202 0h2m77 0h2m5 0h2m-261 1h2m0 0h2m1 0h2m45 0h2m57 0h2m65 0h2m46 0h2m-256 1h2m43 0h2m0 0h2m101 0h2m-206 1h2m49 0h2m31 0h2m20 0h2m89 0h2m31 0h2m3 0h2m102 0h2m-344 1h2m80 0h2m1 0h2m9 0h2m115 0h2m45 0h2m-185 1h2m-77 1h2m51 0h2m20 0h2m-1 0h2m-1 0h2m9 0h2m123 0h2m45 0h2m29 0h2m-297 1h2m59 0h2m8 0h2m4 0h2m4 0h2m47 0h2m27 0h2m15 0h2m18 0h2m28 0h2m-170 1h2m161 0h2m-231 1h2m67 0h2m12 0h2m117 0h2m25 0h2m-1 0h2m-167 1h2m3 0h2m6 0h2m149 0h2m16 0h2m-151 1h2m78 0h2m3 0h2m82 0h2m41 0h2m-245 1h2m86 0h2m56 0h2m41 0h2m37 0h2m-196 1h2m153 0h2m-184 1h2m1 0h2m97 0h2m85 0h2m29 0h2m-220 1h2m125 0h2m33 0h2m-162 1h2m156 0h2m44 0h2m7 0h2m-226 1h2m0 0h2m11 0h2m11 0h2m213 0h2m-309 1h2m83 0h2m9 0h2m3 1h2m73 0h2m90 0h2m-197 1h2m174 0h2m-280 1h2m112 0h2m5 0h2m36 0h2m189 0h2m-216 1h2m136 0h2m-267 1h2m86 0h2m1 0h2m-1 0h2m14 0h2m104 0h2m88 0h2m-214 1h2m-74 1h2m-1 0h2m-1 0h2m65 0h2m-2 0h2m0 0h2m7 0h2m40 0h2m6 0h2m-49 1h2m26 0h2m-114 1h2m96 0h2m-1 0h2m20 0h2m1 0h2m-7 1h2m16 0h2m-52 1h2m4 0h2m-1 0h2m55 0h2m110 0h2m-175 1h2m16 0h2m0 0h2m81 0h2m-193 1h2m72 0h2m90 0h2m22 0h2m-203 1h2m82 0h2m2 0h2m1 0h2m-11 1h2m0 0h2m12 0h2m-95 1h2m76 0h2m10 0h2m65 0h2m-202 1h2m30 0h2m90 0h2m4 0h2m4 0h2m4 0h2m38 0h2m10 0h2m63 0h2m-100 1h2m70 0h2m-112 1h2m2 0h2m14 0h2m-18 1h2m-1 0h2m-2 0h2m-88 1h2m99 0h2m-1 0h2m30 0h2m127 0h2m21 0h2m-308 1h2m12 0h2m85 0h2m2 0h2m2 0h2m12 0h2m16 0h2m-130 1h2m108 0h2m40 0h2m12 0h2m5 0h2m102 0h2m-308 1h2m38 0h2m80 0h2m7 0h2m0 0h2m1 0h2m2 0h2m2 0h2m27 0h2m30 0h2m54 0h2m-281 1h2m49 0h2m88 0h2m13 0h2m36 1h2m11 0h2m-156 1h2m84 0h2m38 0h2m-165 1h2m32 0h2m96 0h2m2 1h2m-1 0h2m-1 0h2m32 0h2m-46 1h2m3 0h2m-93 1h2m95 0h2m45 0h2m-146 1h2m91 0h2m7 0h2m36 0h2m2 0h2m0 0h2m-182 1h2m118 0h2m-121 1h2m127 0h2m25 0h2m38 0h2m-74 1h2m2 0h2m4 0h2m16 0h2m40 0h2m-72 2h2m10 0h2m-1 0h2m4 0h2m5 0h2m-9 1h2m56 0h2m-74 1h2m-1 0h2m10 0h2m25 0h2m7 0h2m-150 1h2m100 0h2m-2 0h2m7 0h2m7 0h2m-27 1h2m-1 0h2m-1 0h2m8 0h2m50 0h2m-65 1h2m-1 0h2m4 0h2m11 0h2m-117 1h2m108 0h2m12 0h2m0 0h2m3 0h2m-29 1h2m-1 0h2m12 0h2m9 0h2m2 0h2m45 0h2m-79 1h2m2 0h2m0 0h2m-2 0h2m9 0h2m32 0h2m30 0h2m-207 1h2m9 0h2m3 0h2m118 0h2m30 0h2m-51 1h2m29 0h2m9 0h2m-46 1h2m12 0h2m7 1h2m-22 1h2m0 0h2m0 0h2m6 0h2m2 0h2m6 0h2m4 0h2m-164 1h2m127 0h2m42 0h2m-35 1h2m2 0h2m-16 1h2m-2 0h2m-1 0h2m-133 1h2m139 0h2m1 0h2m-1 0h2m2 0h2m4 0h2m0 0h2m-172 1h2m39 0h2m100 0h2m18 0h2m-1 0h2m80 0h2m-103 1h2m35 0h2m-29 1h2m3 0h2m-177 1h2m218 0h2m-45 1h2m2 0h2m49 0h2m6 0h2m-194 1h2m189 0h2m-217 1h2m27 0h2m121 0h2m5 0h2m13 0h2m22 0h2m14 0h2m-81 1h2m3 0h2m1 0h2m2 0h2m5 0h2m0 0h2m23 0h2m9 0h2m-50 1h2m66 0h2m-71 1h2m-1 0h2m7 0h2m3 0h2m0 0h2m12 0h2m38 0h2m-77 1h2m6 0h2m12 0h2m-2 0h2m9 0h2m8 0h2m2 0h2m17 0h2m-178 1h2m-1 0h2m104 0h2m27 0h2m25 0h2m13 0h2m-221 1h2m32 0h2m111 0h2m-1 0h2m3 0h2m29 0h2m1 0h2m3 0h2m32 0h2m-218 1h2m8 0h2m-1 0h2m16 0h2m144 0h2m6 0h2m-2 0h2m25 0h2m4 0h2m-80 1h2m-1 0h2m14 0h2m1 0h2m44 0h2m-65 1h2m1 0h2m-122 1h2m113 0h2m4 0h2m-1 0h2m-2 0h2m1 0h2m13 0h2m94 0h2m-122 1h2m2 0h2m-2 0h2m20 0h2m12 0h2m104 0h2m-295 1h2m144 0h2m7 0h2m3 0h2m5 0h2m10 0h2m-192 1h2m36 0h2m117 0h2m1 0h2m10 1h2m-1 0h2m10 0h2m30 0h2m-179 1h2m125 0h2m-2 0h2m0 0h2m7 0h2m43 0h2m-210 1h2m1 0h2m23 0h2m124 0h2m9 0h2m9 0h2m25 0h2m-1 0h2m-196 1h2m19 0h2m118 0h2m17 0h2m20 0h2m28 0h2m-248 1h2m172 0h2m14 0h2m4 0h2m20 0h2m-189 1h2m6 0h2m134 0h2m28 0h2m-158 1h2m123 0h2m4 0h2m55 0h2m-64 1h2m15 0h2m17 0h2m15 0h2m-186 1h2m125 0h2m-2 0h2m-2 0h2m35 0h2m12 0h2m-200 1h2m6 0h2m138 0h2m21 0h2m2 0h2m-29 1h2m15 0h2m18 0h2m3 0h2m-197 1h2m25 0h2m124 0h2m10 0h2m0 0h2m8 0h2m13 0h2m25 0h2m6 0h2m-2 0h2m-202 1h2m4 0h2m121 0h2m4 0h2m1 0h2m9 0h2m-171 1h2m148 0h2m1 0h2m1 0h2m53 0h2m-226 1h2m166 0h2m11 0h2m14 0h2m11 0h2m-2 0h2m-47 1h2m0 0h2m-1 0h2m-2 0h2m43 0h2m-179 1h2m136 0h2m9 0h2m-1 0h2m29 0h2m-221 1h2m6 0h2m4 0h2m151 0h2m7 0h2m11 0h2m20 0h2m-30 1h2m6 0h2m5 0h2m11 0h2m-45 1h2m19 0h2m4 0h2m51 0h2m-86 1h2m2 0h2m28 0h2m9 0h2m14 0h2m-209 1h2m153 0h2m16 0h2m12 0h2m-221 1h2m177 0h2m6 0h2m-1 0h2m0 0h2m-158 1h2m8 0h2m5 0h2m127 0h2m1 0h2m-1 0h2m4 0h2m2 0h2m1 0h2m1 0h2m-1 0h2m7 0h2m15 0h2m19 0h2m-238 1h2m178 0h2m19 0h2m3 0h2m-32 1h2m-1 0h2m-1 0h2m11 0h2m7 0h2m33 0h2m-224 1h2m8 0h2m148 0h2m2 0h2m6 0h2m-11 1h2m16 0h2m9 0h2m-1 0h2m-1 0h2m4 0h2m-41 1h2m-1 0h2m-2 0h2m2 0h2m-2 0h2m-1 0h2m-1 0h2m15 0h2m9 0h2m192 0h2m-380 1h2m152 0h2m18 0h2m10 0h2m-199 1h2m157 0h2m8 0h2m7 0h2m-188 1h2m13 0h2m162 0h2m2 0h2m1 0h2m-179 1h2m161 0h2m41 0h2m-201 1h2m10 0h2m163 0h2m17 0h2m-202 1h2m4 0h2m8 0h2m145 0h2m38 0h2m-1 0h2m48 0h2m-96 1h2m0 0h2m21 0h2m-18 1h2m-7 1h2m2 0h2m58 0h2m-214 1h2m142 0h2m11 0h2m0 0h2m7 0h2m6 0h2m-179 1h2m156 0h2m23 0h2m2 0h2m-2 0h2m1 0h2m37 0h2m-83 1h2m1 0h2m1 0h2m1 0h2m4 0h2m5 0h2m-28 1h2m-160 1h2m159 1h2m-150 1h2m145 0h2m22 0h2m-1 0h2m-173 1h2m145 0h2m-1 0h2m0 0h2m10 0h2m75 0h2m-271 1h2m13 0h2m162 0h2m5 0h2m2 1h2m-2 0h2m-1 0h2m-163 1h2m151 0h2m-1 0h2m1 0h2m37 0h2m-52 1h2m18 0h2m0 0h2m-194 1h2m168 0h2m20 0h2m-172 1h2m163 0h2m8 0h2m3 0h2m-193 1h2m10 1h2m143 0h2m10 0h2m4 0h2m15 0h2m-31 1h2m6 0h2m9 0h2m-174 1h2m152 0h2m10 0h2m4 0h2m-208 1h2m35 0h2m0 0h2m-2 0h2m152 0h2m-1 0h2m12 0h2m11 0h2m12 0h2m-34 1h2m0 0h2m10 0h2m-179 1h2m132 0h2m0 0h2m10 0h2m6 0h2m14 0h2m5 0h2m-213 1h2m26 0h2m139 0h2m3 0h2m8 0h2m8 0h2m11 0h2m2 0h2m-186 1h2m163 0h2m-19 1h2m-145 1h2m158 0h2m-161 1h2m126 0h2m21 0h2m-19 1h2m44 0h2m-59 1h2m13 0h2m9 0h2m27 0h2m-53 1h2m3 0h2m37 0h2m4 0h2m5 0h2m-53 1h2m14 0h2m2 0h2m-2 0h2m21 0h2m-202 1h2m0 0h2m21 0h2m124 0h2m16 0h2m-18 1h2m37 0h2m-1 0h2m-171 1h2m145 0h2m-2 0h2m17 0h2m-182 1h2m14 0h2m125 0h2m18 0h2m-165 1h2m13 0h2m110 0h2m63 0h2m-57 1h2m20 0h2m66 0h2m-243 1h2m140 0h2m45 0h2m-161 1h2m104 0h2m1 0h2m7 0h2m12 0h2m-17 1h2m16 0h2m-11 1h2m6 0h2m-1 0h2m6 0h2m12 0h2m-200 1h2m169 0h2m5 0h2m4 0h2m35 0h2m-205 1h2m137 0h2m41 0h2m-64 1h2m6 0h2m28 0h2m-185 1h2m179 0h2m-165 2h2m122 0h2m-88 1h2m83 0h2m3 0h2m32 0h2m-130 1h2m85 0h2m55 0h2m36 0h2m-182 1h2m87 0h2m33 0h2m21 0h2m21 0h2m-88 1h2m-106 1h2m24 0h2m70 0h2m-71 1h2m69 0h2m7 0h2m38 0h2m-123 1h2m0 0h2m161 0h2m-194 1h2m20 0h2m74 0h2m96 0h2m72 0h2m-257 1h2m74 0h2m-64 1h2m142 0h2m-136 1h2m44 0h2m11 0h2m-56 1h2m146 0h2m112 0h2m-260 1h2m29 0h2m8 0h2m61 0h2m-111 1h2m13 0h2m21 0h2m57 0h2m-139 1h2m52 0h2m18 0h2m0 0h2m-18 1h2m2 1h2m8 0h2m-39 1h2m11 0h2m42 0h2m66 0h2m108 0h2m110 0h2m-312 1h2m6 0h2m5 0h2m-51 1h2m15 0h2m92 0h2m67 0h2m-202 1h2m32 1h2m-65 1h2m10 0h2m58 3h2m-65 3h2m177 0h2m-23 1h2m28 0h2m-6 1h2m-15 10h2m31 6h2m-187 3h2m309 22h2" stroke="#707070" stroke-width="2.5" fill="none"/>
<clipPath id="cE3"><use href="#oE3"/></clipPath>
<g clip-path="url(#cE3)"><g filter="url(#bl)"><rect x="1137" y="1477" width="157" height="233" fill="#0000ff"/><path d="M1204 1703 1186 1703 1185 1702 1180 1702 1179 1701 1176 1701 1172 1699 1170 1699 1159 1693 1154 1688 1149 1679 1147 1669 1146 1668 1146 1664 1145 1663 1145 1655 1144 1654 1145 1639 1150 1628 1151 1623 1153 1620 1154 1615 1156 1612 1157 1607 1159 1603 1159 1600 1160 1599 1160 1596 1161 1595 1162 1585 1163 1584 1163 1580 1164 1579 1164 1574 1165 1573 1165 1569 1166 1568 1166 1563 1167 1562 1167 1557 1168 1556 1168 1552 1169 1551 1169 1547 1171 1542 1171 1539 1172 1538 1172 1535 1173 1534 1173 1530 1175 1525 1175 1522 1176 1521 1178 1505 1181 1498 1185 1491 1190 1487 1195 1485 1206 1485 1209 1486 1215 1490 1220 1497 1222 1504 1224 1514 1230 1531 1230 1533 1238 1549 1255 1575 1260 1584 1262 1603 1266 1616 1283 1654 1280 1658 1263 1672 1248 1685 1224 1698 1222 1698 1219 1700 1216 1700 1215 1701 1205 1702 1204 1703Z" fill="#0019ff" fill-rule="evenodd"/><path d="M1204 1703 1186 1703 1185 1702 1180 1702 1179 1701 1176 1701 1172 1699 1170 1699 1162 1695 1156 1688 1152 1678 1149 1666 1147 1652 1148 1641 1159 1603 1164 1575 1171 1548 1187 1500 1190 1495 1196 1492 1204 1492 1207 1493 1210 1495 1214 1499 1219 1516 1226 1535 1235 1552 1250 1578 1253 1585 1256 1604 1259 1618 1272 1652 1246 1681 1232 1694 1219 1700 1212 1701 1211 1702 1205 1702 1204 1703Z" fill="#002aff" fill-rule="evenodd"/><path d="M1204 1703 1186 1703 1185 1702 1180 1702 1171 1697 1164 1691 1159 1685 1156 1676 1153 1665 1152 1651 1153 1639 1163 1604 1169 1576 1176 1550 1183 1533 1192 1516 1196 1509 1201 1505 1204 1509 1212 1522 1239 1574 1244 1586 1254 1647 1251 1657 1246 1668 1241 1676 1233 1687 1218 1699 1211 1702 1205 1702 1204 1703Z" fill="#0044ff" fill-rule="evenodd"/><path d="M1202 1701 1190 1701 1182 1699 1175 1695 1168 1689 1164 1683 1160 1675 1158 1664 1157 1651 1159 1635 1178 1567 1183 1556 1189 1546 1195 1540 1201 1538 1207 1542 1215 1552 1223 1566 1230 1581 1234 1593 1236 1605 1240 1644 1239 1656 1237 1666 1234 1674 1229 1682 1224 1689 1217 1695 1209 1699 1202 1701Z" fill="#005cff" fill-rule="evenodd"/><path d="M1201 1697 1189 1697 1179 1693 1173 1688 1167 1681 1164 1674 1162 1664 1161 1656 1162 1645 1164 1637 1182 1585 1187 1575 1191 1570 1195 1567 1200 1566 1205 1567 1210 1572 1215 1580 1220 1591 1224 1604 1229 1629 1231 1651 1229 1668 1226 1676 1223 1682 1219 1687 1212 1693 1201 1697Z" fill="#007dff" fill-rule="evenodd"/><path d="M1201 1693 1195 1694 1189 1693 1181 1690 1175 1685 1170 1679 1167 1673 1165 1666 1164 1657 1166 1643 1172 1628 1189 1601 1194 1596 1198 1594 1202 1595 1205 1598 1212 1608 1223 1634 1225 1643 1227 1652 1225 1666 1220 1679 1215 1685 1211 1689 1201 1693Z" fill="#00a0ff" fill-rule="evenodd"/><path d="M1199 1690 1193 1690 1187 1689 1181 1686 1176 1682 1172 1677 1169 1671 1167 1657 1168 1644 1171 1637 1175 1630 1185 1620 1191 1616 1196 1615 1200 1616 1205 1618 1214 1627 1220 1639 1223 1653 1222 1666 1217 1677 1209 1686 1199 1690Z" fill="#00c9ff" fill-rule="evenodd"/><path d="M1198 1687 1192 1687 1187 1686 1178 1680 1174 1675 1172 1670 1169 1658 1171 1645 1176 1634 1180 1629 1185 1625 1190 1623 1195 1622 1200 1623 1204 1624 1212 1631 1218 1642 1221 1654 1219 1666 1215 1676 1207 1684 1198 1687Z" fill="#00f1f8" fill-rule="evenodd"/><path d="M1200 1684 1195 1685 1190 1684 1181 1680 1175 1672 1171 1661 1172 1649 1176 1638 1184 1630 1193 1626 1201 1627 1209 1632 1215 1641 1218 1652 1218 1663 1214 1672 1208 1680 1200 1684Z" fill="#00feb1" fill-rule="evenodd"/><path d="M1199 1682 1190 1682 1182 1678 1176 1670 1173 1660 1173 1650 1177 1640 1184 1633 1188 1631 1193 1629 1201 1630 1208 1635 1214 1643 1216 1653 1216 1663 1212 1672 1206 1679 1199 1682Z" fill="#00ff56" fill-rule="evenodd"/><path d="M1198 1680 1190 1680 1183 1676 1177 1669 1174 1660 1175 1650 1179 1641 1185 1635 1193 1632 1200 1633 1207 1637 1212 1644 1215 1653 1214 1662 1211 1671 1205 1677 1198 1680Z" fill="#17ff1f" fill-rule="evenodd"/><path d="M1199 1678 1191 1678 1184 1675 1179 1669 1176 1661 1176 1652 1179 1644 1185 1637 1192 1634 1199 1635 1205 1638 1210 1644 1213 1652 1213 1660 1210 1668 1206 1674 1199 1678Z" fill="#44ff0d" fill-rule="evenodd"/><path d="M1199 1676 1192 1677 1185 1674 1180 1668 1178 1661 1177 1653 1180 1645 1185 1639 1192 1636 1198 1636 1204 1639 1209 1645 1211 1652 1211 1660 1209 1667 1205 1673 1199 1676Z" fill="#7cff00" fill-rule="evenodd"/><path d="M1196 1675 1190 1675 1184 1671 1180 1665 1179 1658 1179 1651 1183 1644 1188 1639 1194 1638 1200 1639 1205 1643 1208 1648 1210 1655 1209 1662 1207 1668 1202 1673 1196 1675Z" fill="#ceff00" fill-rule="evenodd"/><path d="M1198 1673 1192 1673 1187 1671 1182 1666 1180 1660 1180 1653 1182 1647 1187 1642 1192 1640 1197 1640 1202 1642 1206 1647 1208 1653 1209 1659 1207 1665 1203 1670 1198 1673Z" fill="#f5eb00" fill-rule="evenodd"/><path d="M1198 1671 1193 1672 1188 1670 1184 1666 1182 1660 1181 1654 1184 1648 1187 1644 1192 1642 1197 1642 1201 1643 1205 1648 1207 1653 1207 1659 1206 1664 1202 1669 1198 1671Z" fill="#ffbb00" fill-rule="evenodd"/><path d="M1196 1670 1192 1670 1188 1668 1184 1664 1183 1659 1183 1654 1185 1649 1188 1645 1193 1643 1197 1643 1201 1646 1204 1650 1206 1655 1205 1660 1203 1665 1200 1668 1196 1670Z" fill="#ff7500" fill-rule="evenodd"/><path d="M1197 1668 1193 1668 1189 1667 1186 1663 1184 1659 1184 1654 1186 1650 1189 1647 1193 1645 1197 1645 1200 1647 1203 1650 1204 1654 1204 1658 1203 1662 1200 1666 1197 1668Z" fill="#ff2d00" fill-rule="evenodd"/><path d="M1197 1666 1193 1666 1190 1665 1188 1663 1186 1659 1186 1655 1187 1651 1190 1648 1193 1647 1196 1647 1199 1649 1202 1654 1202 1661 1200 1664 1197 1666Z" fill="#ff0000" fill-rule="evenodd"/></g></g>
<defs><path id="oE4" d="M1689 1450 1694 1449 1699 1448 1705 1447 1712 1447 1719 1448 1726 1450 1734 1452 1742 1454 1750 1457 1758 1459 1765 1462 1773 1465 1781 1467 1788 1470 1796 1472 1804 1474 1812 1475 1820 1475 1828 1475 1834 1475 1838 1474 1840 1473 1842 1472 1846 1471 1854 1469 1864 1468 1875 1466 1885 1465 1895 1464 1905 1463 1916 1463 1926 1463 1937 1463 1948 1463 1958 1463 1967 1464 1973 1465 1977 1467 1981 1469 1983 1471 1985 1473 1986 1476 1986 1480 1985 1483 1984 1487 1982 1491 1979 1495 1977 1499 1974 1503 1971 1508 1968 1512 1965 1516 1962 1520 1959 1524 1956 1528 1952 1532 1949 1536 1945 1539 1941 1543 1936 1546 1932 1550 1927 1554 1922 1557 1916 1561 1909 1564 1900 1567 1892 1570 1885 1573 1879 1575 1873 1577 1868 1580 1865 1583 1863 1588 1863 1593 1863 1599 1863 1604 1862 1608 1861 1612 1860 1615 1859 1618 1857 1620 1856 1622 1854 1623 1852 1624 1850 1623 1848 1622 1845 1620 1842 1618 1839 1616 1836 1614 1833 1613 1830 1612 1827 1611 1824 1611 1821 1612 1818 1614 1816 1617 1814 1621 1812 1626 1810 1630 1806 1633 1803 1636 1799 1639 1793 1642 1787 1646 1779 1650 1771 1654 1763 1659 1755 1663 1747 1667 1740 1671 1732 1675 1724 1679 1716 1683 1708 1687 1701 1689 1696 1691 1691 1692 1686 1692 1681 1691 1676 1690 1670 1688 1665 1685 1661 1681 1657 1676 1653 1670 1651 1663 1648 1654 1647 1646 1646 1636 1645 1625 1644 1614 1644 1602 1644 1589 1645 1576 1645 1563 1646 1550 1647 1536 1649 1523 1650 1512 1652 1501 1655 1491 1658 1482 1661 1475 1664 1469 1667 1464 1671 1460 1675 1456 1678 1454 1682 1452 1685 1451ZM1820 1634 1822 1632 1826 1631 1830 1630 1834 1630 1837 1631 1840 1633 1843 1635 1846 1636 1849 1637 1852 1638 1855 1639 1859 1638 1863 1636 1867 1633 1871 1630 1875 1628 1878 1627 1881 1628 1884 1629 1885 1630 1886 1632 1886 1635 1885 1637 1883 1640 1880 1643 1876 1646 1872 1648 1869 1650 1866 1652 1865 1652 1863 1653 1861 1652 1857 1652 1854 1650 1850 1649 1846 1648 1843 1650 1839 1652 1835 1654 1832 1654 1829 1654 1826 1653 1824 1651 1822 1648 1820 1645 1819 1641 1819 1637Z"/></defs>
<use href="#oE4" fill="none" stroke="#000" stroke-opacity="0.12" stroke-width="12" stroke-linejoin="round" filter="url(#bl3)"/>
<path d="M1629 1368h2m92 11h2m260 1h2m31 1h2m-337 1h2m188 0h2m-161 2h2m0 4h2m-46 3h2m25 0h2m22 0h2m5 3h2m-3 1h2m160 3h2m-242 1h2m-25 3h2m1 0h2m80 1h2m238 0h2m-344 1h2m83 1h2m26 0h2m48 1h2m74 0h2m110 0h2m-331 1h2m13 0h2m101 1h2m13 1h2m3 0h2m84 2h2m-166 1h2m3 1h2m59 0h2m-104 1h2m22 2h2m26 0h2m138 2h2m-202 1h2m97 1h2m-26 2h2m-81 1h2m140 0h2m-80 2h2m277 0h2m-276 1h2m-68 2h2m84 0h2m2 0h2m-38 1h2m-20 1h2m44 0h2m0 0h2m1 0h2m37 0h2m-125 1h2m298 0h2m-219 2h2m-23 1h2m44 0h2m101 0h2m-67 1h2m4 1h2m99 0h2m76 0h2m-257 2h2m-106 1h2m44 0h2m6 0h2m63 0h2m12 0h2m-65 1h2m36 0h2m-2 0h2m-57 1h2m32 0h2m13 1h2m-11 1h2m57 0h2m-107 1h2m13 0h2m68 0h2m-87 1h2m5 0h2m68 0h2m-47 1h2m30 0h2m97 0h2m-171 1h2m44 0h2m-24 1h2m44 0h2m43 0h2m49 0h2m-82 1h2m169 0h2m-176 2h2m1 0h2m48 0h2m146 0h2m-280 2h2m207 0h2m-135 1h2m38 1h2m102 0h2m15 0h2m-145 1h2m11 0h2m214 0h2m-342 1h2m2 1h2m102 0h2m17 0h2m103 0h2m10 0h2m-139 1h2m122 0h2m5 0h2m-1 0h2m20 0h2m72 0h2m-77 1h2m70 0h2m-97 1h2m87 0h2m-58 1h2m6 0h2m7 0h2m-133 1h2m44 0h2m47 0h2m-61 1h2m-67 1h2m1 0h2m25 0h2m12 1h2m17 0h2m153 0h2m-192 1h2m33 0h2m4 1h2m137 0h2m-183 2h2m6 0h2m-161 1h2m4 0h2m-7 2h2m154 1h2m5 1h2m-163 2h2m-16 8h2m-16 3h2m353 0h2m-338 1h2m2 0h2m-7 1h2m334 4h2m-1 0h2m25 0h2m-41 10h2m-337 6h2m-9 2h2m13 2h2m318 5h2m-348 5h2m-4 2h2m24 0h2m313 1h2m-323 3h2m326 3h2m28 0h2m-354 4h2m-1 2h2m302 0h2m-9 5h2m4 0h2m-5 1h2m-304 3h2m334 2h2m-23 6h2m-318 2h2m289 1h2m-17 1h2m1 3h2m-26 5h2m16 0h2m5 0h2m-27 2h2m19 0h2m1 1h2m83 0h2m-88 1h2m-25 1h2m-2 0h2m-4 1h2m77 1h2m-95 1h2m31 0h2m6 0h2m-280 1h2m362 0h2m-370 1h2m252 1h2m-258 1h2m278 0h2m2 0h2m64 1h2m-56 1h2m-1 0h2m-11 2h2m-39 1h2m30 0h2m-35 1h2m52 0h2m-12 1h2m5 0h2m37 0h2m-79 3h2m67 1h2m-9 1h2m-61 1h2m-29 2h2m21 0h2m-39 2h2m148 1h2m-84 1h2m33 0h2m-103 1h2m89 0h2m23 0h2m-345 1h2m-1 2h2m228 0h2m58 0h2m37 0h2m55 1h2m-402 1h2m238 0h2m60 0h2m22 0h2m26 1h2m-87 1h2m54 0h2m-311 1h2m317 0h2m-29 1h2m-298 1h2m339 0h2m-66 1h2m39 0h2m-132 1h2m-8 1h2m40 0h2m62 1h2m-1 0h2m-31 2h2m-81 1h2m13 0h2m69 0h2m-49 2h2m92 0h2m-119 1h2m22 0h2m2 0h2m27 0h2m23 0h2m29 0h2m-134 1h2m129 0h2m-40 1h2m25 0h2m-122 1h2m24 0h2m13 0h2m14 1h2m12 0h2m-12 1h2m2 0h2m5 0h2m-54 1h2m8 0h2m11 0h2m31 0h2m-70 1h2m33 0h2m19 0h2m52 0h2m-297 1h2m362 0h2m-149 1h2m2 0h2m79 0h2m-76 1h2m-50 1h2m48 0h2m34 0h2m0 0h2m-279 1h2m186 0h2m-176 1h2m210 0h2m140 0h2m-157 1h2m4 0h2m0 0h2m-220 1h2m9 0h2m-1 0h2m247 0h2m9 0h2m-1 1h2m-101 1h2m82 0h2m51 1h2m36 0h2m-185 1h2m3 1h2m168 0h2m-356 2h2m198 1h2m106 1h2m-133 2h2m107 0h2m0 0h2m-109 1h2m161 1h2m-156 1h2m-1 0h2m7 0h2m-42 1h2m59 1h2m70 0h2m-111 1h2m65 0h2m-232 1h2m167 0h2m4 0h2m6 2h2m8 0h2m3 0h2m9 0h2m148 0h2m-229 1h2m5 0h2m47 0h2m27 0h2m-216 1h2m205 0h2m-70 2h2m0 0h2m47 0h2m-75 1h2m1 0h2m49 0h2m-7 1h2m12 0h2m0 0h2m-2 0h2m1 0h2m52 0h2m-239 1h2m128 0h2m41 0h2m-170 1h2m115 0h2m65 0h2m-11 2h2m-77 1h2m238 0h2m-236 1h2m45 1h2m-56 1h2m-2 1h2m201 0h2m-209 1h2m78 0h2m-44 1h2m10 0h2m40 2h2m-104 2h2m-88 1h2m105 0h2m55 0h2m-89 1h2m165 1h2m-172 1h2m187 1h2m-190 3h2m-18 4h2m12 1h2m10 0h2m52 0h2m-132 2h2m3 0h2m3 0h2m333 2h2m-330 1h2m-9 3h2m0 0h2m85 2h2m-84 1h2m18 2h2m247 0h2m-45 3h2m-48 1h2m133 0h2m-313 4h2m237 3h2m-176 1h2m-121 3h2m95 5h2m92 3h2m-23 1h2m-24 2h2m-128 3h2" stroke="#1a1a1a" stroke-width="2.5" fill="none"/><path d="M1754 1380h2m258 1h2m-212 1h2m-23 6h2m-118 3h2m16 0h2m78 0h2m-95 1h2m6 1h2m252 0h2m-51 2h2m-175 2h2m-89 5h2m84 1h2m90 1h2m-98 3h2m38 1h2m-20 5h2m14 2h2m27 0h2m-137 3h2m95 0h2m0 0h2m130 0h2m-227 1h2m107 1h2m-113 1h2m0 2h2m43 2h2m69 1h2m-125 2h2m52 0h2m116 1h2m-110 5h2m41 3h2m56 0h2m-117 1h2m295 1h2m-217 1h2m-115 2h2m15 0h2m18 0h2m38 0h2m12 0h2m26 0h2m-110 1h2m38 0h2m37 0h2m-29 2h2m-15 1h2m5 2h2m13 1h2m29 0h2m-1 0h2m-77 1h2m226 0h2m-183 1h2m23 0h2m-21 1h2m0 1h2m227 0h2m-303 1h2m91 1h2m-97 1h2m86 0h2m53 0h2m146 0h2m-162 2h2m4 0h2m117 0h2m-97 2h2m-50 1h2m132 0h2m30 0h2m-38 1h2m6 0h2m26 0h2m17 1h2m-190 1h2m20 0h2m64 1h2m-206 1h2m198 1h2m-70 2h2m15 0h2m5 1h2m-16 1h2m189 0h2m-4 3h2m-173 1h2m-168 1h2m334 0h2m-340 8h2m-6 2h2m-13 3h2m12 0h2m353 3h2m-31 7h2m-1 2h2m-342 2h2m7 0h2m-1 6h2m318 3h2m-2 1h2m-5 1h2m1 0h2m-330 2h2m-21 2h2m375 8h2m-33 1h2m10 0h2m-2 10h2m-366 4h2m21 7h2m366 2h2m-370 1h2m306 0h2m-17 1h2m1 3h2m-9 1h2m58 12h2m-93 2h2m2 1h2m-265 1h2m275 0h2m-27 1h2m7 2h2m11 0h2m-18 1h2m25 1h2m-29 1h2m-20 1h2m1 0h2m16 1h2m33 0h2m43 0h2m-80 1h2m67 1h2m-328 2h2m235 0h2m-240 2h2m224 0h2m46 1h2m18 0h2m-2 0h2m-75 3h2m6 1h2m7 0h2m133 0h2m-47 3h2m-109 2h2m92 0h2m-319 1h2m-5 1h2m281 0h2m-22 5h2m-6 1h2m58 3h2m-21 2h2m16 2h2m-38 1h2m37 0h2m10 0h2m44 0h2m-197 1h2m-184 1h2m184 0h2m5 0h2m137 2h2m-338 1h2m0 0h2m326 1h2m-134 2h2m89 0h2m-312 1h2m230 2h2m11 0h2m111 1h2m-131 1h2m0 0h2m16 0h2m-2 1h2m13 0h2m4 3h2m33 0h2m-285 1h2m322 0h2m2 0h2m-147 1h2m74 2h2m18 0h2m-72 1h2m143 0h2m-140 1h2m64 2h2m-119 1h2m85 0h2m38 1h2m30 0h2m-149 2h2m70 0h2m-94 1h2m11 0h2m162 1h2m-334 1h2m240 0h2m0 2h2m-242 1h2m236 0h2m-70 1h2m-34 2h2m61 1h2m56 0h2m-96 1h2m33 0h2m-42 1h2m26 1h2m36 0h2m-99 1h2m63 0h2m-10 1h2m-193 2h2m185 0h2m12 0h2m-2 1h2m-71 1h2m95 0h2m-221 2h2m124 0h2m48 0h2m5 1h2m-25 1h2m31 0h2m-90 3h2m11 1h2m148 0h2m-125 2h2m13 0h2m-162 3h2m138 1h2m-2 1h2m-134 1h2m103 1h2m52 0h2m19 0h2m-11 2h2m-178 3h2m3 0h2m88 1h2m-22 1h2m-10 1h2m191 0h2m-267 1h2m240 1h2m-94 1h2m153 0h2m-247 2h2m-29 2h2m310 2h2m-143 2h2m-212 12h2m56 2h2m107 3h2m72 0h2m-210 2h2m325 0h2m-107 3h2m52 9h2m-114 1h2m72 6h2" stroke="#707070" stroke-width="2.5" fill="none"/>
<clipPath id="cE4"><use href="#oE4"/></clipPath>
<g clip-path="url(#cE4)"><g filter="url(#bl)"><rect x="1638" y="1441" width="354" height="257" fill="#0000ff"/><path d="M1694 1691 1681 1691 1680 1690 1677 1690 1676 1689 1671 1688 1664 1684 1659 1679 1652 1666 1651 1661 1650 1660 1649 1653 1648 1652 1648 1648 1647 1647 1647 1641 1646 1640 1646 1629 1645 1628 1645 1569 1646 1568 1647 1540 1648 1539 1648 1530 1649 1529 1649 1521 1650 1520 1651 1509 1652 1508 1652 1504 1653 1503 1653 1499 1655 1494 1655 1491 1659 1481 1659 1479 1666 1466 1677 1455 1687 1451 1694 1450 1695 1449 1699 1449 1700 1448 1716 1448 1717 1449 1726 1450 1737 1454 1740 1454 1744 1456 1747 1456 1757 1460 1759 1460 1762 1462 1776 1466 1791 1474 1799 1477 1815 1480 1833 1481 1840 1480 1848 1476 1871 1472 1897 1469 1913 1469 1916 1468 1955 1468 1965 1470 1974 1472 1979 1475 1980 1480 1979 1484 1972 1500 1966 1508 1943 1533 1917 1553 1906 1559 1870 1574 1862 1580 1859 1587 1859 1605 1857 1613 1853 1620 1851 1620 1845 1617 1831 1611 1821 1611 1816 1615 1811 1628 1800 1638 1797 1639 1790 1644 1783 1647 1781 1649 1762 1658 1760 1660 1749 1665 1747 1667 1731 1675 1707 1687 1699 1689 1698 1690 1695 1690 1694 1691ZM1833 1652 1828 1652 1824 1650 1822 1648 1820 1644 1820 1640 1819 1639 1820 1634 1821 1633 1826 1631 1831 1631 1833 1631 1848 1640 1852 1642 1859 1642 1863 1641 1877 1632 1880 1633 1878 1638 1863 1648 1851 1645 1844 1646 1833 1652Z" fill="#0019ff" fill-rule="evenodd"/><path d="M1694 1691 1681 1691 1680 1690 1677 1690 1676 1689 1671 1688 1664 1684 1659 1679 1652 1666 1651 1661 1650 1660 1649 1653 1648 1652 1648 1648 1647 1647 1647 1641 1646 1640 1646 1629 1645 1628 1645 1569 1646 1568 1647 1540 1648 1539 1648 1530 1649 1529 1649 1521 1650 1520 1651 1509 1652 1508 1652 1504 1653 1503 1653 1499 1655 1494 1655 1491 1659 1481 1659 1479 1666 1466 1677 1455 1687 1451 1694 1450 1695 1449 1699 1449 1700 1448 1716 1448 1717 1449 1726 1450 1730 1452 1733 1452 1737 1454 1740 1454 1744 1456 1750 1457 1786 1479 1798 1484 1814 1489 1827 1490 1842 1490 1851 1487 1918 1477 1948 1477 1968 1481 1967 1492 1964 1499 1960 1505 1953 1511 1911 1543 1867 1564 1858 1571 1854 1577 1851 1585 1851 1603 1850 1608 1849 1609 1833 1604 1820 1607 1817 1609 1814 1613 1809 1627 1798 1639 1792 1642 1790 1644 1783 1647 1781 1649 1762 1658 1760 1660 1749 1665 1747 1667 1731 1675 1707 1687 1699 1689 1698 1690 1695 1690 1694 1691ZM1832 1644 1830 1644 1828 1641 1828 1640 1833 1640 1835 1641 1835 1642 1832 1644Z" fill="#002aff" fill-rule="evenodd"/><path d="M1694 1691 1681 1691 1680 1690 1677 1690 1676 1689 1671 1688 1664 1684 1659 1679 1652 1666 1651 1661 1650 1660 1649 1653 1648 1652 1648 1648 1647 1647 1647 1641 1646 1640 1646 1629 1645 1628 1645 1569 1646 1568 1646 1552 1647 1551 1647 1540 1648 1539 1648 1530 1649 1529 1649 1522 1655 1500 1662 1480 1669 1467 1678 1457 1688 1452 1695 1449 1699 1449 1700 1448 1716 1448 1717 1449 1721 1449 1732 1453 1745 1460 1756 1467 1802 1502 1834 1520 1843 1523 1848 1522 1858 1515 1866 1511 1893 1505 1895 1503 1901 1493 1907 1489 1914 1487 1923 1484 1935 1484 1946 1485 1954 1488 1956 1492 1956 1496 1954 1500 1949 1505 1937 1511 1917 1514 1913 1516 1911 1518 1909 1525 1906 1529 1898 1535 1890 1538 1881 1539 1870 1538 1854 1535 1850 1536 1847 1541 1840 1564 1837 1587 1819 1597 1813 1602 1809 1609 1804 1623 1801 1628 1781 1649 1762 1658 1760 1660 1749 1665 1747 1667 1707 1687 1699 1689 1698 1690 1695 1690 1694 1691Z" fill="#0044ff" fill-rule="evenodd"/><path d="M1694 1691 1681 1691 1680 1690 1677 1690 1667 1686 1660 1680 1655 1669 1650 1651 1646 1626 1646 1599 1646 1571 1650 1542 1654 1517 1661 1494 1670 1474 1678 1464 1684 1459 1693 1455 1702 1452 1713 1452 1724 1455 1744 1465 1760 1479 1773 1493 1789 1516 1805 1544 1810 1560 1811 1574 1809 1584 1801 1604 1797 1620 1786 1637 1771 1654 1749 1665 1747 1667 1707 1687 1699 1689 1698 1690 1695 1690 1694 1691ZM1934 1504 1927 1505 1921 1504 1917 1501 1916 1497 1920 1493 1927 1491 1936 1491 1944 1493 1945 1496 1943 1500 1939 1503 1934 1504ZM1888 1529 1882 1530 1877 1528 1874 1525 1874 1522 1877 1519 1881 1518 1886 1517 1891 1519 1894 1521 1894 1524 1892 1527 1888 1529Z" fill="#005cff" fill-rule="evenodd"/><path d="M1694 1691 1681 1691 1680 1690 1677 1690 1676 1689 1671 1688 1663 1678 1657 1665 1652 1644 1650 1625 1649 1599 1650 1572 1653 1543 1657 1524 1663 1502 1671 1483 1677 1473 1685 1465 1699 1459 1704 1458 1712 1458 1722 1460 1729 1463 1742 1472 1755 1484 1766 1499 1778 1522 1788 1548 1793 1570 1794 1589 1791 1612 1788 1620 1776 1641 1762 1658 1760 1660 1749 1665 1747 1667 1707 1687 1699 1689 1698 1690 1695 1690 1694 1691Z" fill="#007dff" fill-rule="evenodd"/><path d="M1694 1691 1681 1691 1678 1689 1671 1683 1667 1678 1660 1663 1656 1644 1653 1624 1652 1599 1653 1573 1657 1544 1661 1525 1667 1504 1675 1488 1680 1479 1688 1471 1700 1466 1711 1464 1721 1467 1727 1470 1740 1479 1751 1492 1761 1509 1773 1534 1780 1559 1784 1580 1784 1602 1781 1616 1775 1631 1767 1646 1754 1663 1707 1687 1699 1689 1698 1690 1695 1690 1694 1691Z" fill="#00a0ff" fill-rule="evenodd"/><path d="M1694 1691 1689 1691 1685 1689 1677 1683 1669 1674 1664 1662 1659 1643 1656 1624 1655 1599 1656 1574 1658 1556 1663 1535 1669 1514 1676 1497 1683 1486 1691 1478 1701 1473 1710 1472 1722 1476 1734 1484 1745 1496 1756 1514 1766 1537 1772 1560 1776 1582 1776 1604 1773 1620 1767 1637 1757 1654 1745 1668 1707 1687 1699 1689 1698 1690 1695 1690 1694 1691Z" fill="#00c9ff" fill-rule="evenodd"/><path d="M1701 1689 1692 1688 1684 1684 1676 1676 1670 1667 1666 1655 1662 1635 1659 1613 1659 1587 1661 1563 1664 1545 1670 1526 1676 1510 1683 1497 1692 1487 1700 1482 1709 1481 1720 1483 1731 1491 1741 1502 1750 1517 1759 1537 1765 1558 1769 1578 1770 1599 1768 1615 1764 1630 1758 1644 1749 1658 1743 1665 1735 1673 1707 1687 1702 1688 1701 1689Z" fill="#00f1f8" fill-rule="evenodd"/><path d="M1706 1685 1696 1685 1689 1682 1681 1676 1675 1667 1670 1654 1665 1635 1663 1616 1662 1594 1663 1575 1666 1557 1671 1536 1676 1521 1684 1507 1692 1497 1700 1491 1709 1490 1719 1492 1729 1499 1738 1509 1746 1523 1754 1540 1760 1559 1763 1578 1764 1597 1763 1612 1760 1627 1755 1640 1748 1653 1740 1664 1728 1675 1717 1681 1706 1685Z" fill="#00feb1" fill-rule="evenodd"/><path d="M1709 1680 1701 1681 1691 1678 1685 1673 1678 1664 1673 1650 1669 1634 1667 1617 1666 1598 1667 1577 1669 1559 1672 1546 1679 1528 1685 1516 1693 1506 1701 1500 1709 1499 1718 1501 1727 1507 1735 1516 1743 1529 1750 1544 1755 1561 1758 1579 1759 1596 1758 1611 1756 1625 1751 1638 1745 1650 1738 1661 1728 1670 1719 1676 1709 1680Z" fill="#00ff56" fill-rule="evenodd"/><path d="M1704 1676 1696 1674 1689 1670 1683 1663 1679 1655 1674 1640 1671 1622 1670 1607 1669 1591 1671 1575 1673 1559 1677 1545 1683 1530 1689 1520 1696 1513 1703 1509 1710 1507 1718 1509 1726 1515 1734 1524 1741 1537 1747 1552 1752 1568 1754 1585 1754 1601 1753 1616 1750 1630 1745 1642 1738 1654 1730 1664 1721 1671 1713 1674 1704 1676Z" fill="#17ff1f" fill-rule="evenodd"/><path d="M1710 1670 1703 1670 1696 1668 1690 1664 1685 1657 1680 1645 1676 1631 1674 1615 1673 1598 1674 1581 1676 1566 1680 1551 1684 1540 1690 1529 1696 1522 1703 1518 1710 1516 1717 1518 1724 1522 1731 1530 1737 1541 1743 1554 1747 1568 1749 1582 1750 1597 1749 1610 1747 1622 1744 1634 1739 1644 1733 1654 1726 1661 1718 1667 1710 1670Z" fill="#44ff0d" fill-rule="evenodd"/><path d="M1710 1664 1703 1664 1697 1662 1691 1656 1687 1650 1682 1639 1679 1627 1677 1613 1676 1598 1677 1584 1679 1571 1682 1559 1686 1547 1691 1538 1697 1530 1703 1526 1710 1525 1717 1527 1723 1531 1729 1538 1735 1547 1739 1558 1743 1571 1745 1584 1746 1597 1745 1609 1743 1621 1740 1632 1735 1642 1730 1650 1724 1657 1717 1662 1710 1664Z" fill="#7cff00" fill-rule="evenodd"/><path d="M1711 1657 1705 1657 1700 1656 1695 1652 1690 1646 1686 1636 1683 1625 1681 1613 1680 1600 1682 1576 1685 1563 1689 1553 1693 1545 1698 1539 1704 1535 1710 1534 1716 1535 1722 1539 1727 1545 1732 1553 1736 1563 1738 1573 1740 1584 1741 1596 1739 1617 1737 1627 1733 1636 1728 1644 1723 1650 1717 1655 1711 1657Z" fill="#ceff00" fill-rule="evenodd"/><path d="M1708 1650 1703 1649 1698 1646 1694 1642 1690 1635 1685 1618 1683 1597 1685 1577 1691 1559 1696 1552 1700 1547 1705 1544 1710 1543 1715 1544 1720 1548 1725 1553 1729 1560 1735 1579 1737 1599 1734 1619 1728 1635 1724 1641 1719 1646 1713 1649 1708 1650Z" fill="#f5eb00" fill-rule="evenodd"/><path d="M1711 1641 1706 1642 1702 1640 1697 1637 1694 1633 1689 1619 1686 1602 1688 1583 1693 1568 1700 1557 1704 1554 1709 1553 1713 1554 1717 1556 1721 1560 1724 1565 1729 1579 1732 1595 1730 1611 1726 1626 1719 1636 1715 1639 1711 1641Z" fill="#ffbb00" fill-rule="evenodd"/><path d="M1709 1632 1705 1632 1701 1631 1695 1625 1691 1614 1690 1600 1691 1587 1695 1575 1702 1566 1705 1565 1709 1564 1715 1566 1721 1574 1725 1585 1726 1597 1725 1609 1721 1620 1716 1628 1709 1632Z" fill="#ff7500" fill-rule="evenodd"/><path d="M1707 1622 1702 1622 1698 1619 1695 1612 1693 1602 1694 1593 1697 1584 1701 1579 1706 1577 1711 1578 1714 1582 1717 1589 1718 1597 1718 1605 1715 1613 1711 1619 1707 1622Z" fill="#ff2d00" fill-rule="evenodd"/><path d="M1703 1608 1700 1605 1700 1600 1701 1595 1704 1593 1707 1596 1707 1601 1706 1606 1703 1608Z" fill="#ff0000" fill-rule="evenodd"/></g></g>
<rect x="102.2" y="123.8" width="442.8" height="419.2" fill="none" stroke="#3a3a3a" stroke-width="2.2"/>
<path d="M90.2 163.8H102.2M90.2 260.5H102.2M90.2 374.9H102.2M97.2 231.4H102.2M97.2 214.4H102.2M97.2 202.3H102.2M97.2 192.9H102.2M97.2 185.3H102.2M97.2 178.8H102.2M97.2 173.2H102.2M97.2 168.3H102.2M97.2 340.5H102.2M97.2 320.3H102.2M97.2 306H102.2M97.2 294.9H102.2M97.2 285.8H102.2M97.2 278.2H102.2M97.2 271.5H102.2M97.2 265.7H102.2M90.2 443.2H102.2M90.2 447.7H102.2M90.2 452.2H102.2M90.2 456.7H102.2M90.2 522.5H102.2M97.2 392.1H102.2M97.2 406.8H102.2M97.2 417.2H102.2M97.2 425.6H102.2M97.2 431.9H102.2M97.2 437.4H102.2M97.2 442.4H102.2M97.2 459.2H102.2M97.2 465.4H102.2M97.2 471.7H102.2M97.2 480.1H102.2M97.2 488.5H102.2M97.2 501.1H102.2M97.2 513.7H102.2M97.2 133.9H102.2M279.3 543V554M399.3 543V554M501.2 543V554M315.4 543V548M336.6 543V548M351.6 543V548M363.2 543V548M372.7 543V548M380.7 543V548M387.7 543V548M393.8 543V548M430 543V548M447.9 543V548M460.6 543V548M470.5 543V548M478.6 543V548M485.4 543V548M491.3 543V548M496.5 543V548M121.7 543V554M189.4 543V552M193.6 543V552M197.8 543V552M202 543V552M206.2 543V552M127.7 543V548M134.9 543V548M142.1 543V548M149.3 543V548M156.6 543V548M163.8 543V548M171 543V548M178.2 543V548M185.4 543V548M212.2 543V548M220 543V548M227.8 543V548M235.5 543V548M243.3 543V548M251 543V548M258.8 543V548M266.6 543V548M274.3 543V548M533.9 543V548" stroke="#2a2a2a" stroke-width="2.4" fill="none"/>
<text x="113.6" y="98.0" font-size="42.15" font-family='"Liberation Sans", Arial, sans-serif' font-weight="bold" fill="#000" textLength="62.8" lengthAdjust="spacingAndGlyphs" >WT</text>
<path d="M122.2 316.8 L122.2 210.2 L315.9 210.2 L315.9 261.2 L250.8 316.8 Z" fill="none" stroke="#000" stroke-width="2.4" stroke-linejoin="round"/>
<path d="M121.6 316.8 L253 316.8 L253 493 L121.6 493 Z" fill="none" stroke="#000" stroke-width="2.4" stroke-linejoin="round"/>
<path d="M250.8 316.8 L364.4 219.7 L469.2 219.7 L467.3 491.4 L253 493 Z" fill="none" stroke="#000" stroke-width="2.4" stroke-linejoin="round"/>
<text x="148.1" y="197.0" font-size="34.88" font-family='"Liberation Sans", Arial, sans-serif' font-weight="bold" fill="#000" textLength="59.0" lengthAdjust="spacingAndGlyphs" >MZ</text>
<text x="394.4" y="196.7" font-size="33.90" font-family='"Liberation Sans", Arial, sans-serif' font-weight="bold" fill="#000" textLength="54.9" lengthAdjust="spacingAndGlyphs" >FO</text>
<text x="130.4" y="243.0" font-size="27.91" font-family='"Liberation Sans", Arial, sans-serif' font-weight="bold" fill="#000" textLength="53.3" lengthAdjust="spacingAndGlyphs" >4.77</text>
<text x="393.8" y="251.7" font-size="26.84" font-family='"Liberation Sans", Arial, sans-serif' font-weight="bold" fill="#000" textLength="54.8" lengthAdjust="spacingAndGlyphs" >77.9</text>
<text x="130.9" y="484.0" font-size="28.81" font-family='"Liberation Sans", Arial, sans-serif' font-weight="bold" fill="#000" textLength="36.9" lengthAdjust="spacingAndGlyphs" >8.8</text>
<text x="123.1" y="527.0" font-size="38.37" font-family='"Liberation Sans", Arial, sans-serif' font-weight="bold" fill="#000" textLength="39.4" lengthAdjust="spacingAndGlyphs" >T1</text>
<rect x="602" y="124" width="442.4" height="418.7" fill="none" stroke="#3a3a3a" stroke-width="2.2"/>
<path d="M590 164H602M590 260.5H602M590 374.8H602M597 231.4H602M597 214.4H602M597 202.4H602M597 193H602M597 185.4H602M597 178.9H602M597 173.3H602M597 168.4H602M597 340.4H602M597 320.3H602M597 306H602M597 294.9H602M597 285.9H602M597 278.2H602M597 271.6H602M597 265.7H602M590 443H602M590 447.5H602M590 452H602M590 456.5H602M590 522.2H602M597 392H602M597 406.6H602M597 417.1H602M597 425.5H602M597 431.7H602M597 437.2H602M597 442.2H602M597 459H602M597 465.2H602M597 471.5H602M597 479.9H602M597 488.3H602M597 500.8H602M597 513.4H602M597 134H602M779 542.7V553.7M898.9 542.7V553.7M1000.6 542.7V553.7M815.1 542.7V547.7M836.2 542.7V547.7M851.1 542.7V547.7M862.8 542.7V547.7M872.3 542.7V547.7M880.3 542.7V547.7M887.2 542.7V547.7M893.4 542.7V547.7M929.5 542.7V547.7M947.4 542.7V547.7M960.1 542.7V547.7M970 542.7V547.7M978 542.7V547.7M984.8 542.7V547.7M990.7 542.7V547.7M995.9 542.7V547.7M621.5 542.7V553.7M689.2 542.7V551.7M693.4 542.7V551.7M697.6 542.7V551.7M701.8 542.7V551.7M706 542.7V551.7M627.5 542.7V547.7M634.7 542.7V547.7M641.9 542.7V547.7M649.1 542.7V547.7M656.3 542.7V547.7M663.5 542.7V547.7M670.7 542.7V547.7M677.9 542.7V547.7M685.2 542.7V547.7M712 542.7V547.7M719.7 542.7V547.7M727.5 542.7V547.7M735.2 542.7V547.7M743 542.7V547.7M750.7 542.7V547.7M758.5 542.7V547.7M766.2 542.7V547.7M774 542.7V547.7M1033.3 542.7V547.7" stroke="#2a2a2a" stroke-width="2.4" fill="none"/>
<text x="607.0" y="100.4" font-size="38.62" font-family='"Liberation Sans", Arial, sans-serif' font-weight="bold" fill="#000" textLength="78.4" lengthAdjust="spacingAndGlyphs" >iWT</text>
<path d="M620.4 317.1 L620.4 210.4 L815.9 210.4 L815.9 260.8 L748.7 317.1 Z" fill="none" stroke="#000" stroke-width="2.4" stroke-linejoin="round"/>
<path d="M620.4 317.1 L751.6 317.1 L751.6 492.5 L620.4 492.5 Z" fill="none" stroke="#000" stroke-width="2.4" stroke-linejoin="round"/>
<path d="M748.7 317.1 L864.2 220.4 L968.3 220.4 L966.8 491 L751.6 491.6 Z" fill="none" stroke="#000" stroke-width="2.4" stroke-linejoin="round"/>
<text x="647.3" y="197.7" font-size="36.34" font-family='"Liberation Sans", Arial, sans-serif' font-weight="bold" fill="#000" textLength="58.3" lengthAdjust="spacingAndGlyphs" >MZ</text>
<text x="894.4" y="197.3" font-size="35.31" font-family='"Liberation Sans", Arial, sans-serif' font-weight="bold" fill="#000" textLength="54.2" lengthAdjust="spacingAndGlyphs" >FO</text>
<text x="629.6" y="243.2" font-size="23.16" font-family='"Liberation Sans", Arial, sans-serif' font-weight="bold" fill="#000" textLength="39.0" lengthAdjust="spacingAndGlyphs" >4.6</text>
<text x="895.2" y="250.7" font-size="25.42" font-family='"Liberation Sans", Arial, sans-serif' font-weight="bold" fill="#000" textLength="30.8" lengthAdjust="spacingAndGlyphs" >59</text>
<text x="626.4" y="486.3" font-size="27.64" font-family='"Liberation Sans", Arial, sans-serif' font-weight="bold" fill="#000" textLength="51.1" lengthAdjust="spacingAndGlyphs" >32.2</text>
<text x="622.1" y="526.4" font-size="34.01" font-family='"Liberation Sans", Arial, sans-serif' font-weight="bold" fill="#000" textLength="40.5" lengthAdjust="spacingAndGlyphs" >T1</text>
<rect x="1099.8" y="124" width="442.8" height="419.5" fill="none" stroke="#3a3a3a" stroke-width="2.2"/>
<path d="M1087.8 164.1H1099.8M1087.8 260.8H1099.8M1087.8 375.3H1099.8M1094.8 231.6H1099.8M1094.8 214.6H1099.8M1094.8 202.5H1099.8M1094.8 193.2H1099.8M1094.8 185.5H1099.8M1094.8 179H1099.8M1094.8 173.4H1099.8M1094.8 168.5H1099.8M1094.8 340.8H1099.8M1094.8 320.6H1099.8M1094.8 306.3H1099.8M1094.8 295.2H1099.8M1094.8 286.2H1099.8M1094.8 278.5H1099.8M1094.8 271.9H1099.8M1094.8 266H1099.8M1087.8 443.6H1099.8M1087.8 448.1H1099.8M1087.8 452.6H1099.8M1087.8 457.1H1099.8M1087.8 522.9H1099.8M1094.8 392.5H1099.8M1094.8 407.2H1099.8M1094.8 417.6H1099.8M1094.8 426H1099.8M1094.8 432.3H1099.8M1094.8 437.8H1099.8M1094.8 442.8H1099.8M1094.8 459.6H1099.8M1094.8 465.9H1099.8M1094.8 472.2H1099.8M1094.8 480.6H1099.8M1094.8 489H1099.8M1094.8 501.6H1099.8M1094.8 514.1H1099.8M1094.8 134.1H1099.8M1276.9 543.5V554.5M1396.9 543.5V554.5M1498.8 543.5V554.5M1313 543.5V548.5M1334.2 543.5V548.5M1349.2 543.5V548.5M1360.8 543.5V548.5M1370.3 543.5V548.5M1378.3 543.5V548.5M1385.3 543.5V548.5M1391.4 543.5V548.5M1427.6 543.5V548.5M1445.5 543.5V548.5M1458.2 543.5V548.5M1468.1 543.5V548.5M1476.2 543.5V548.5M1483 543.5V548.5M1488.9 543.5V548.5M1494.1 543.5V548.5M1119.3 543.5V554.5M1187 543.5V552.5M1191.2 543.5V552.5M1195.4 543.5V552.5M1199.6 543.5V552.5M1203.8 543.5V552.5M1125.3 543.5V548.5M1132.5 543.5V548.5M1139.7 543.5V548.5M1146.9 543.5V548.5M1154.2 543.5V548.5M1161.4 543.5V548.5M1168.6 543.5V548.5M1175.8 543.5V548.5M1183 543.5V548.5M1209.8 543.5V548.5M1217.6 543.5V548.5M1225.4 543.5V548.5M1233.1 543.5V548.5M1240.9 543.5V548.5M1248.6 543.5V548.5M1256.4 543.5V548.5M1264.2 543.5V548.5M1271.9 543.5V548.5M1531.5 543.5V548.5" stroke="#2a2a2a" stroke-width="2.4" fill="none"/>
<text x="1099.3" y="98.6" font-size="36.19" font-family='"Liberation Sans", Arial, sans-serif' font-weight="bold" fill="#000" textLength="164.4" lengthAdjust="spacingAndGlyphs" >Gal-8KO</text>
<path d="M1119 318.6 L1119 210.4 L1314 210.4 L1314 261.4 L1247 318.6 Z" fill="none" stroke="#000" stroke-width="2.4" stroke-linejoin="round"/>
<path d="M1119 318.6 L1249.6 318.6 L1249.6 492.5 L1119 492.5 Z" fill="none" stroke="#000" stroke-width="2.4" stroke-linejoin="round"/>
<path d="M1247 318.6 L1362 220.4 L1466.8 220.4 L1464.5 491 L1249.6 491.6 Z" fill="none" stroke="#000" stroke-width="2.4" stroke-linejoin="round"/>
<text x="1147.3" y="197.7" font-size="36.34" font-family='"Liberation Sans", Arial, sans-serif' font-weight="bold" fill="#000" textLength="58.3" lengthAdjust="spacingAndGlyphs" >MZ</text>
<text x="1386.1" y="195.4" font-size="34.89" font-family='"Liberation Sans", Arial, sans-serif' font-weight="bold" fill="#000" textLength="54.3" lengthAdjust="spacingAndGlyphs" >FO</text>
<text x="1133.3" y="246.4" font-size="25.73" font-family='"Liberation Sans", Arial, sans-serif' font-weight="bold" fill="#000" textLength="37.6" lengthAdjust="spacingAndGlyphs" >4.7</text>
<text x="1371.1" y="249.0" font-size="24.96" font-family='"Liberation Sans", Arial, sans-serif' font-weight="bold" fill="#000" textLength="53.8" lengthAdjust="spacingAndGlyphs" >86.3</text>
<text x="1145.1" y="479.1" font-size="23.02" font-family='"Liberation Sans", Arial, sans-serif' font-weight="bold" fill="#000" textLength="35.8" lengthAdjust="spacingAndGlyphs" >4.9</text>
<text x="1121.6" y="526.0" font-size="31.98" font-family='"Liberation Sans", Arial, sans-serif' font-weight="bold" fill="#000" textLength="41.0" lengthAdjust="spacingAndGlyphs" >T1</text>
<rect x="1590.4" y="124" width="443.1" height="419.5" fill="none" stroke="#3a3a3a" stroke-width="2.2"/>
<path d="M1578.4 164.1H1590.4M1578.4 260.8H1590.4M1578.4 375.3H1590.4M1585.4 231.6H1590.4M1585.4 214.6H1590.4M1585.4 202.5H1590.4M1585.4 193.2H1590.4M1585.4 185.5H1590.4M1585.4 179H1590.4M1585.4 173.4H1590.4M1585.4 168.5H1590.4M1585.4 340.8H1590.4M1585.4 320.6H1590.4M1585.4 306.3H1590.4M1585.4 295.2H1590.4M1585.4 286.2H1590.4M1585.4 278.5H1590.4M1585.4 271.9H1590.4M1585.4 266H1590.4M1578.4 443.6H1590.4M1578.4 448.1H1590.4M1578.4 452.6H1590.4M1578.4 457.1H1590.4M1578.4 522.9H1590.4M1585.4 392.5H1590.4M1585.4 407.2H1590.4M1585.4 417.6H1590.4M1585.4 426H1590.4M1585.4 432.3H1590.4M1585.4 437.8H1590.4M1585.4 442.8H1590.4M1585.4 459.6H1590.4M1585.4 465.9H1590.4M1585.4 472.2H1590.4M1585.4 480.6H1590.4M1585.4 489H1590.4M1585.4 501.6H1590.4M1585.4 514.1H1590.4M1585.4 134.1H1590.4M1767.6 543.5V554.5M1887.7 543.5V554.5M1989.6 543.5V554.5M1803.8 543.5V548.5M1824.9 543.5V548.5M1839.9 543.5V548.5M1851.6 543.5V548.5M1861.1 543.5V548.5M1869.1 543.5V548.5M1876.1 543.5V548.5M1882.2 543.5V548.5M1918.4 543.5V548.5M1936.3 543.5V548.5M1949.1 543.5V548.5M1959 543.5V548.5M1967 543.5V548.5M1973.8 543.5V548.5M1979.8 543.5V548.5M1985 543.5V548.5M1609.9 543.5V554.5M1677.7 543.5V552.5M1681.9 543.5V552.5M1686.1 543.5V552.5M1690.3 543.5V552.5M1694.5 543.5V552.5M1615.9 543.5V548.5M1623.1 543.5V548.5M1630.3 543.5V548.5M1637.6 543.5V548.5M1644.8 543.5V548.5M1652 543.5V548.5M1659.2 543.5V548.5M1666.5 543.5V548.5M1673.7 543.5V548.5M1700.5 543.5V548.5M1708.3 543.5V548.5M1716 543.5V548.5M1723.8 543.5V548.5M1731.6 543.5V548.5M1739.3 543.5V548.5M1747.1 543.5V548.5M1754.9 543.5V548.5M1762.6 543.5V548.5M2022.4 543.5V548.5" stroke="#2a2a2a" stroke-width="2.4" fill="none"/>
<text x="1592.8" y="98.6" font-size="36.19" font-family='"Liberation Sans", Arial, sans-serif' font-weight="bold" fill="#000" textLength="177.1" lengthAdjust="spacingAndGlyphs" >iGal-8KO</text>
<path d="M1609.3 317.7 L1609.3 210.4 L1803.5 210.4 L1803.5 262.9 L1738.7 317.7 Z" fill="none" stroke="#000" stroke-width="2.4" stroke-linejoin="round"/>
<path d="M1609.3 317.7 L1740.2 317.7 L1740.2 492.5 L1609.3 492.5 Z" fill="none" stroke="#000" stroke-width="2.4" stroke-linejoin="round"/>
<path d="M1738.7 317.7 L1853.7 220.4 L1956.8 220.4 L1955.4 490.5 L1740.2 491.6 Z" fill="none" stroke="#000" stroke-width="2.4" stroke-linejoin="round"/>
<text x="1633.7" y="199.2" font-size="38.52" font-family='"Liberation Sans", Arial, sans-serif' font-weight="bold" fill="#000" textLength="58.9" lengthAdjust="spacingAndGlyphs" >MZ</text>
<text x="1880.4" y="194.4" font-size="35.45" font-family='"Liberation Sans", Arial, sans-serif' font-weight="bold" fill="#000" textLength="54.2" lengthAdjust="spacingAndGlyphs" >FO</text>
<text x="1619.1" y="246.1" font-size="27.36" font-family='"Liberation Sans", Arial, sans-serif' font-weight="bold" fill="#000" textLength="52.7" lengthAdjust="spacingAndGlyphs" >1.73</text>
<text x="1886.5" y="256.7" font-size="30.09" font-family='"Liberation Sans", Arial, sans-serif' font-weight="bold" fill="#000" textLength="28.2" lengthAdjust="spacingAndGlyphs" >71</text>
<text x="1616.9" y="489.3" font-size="27.68" font-family='"Liberation Sans", Arial, sans-serif' font-weight="bold" fill="#000" textLength="51.8" lengthAdjust="spacingAndGlyphs" >24.5</text>
<text x="1613.0" y="526.0" font-size="33.43" font-family='"Liberation Sans", Arial, sans-serif' font-weight="bold" fill="#000" textLength="41.1" lengthAdjust="spacingAndGlyphs" >T1</text>
<rect x="101.6" y="1348.6" width="440.6" height="412.7" fill="none" stroke="#3a3a3a" stroke-width="2.2"/>
<path d="M89.6 1388H101.6M89.6 1483.1H101.6M89.6 1595.8H101.6M96.6 1454.5H101.6M96.6 1437.8H101.6M96.6 1425.9H101.6M96.6 1416.6H101.6M96.6 1409.1H101.6M96.6 1402.7H101.6M96.6 1397.2H101.6M96.6 1392.4H101.6M96.6 1561.9H101.6M96.6 1542.1H101.6M96.6 1528H101.6M96.6 1517.1H101.6M96.6 1508.1H101.6M96.6 1500.6H101.6M96.6 1494.1H101.6M96.6 1488.3H101.6M89.6 1662.9H101.6M89.6 1667.4H101.6M89.6 1671.9H101.6M89.6 1676.4H101.6M89.6 1741.1H101.6M96.6 1612.7H101.6M96.6 1627.2H101.6M96.6 1637.5H101.6M96.6 1645.7H101.6M96.6 1651.9H101.6M96.6 1657.3H101.6M96.6 1662.3H101.6M96.6 1678.8H101.6M96.6 1685H101.6M96.6 1691.1H101.6M96.6 1699.4H101.6M96.6 1707.6H101.6M96.6 1720H101.6M96.6 1732.4H101.6M96.6 1358.5H101.6M277.8 1761.3V1772.3M397.2 1761.3V1772.3M498.6 1761.3V1772.3M313.8 1761.3V1766.3M334.8 1761.3V1766.3M349.7 1761.3V1766.3M361.3 1761.3V1766.3M370.8 1761.3V1766.3M378.7 1761.3V1766.3M385.7 1761.3V1766.3M391.8 1761.3V1766.3M427.7 1761.3V1766.3M445.6 1761.3V1766.3M458.3 1761.3V1766.3M468.1 1761.3V1766.3M476.1 1761.3V1766.3M482.9 1761.3V1766.3M488.8 1761.3V1766.3M493.9 1761.3V1766.3M121 1761.3V1772.3M188.4 1761.3V1770.3M192.6 1761.3V1770.3M196.8 1761.3V1770.3M201 1761.3V1770.3M205.2 1761.3V1770.3M127 1761.3V1766.3M134.2 1761.3V1766.3M141.3 1761.3V1766.3M148.5 1761.3V1766.3M155.7 1761.3V1766.3M162.9 1761.3V1766.3M170 1761.3V1766.3M177.2 1761.3V1766.3M184.4 1761.3V1766.3M211.2 1761.3V1766.3M218.9 1761.3V1766.3M226.6 1761.3V1766.3M234.3 1761.3V1766.3M242 1761.3V1766.3M249.7 1761.3V1766.3M257.4 1761.3V1766.3M265.1 1761.3V1766.3M272.8 1761.3V1766.3M531.2 1761.3V1766.3" stroke="#2a2a2a" stroke-width="2.4" fill="none"/>
<text x="120.6" y="1321.0" font-size="40.70" font-family='"Liberation Sans", Arial, sans-serif' font-weight="bold" fill="#000" textLength="65.6" lengthAdjust="spacingAndGlyphs" >WT</text>
<path d="M304.8 1452.7 L500 1447 L500 1639.7 L372 1645.4 Z" fill="none" stroke="#000" stroke-width="2.4" stroke-linejoin="round"/>
<text x="427.0" y="1437.2" font-size="34.60" font-family='"Liberation Sans", Arial, sans-serif' font-weight="bold" fill="#000" textLength="58.0" lengthAdjust="spacingAndGlyphs" >GC</text>
<text x="411.6" y="1676.8" font-size="24.44" font-family='"Liberation Sans", Arial, sans-serif' font-weight="bold" fill="#000" textLength="52.4" lengthAdjust="spacingAndGlyphs" >0.47</text>
<rect x="597.7" y="1350" width="441.3" height="412.7" fill="none" stroke="#3a3a3a" stroke-width="2.2"/>
<path d="M585.7 1389.4H597.7M585.7 1484.5H597.7M585.7 1597.2H597.7M592.7 1455.9H597.7M592.7 1439.2H597.7M592.7 1427.3H597.7M592.7 1418H597.7M592.7 1410.5H597.7M592.7 1404.1H597.7M592.7 1398.6H597.7M592.7 1393.8H597.7M592.7 1563.3H597.7M592.7 1543.5H597.7M592.7 1529.4H597.7M592.7 1518.5H597.7M592.7 1509.5H597.7M592.7 1502H597.7M592.7 1495.5H597.7M592.7 1489.7H597.7M585.7 1664.3H597.7M585.7 1668.8H597.7M585.7 1673.3H597.7M585.7 1677.8H597.7M585.7 1742.5H597.7M592.7 1614.1H597.7M592.7 1628.6H597.7M592.7 1638.9H597.7M592.7 1647.1H597.7M592.7 1653.3H597.7M592.7 1658.7H597.7M592.7 1663.7H597.7M592.7 1680.2H597.7M592.7 1686.4H597.7M592.7 1692.5H597.7M592.7 1700.8H597.7M592.7 1709H597.7M592.7 1721.4H597.7M592.7 1733.8H597.7M592.7 1359.9H597.7M774.2 1762.7V1773.7M893.8 1762.7V1773.7M995.3 1762.7V1773.7M810.2 1762.7V1767.7M831.3 1762.7V1767.7M846.2 1762.7V1767.7M857.8 1762.7V1767.7M867.3 1762.7V1767.7M875.3 1762.7V1767.7M882.2 1762.7V1767.7M888.3 1762.7V1767.7M924.4 1762.7V1767.7M942.2 1762.7V1767.7M954.9 1762.7V1767.7M964.8 1762.7V1767.7M972.8 1762.7V1767.7M979.6 1762.7V1767.7M985.5 1762.7V1767.7M990.7 1762.7V1767.7M617.1 1762.7V1773.7M684.6 1762.7V1771.7M688.8 1762.7V1771.7M693 1762.7V1771.7M697.2 1762.7V1771.7M701.4 1762.7V1771.7M623.1 1762.7V1767.7M630.3 1762.7V1767.7M637.5 1762.7V1767.7M644.7 1762.7V1767.7M651.9 1762.7V1767.7M659.1 1762.7V1767.7M666.3 1762.7V1767.7M673.4 1762.7V1767.7M680.6 1762.7V1767.7M707.4 1762.7V1767.7M715.2 1762.7V1767.7M722.9 1762.7V1767.7M730.6 1762.7V1767.7M738.3 1762.7V1767.7M746.1 1762.7V1767.7M753.8 1762.7V1767.7M761.5 1762.7V1767.7M769.2 1762.7V1767.7M1028 1762.7V1767.7" stroke="#2a2a2a" stroke-width="2.4" fill="none"/>
<text x="613.0" y="1323.4" font-size="36.55" font-family='"Liberation Sans", Arial, sans-serif' font-weight="bold" fill="#000" textLength="78.6" lengthAdjust="spacingAndGlyphs" >iWT</text>
<path d="M800.3 1454 L996.3 1448.7 L996.3 1641.8 L869 1646.8 Z" fill="none" stroke="#000" stroke-width="2.4" stroke-linejoin="round"/>
<text x="924.0" y="1436.5" font-size="35.45" font-family='"Liberation Sans", Arial, sans-serif' font-weight="bold" fill="#000" textLength="58.0" lengthAdjust="spacingAndGlyphs" >GC</text>
<text x="910.4" y="1678.4" font-size="22.88" font-family='"Liberation Sans", Arial, sans-serif' font-weight="bold" fill="#000" textLength="53.0" lengthAdjust="spacingAndGlyphs" >4.46</text>
<rect x="1093" y="1352" width="441" height="414.2" fill="none" stroke="#3a3a3a" stroke-width="2.2"/>
<path d="M1081 1391.6H1093M1081 1487H1093M1081 1600.1H1093M1088 1458.3H1093M1088 1441.5H1093M1088 1429.5H1093M1088 1420.3H1093M1088 1412.7H1093M1088 1406.3H1093M1088 1400.8H1093M1088 1395.9H1093M1088 1566.1H1093M1088 1546.2H1093M1088 1532H1093M1088 1521.1H1093M1088 1512.1H1093M1088 1504.5H1093M1088 1498H1093M1088 1492.2H1093M1081 1667.5H1093M1081 1672H1093M1081 1676.5H1093M1081 1681H1093M1081 1745.9H1093M1088 1617.1H1093M1088 1631.6H1093M1088 1641.9H1093M1088 1650.2H1093M1088 1656.4H1093M1088 1661.8H1093M1088 1666.8H1093M1088 1683.4H1093M1088 1689.6H1093M1088 1695.8H1093M1088 1704.1H1093M1088 1712.4H1093M1088 1724.8H1093M1088 1737.2H1093M1088 1361.9H1093M1269.4 1766.2V1777.2M1388.9 1766.2V1777.2M1490.3 1766.2V1777.2M1305.4 1766.2V1771.2M1326.4 1766.2V1771.2M1341.4 1766.2V1771.2M1352.9 1766.2V1771.2M1362.4 1766.2V1771.2M1370.4 1766.2V1771.2M1377.3 1766.2V1771.2M1383.4 1766.2V1771.2M1419.4 1766.2V1771.2M1437.3 1766.2V1771.2M1450 1766.2V1771.2M1459.8 1766.2V1771.2M1467.8 1766.2V1771.2M1474.6 1766.2V1771.2M1480.5 1766.2V1771.2M1485.7 1766.2V1771.2M1112.4 1766.2V1777.2M1179.9 1766.2V1775.2M1184.1 1766.2V1775.2M1188.3 1766.2V1775.2M1192.5 1766.2V1775.2M1196.7 1766.2V1775.2M1118.4 1766.2V1771.2M1125.6 1766.2V1771.2M1132.8 1766.2V1771.2M1140 1766.2V1771.2M1147.1 1766.2V1771.2M1154.3 1766.2V1771.2M1161.5 1766.2V1771.2M1168.7 1766.2V1771.2M1175.9 1766.2V1771.2M1202.7 1766.2V1771.2M1210.4 1766.2V1771.2M1218.1 1766.2V1771.2M1225.8 1766.2V1771.2M1233.5 1766.2V1771.2M1241.3 1766.2V1771.2M1249 1766.2V1771.2M1256.7 1766.2V1771.2M1264.4 1766.2V1771.2M1523 1766.2V1771.2" stroke="#2a2a2a" stroke-width="2.4" fill="none"/>
<text x="1104.0" y="1322.2" font-size="33.74" font-family='"Liberation Sans", Arial, sans-serif' font-weight="bold" fill="#000" textLength="164.1" lengthAdjust="spacingAndGlyphs" >Gal-8KO</text>
<path d="M1294.4 1455.2 L1491 1450.7 L1491 1643.3 L1363.7 1649.2 Z" fill="none" stroke="#000" stroke-width="2.4" stroke-linejoin="round"/>
<text x="1418.7" y="1436.6" font-size="33.33" font-family='"Liberation Sans", Arial, sans-serif' font-weight="bold" fill="#000" textLength="58.0" lengthAdjust="spacingAndGlyphs" >GC</text>
<text x="1403.9" y="1685.8" font-size="25.00" font-family='"Liberation Sans", Arial, sans-serif' font-weight="bold" fill="#000" textLength="53.5" lengthAdjust="spacingAndGlyphs" >0.46</text>
<rect x="1588.3" y="1350.8" width="442.2" height="413.2" fill="none" stroke="#3a3a3a" stroke-width="2.2"/>
<path d="M1576.3 1390.3H1588.3M1576.3 1485.5H1588.3M1576.3 1598.3H1588.3M1583.3 1456.8H1588.3M1583.3 1440.1H1588.3M1583.3 1428.2H1588.3M1583.3 1418.9H1588.3M1583.3 1411.4H1588.3M1583.3 1405H1588.3M1583.3 1399.5H1588.3M1583.3 1394.6H1588.3M1583.3 1564.3H1588.3M1583.3 1544.5H1588.3M1583.3 1530.4H1588.3M1583.3 1519.5H1588.3M1583.3 1510.5H1588.3M1583.3 1503H1588.3M1583.3 1496.4H1588.3M1583.3 1490.7H1588.3M1576.3 1665.5H1588.3M1576.3 1670H1588.3M1576.3 1674.5H1588.3M1576.3 1679H1588.3M1576.3 1743.8H1588.3M1583.3 1615.2H1588.3M1583.3 1629.7H1588.3M1583.3 1640H1588.3M1583.3 1648.3H1588.3M1583.3 1654.5H1588.3M1583.3 1659.9H1588.3M1583.3 1664.8H1588.3M1583.3 1681.4H1588.3M1583.3 1687.6H1588.3M1583.3 1693.8H1588.3M1583.3 1702H1588.3M1583.3 1710.3H1588.3M1583.3 1722.7H1588.3M1583.3 1735.1H1588.3M1583.3 1360.7H1588.3M1765.2 1764V1775M1885 1764V1775M1986.7 1764V1775M1801.3 1764V1769M1822.4 1764V1769M1837.3 1764V1769M1848.9 1764V1769M1858.4 1764V1769M1866.5 1764V1769M1873.4 1764V1769M1879.5 1764V1769M1915.6 1764V1769M1933.5 1764V1769M1946.2 1764V1769M1956.1 1764V1769M1964.2 1764V1769M1971 1764V1769M1976.9 1764V1769M1982.1 1764V1769M1607.8 1764V1775M1675.4 1764V1773M1679.6 1764V1773M1683.8 1764V1773M1688 1764V1773M1692.2 1764V1773M1613.8 1764V1769M1621 1764V1769M1628.2 1764V1769M1635.4 1764V1769M1642.6 1764V1769M1649.8 1764V1769M1657 1764V1769M1664.2 1764V1769M1671.4 1764V1769M1698.2 1764V1769M1706 1764V1769M1713.7 1764V1769M1721.5 1764V1769M1729.2 1764V1769M1736.9 1764V1769M1744.7 1764V1769M1752.4 1764V1769M1760.2 1764V1769M2019.4 1764V1769" stroke="#2a2a2a" stroke-width="2.4" fill="none"/>
<text x="1598.7" y="1321.6" font-size="36.19" font-family='"Liberation Sans", Arial, sans-serif' font-weight="bold" fill="#000" textLength="177.0" lengthAdjust="spacingAndGlyphs" >iGal-8KO</text>
<path d="M1790.9 1454 L1987.2 1448.7 L1987.2 1641.8 L1858.1 1646.8 Z" fill="none" stroke="#000" stroke-width="2.4" stroke-linejoin="round"/>
<text x="1915.4" y="1436.5" font-size="35.45" font-family='"Liberation Sans", Arial, sans-serif' font-weight="bold" fill="#000" textLength="58.1" lengthAdjust="spacingAndGlyphs" >GC</text>
<text x="1890.8" y="1679.8" font-size="22.74" font-family='"Liberation Sans", Arial, sans-serif' font-weight="bold" fill="#000" textLength="53.8" lengthAdjust="spacingAndGlyphs" >7.79</text>
<text transform="translate(36.1,390.5) rotate(-90)" font-size="40.25" font-family='"Liberation Sans", Arial, sans-serif' font-weight="bold" fill="#000" textLength="93.5" lengthAdjust="spacingAndGlyphs">CD21</text>
<line x1="22" y1="163" x2="22" y2="273" stroke="#555" stroke-width="2.4" />
<line x1="22" y1="417" x2="22" y2="522" stroke="#555" stroke-width="2.4" />
<text x="998.6" y="611.0" font-size="37.80" font-family='"Liberation Sans", Arial, sans-serif' font-weight="bold" fill="#000" textLength="103.5" lengthAdjust="spacingAndGlyphs" >CD23</text>
<line x1="121" y1="602" x2="981" y2="602" stroke="#555" stroke-width="2.4" />
<line x1="1129" y1="601.5" x2="1991" y2="601.5" stroke="#555" stroke-width="2.4" />
<text transform="translate(48.8,1591.0) rotate(-90)" font-size="44.77" font-family='"Liberation Sans", Arial, sans-serif' font-weight="bold" fill="#000" textLength="78.9" lengthAdjust="spacingAndGlyphs">FAS</text>
<line x1="38" y1="1383.5" x2="38" y2="1491.4" stroke="#555" stroke-width="2.4" />
<line x1="38" y1="1605.7" x2="38" y2="1734.3" stroke="#555" stroke-width="2.4" />
<text x="1022.5" y="1838.8" font-size="38.70" font-family='"Liberation Sans", Arial, sans-serif' font-weight="bold" fill="#000" textLength="81.5" lengthAdjust="spacingAndGlyphs" >GL7</text>
<line x1="121" y1="1825.5" x2="1006.8" y2="1825.5" stroke="#555" stroke-width="2.4" />
<line x1="1120.9" y1="1825.5" x2="1989.3" y2="1825.5" stroke="#555" stroke-width="2.4" />
<rect x="169.4" y="1049" width="81.8" height="33.5" fill="#ffffff" stroke="#000" stroke-width="3" stroke-linejoin="round"/>
<rect x="291.7" y="913" width="81.3" height="169.5" fill="#d3d3d3" stroke="#000" stroke-width="3" stroke-linejoin="round"/>
<rect x="413.5" y="1063.5" width="82" height="19" fill="#666666" stroke="#000" stroke-width="3" stroke-linejoin="round"/>
<rect x="535.5" y="915.5" width="82" height="167" fill="#333333" stroke="#000" stroke-width="3" stroke-linejoin="round"/>
<line x1="148.7" y1="755.5" x2="148.7" y2="1084" stroke="#000" stroke-width="3.2" />
<line x1="139" y1="1082.5" x2="639" y2="1082.5" stroke="#000" stroke-width="3.2" />
<line x1="138.2" y1="757" x2="148.7" y2="757" stroke="#000" stroke-width="3" />
<text x="109.5" y="765.4" font-size="24.5" font-weight="bold">50</text>
<line x1="138.2" y1="822.1" x2="148.7" y2="822.1" stroke="#000" stroke-width="3" />
<text x="109.5" y="830.5" font-size="24.5" font-weight="bold">40</text>
<line x1="138.2" y1="887.2" x2="148.7" y2="887.2" stroke="#000" stroke-width="3" />
<text x="109.5" y="895.6" font-size="24.5" font-weight="bold">30</text>
<line x1="138.2" y1="952.3" x2="148.7" y2="952.3" stroke="#000" stroke-width="3" />
<text x="109.5" y="960.7" font-size="24.5" font-weight="bold">20</text>
<line x1="138.2" y1="1017.4" x2="148.7" y2="1017.4" stroke="#000" stroke-width="3" />
<text x="109.5" y="1025.8" font-size="24.5" font-weight="bold">10</text>
<line x1="138.2" y1="1082.5" x2="148.7" y2="1082.5" stroke="#000" stroke-width="3" />
<text x="123.2" y="1090.9" font-size="24.5" font-weight="bold">0</text>
<line x1="209.5" y1="1082.5" x2="209.5" y2="1092" stroke="#000" stroke-width="3.5" />
<line x1="331.7" y1="1082.5" x2="331.7" y2="1092" stroke="#000" stroke-width="3.5" />
<line x1="454.4" y1="1082.5" x2="454.4" y2="1092" stroke="#000" stroke-width="3.5" />
<line x1="576.6" y1="1082.5" x2="576.6" y2="1092" stroke="#000" stroke-width="3.5" />
<line x1="209.9" y1="1043.3" x2="209.9" y2="1055.2" stroke="#000" stroke-width="4.2" />
<line x1="189.9" y1="1043.3" x2="229.9" y2="1043.3" stroke="#000" stroke-width="4.2" />
<line x1="189.9" y1="1055.2" x2="229.9" y2="1055.2" stroke="#000" stroke-width="4.2" />
<line x1="331.8" y1="891" x2="331.8" y2="934.4" stroke="#000" stroke-width="4.2" />
<line x1="311.5" y1="891" x2="352.1" y2="891" stroke="#000" stroke-width="4.2" />
<line x1="311.5" y1="934.4" x2="352.1" y2="934.4" stroke="#000" stroke-width="4.2" />
<line x1="454.2" y1="1058.3" x2="454.2" y2="1068.2" stroke="#000" stroke-width="4.2" />
<line x1="434.2" y1="1058.3" x2="474.2" y2="1058.3" stroke="#000" stroke-width="4.2" />
<line x1="434.2" y1="1068.2" x2="474.2" y2="1068.2" stroke="#000" stroke-width="4.2" />
<line x1="576.5" y1="877.2" x2="576.5" y2="953.4" stroke="#000" stroke-width="4.2" />
<line x1="556.3" y1="877.2" x2="596.7" y2="877.2" stroke="#000" stroke-width="4.2" />
<line x1="556.3" y1="953.4" x2="596.7" y2="953.4" stroke="#000" stroke-width="4.2" />
<g fill="#000"><circle cx="191" cy="1043.3" r="6.5"/><circle cx="200.1" cy="1037" r="6.5"/><circle cx="219.9" cy="1037" r="6.5"/><circle cx="210" cy="1063.7" r="6.5"/><circle cx="229.6" cy="1063.7" r="6.5"/><rect x="305.8" y="868.4" width="13" height="13"/><rect x="325.4" y="875.2" width="13" height="13"/><rect x="345" y="875.2" width="13" height="13"/><rect x="325.4" y="933.3" width="13" height="13"/><rect x="325.4" y="979" width="13" height="13"/><path d="M454 1037.3L460.5 1049.6L447.5 1049.6Z"/><path d="M424.9 1063.6L431.4 1075.9L418.4 1075.9Z"/><path d="M444.1 1063.6L450.6 1075.9L437.6 1075.9Z"/><path d="M464 1063.6L470.5 1075.9L457.5 1075.9Z"/><path d="M483.5 1057.1L490 1069.4L477 1069.4Z"/><path d="M576.5 803.4L583 791.1L570 791.1Z"/><path d="M576.5 918.9L583 906.6L570 906.6Z"/><path d="M576.5 965.7L583 953.4L570 953.4Z"/><path d="M576.5 1030.8L583 1018.5L570 1018.5Z"/></g>
<line x1="218.8" y1="765.5" x2="329.9" y2="765.5" stroke="#000" stroke-width="3.2" />
<line x1="218.8" y1="756.4" x2="218.8" y2="775.4" stroke="#000" stroke-width="3.2" />
<line x1="329.9" y1="756.4" x2="329.9" y2="775.4" stroke="#000" stroke-width="3.2" />
<text x="264.2" y="766.7" font-size="33.05" font-family='"Liberation Sans", Arial, sans-serif' font-weight="normal" fill="#000" textLength="22.2" lengthAdjust="spacingAndGlyphs" >**</text>
<line x1="465.4" y1="765.5" x2="576.5" y2="765.5" stroke="#000" stroke-width="3.2" />
<line x1="465.4" y1="756.4" x2="465.4" y2="775.4" stroke="#000" stroke-width="3.2" />
<line x1="576.5" y1="756.4" x2="576.5" y2="775.4" stroke="#000" stroke-width="3.2" />
<text x="513.2" y="767.6" font-size="31.34" font-family='"Liberation Sans", Arial, sans-serif' font-weight="normal" fill="#000" textLength="21.3" lengthAdjust="spacingAndGlyphs" >**</text>
<text transform="translate(88.2,1102.7) rotate(-90)" font-size="34.01" font-family='"Liberation Sans", Arial, sans-serif' font-weight="normal" fill="#000" textLength="375.8" lengthAdjust="spacingAndGlyphs">Transitional B cells (x10⁶)</text>
<text transform="translate(216.3,1112.9) rotate(-45)" text-anchor="end" font-size="24.22" font-weight="bold">WT</text>
<text transform="translate(332.5,1115.3) rotate(-45)" text-anchor="end" font-size="23.55" font-weight="bold">iWT</text>
<text transform="translate(455.2,1115.6) rotate(-45)" text-anchor="end" font-size="24.58" font-weight="bold">Gal-8KO</text>
<text transform="translate(577.7,1115.3) rotate(-45)" text-anchor="end" font-size="24.74" font-weight="bold">iGal-8KO</text>
<rect x="859.3" y="1011.3" width="82.7" height="70" fill="#ffffff" stroke="#000" stroke-width="3" stroke-linejoin="round"/>
<rect x="982.2" y="957.2" width="82.2" height="124.1" fill="#d3d3d3" stroke="#000" stroke-width="3" stroke-linejoin="round"/>
<rect x="1105" y="1037.6" width="82.2" height="43.7" fill="#666666" stroke="#000" stroke-width="3" stroke-linejoin="round"/>
<rect x="1227.7" y="890.2" width="82.3" height="191.1" fill="#333333" stroke="#000" stroke-width="3" stroke-linejoin="round"/>
<line x1="839.5" y1="752.8" x2="839.5" y2="1082.8" stroke="#000" stroke-width="3.2" />
<line x1="829" y1="1081.3" x2="1331" y2="1081.3" stroke="#000" stroke-width="3.2" />
<line x1="829" y1="754.3" x2="839.5" y2="754.3" stroke="#000" stroke-width="3" />
<text x="786.3" y="762.7" font-size="24.5" font-weight="bold">150</text>
<line x1="829" y1="863.3" x2="839.5" y2="863.3" stroke="#000" stroke-width="3" />
<text x="786.3" y="871.7" font-size="24.5" font-weight="bold">100</text>
<line x1="829" y1="972.3" x2="839.5" y2="972.3" stroke="#000" stroke-width="3" />
<text x="799.9" y="980.7" font-size="24.5" font-weight="bold">50</text>
<line x1="829" y1="1081.3" x2="839.5" y2="1081.3" stroke="#000" stroke-width="3" />
<text x="813.6" y="1089.7" font-size="24.5" font-weight="bold">0</text>
<line x1="901.2" y1="1081.3" x2="901.2" y2="1090.8" stroke="#000" stroke-width="3.5" />
<line x1="1023.4" y1="1081.3" x2="1023.4" y2="1090.8" stroke="#000" stroke-width="3.5" />
<line x1="1146.4" y1="1081.3" x2="1146.4" y2="1090.8" stroke="#000" stroke-width="3.5" />
<line x1="1268.3" y1="1081.3" x2="1268.3" y2="1090.8" stroke="#000" stroke-width="3.5" />
<line x1="900.6" y1="1004.5" x2="900.6" y2="1015.8" stroke="#000" stroke-width="4.2" />
<line x1="880.6" y1="1004.5" x2="920.6" y2="1004.5" stroke="#000" stroke-width="4.2" />
<line x1="880.6" y1="1015.8" x2="920.6" y2="1015.8" stroke="#000" stroke-width="4.2" />
<line x1="1023.2" y1="935.6" x2="1023.2" y2="978.7" stroke="#000" stroke-width="4.2" />
<line x1="1003" y1="935.6" x2="1043.4" y2="935.6" stroke="#000" stroke-width="4.2" />
<line x1="1003" y1="978.7" x2="1043.4" y2="978.7" stroke="#000" stroke-width="4.2" />
<line x1="1146.2" y1="1033.4" x2="1146.2" y2="1040.5" stroke="#000" stroke-width="4.2" />
<line x1="1126.2" y1="1033.4" x2="1166.2" y2="1033.4" stroke="#000" stroke-width="4.2" />
<line x1="1126.2" y1="1040.5" x2="1166.2" y2="1040.5" stroke="#000" stroke-width="4.2" />
<line x1="1268.8" y1="852.5" x2="1268.8" y2="927.6" stroke="#000" stroke-width="4.2" />
<line x1="1248.6" y1="852.5" x2="1289" y2="852.5" stroke="#000" stroke-width="4.2" />
<line x1="1248.6" y1="927.6" x2="1289" y2="927.6" stroke="#000" stroke-width="4.2" />
<g fill="#000"><circle cx="890.9" cy="990" r="6.5"/><circle cx="910.8" cy="999.4" r="6.5"/><circle cx="881" cy="1019.2" r="6.5"/><circle cx="900.9" cy="1024.9" r="6.5"/><circle cx="920.1" cy="1022" r="6.5"/><rect x="1006.9" y="910.9" width="13" height="13"/><rect x="1026.5" y="916.6" width="13" height="13"/><rect x="1006.9" y="988" width="13" height="13"/><rect x="1026.5" y="988" width="13" height="13"/><path d="M1116.3 1031.6L1122.8 1043.9L1109.8 1043.9Z"/><path d="M1136.1 1035.3L1142.6 1047.6L1129.6 1047.6Z"/><path d="M1155.4 1035.3L1161.9 1047.6L1148.9 1047.6Z"/><path d="M1175.2 1021.1L1181.7 1033.4L1168.7 1033.4Z"/><path d="M1259.4 804.1L1265.9 791.8L1252.9 791.8Z"/><path d="M1278.7 809.2L1285.2 796.9L1272.2 796.9Z"/><path d="M1268.8 928.8L1275.3 916.5L1262.3 916.5Z"/><path d="M1268.8 956.3L1275.3 944L1262.3 944Z"/><path d="M1268.8 984.1L1275.3 971.8L1262.3 971.8Z"/></g>
<line x1="1151.7" y1="758.4" x2="1266.5" y2="758.4" stroke="#000" stroke-width="3.2" />
<line x1="1151.7" y1="748.5" x2="1151.7" y2="768.3" stroke="#000" stroke-width="3.2" />
<line x1="1266.5" y1="748.5" x2="1266.5" y2="768.3" stroke="#000" stroke-width="3.2" />
<text x="1201.5" y="759.8" font-size="26.78" font-family='"Liberation Sans", Arial, sans-serif' font-weight="normal" fill="#000" textLength="22.9" lengthAdjust="spacingAndGlyphs" >**</text>
<text transform="translate(758.9,1089.1) rotate(-90)" font-size="31.97" font-family='"Liberation Sans", Arial, sans-serif' font-weight="normal" fill="#000" textLength="338.2" lengthAdjust="spacingAndGlyphs">Follicular B cells (x10⁶)</text>
<text transform="translate(906.4,1110.4) rotate(-45)" text-anchor="end" font-size="24.36" font-weight="bold">WT</text>
<text transform="translate(1023.8,1114.1) rotate(-45)" text-anchor="end" font-size="24.46" font-weight="bold">iWT</text>
<text transform="translate(1147.1,1114.5) rotate(-45)" text-anchor="end" font-size="24.71" font-weight="bold">Gal-8 KO</text>
<text transform="translate(1267.8,1114.3) rotate(-45)" text-anchor="end" font-size="24.20" font-weight="bold">iGal<tspan font-weight="normal">-8 KO</tspan></text>
<rect x="1539.5" y="981.5" width="86.3" height="101.3" fill="#ffffff" stroke="#000" stroke-width="3" stroke-linejoin="round"/>
<rect x="1667" y="887.7" width="86.4" height="195.1" fill="#d3d3d3" stroke="#000" stroke-width="3" stroke-linejoin="round"/>
<rect x="1795.4" y="1012.6" width="86.3" height="70.2" fill="#666666" stroke="#000" stroke-width="3" stroke-linejoin="round"/>
<rect x="1923.4" y="983.4" width="85.9" height="99.4" fill="#333333" stroke="#000" stroke-width="3" stroke-linejoin="round"/>
<line x1="1518.9" y1="739.1" x2="1518.9" y2="1084.3" stroke="#000" stroke-width="3.2" />
<line x1="1509.5" y1="1082.8" x2="2031" y2="1082.8" stroke="#000" stroke-width="3.2" />
<line x1="1508.4" y1="740.6" x2="1518.9" y2="740.6" stroke="#000" stroke-width="3" />
<text x="1492.8" y="749" font-size="24.5" font-weight="bold">8</text>
<line x1="1508.4" y1="826.2" x2="1518.9" y2="826.2" stroke="#000" stroke-width="3" />
<text x="1492.9" y="834.6" font-size="24.5" font-weight="bold">6</text>
<line x1="1508.4" y1="911.7" x2="1518.9" y2="911.7" stroke="#000" stroke-width="3" />
<text x="1492.2" y="920.1" font-size="24.5" font-weight="bold">4</text>
<line x1="1508.4" y1="997.3" x2="1518.9" y2="997.3" stroke="#000" stroke-width="3" />
<text x="1493" y="1005.9" font-size="24.5" font-weight="bold">2</text>
<line x1="1508.4" y1="1082.8" x2="1518.9" y2="1082.8" stroke="#000" stroke-width="3" />
<text x="1493.1" y="1091.2" font-size="24.5" font-weight="bold">0</text>
<line x1="1582.6" y1="1082.8" x2="1582.6" y2="1092.3" stroke="#000" stroke-width="3.5" />
<line x1="1710.2" y1="1082.8" x2="1710.2" y2="1092.3" stroke="#000" stroke-width="3.5" />
<line x1="1837.8" y1="1082.8" x2="1837.8" y2="1092.3" stroke="#000" stroke-width="3.5" />
<line x1="1966.2" y1="1082.8" x2="1966.2" y2="1092.3" stroke="#000" stroke-width="3.5" />
<line x1="1582.6" y1="965.7" x2="1582.6" y2="996.5" stroke="#000" stroke-width="4.2" />
<line x1="1561.9" y1="965.7" x2="1603.3" y2="965.7" stroke="#000" stroke-width="4.2" />
<line x1="1561.9" y1="996.5" x2="1603.3" y2="996.5" stroke="#000" stroke-width="4.2" />
<line x1="1710.2" y1="859.5" x2="1710.2" y2="915.8" stroke="#000" stroke-width="4.2" />
<line x1="1689.5" y1="859.5" x2="1730.9" y2="859.5" stroke="#000" stroke-width="4.2" />
<line x1="1689.5" y1="915.8" x2="1730.9" y2="915.8" stroke="#000" stroke-width="4.2" />
<line x1="1838.6" y1="994.6" x2="1838.6" y2="1029.5" stroke="#000" stroke-width="4.2" />
<line x1="1817.9" y1="994.6" x2="1859.3" y2="994.6" stroke="#000" stroke-width="4.2" />
<line x1="1817.9" y1="1029.5" x2="1859.3" y2="1029.5" stroke="#000" stroke-width="4.2" />
<line x1="1966.2" y1="959" x2="1966.2" y2="1007" stroke="#000" stroke-width="4.2" />
<line x1="1945.5" y1="959" x2="1986.9" y2="959" stroke="#000" stroke-width="4.2" />
<line x1="1945.5" y1="1007" x2="1986.9" y2="1007" stroke="#000" stroke-width="4.2" />
<g fill="#000"><circle cx="1582.6" cy="937.6" r="6.5"/><circle cx="1593.2" cy="967.2" r="6.5"/><circle cx="1572.1" cy="974.7" r="6.5"/><circle cx="1582.6" cy="1001.4" r="6.5"/><circle cx="1582.6" cy="1027.7" r="6.5"/><rect x="1703.7" y="812.9" width="13" height="13"/><rect x="1703.7" y="859.8" width="13" height="13"/><rect x="1713.9" y="919.5" width="13" height="13"/><rect x="1693.2" y="936.3" width="13" height="13"/><path d="M1838.6 934.6L1845.1 946.9L1832.1 946.9Z"/><path d="M1806.7 1018.4L1813.2 1030.7L1800.2 1030.7Z"/><path d="M1869.7 1017.3L1876.2 1029.6L1863.2 1029.6Z"/><path d="M1848.4 1024.8L1854.9 1037.1L1841.9 1037.1Z"/><path d="M1827.7 1034.1L1834.2 1046.4L1821.2 1046.4Z"/><path d="M1966.2 914.6L1972.7 902.3L1959.7 902.3Z"/><path d="M1966.2 960.8L1972.7 948.5L1959.7 948.5Z"/><path d="M1966.2 990L1972.7 977.7L1959.7 977.7Z"/><path d="M1956 1041.4L1962.5 1029.1L1949.5 1029.1Z"/><path d="M1976.7 1039.6L1983.2 1027.3L1970.2 1027.3Z"/></g>
<line x1="1711" y1="744.3" x2="1964.3" y2="744.3" stroke="#000" stroke-width="3.2" />
<line x1="1711" y1="735.7" x2="1711" y2="754.5" stroke="#000" stroke-width="3.2" />
<line x1="1964.3" y1="735.7" x2="1964.3" y2="754.5" stroke="#000" stroke-width="3.2" />
<text x="1836.6" y="748.6" font-size="31.34" font-family='"Liberation Sans", Arial, sans-serif' font-weight="normal" fill="#000" textLength="10.9" lengthAdjust="spacingAndGlyphs" >*</text>
<text transform="translate(1461.3,1126.7) rotate(-90)" font-size="32.15" font-family='"Liberation Sans", Arial, sans-serif' font-weight="normal" fill="#000" textLength="417.5" lengthAdjust="spacingAndGlyphs">Marginal zone B cells (x10⁶)</text>
<text transform="translate(1587.9,1114.2) rotate(-45)" text-anchor="end" font-size="24.19" font-weight="bold">WT</text>
<text transform="translate(1711.6,1117.1) rotate(-45)" text-anchor="end" font-size="24.15" font-weight="bold">iWT</text>
<text transform="translate(1839.8,1117.2) rotate(-45)" text-anchor="end" font-size="25.61" font-weight="bold">Gal-8 KO</text>
<text transform="translate(1966.3,1117.1) rotate(-45)" text-anchor="end" font-size="25.30" font-weight="bold">iGal-8 KO</text>
<rect x="576" y="2308.3" width="82.4" height="4.1" fill="#ffffff" stroke="#000" stroke-width="3" stroke-linejoin="round"/>
<rect x="699.2" y="2216" width="83.3" height="96.4" fill="#d3d3d3" stroke="#000" stroke-width="3" stroke-linejoin="round"/>
<rect x="822.7" y="2311" width="83.3" height="1.4" fill="#666666" stroke="#000" stroke-width="3" stroke-linejoin="round"/>
<rect x="946.8" y="2144.7" width="83.7" height="167.7" fill="#333333" stroke="#000" stroke-width="3" stroke-linejoin="round"/>
<line x1="555.6" y1="1980.3" x2="555.6" y2="2313.9" stroke="#000" stroke-width="3.2" />
<line x1="547" y1="2312.4" x2="1051" y2="2312.4" stroke="#000" stroke-width="3.2" />
<line x1="545.1" y1="1981.8" x2="555.6" y2="1981.8" stroke="#000" stroke-width="3" />
<text x="517.1" y="1990.1" font-size="24.5" font-weight="bold">15</text>
<line x1="545.1" y1="2092" x2="555.6" y2="2092" stroke="#000" stroke-width="3" />
<text x="517.4" y="2100.4" font-size="24.5" font-weight="bold">10</text>
<line x1="545.1" y1="2202.2" x2="555.6" y2="2202.2" stroke="#000" stroke-width="3" />
<text x="530.7" y="2210.5" font-size="24.5" font-weight="bold">5</text>
<line x1="545.1" y1="2312.4" x2="555.6" y2="2312.4" stroke="#000" stroke-width="3" />
<text x="531.1" y="2320.8" font-size="24.5" font-weight="bold">0</text>
<line x1="616.9" y1="2312.4" x2="616.9" y2="2321.9" stroke="#000" stroke-width="3.5" />
<line x1="741" y1="2312.4" x2="741" y2="2321.9" stroke="#000" stroke-width="3.5" />
<line x1="863.5" y1="2312.4" x2="863.5" y2="2321.9" stroke="#000" stroke-width="3.5" />
<line x1="988.3" y1="2312.4" x2="988.3" y2="2321.9" stroke="#000" stroke-width="3.5" />
<line x1="617" y1="2306" x2="617" y2="2310" stroke="#000" stroke-width="4.2" />
<line x1="596.6" y1="2306" x2="637.4" y2="2306" stroke="#000" stroke-width="4.2" />
<line x1="596.6" y1="2310" x2="637.4" y2="2310" stroke="#000" stroke-width="4.2" />
<line x1="741" y1="2198.4" x2="741" y2="2233.1" stroke="#000" stroke-width="4.2" />
<line x1="720.6" y1="2198.4" x2="761.4" y2="2198.4" stroke="#000" stroke-width="4.2" />
<line x1="720.6" y1="2233.1" x2="761.4" y2="2233.1" stroke="#000" stroke-width="4.2" />
<line x1="863.5" y1="2309" x2="863.5" y2="2312" stroke="#000" stroke-width="4.2" />
<line x1="843.1" y1="2309" x2="883.9" y2="2309" stroke="#000" stroke-width="4.2" />
<line x1="843.1" y1="2312" x2="883.9" y2="2312" stroke="#000" stroke-width="4.2" />
<line x1="988.3" y1="2119.2" x2="988.3" y2="2170.2" stroke="#000" stroke-width="4.2" />
<line x1="967.9" y1="2119.2" x2="1008.7" y2="2119.2" stroke="#000" stroke-width="4.2" />
<line x1="967.9" y1="2170.2" x2="1008.7" y2="2170.2" stroke="#000" stroke-width="4.2" />
<g fill="#000"><circle cx="586.9" cy="2309" r="6.5"/><circle cx="606.7" cy="2311.4" r="6.5"/><circle cx="626.4" cy="2310.7" r="6.5"/><circle cx="646.8" cy="2303.9" r="6.5"/><rect x="724.3" y="2172.5" width="13" height="13"/><rect x="744" y="2179" width="13" height="13"/><rect x="734.5" y="2200.5" width="13" height="13"/><rect x="734.5" y="2230" width="13" height="13"/><rect x="734.5" y="2266.8" width="13" height="13"/><path d="M832.9 2298.9L839.4 2311.2L826.4 2311.2Z"/><path d="M848.2 2305.6L854.7 2317.9L841.7 2317.9Z"/><path d="M863.5 2307.4L870 2319.7L857 2319.7Z"/><path d="M880.5 2305.6L887 2317.9L874 2317.9Z"/><path d="M897.5 2305L904 2317.3L891 2317.3Z"/><path d="M988.3 2068.1L994.8 2055.8L981.8 2055.8Z"/><path d="M988.3 2122.5L994.8 2110.2L981.8 2110.2Z"/><path d="M988.3 2163.3L994.8 2151L981.8 2151Z"/><path d="M997.8 2190.5L1004.3 2178.2L991.3 2178.2Z"/><path d="M978.1 2209.2L984.6 2196.9L971.6 2196.9Z"/></g>
<line x1="606.7" y1="2032.4" x2="748.5" y2="2032.4" stroke="#000" stroke-width="3.2" />
<line x1="606.7" y1="2022.6" x2="606.7" y2="2042" stroke="#000" stroke-width="3.2" />
<line x1="748.5" y1="2022.6" x2="748.5" y2="2042" stroke="#000" stroke-width="3.2" />
<text x="664.0" y="2037.7" font-size="25.93" font-family='"Liberation Sans", Arial, sans-serif' font-weight="normal" fill="#000" textLength="23.0" lengthAdjust="spacingAndGlyphs" >**</text>
<line x1="746.8" y1="1995.4" x2="990" y2="1995.4" stroke="#000" stroke-width="3.2" />
<line x1="746.8" y1="1985.9" x2="746.8" y2="2005.6" stroke="#000" stroke-width="3.2" />
<line x1="990" y1="1985.9" x2="990" y2="2005.6" stroke="#000" stroke-width="3.2" />
<text x="871.6" y="1995.9" font-size="24.50" font-family='"Liberation Sans", Arial, sans-serif' font-weight="normal" fill="#000" textLength="9.2" lengthAdjust="spacingAndGlyphs" >*</text>
<line x1="877" y1="2032.4" x2="990" y2="2032.4" stroke="#000" stroke-width="3.2" />
<line x1="877" y1="2022.6" x2="877" y2="2042" stroke="#000" stroke-width="3.2" />
<line x1="990" y1="2022.6" x2="990" y2="2042" stroke="#000" stroke-width="3.2" />
<text x="915.0" y="2037.6" font-size="28.49" font-family='"Liberation Sans", Arial, sans-serif' font-weight="normal" fill="#000" textLength="45.8" lengthAdjust="spacingAndGlyphs" >****</text>
<text transform="translate(502.9,2377.0) rotate(-90)" font-size="32.94" font-family='"Liberation Sans", Arial, sans-serif' font-weight="normal" fill="#000" textLength="451.0" lengthAdjust="spacingAndGlyphs">Germinal Center B cells (x10⁶)</text>
<text transform="translate(622.7,2341.9) rotate(-45)" text-anchor="end" font-size="24.74" font-weight="bold">WT</text>
<text transform="translate(742.5,2346.8) rotate(-45)" text-anchor="end" font-size="24.87" font-weight="bold">iWT</text>
<text transform="translate(865.8,2347) rotate(-45)" text-anchor="end" font-size="24.88" font-weight="bold">Gal-8 KO</text>
<text transform="translate(989.1,2347) rotate(-45)" text-anchor="end" font-size="24.65" font-weight="bold">iGal-8 KO</text>
<rect x="1288" y="2300.9" width="82.8" height="13.4" fill="#ffffff" stroke="#000" stroke-width="3" stroke-linejoin="round"/>
<rect x="1410.3" y="2231.9" width="82.4" height="82.4" fill="#d3d3d3" stroke="#000" stroke-width="3" stroke-linejoin="round"/>
<rect x="1532.6" y="2297.2" width="82" height="17.1" fill="#666666" stroke="#000" stroke-width="3" stroke-linejoin="round"/>
<rect x="1654.5" y="2144.8" width="82.4" height="169.5" fill="#333333" stroke="#000" stroke-width="3" stroke-linejoin="round"/>
<line x1="1268.8" y1="1987.3" x2="1268.8" y2="2315.8" stroke="#000" stroke-width="3.2" />
<line x1="1258" y1="2314.3" x2="1756.8" y2="2314.3" stroke="#000" stroke-width="3.2" />
<line x1="1258.3" y1="1988.8" x2="1268.8" y2="1988.8" stroke="#000" stroke-width="3" />
<text x="1231.7" y="1997.2" font-size="24.5" font-weight="bold">20</text>
<line x1="1258.3" y1="2070.2" x2="1268.8" y2="2070.2" stroke="#000" stroke-width="3" />
<text x="1231.4" y="2078.5" font-size="24.5" font-weight="bold">15</text>
<line x1="1258.3" y1="2151.6" x2="1268.8" y2="2151.6" stroke="#000" stroke-width="3" />
<text x="1231.7" y="2160" font-size="24.5" font-weight="bold">10</text>
<line x1="1258.3" y1="2233" x2="1268.8" y2="2233" stroke="#000" stroke-width="3" />
<text x="1245" y="2241.3" font-size="24.5" font-weight="bold">5</text>
<line x1="1258.3" y1="2314.3" x2="1268.8" y2="2314.3" stroke="#000" stroke-width="3" />
<text x="1245.4" y="2322.7" font-size="24.5" font-weight="bold">0</text>
<line x1="1329.4" y1="2314.3" x2="1329.4" y2="2323.8" stroke="#000" stroke-width="3.5" />
<line x1="1451.3" y1="2314.3" x2="1451.3" y2="2323.8" stroke="#000" stroke-width="3.5" />
<line x1="1573.6" y1="2314.3" x2="1573.6" y2="2323.8" stroke="#000" stroke-width="3.5" />
<line x1="1695.9" y1="2314.3" x2="1695.9" y2="2323.8" stroke="#000" stroke-width="3.5" />
<line x1="1329.4" y1="2298" x2="1329.4" y2="2303" stroke="#000" stroke-width="4.2" />
<line x1="1308.6" y1="2298" x2="1350.2" y2="2298" stroke="#000" stroke-width="4.2" />
<line x1="1308.6" y1="2303" x2="1350.2" y2="2303" stroke="#000" stroke-width="4.2" />
<line x1="1451.3" y1="2217.4" x2="1451.3" y2="2245.3" stroke="#000" stroke-width="4.2" />
<line x1="1430.5" y1="2217.4" x2="1472.1" y2="2217.4" stroke="#000" stroke-width="4.2" />
<line x1="1430.5" y1="2245.3" x2="1472.1" y2="2245.3" stroke="#000" stroke-width="4.2" />
<line x1="1573.6" y1="2293" x2="1573.6" y2="2300" stroke="#000" stroke-width="4.2" />
<line x1="1552.8" y1="2293" x2="1594.4" y2="2293" stroke="#000" stroke-width="4.2" />
<line x1="1552.8" y1="2300" x2="1594.4" y2="2300" stroke="#000" stroke-width="4.2" />
<line x1="1695.9" y1="2114" x2="1695.9" y2="2175.7" stroke="#000" stroke-width="4.2" />
<line x1="1675.1" y1="2114" x2="1716.7" y2="2114" stroke="#000" stroke-width="4.2" />
<line x1="1675.1" y1="2175.7" x2="1716.7" y2="2175.7" stroke="#000" stroke-width="4.2" />
<g fill="#000"><circle cx="1299.7" cy="2299" r="6.5"/><circle cx="1318.5" cy="2303.4" r="6.5"/><circle cx="1338.8" cy="2302.7" r="6.5"/><circle cx="1358.4" cy="2298.3" r="6.5"/><rect x="1434.7" y="2181.9" width="13" height="13"/><rect x="1454.6" y="2201.8" width="13" height="13"/><rect x="1424.9" y="2244.6" width="13" height="13"/><rect x="1444.8" y="2249.7" width="13" height="13"/><rect x="1464.4" y="2247.2" width="13" height="13"/><path d="M1573.6 2277.1L1580.1 2289.4L1567.1 2289.4Z"/><path d="M1543.9 2293.5L1550.4 2305.8L1537.4 2305.8Z"/><path d="M1562.7 2297.1L1569.2 2309.4L1556.2 2309.4Z"/><path d="M1582.7 2294.6L1589.2 2306.9L1576.2 2306.9Z"/><path d="M1602.6 2290.9L1609.1 2303.2L1596.1 2303.2Z"/><path d="M1695.2 2059.7L1701.7 2047.4L1688.7 2047.4Z"/><path d="M1686.1 2171.5L1692.6 2159.2L1679.6 2159.2Z"/><path d="M1704.2 2175.1L1710.7 2162.8L1697.7 2162.8Z"/><path d="M1695.2 2195.8L1701.7 2183.5L1688.7 2183.5Z"/></g>
<line x1="1333.4" y1="2078.4" x2="1451.3" y2="2078.4" stroke="#000" stroke-width="3.2" />
<line x1="1333.4" y1="2065" x2="1333.4" y2="2092.2" stroke="#000" stroke-width="3.2" />
<line x1="1451.3" y1="2065" x2="1451.3" y2="2092.2" stroke="#000" stroke-width="3.2" />
<text x="1386.2" y="2078.0" font-size="27.92" font-family='"Liberation Sans", Arial, sans-serif' font-weight="normal" fill="#000" textLength="11.1" lengthAdjust="spacingAndGlyphs" >*</text>
<line x1="1455.7" y1="1966.3" x2="1697" y2="1966.3" stroke="#000" stroke-width="3.2" />
<line x1="1455.7" y1="1952.5" x2="1455.7" y2="1980.5" stroke="#000" stroke-width="3.2" />
<line x1="1697" y1="1952.5" x2="1697" y2="1980.5" stroke="#000" stroke-width="3.2" />
<text x="1569.6" y="1966.0" font-size="32.76" font-family='"Liberation Sans", Arial, sans-serif' font-weight="normal" fill="#000" textLength="21.9" lengthAdjust="spacingAndGlyphs" >**</text>
<line x1="1580.9" y1="2018.6" x2="1697" y2="2018.6" stroke="#000" stroke-width="3.2" />
<line x1="1580.9" y1="2004.4" x2="1580.9" y2="2032.4" stroke="#000" stroke-width="3.2" />
<line x1="1697" y1="2004.4" x2="1697" y2="2032.4" stroke="#000" stroke-width="3.2" />
<text x="1618.5" y="2019.3" font-size="25.93" font-family='"Liberation Sans", Arial, sans-serif' font-weight="normal" fill="#000" textLength="44.4" lengthAdjust="spacingAndGlyphs" >****</text>
<text transform="translate(1200.8,2373.5) rotate(-90)" font-size="31.40" font-family='"Liberation Sans", Arial, sans-serif' font-weight="normal" fill="#000" textLength="446.5" lengthAdjust="spacingAndGlyphs">Antibody-secreting cells (x10⁶)</text>
<text transform="translate(1335.2,2341.9) rotate(-45)" text-anchor="end" font-size="24.74" font-weight="bold">WT</text>
<text transform="translate(1452.5,2346.6) rotate(-45)" text-anchor="end" font-size="24.46" font-weight="bold">iWT</text>
<text transform="translate(1574.4,2347) rotate(-45)" text-anchor="end" font-size="24.67" font-weight="bold">Gal-8KO</text>
<text transform="translate(1696.7,2346.9) rotate(-45)" text-anchor="end" font-size="24.61" font-weight="bold">iGal-8KO</text>
</svg></body></html>
